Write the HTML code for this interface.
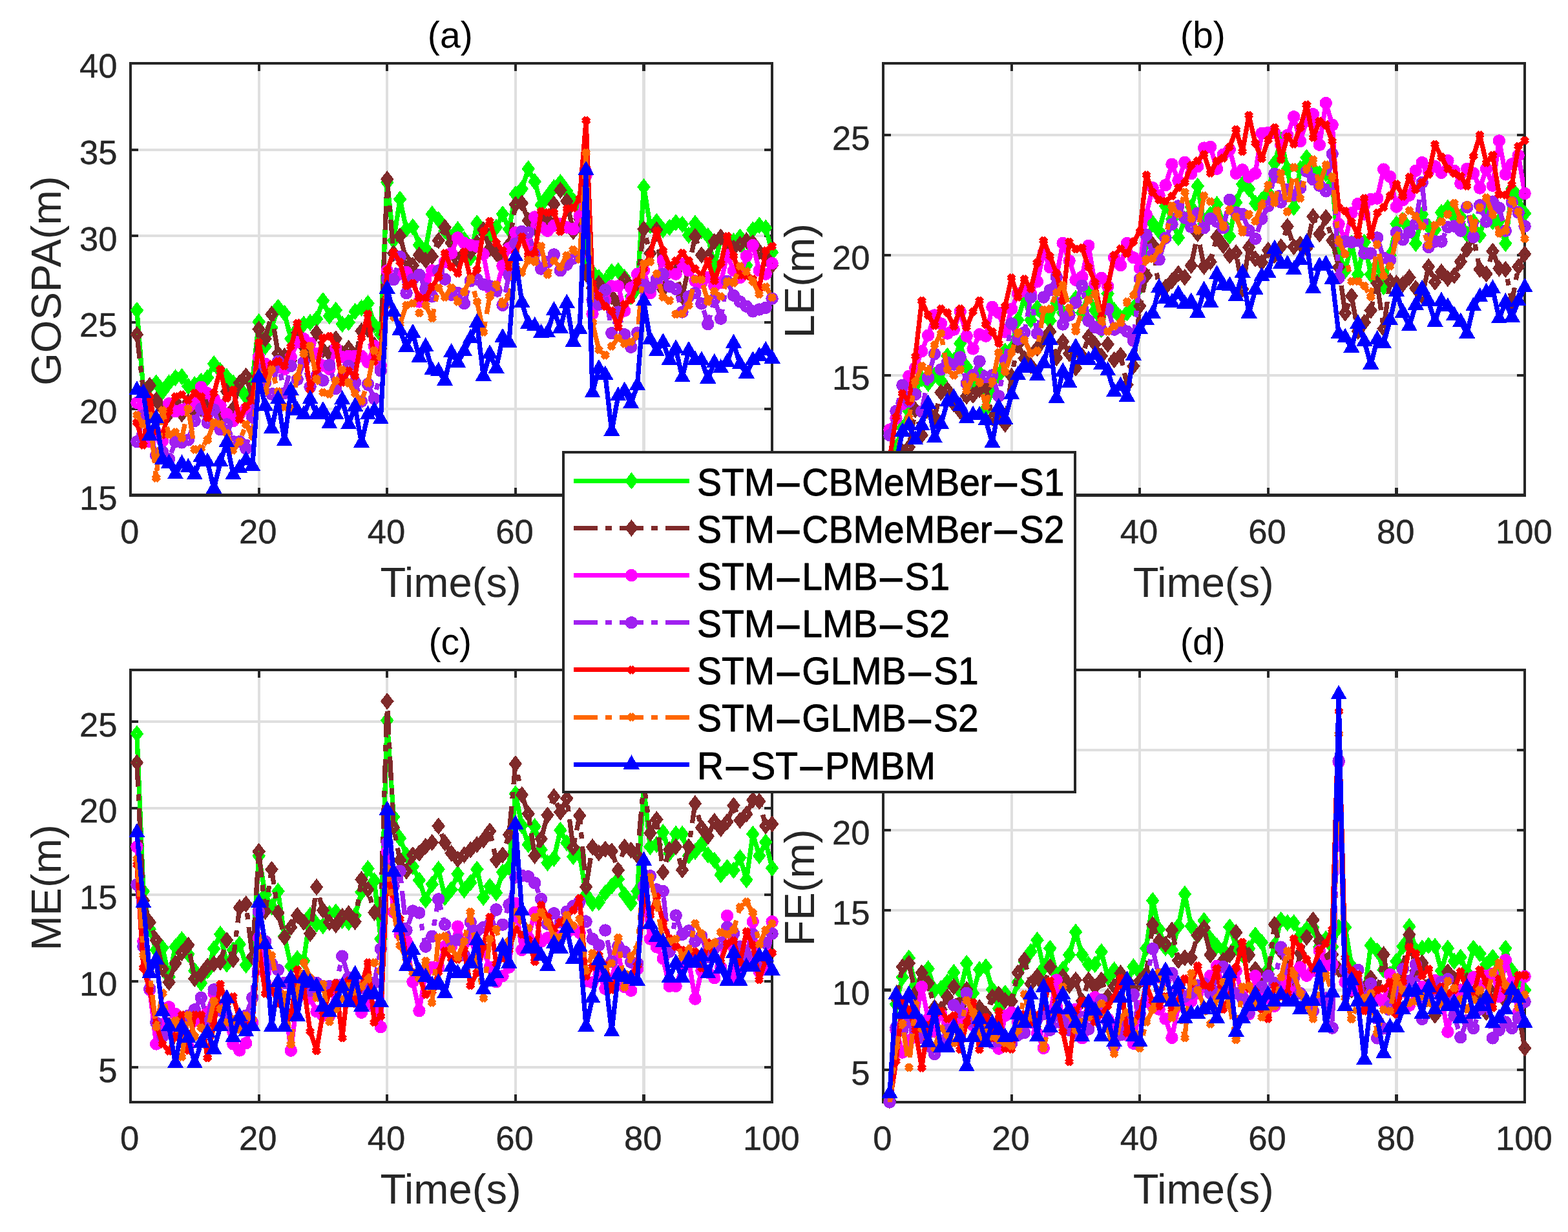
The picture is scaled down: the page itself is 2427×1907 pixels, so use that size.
<!DOCTYPE html>
<html lang="en">
<head>
<meta charset="utf-8">
<title>Tracking error comparison</title>
<style>html,body{margin:0;padding:0;background:#fff}body{width:2427px;height:1907px;overflow:hidden}svg{display:block}</style>
</head>
<body>
<svg width="2427" height="1907" viewBox="0 0 2427 1907" font-family='"Liberation Sans", sans-serif' shape-rendering="crispEdges">
<rect width="2427" height="1907" fill="#fff"/>
<defs>
<clipPath id="ca"><rect x="202" y="97.9" width="993.1" height="668.6"/></clipPath>
<clipPath id="cb"><rect x="1367.1" y="97.9" width="993" height="668.6"/></clipPath>
<clipPath id="cc"><rect x="202" y="1037.1" width="993.1" height="668.8"/></clipPath>
<clipPath id="cd"><rect x="1367.1" y="1037.1" width="993" height="668.8"/></clipPath>
</defs>
<g id="ax-a">
<path d="M400.6 97.9V766.5M599.2 97.9V766.5M797.9 97.9V766.5M996.5 97.9V766.5M202 632.8H1195.1M202 499.1H1195.1M202 365.3H1195.1M202 231.6H1195.1" stroke="#dfdfdf" stroke-width="4.1" fill="none"/>
<path d="M400.6 766.5v-12M400.6 97.9v12M599.2 766.5v-12M599.2 97.9v12M797.9 766.5v-12M797.9 97.9v12M996.5 766.5v-12M996.5 97.9v12M202 632.8h12M1195.1 632.8h-12M202 499.1h12M1195.1 499.1h-12M202 365.3h12M1195.1 365.3h-12M202 231.6h12M1195.1 231.6h-12" stroke="#262626" stroke-width="4.1" fill="none"/>
<rect x="202" y="97.9" width="993.1" height="668.6" fill="none" stroke="#262626" stroke-width="4.1"/>
<g fill="#262626" font-size="52.6" stroke="#262626" stroke-width="0.4">
<g text-anchor="middle">
<text x="200.7" y="841">0</text>
<text x="399.3" y="841">20</text>
<text x="597.9" y="841">40</text>
<text x="796.6" y="841">60</text>
<text x="995.2" y="841">80</text>
<text x="1193.8" y="841">100</text>
</g><g text-anchor="end">
<text x="181.5" y="788.8">15</text>
<text x="181.5" y="655.1">20</text>
<text x="181.5" y="521.4">25</text>
<text x="181.5" y="387.6">30</text>
<text x="181.5" y="253.9">35</text>
<text x="181.5" y="120.2">40</text>
</g></g>
<text x="697.6" y="923.8" font-size="65.1" fill="#262626" text-anchor="middle">Time(s)</text>
<text transform="translate(94.4 434.7) rotate(-90)" font-size="65.1" fill="#262626" text-anchor="middle">GOSPA(m)</text>
<text x="696.8" y="73.6" font-size="57.2" fill="#000" text-anchor="middle">(a)</text>
<path clip-path="url(#ca)" d="M211.9 480.3L221.9 603.4L231.8 598L241.7 592.7L251.7 606L261.6 592.7L271.5 584.6L281.4 583L291.4 598L301.3 595.3L311.2 590L321.2 584.6L331.1 563.2L341 573.9L351 583L360.9 592.7L370.8 600.7L380.8 614.1L390.7 590L400.6 498.3L410.6 536.5L420.5 507.1L430.4 475.8L440.3 484.9L450.3 524.5L460.2 509.8L470.1 501.7L480.1 499.1L490 493.7L499.9 465.4L509.9 489.2L519.8 480.1L529.7 501.7L539.7 499.1L549.6 482.2L559.5 476.6L569.4 469.6L579.4 503.3L589.3 517.8L599.2 282.4L609.2 372.3L619.1 308.4L629 354.6L639 351.2L648.9 379.2L658.8 384.9L668.8 331.4L678.7 339.9L688.6 357.3L698.5 368L708.5 355.4L718.4 370.7L728.3 399L738.3 345.5L748.2 360L758.1 365.3L768.1 352L778 331.4L787.9 354.6L797.9 300.6L807.8 292.3L817.7 261.3L827.7 281.1L837.6 317.2L847.5 303.8L857.4 290.5L867.4 282.4L877.3 295.8L887.2 310.5L897.2 322.5L907.1 400.1L917 421.5L927 429.5L936.9 434.9L946.8 420.7L956.8 419.4L966.7 429.5L976.6 458.9L986.5 445.6L996.5 289.4L1006.4 349.3L1016.3 343.1L1026.3 355.7L1036.2 352L1046.1 344.5L1056.1 347.2L1066 364L1075.9 345.8L1085.9 357.3L1095.8 365.3L1105.7 413.5L1115.7 368L1125.6 376L1135.5 373.4L1145.4 366.9L1155.4 410.8L1165.3 355.7L1175.2 348.8L1185.2 352.8L1195.1 390.7" fill="none" stroke="#00ff00" stroke-width="7.3" stroke-linejoin="round"/>
<path d="M211.93 467.04l10.3 13.3l-10.3 13.3l-10.3 -13.3zM211.93 479.29l-0.8 1.05l0.8 1.05l0.8 -1.05zM221.86 590.06l10.3 13.3l-10.3 13.3l-10.3 -13.3zM221.86 602.31l-0.8 1.05l0.8 1.05l0.8 -1.05zM231.79 584.71l10.3 13.3l-10.3 13.3l-10.3 -13.3zM231.79 596.96l-0.8 1.05l0.8 1.05l0.8 -1.05zM241.72 579.36l10.3 13.3l-10.3 13.3l-10.3 -13.3zM241.72 591.61l-0.8 1.05l0.8 1.05l0.8 -1.05zM251.66 592.74l10.3 13.3l-10.3 13.3l-10.3 -13.3zM251.66 604.99l-0.8 1.05l0.8 1.05l0.8 -1.05zM261.59 579.36l10.3 13.3l-10.3 13.3l-10.3 -13.3zM261.59 591.61l-0.8 1.05l0.8 1.05l0.8 -1.05zM271.52 571.34l10.3 13.3l-10.3 13.3l-10.3 -13.3zM271.52 583.59l-0.8 1.05l0.8 1.05l0.8 -1.05zM281.45 569.74l10.3 13.3l-10.3 13.3l-10.3 -13.3zM281.45 581.99l-0.8 1.05l0.8 1.05l0.8 -1.05zM291.38 584.71l10.3 13.3l-10.3 13.3l-10.3 -13.3zM291.38 596.96l-0.8 1.05l0.8 1.05l0.8 -1.05zM301.31 582.04l10.3 13.3l-10.3 13.3l-10.3 -13.3zM301.31 594.29l-0.8 1.05l0.8 1.05l0.8 -1.05zM311.24 576.69l10.3 13.3l-10.3 13.3l-10.3 -13.3zM311.24 588.94l-0.8 1.05l0.8 1.05l0.8 -1.05zM321.17 571.34l10.3 13.3l-10.3 13.3l-10.3 -13.3zM321.17 583.59l-0.8 1.05l0.8 1.05l0.8 -1.05zM331.1 549.95l10.3 13.3l-10.3 13.3l-10.3 -13.3zM331.1 562.2l-0.8 1.05l0.8 1.05l0.8 -1.05zM341.03 560.64l10.3 13.3l-10.3 13.3l-10.3 -13.3zM341.03 572.89l-0.8 1.05l0.8 1.05l0.8 -1.05zM350.96 569.74l10.3 13.3l-10.3 13.3l-10.3 -13.3zM350.96 581.99l-0.8 1.05l0.8 1.05l0.8 -1.05zM360.9 579.36l10.3 13.3l-10.3 13.3l-10.3 -13.3zM360.9 591.61l-0.8 1.05l0.8 1.05l0.8 -1.05zM370.83 587.39l10.3 13.3l-10.3 13.3l-10.3 -13.3zM370.83 599.64l-0.8 1.05l0.8 1.05l0.8 -1.05zM380.76 600.76l10.3 13.3l-10.3 13.3l-10.3 -13.3zM380.76 613.01l-0.8 1.05l0.8 1.05l0.8 -1.05zM390.69 576.69l10.3 13.3l-10.3 13.3l-10.3 -13.3zM390.69 588.94l-0.8 1.05l0.8 1.05l0.8 -1.05zM400.62 484.96l10.3 13.3l-10.3 13.3l-10.3 -13.3zM400.62 497.21l-0.8 1.05l0.8 1.05l0.8 -1.05zM410.55 523.2l10.3 13.3l-10.3 13.3l-10.3 -13.3zM410.55 535.45l-0.8 1.05l0.8 1.05l0.8 -1.05zM420.48 493.78l10.3 13.3l-10.3 13.3l-10.3 -13.3zM420.48 506.03l-0.8 1.05l0.8 1.05l0.8 -1.05zM430.41 462.49l10.3 13.3l-10.3 13.3l-10.3 -13.3zM430.41 474.74l-0.8 1.05l0.8 1.05l0.8 -1.05zM440.34 471.59l10.3 13.3l-10.3 13.3l-10.3 -13.3zM440.34 483.84l-0.8 1.05l0.8 1.05l0.8 -1.05zM450.27 511.17l10.3 13.3l-10.3 13.3l-10.3 -13.3zM450.27 523.42l-0.8 1.05l0.8 1.05l0.8 -1.05zM460.21 496.46l10.3 13.3l-10.3 13.3l-10.3 -13.3zM460.21 508.71l-0.8 1.05l0.8 1.05l0.8 -1.05zM470.14 488.43l10.3 13.3l-10.3 13.3l-10.3 -13.3zM470.14 500.68l-0.8 1.05l0.8 1.05l0.8 -1.05zM480.07 485.76l10.3 13.3l-10.3 13.3l-10.3 -13.3zM480.07 498.01l-0.8 1.05l0.8 1.05l0.8 -1.05zM490 480.41l10.3 13.3l-10.3 13.3l-10.3 -13.3zM490 492.66l-0.8 1.05l0.8 1.05l0.8 -1.05zM499.93 452.06l10.3 13.3l-10.3 13.3l-10.3 -13.3zM499.93 464.31l-0.8 1.05l0.8 1.05l0.8 -1.05zM509.86 475.86l10.3 13.3l-10.3 13.3l-10.3 -13.3zM509.86 488.11l-0.8 1.05l0.8 1.05l0.8 -1.05zM519.79 466.77l10.3 13.3l-10.3 13.3l-10.3 -13.3zM519.79 479.02l-0.8 1.05l0.8 1.05l0.8 -1.05zM529.72 488.43l10.3 13.3l-10.3 13.3l-10.3 -13.3zM529.72 500.68l-0.8 1.05l0.8 1.05l0.8 -1.05zM539.65 485.76l10.3 13.3l-10.3 13.3l-10.3 -13.3zM539.65 498.01l-0.8 1.05l0.8 1.05l0.8 -1.05zM549.59 468.91l10.3 13.3l-10.3 13.3l-10.3 -13.3zM549.59 481.16l-0.8 1.05l0.8 1.05l0.8 -1.05zM559.52 463.3l10.3 13.3l-10.3 13.3l-10.3 -13.3zM559.52 475.55l-0.8 1.05l0.8 1.05l0.8 -1.05zM569.45 456.34l10.3 13.3l-10.3 13.3l-10.3 -13.3zM569.45 468.59l-0.8 1.05l0.8 1.05l0.8 -1.05zM579.38 490.04l10.3 13.3l-10.3 13.3l-10.3 -13.3zM579.38 502.29l-0.8 1.05l0.8 1.05l0.8 -1.05zM589.31 504.48l10.3 13.3l-10.3 13.3l-10.3 -13.3zM589.31 516.73l-0.8 1.05l0.8 1.05l0.8 -1.05zM599.24 269.13l10.3 13.3l-10.3 13.3l-10.3 -13.3zM599.24 281.38l-0.8 1.05l0.8 1.05l0.8 -1.05zM609.17 358.99l10.3 13.3l-10.3 13.3l-10.3 -13.3zM609.17 371.24l-0.8 1.05l0.8 1.05l0.8 -1.05zM619.1 295.08l10.3 13.3l-10.3 13.3l-10.3 -13.3zM619.1 307.33l-0.8 1.05l0.8 1.05l0.8 -1.05zM629.03 341.34l10.3 13.3l-10.3 13.3l-10.3 -13.3zM629.03 353.59l-0.8 1.05l0.8 1.05l0.8 -1.05zM638.96 337.87l10.3 13.3l-10.3 13.3l-10.3 -13.3zM638.96 350.12l-0.8 1.05l0.8 1.05l0.8 -1.05zM648.89 365.95l10.3 13.3l-10.3 13.3l-10.3 -13.3zM648.89 378.2l-0.8 1.05l0.8 1.05l0.8 -1.05zM658.83 371.56l10.3 13.3l-10.3 13.3l-10.3 -13.3zM658.83 383.81l-0.8 1.05l0.8 1.05l0.8 -1.05zM668.76 318.08l10.3 13.3l-10.3 13.3l-10.3 -13.3zM668.76 330.33l-0.8 1.05l0.8 1.05l0.8 -1.05zM678.69 326.63l10.3 13.3l-10.3 13.3l-10.3 -13.3zM678.69 338.88l-0.8 1.05l0.8 1.05l0.8 -1.05zM688.62 344.02l10.3 13.3l-10.3 13.3l-10.3 -13.3zM688.62 356.27l-0.8 1.05l0.8 1.05l0.8 -1.05zM698.55 354.71l10.3 13.3l-10.3 13.3l-10.3 -13.3zM698.55 366.96l-0.8 1.05l0.8 1.05l0.8 -1.05zM708.48 342.14l10.3 13.3l-10.3 13.3l-10.3 -13.3zM708.48 354.39l-0.8 1.05l0.8 1.05l0.8 -1.05zM718.41 357.39l10.3 13.3l-10.3 13.3l-10.3 -13.3zM718.41 369.64l-0.8 1.05l0.8 1.05l0.8 -1.05zM728.34 385.74l10.3 13.3l-10.3 13.3l-10.3 -13.3zM728.34 397.99l-0.8 1.05l0.8 1.05l0.8 -1.05zM738.27 332.25l10.3 13.3l-10.3 13.3l-10.3 -13.3zM738.27 344.5l-0.8 1.05l0.8 1.05l0.8 -1.05zM748.2 346.69l10.3 13.3l-10.3 13.3l-10.3 -13.3zM748.2 358.94l-0.8 1.05l0.8 1.05l0.8 -1.05zM758.14 352.04l10.3 13.3l-10.3 13.3l-10.3 -13.3zM758.14 364.29l-0.8 1.05l0.8 1.05l0.8 -1.05zM768.07 338.67l10.3 13.3l-10.3 13.3l-10.3 -13.3zM768.07 350.92l-0.8 1.05l0.8 1.05l0.8 -1.05zM778 318.08l10.3 13.3l-10.3 13.3l-10.3 -13.3zM778 330.33l-0.8 1.05l0.8 1.05l0.8 -1.05zM787.93 341.34l10.3 13.3l-10.3 13.3l-10.3 -13.3zM787.93 353.59l-0.8 1.05l0.8 1.05l0.8 -1.05zM797.86 287.32l10.3 13.3l-10.3 13.3l-10.3 -13.3zM797.86 299.57l-0.8 1.05l0.8 1.05l0.8 -1.05zM807.79 279.03l10.3 13.3l-10.3 13.3l-10.3 -13.3zM807.79 291.28l-0.8 1.05l0.8 1.05l0.8 -1.05zM817.72 248.01l10.3 13.3l-10.3 13.3l-10.3 -13.3zM817.72 260.26l-0.8 1.05l0.8 1.05l0.8 -1.05zM827.65 267.8l10.3 13.3l-10.3 13.3l-10.3 -13.3zM827.65 280.05l-0.8 1.05l0.8 1.05l0.8 -1.05zM837.58 303.9l10.3 13.3l-10.3 13.3l-10.3 -13.3zM837.58 316.15l-0.8 1.05l0.8 1.05l0.8 -1.05zM847.51 290.53l10.3 13.3l-10.3 13.3l-10.3 -13.3zM847.51 302.78l-0.8 1.05l0.8 1.05l0.8 -1.05zM857.45 277.16l10.3 13.3l-10.3 13.3l-10.3 -13.3zM857.45 289.41l-0.8 1.05l0.8 1.05l0.8 -1.05zM867.38 269.13l10.3 13.3l-10.3 13.3l-10.3 -13.3zM867.38 281.38l-0.8 1.05l0.8 1.05l0.8 -1.05zM877.31 282.51l10.3 13.3l-10.3 13.3l-10.3 -13.3zM877.31 294.76l-0.8 1.05l0.8 1.05l0.8 -1.05zM887.24 297.21l10.3 13.3l-10.3 13.3l-10.3 -13.3zM887.24 309.46l-0.8 1.05l0.8 1.05l0.8 -1.05zM897.17 309.25l10.3 13.3l-10.3 13.3l-10.3 -13.3zM897.17 321.5l-0.8 1.05l0.8 1.05l0.8 -1.05zM907.1 386.81l10.3 13.3l-10.3 13.3l-10.3 -13.3zM907.1 399.06l-0.8 1.05l0.8 1.05l0.8 -1.05zM917.03 408.2l10.3 13.3l-10.3 13.3l-10.3 -13.3zM917.03 420.45l-0.8 1.05l0.8 1.05l0.8 -1.05zM926.96 416.23l10.3 13.3l-10.3 13.3l-10.3 -13.3zM926.96 428.48l-0.8 1.05l0.8 1.05l0.8 -1.05zM936.89 421.57l10.3 13.3l-10.3 13.3l-10.3 -13.3zM936.89 433.82l-0.8 1.05l0.8 1.05l0.8 -1.05zM946.83 407.4l10.3 13.3l-10.3 13.3l-10.3 -13.3zM946.83 419.65l-0.8 1.05l0.8 1.05l0.8 -1.05zM956.76 406.06l10.3 13.3l-10.3 13.3l-10.3 -13.3zM956.76 418.31l-0.8 1.05l0.8 1.05l0.8 -1.05zM966.69 416.23l10.3 13.3l-10.3 13.3l-10.3 -13.3zM966.69 428.48l-0.8 1.05l0.8 1.05l0.8 -1.05zM976.62 445.64l10.3 13.3l-10.3 13.3l-10.3 -13.3zM976.62 457.89l-0.8 1.05l0.8 1.05l0.8 -1.05zM986.55 432.27l10.3 13.3l-10.3 13.3l-10.3 -13.3zM986.55 444.52l-0.8 1.05l0.8 1.05l0.8 -1.05zM996.48 276.09l10.3 13.3l-10.3 13.3l-10.3 -13.3zM996.48 288.34l-0.8 1.05l0.8 1.05l0.8 -1.05zM1006.41 335.99l10.3 13.3l-10.3 13.3l-10.3 -13.3zM1006.41 348.24l-0.8 1.05l0.8 1.05l0.8 -1.05zM1016.34 329.84l10.3 13.3l-10.3 13.3l-10.3 -13.3zM1016.34 342.09l-0.8 1.05l0.8 1.05l0.8 -1.05zM1026.27 342.41l10.3 13.3l-10.3 13.3l-10.3 -13.3zM1026.27 354.66l-0.8 1.05l0.8 1.05l0.8 -1.05zM1036.2 338.67l10.3 13.3l-10.3 13.3l-10.3 -13.3zM1036.2 350.92l-0.8 1.05l0.8 1.05l0.8 -1.05zM1046.13 331.18l10.3 13.3l-10.3 13.3l-10.3 -13.3zM1046.13 343.43l-0.8 1.05l0.8 1.05l0.8 -1.05zM1056.07 333.85l10.3 13.3l-10.3 13.3l-10.3 -13.3zM1056.07 346.1l-0.8 1.05l0.8 1.05l0.8 -1.05zM1066 350.7l10.3 13.3l-10.3 13.3l-10.3 -13.3zM1066 362.95l-0.8 1.05l0.8 1.05l0.8 -1.05zM1075.93 332.52l10.3 13.3l-10.3 13.3l-10.3 -13.3zM1075.93 344.77l-0.8 1.05l0.8 1.05l0.8 -1.05zM1085.86 344.02l10.3 13.3l-10.3 13.3l-10.3 -13.3zM1085.86 356.27l-0.8 1.05l0.8 1.05l0.8 -1.05zM1095.79 352.04l10.3 13.3l-10.3 13.3l-10.3 -13.3zM1095.79 364.29l-0.8 1.05l0.8 1.05l0.8 -1.05zM1105.72 400.18l10.3 13.3l-10.3 13.3l-10.3 -13.3zM1105.72 412.43l-0.8 1.05l0.8 1.05l0.8 -1.05zM1115.65 354.71l10.3 13.3l-10.3 13.3l-10.3 -13.3zM1115.65 366.96l-0.8 1.05l0.8 1.05l0.8 -1.05zM1125.58 362.74l10.3 13.3l-10.3 13.3l-10.3 -13.3zM1125.58 374.99l-0.8 1.05l0.8 1.05l0.8 -1.05zM1135.51 360.06l10.3 13.3l-10.3 13.3l-10.3 -13.3zM1135.51 372.31l-0.8 1.05l0.8 1.05l0.8 -1.05zM1145.44 353.64l10.3 13.3l-10.3 13.3l-10.3 -13.3zM1145.44 365.89l-0.8 1.05l0.8 1.05l0.8 -1.05zM1155.38 397.5l10.3 13.3l-10.3 13.3l-10.3 -13.3zM1155.38 409.75l-0.8 1.05l0.8 1.05l0.8 -1.05zM1165.31 342.41l10.3 13.3l-10.3 13.3l-10.3 -13.3zM1165.31 354.66l-0.8 1.05l0.8 1.05l0.8 -1.05zM1175.24 335.46l10.3 13.3l-10.3 13.3l-10.3 -13.3zM1175.24 347.71l-0.8 1.05l0.8 1.05l0.8 -1.05zM1185.17 339.47l10.3 13.3l-10.3 13.3l-10.3 -13.3zM1185.17 351.72l-0.8 1.05l0.8 1.05l0.8 -1.05zM1195.1 377.45l10.3 13.3l-10.3 13.3l-10.3 -13.3zM1195.1 389.7l-0.8 1.05l0.8 1.05l0.8 -1.05z" fill="#00ff00" fill-rule="nonzero"/>
<path clip-path="url(#ca)" d="M211.9 517.8L221.9 606L231.8 596.7L241.7 619.4L251.7 632.8L261.6 640.8L271.5 622.1L281.4 640.8L291.4 622.1L301.3 638.1L311.2 632.8L321.2 624.8L331.1 627.4L341 643.5L351 606L360.9 632.8L370.8 592.7L380.8 582L390.7 616.7L400.6 509.5L410.6 524.5L420.5 486.5L430.4 547.2L440.3 551.2L450.3 557.9L460.2 515.1L470.1 536.5L480.1 547.2L490 515.1L499.9 541.9L509.9 547.2L519.8 524.5L529.7 547.2L539.7 539.2L549.6 552.5L559.5 512.4L569.4 509.8L579.4 533.8L589.3 539.2L599.2 277.4L609.2 392.1L619.1 365.3L629 402.8L639 410.8L648.9 394.8L658.8 402.8L668.8 396.9L678.7 372.3L688.6 352L698.5 376L708.5 402.8L718.4 392.1L728.3 390.5L738.3 376L748.2 355.4L758.1 384.9L768.1 392.1L778 402.8L787.9 378.7L797.9 316.7L807.8 314.5L817.7 341.3L827.7 352L837.6 338.6L847.5 339.9L857.4 316.1L867.4 294.5L877.3 311.3L887.2 358.4L897.2 338.6L907.1 424.2L917 445.6L927 438.9L936.9 456.3L946.8 458.9L956.8 469.6L966.7 432.2L976.6 445.6L986.5 437.5L996.5 354.6L1006.4 392.1L1016.3 355.7L1026.3 448.2L1036.2 418.8L1046.1 420.4L1056.1 458.9L1066 413.5L1075.9 366.1L1085.9 394.8L1095.8 397.4L1105.7 373.9L1115.7 366.9L1125.6 376L1135.5 384.1L1145.4 378.2L1155.4 372.6L1165.3 376L1175.2 389.4L1185.2 397.4L1195.1 410.8" fill="none" stroke="#7f2a2a" stroke-width="7.3" stroke-linejoin="round" stroke-dasharray="37 12 10 12"/>
<path d="M211.93 504.48l10.3 13.3l-10.3 13.3l-10.3 -13.3zM211.93 516.73l-0.8 1.05l0.8 1.05l0.8 -1.05zM221.86 592.74l10.3 13.3l-10.3 13.3l-10.3 -13.3zM221.86 604.99l-0.8 1.05l0.8 1.05l0.8 -1.05zM231.79 583.38l10.3 13.3l-10.3 13.3l-10.3 -13.3zM231.79 595.63l-0.8 1.05l0.8 1.05l0.8 -1.05zM241.72 606.11l10.3 13.3l-10.3 13.3l-10.3 -13.3zM241.72 618.36l-0.8 1.05l0.8 1.05l0.8 -1.05zM251.66 619.48l10.3 13.3l-10.3 13.3l-10.3 -13.3zM251.66 631.73l-0.8 1.05l0.8 1.05l0.8 -1.05zM261.59 627.5l10.3 13.3l-10.3 13.3l-10.3 -13.3zM261.59 639.75l-0.8 1.05l0.8 1.05l0.8 -1.05zM271.52 608.78l10.3 13.3l-10.3 13.3l-10.3 -13.3zM271.52 621.03l-0.8 1.05l0.8 1.05l0.8 -1.05zM281.45 627.5l10.3 13.3l-10.3 13.3l-10.3 -13.3zM281.45 639.75l-0.8 1.05l0.8 1.05l0.8 -1.05zM291.38 608.78l10.3 13.3l-10.3 13.3l-10.3 -13.3zM291.38 621.03l-0.8 1.05l0.8 1.05l0.8 -1.05zM301.31 624.83l10.3 13.3l-10.3 13.3l-10.3 -13.3zM301.31 637.08l-0.8 1.05l0.8 1.05l0.8 -1.05zM311.24 619.48l10.3 13.3l-10.3 13.3l-10.3 -13.3zM311.24 631.73l-0.8 1.05l0.8 1.05l0.8 -1.05zM321.17 611.46l10.3 13.3l-10.3 13.3l-10.3 -13.3zM321.17 623.71l-0.8 1.05l0.8 1.05l0.8 -1.05zM331.1 614.13l10.3 13.3l-10.3 13.3l-10.3 -13.3zM331.1 626.38l-0.8 1.05l0.8 1.05l0.8 -1.05zM341.03 630.18l10.3 13.3l-10.3 13.3l-10.3 -13.3zM341.03 642.43l-0.8 1.05l0.8 1.05l0.8 -1.05zM350.96 592.74l10.3 13.3l-10.3 13.3l-10.3 -13.3zM350.96 604.99l-0.8 1.05l0.8 1.05l0.8 -1.05zM360.9 619.48l10.3 13.3l-10.3 13.3l-10.3 -13.3zM360.9 631.73l-0.8 1.05l0.8 1.05l0.8 -1.05zM370.83 579.36l10.3 13.3l-10.3 13.3l-10.3 -13.3zM370.83 591.61l-0.8 1.05l0.8 1.05l0.8 -1.05zM380.76 568.67l10.3 13.3l-10.3 13.3l-10.3 -13.3zM380.76 580.92l-0.8 1.05l0.8 1.05l0.8 -1.05zM390.69 603.43l10.3 13.3l-10.3 13.3l-10.3 -13.3zM390.69 615.68l-0.8 1.05l0.8 1.05l0.8 -1.05zM400.62 496.19l10.3 13.3l-10.3 13.3l-10.3 -13.3zM400.62 508.44l-0.8 1.05l0.8 1.05l0.8 -1.05zM410.55 511.17l10.3 13.3l-10.3 13.3l-10.3 -13.3zM410.55 523.42l-0.8 1.05l0.8 1.05l0.8 -1.05zM420.48 473.19l10.3 13.3l-10.3 13.3l-10.3 -13.3zM420.48 485.44l-0.8 1.05l0.8 1.05l0.8 -1.05zM430.41 533.9l10.3 13.3l-10.3 13.3l-10.3 -13.3zM430.41 546.15l-0.8 1.05l0.8 1.05l0.8 -1.05zM440.34 537.91l10.3 13.3l-10.3 13.3l-10.3 -13.3zM440.34 550.16l-0.8 1.05l0.8 1.05l0.8 -1.05zM450.27 544.6l10.3 13.3l-10.3 13.3l-10.3 -13.3zM450.27 556.85l-0.8 1.05l0.8 1.05l0.8 -1.05zM460.21 501.81l10.3 13.3l-10.3 13.3l-10.3 -13.3zM460.21 514.06l-0.8 1.05l0.8 1.05l0.8 -1.05zM470.14 523.2l10.3 13.3l-10.3 13.3l-10.3 -13.3zM470.14 535.45l-0.8 1.05l0.8 1.05l0.8 -1.05zM480.07 533.9l10.3 13.3l-10.3 13.3l-10.3 -13.3zM480.07 546.15l-0.8 1.05l0.8 1.05l0.8 -1.05zM490 501.81l10.3 13.3l-10.3 13.3l-10.3 -13.3zM490 514.06l-0.8 1.05l0.8 1.05l0.8 -1.05zM499.93 528.55l10.3 13.3l-10.3 13.3l-10.3 -13.3zM499.93 540.8l-0.8 1.05l0.8 1.05l0.8 -1.05zM509.86 533.9l10.3 13.3l-10.3 13.3l-10.3 -13.3zM509.86 546.15l-0.8 1.05l0.8 1.05l0.8 -1.05zM519.79 511.17l10.3 13.3l-10.3 13.3l-10.3 -13.3zM519.79 523.42l-0.8 1.05l0.8 1.05l0.8 -1.05zM529.72 533.9l10.3 13.3l-10.3 13.3l-10.3 -13.3zM529.72 546.15l-0.8 1.05l0.8 1.05l0.8 -1.05zM539.65 525.88l10.3 13.3l-10.3 13.3l-10.3 -13.3zM539.65 538.13l-0.8 1.05l0.8 1.05l0.8 -1.05zM549.59 539.25l10.3 13.3l-10.3 13.3l-10.3 -13.3zM549.59 551.5l-0.8 1.05l0.8 1.05l0.8 -1.05zM559.52 499.13l10.3 13.3l-10.3 13.3l-10.3 -13.3zM559.52 511.38l-0.8 1.05l0.8 1.05l0.8 -1.05zM569.45 496.46l10.3 13.3l-10.3 13.3l-10.3 -13.3zM569.45 508.71l-0.8 1.05l0.8 1.05l0.8 -1.05zM579.38 520.53l10.3 13.3l-10.3 13.3l-10.3 -13.3zM579.38 532.78l-0.8 1.05l0.8 1.05l0.8 -1.05zM589.31 525.88l10.3 13.3l-10.3 13.3l-10.3 -13.3zM589.31 538.13l-0.8 1.05l0.8 1.05l0.8 -1.05zM599.24 264.05l10.3 13.3l-10.3 13.3l-10.3 -13.3zM599.24 276.3l-0.8 1.05l0.8 1.05l0.8 -1.05zM609.17 378.78l10.3 13.3l-10.3 13.3l-10.3 -13.3zM609.17 391.03l-0.8 1.05l0.8 1.05l0.8 -1.05zM619.1 352.04l10.3 13.3l-10.3 13.3l-10.3 -13.3zM619.1 364.29l-0.8 1.05l0.8 1.05l0.8 -1.05zM629.03 389.48l10.3 13.3l-10.3 13.3l-10.3 -13.3zM629.03 401.73l-0.8 1.05l0.8 1.05l0.8 -1.05zM638.96 397.5l10.3 13.3l-10.3 13.3l-10.3 -13.3zM638.96 409.75l-0.8 1.05l0.8 1.05l0.8 -1.05zM648.89 381.46l10.3 13.3l-10.3 13.3l-10.3 -13.3zM648.89 393.71l-0.8 1.05l0.8 1.05l0.8 -1.05zM658.83 389.48l10.3 13.3l-10.3 13.3l-10.3 -13.3zM658.83 401.73l-0.8 1.05l0.8 1.05l0.8 -1.05zM668.76 383.6l10.3 13.3l-10.3 13.3l-10.3 -13.3zM668.76 395.85l-0.8 1.05l0.8 1.05l0.8 -1.05zM678.69 358.99l10.3 13.3l-10.3 13.3l-10.3 -13.3zM678.69 371.24l-0.8 1.05l0.8 1.05l0.8 -1.05zM688.62 338.67l10.3 13.3l-10.3 13.3l-10.3 -13.3zM688.62 350.92l-0.8 1.05l0.8 1.05l0.8 -1.05zM698.55 362.74l10.3 13.3l-10.3 13.3l-10.3 -13.3zM698.55 374.99l-0.8 1.05l0.8 1.05l0.8 -1.05zM708.48 389.48l10.3 13.3l-10.3 13.3l-10.3 -13.3zM708.48 401.73l-0.8 1.05l0.8 1.05l0.8 -1.05zM718.41 378.78l10.3 13.3l-10.3 13.3l-10.3 -13.3zM718.41 391.03l-0.8 1.05l0.8 1.05l0.8 -1.05zM728.34 377.18l10.3 13.3l-10.3 13.3l-10.3 -13.3zM728.34 389.43l-0.8 1.05l0.8 1.05l0.8 -1.05zM738.27 362.74l10.3 13.3l-10.3 13.3l-10.3 -13.3zM738.27 374.99l-0.8 1.05l0.8 1.05l0.8 -1.05zM748.2 342.14l10.3 13.3l-10.3 13.3l-10.3 -13.3zM748.2 354.39l-0.8 1.05l0.8 1.05l0.8 -1.05zM758.14 371.56l10.3 13.3l-10.3 13.3l-10.3 -13.3zM758.14 383.81l-0.8 1.05l0.8 1.05l0.8 -1.05zM768.07 378.78l10.3 13.3l-10.3 13.3l-10.3 -13.3zM768.07 391.03l-0.8 1.05l0.8 1.05l0.8 -1.05zM778 389.48l10.3 13.3l-10.3 13.3l-10.3 -13.3zM778 401.73l-0.8 1.05l0.8 1.05l0.8 -1.05zM787.93 365.41l10.3 13.3l-10.3 13.3l-10.3 -13.3zM787.93 377.66l-0.8 1.05l0.8 1.05l0.8 -1.05zM797.86 303.37l10.3 13.3l-10.3 13.3l-10.3 -13.3zM797.86 315.62l-0.8 1.05l0.8 1.05l0.8 -1.05zM807.79 301.23l10.3 13.3l-10.3 13.3l-10.3 -13.3zM807.79 313.48l-0.8 1.05l0.8 1.05l0.8 -1.05zM817.72 327.97l10.3 13.3l-10.3 13.3l-10.3 -13.3zM817.72 340.22l-0.8 1.05l0.8 1.05l0.8 -1.05zM827.65 338.67l10.3 13.3l-10.3 13.3l-10.3 -13.3zM827.65 350.92l-0.8 1.05l0.8 1.05l0.8 -1.05zM837.58 325.3l10.3 13.3l-10.3 13.3l-10.3 -13.3zM837.58 337.55l-0.8 1.05l0.8 1.05l0.8 -1.05zM847.51 326.63l10.3 13.3l-10.3 13.3l-10.3 -13.3zM847.51 338.88l-0.8 1.05l0.8 1.05l0.8 -1.05zM857.45 302.83l10.3 13.3l-10.3 13.3l-10.3 -13.3zM857.45 315.08l-0.8 1.05l0.8 1.05l0.8 -1.05zM867.38 281.17l10.3 13.3l-10.3 13.3l-10.3 -13.3zM867.38 293.42l-0.8 1.05l0.8 1.05l0.8 -1.05zM877.31 298.02l10.3 13.3l-10.3 13.3l-10.3 -13.3zM877.31 310.27l-0.8 1.05l0.8 1.05l0.8 -1.05zM887.24 345.09l10.3 13.3l-10.3 13.3l-10.3 -13.3zM887.24 357.34l-0.8 1.05l0.8 1.05l0.8 -1.05zM897.17 325.3l10.3 13.3l-10.3 13.3l-10.3 -13.3zM897.17 337.55l-0.8 1.05l0.8 1.05l0.8 -1.05zM907.1 410.88l10.3 13.3l-10.3 13.3l-10.3 -13.3zM907.1 423.13l-0.8 1.05l0.8 1.05l0.8 -1.05zM917.03 432.27l10.3 13.3l-10.3 13.3l-10.3 -13.3zM917.03 444.52l-0.8 1.05l0.8 1.05l0.8 -1.05zM926.96 425.59l10.3 13.3l-10.3 13.3l-10.3 -13.3zM926.96 437.84l-0.8 1.05l0.8 1.05l0.8 -1.05zM936.89 442.97l10.3 13.3l-10.3 13.3l-10.3 -13.3zM936.89 455.22l-0.8 1.05l0.8 1.05l0.8 -1.05zM946.83 445.64l10.3 13.3l-10.3 13.3l-10.3 -13.3zM946.83 457.89l-0.8 1.05l0.8 1.05l0.8 -1.05zM956.76 456.34l10.3 13.3l-10.3 13.3l-10.3 -13.3zM956.76 468.59l-0.8 1.05l0.8 1.05l0.8 -1.05zM966.69 418.9l10.3 13.3l-10.3 13.3l-10.3 -13.3zM966.69 431.15l-0.8 1.05l0.8 1.05l0.8 -1.05zM976.62 432.27l10.3 13.3l-10.3 13.3l-10.3 -13.3zM976.62 444.52l-0.8 1.05l0.8 1.05l0.8 -1.05zM986.55 424.25l10.3 13.3l-10.3 13.3l-10.3 -13.3zM986.55 436.5l-0.8 1.05l0.8 1.05l0.8 -1.05zM996.48 341.34l10.3 13.3l-10.3 13.3l-10.3 -13.3zM996.48 353.59l-0.8 1.05l0.8 1.05l0.8 -1.05zM1006.41 378.78l10.3 13.3l-10.3 13.3l-10.3 -13.3zM1006.41 391.03l-0.8 1.05l0.8 1.05l0.8 -1.05zM1016.34 342.41l10.3 13.3l-10.3 13.3l-10.3 -13.3zM1016.34 354.66l-0.8 1.05l0.8 1.05l0.8 -1.05zM1026.27 434.95l10.3 13.3l-10.3 13.3l-10.3 -13.3zM1026.27 447.2l-0.8 1.05l0.8 1.05l0.8 -1.05zM1036.2 405.53l10.3 13.3l-10.3 13.3l-10.3 -13.3zM1036.2 417.78l-0.8 1.05l0.8 1.05l0.8 -1.05zM1046.13 407.13l10.3 13.3l-10.3 13.3l-10.3 -13.3zM1046.13 419.38l-0.8 1.05l0.8 1.05l0.8 -1.05zM1056.07 445.64l10.3 13.3l-10.3 13.3l-10.3 -13.3zM1056.07 457.89l-0.8 1.05l0.8 1.05l0.8 -1.05zM1066 400.18l10.3 13.3l-10.3 13.3l-10.3 -13.3zM1066 412.43l-0.8 1.05l0.8 1.05l0.8 -1.05zM1075.93 352.84l10.3 13.3l-10.3 13.3l-10.3 -13.3zM1075.93 365.09l-0.8 1.05l0.8 1.05l0.8 -1.05zM1085.86 381.46l10.3 13.3l-10.3 13.3l-10.3 -13.3zM1085.86 393.71l-0.8 1.05l0.8 1.05l0.8 -1.05zM1095.79 384.13l10.3 13.3l-10.3 13.3l-10.3 -13.3zM1095.79 396.38l-0.8 1.05l0.8 1.05l0.8 -1.05zM1105.72 360.6l10.3 13.3l-10.3 13.3l-10.3 -13.3zM1105.72 372.85l-0.8 1.05l0.8 1.05l0.8 -1.05zM1115.65 353.64l10.3 13.3l-10.3 13.3l-10.3 -13.3zM1115.65 365.89l-0.8 1.05l0.8 1.05l0.8 -1.05zM1125.58 362.74l10.3 13.3l-10.3 13.3l-10.3 -13.3zM1125.58 374.99l-0.8 1.05l0.8 1.05l0.8 -1.05zM1135.51 370.76l10.3 13.3l-10.3 13.3l-10.3 -13.3zM1135.51 383.01l-0.8 1.05l0.8 1.05l0.8 -1.05zM1145.44 364.88l10.3 13.3l-10.3 13.3l-10.3 -13.3zM1145.44 377.13l-0.8 1.05l0.8 1.05l0.8 -1.05zM1155.38 359.26l10.3 13.3l-10.3 13.3l-10.3 -13.3zM1155.38 371.51l-0.8 1.05l0.8 1.05l0.8 -1.05zM1165.31 362.74l10.3 13.3l-10.3 13.3l-10.3 -13.3zM1165.31 374.99l-0.8 1.05l0.8 1.05l0.8 -1.05zM1175.24 376.11l10.3 13.3l-10.3 13.3l-10.3 -13.3zM1175.24 388.36l-0.8 1.05l0.8 1.05l0.8 -1.05zM1185.17 384.13l10.3 13.3l-10.3 13.3l-10.3 -13.3zM1185.17 396.38l-0.8 1.05l0.8 1.05l0.8 -1.05zM1195.1 397.5l10.3 13.3l-10.3 13.3l-10.3 -13.3zM1195.1 409.75l-0.8 1.05l0.8 1.05l0.8 -1.05z" fill="#7f2a2a" fill-rule="nonzero"/>
<path clip-path="url(#ca)" d="M211.9 623.4L221.9 638.1L231.8 683.6L241.7 670.2L251.7 682.3L261.6 624.8L271.5 636.8L281.4 634.1L291.4 630.1L301.3 624.8L311.2 599.4L321.2 608.7L331.1 616.7L341 627.4L351 640.8L360.9 651.5L370.8 640.8L380.8 632.8L390.7 640.8L400.6 552.5L410.6 563.2L420.5 571.3L430.4 568.6L440.3 571.3L450.3 552.5L460.2 529.8L470.1 524.5L480.1 531.2L490 547.2L499.9 565.9L509.9 571.3L519.8 539.2L529.7 552.5L539.7 551.2L549.6 551.2L559.5 551.2L569.4 560.6L579.4 535.7L589.3 565.9L599.2 418.8L609.2 432.2L619.1 424.2L629 421.5L639 432.2L648.9 467L658.8 432.2L668.8 418.8L678.7 418.8L688.6 405.5L698.5 392.1L708.5 368L718.4 376L728.3 379.2L738.3 381.4L748.2 393.4L758.1 445.6L768.1 448.2L778 411.6L787.9 384.1L797.9 360L807.8 365.3L817.7 378.7L827.7 335.9L837.6 352L847.5 357.3L857.4 349.3L867.4 346.6L877.3 352L887.2 354.6L897.2 334.6L907.1 271.7L917 485.7L927 458.9L936.9 464.3L946.8 442.9L956.8 442.9L966.7 481.1L976.6 445.6L986.5 424.2L996.5 418.8L1006.4 453.6L1016.3 437.5L1026.3 402.8L1036.2 421.5L1046.1 424.2L1056.1 408.1L1066 418.8L1075.9 434.9L1085.9 437.5L1095.8 429.5L1105.7 442.9L1115.7 437.5L1125.6 394.8L1135.5 418.8L1145.4 429.5L1155.4 396.4L1165.3 379.5L1175.2 418.8L1185.2 424.2L1195.1 407.6" fill="none" stroke="#ff00ff" stroke-width="7.3" stroke-linejoin="round"/>
<path d="M202.23 623.42a9.7 9.7 0 1 1 19.4 0a9.7 9.7 0 1 1 -19.4 0zM211.23 623.42a0.7 0.7 0 1 0 1.4 0a0.7 0.7 0 1 0 -1.4 0zM212.16 638.13a9.7 9.7 0 1 1 19.4 0a9.7 9.7 0 1 1 -19.4 0zM221.16 638.13a0.7 0.7 0 1 0 1.4 0a0.7 0.7 0 1 0 -1.4 0zM222.09 683.59a9.7 9.7 0 1 1 19.4 0a9.7 9.7 0 1 1 -19.4 0zM231.09 683.59a0.7 0.7 0 1 0 1.4 0a0.7 0.7 0 1 0 -1.4 0zM232.02 670.22a9.7 9.7 0 1 1 19.4 0a9.7 9.7 0 1 1 -19.4 0zM241.02 670.22a0.7 0.7 0 1 0 1.4 0a0.7 0.7 0 1 0 -1.4 0zM241.96 682.26a9.7 9.7 0 1 1 19.4 0a9.7 9.7 0 1 1 -19.4 0zM250.96 682.26a0.7 0.7 0 1 0 1.4 0a0.7 0.7 0 1 0 -1.4 0zM251.89 624.76a9.7 9.7 0 1 1 19.4 0a9.7 9.7 0 1 1 -19.4 0zM260.89 624.76a0.7 0.7 0 1 0 1.4 0a0.7 0.7 0 1 0 -1.4 0zM261.82 636.79a9.7 9.7 0 1 1 19.4 0a9.7 9.7 0 1 1 -19.4 0zM270.82 636.79a0.7 0.7 0 1 0 1.4 0a0.7 0.7 0 1 0 -1.4 0zM271.75 634.12a9.7 9.7 0 1 1 19.4 0a9.7 9.7 0 1 1 -19.4 0zM280.75 634.12a0.7 0.7 0 1 0 1.4 0a0.7 0.7 0 1 0 -1.4 0zM281.68 630.11a9.7 9.7 0 1 1 19.4 0a9.7 9.7 0 1 1 -19.4 0zM290.68 630.11a0.7 0.7 0 1 0 1.4 0a0.7 0.7 0 1 0 -1.4 0zM291.61 624.76a9.7 9.7 0 1 1 19.4 0a9.7 9.7 0 1 1 -19.4 0zM300.61 624.76a0.7 0.7 0 1 0 1.4 0a0.7 0.7 0 1 0 -1.4 0zM301.54 599.35a9.7 9.7 0 1 1 19.4 0a9.7 9.7 0 1 1 -19.4 0zM310.54 599.35a0.7 0.7 0 1 0 1.4 0a0.7 0.7 0 1 0 -1.4 0zM311.47 608.71a9.7 9.7 0 1 1 19.4 0a9.7 9.7 0 1 1 -19.4 0zM320.47 608.71a0.7 0.7 0 1 0 1.4 0a0.7 0.7 0 1 0 -1.4 0zM321.4 616.73a9.7 9.7 0 1 1 19.4 0a9.7 9.7 0 1 1 -19.4 0zM330.4 616.73a0.7 0.7 0 1 0 1.4 0a0.7 0.7 0 1 0 -1.4 0zM331.33 627.43a9.7 9.7 0 1 1 19.4 0a9.7 9.7 0 1 1 -19.4 0zM340.33 627.43a0.7 0.7 0 1 0 1.4 0a0.7 0.7 0 1 0 -1.4 0zM341.26 640.8a9.7 9.7 0 1 1 19.4 0a9.7 9.7 0 1 1 -19.4 0zM350.26 640.8a0.7 0.7 0 1 0 1.4 0a0.7 0.7 0 1 0 -1.4 0zM351.2 651.5a9.7 9.7 0 1 1 19.4 0a9.7 9.7 0 1 1 -19.4 0zM360.2 651.5a0.7 0.7 0 1 0 1.4 0a0.7 0.7 0 1 0 -1.4 0zM361.13 640.8a9.7 9.7 0 1 1 19.4 0a9.7 9.7 0 1 1 -19.4 0zM370.13 640.8a0.7 0.7 0 1 0 1.4 0a0.7 0.7 0 1 0 -1.4 0zM371.06 632.78a9.7 9.7 0 1 1 19.4 0a9.7 9.7 0 1 1 -19.4 0zM380.06 632.78a0.7 0.7 0 1 0 1.4 0a0.7 0.7 0 1 0 -1.4 0zM380.99 640.8a9.7 9.7 0 1 1 19.4 0a9.7 9.7 0 1 1 -19.4 0zM389.99 640.8a0.7 0.7 0 1 0 1.4 0a0.7 0.7 0 1 0 -1.4 0zM390.92 552.55a9.7 9.7 0 1 1 19.4 0a9.7 9.7 0 1 1 -19.4 0zM399.92 552.55a0.7 0.7 0 1 0 1.4 0a0.7 0.7 0 1 0 -1.4 0zM400.85 563.25a9.7 9.7 0 1 1 19.4 0a9.7 9.7 0 1 1 -19.4 0zM409.85 563.25a0.7 0.7 0 1 0 1.4 0a0.7 0.7 0 1 0 -1.4 0zM410.78 571.27a9.7 9.7 0 1 1 19.4 0a9.7 9.7 0 1 1 -19.4 0zM419.78 571.27a0.7 0.7 0 1 0 1.4 0a0.7 0.7 0 1 0 -1.4 0zM420.71 568.59a9.7 9.7 0 1 1 19.4 0a9.7 9.7 0 1 1 -19.4 0zM429.71 568.59a0.7 0.7 0 1 0 1.4 0a0.7 0.7 0 1 0 -1.4 0zM430.64 571.27a9.7 9.7 0 1 1 19.4 0a9.7 9.7 0 1 1 -19.4 0zM439.64 571.27a0.7 0.7 0 1 0 1.4 0a0.7 0.7 0 1 0 -1.4 0zM440.57 552.55a9.7 9.7 0 1 1 19.4 0a9.7 9.7 0 1 1 -19.4 0zM449.57 552.55a0.7 0.7 0 1 0 1.4 0a0.7 0.7 0 1 0 -1.4 0zM450.51 529.82a9.7 9.7 0 1 1 19.4 0a9.7 9.7 0 1 1 -19.4 0zM459.51 529.82a0.7 0.7 0 1 0 1.4 0a0.7 0.7 0 1 0 -1.4 0zM460.44 524.47a9.7 9.7 0 1 1 19.4 0a9.7 9.7 0 1 1 -19.4 0zM469.44 524.47a0.7 0.7 0 1 0 1.4 0a0.7 0.7 0 1 0 -1.4 0zM470.37 531.15a9.7 9.7 0 1 1 19.4 0a9.7 9.7 0 1 1 -19.4 0zM479.37 531.15a0.7 0.7 0 1 0 1.4 0a0.7 0.7 0 1 0 -1.4 0zM480.3 547.2a9.7 9.7 0 1 1 19.4 0a9.7 9.7 0 1 1 -19.4 0zM489.3 547.2a0.7 0.7 0 1 0 1.4 0a0.7 0.7 0 1 0 -1.4 0zM490.23 565.92a9.7 9.7 0 1 1 19.4 0a9.7 9.7 0 1 1 -19.4 0zM499.23 565.92a0.7 0.7 0 1 0 1.4 0a0.7 0.7 0 1 0 -1.4 0zM500.16 571.27a9.7 9.7 0 1 1 19.4 0a9.7 9.7 0 1 1 -19.4 0zM509.16 571.27a0.7 0.7 0 1 0 1.4 0a0.7 0.7 0 1 0 -1.4 0zM510.09 539.18a9.7 9.7 0 1 1 19.4 0a9.7 9.7 0 1 1 -19.4 0zM519.09 539.18a0.7 0.7 0 1 0 1.4 0a0.7 0.7 0 1 0 -1.4 0zM520.02 552.55a9.7 9.7 0 1 1 19.4 0a9.7 9.7 0 1 1 -19.4 0zM529.02 552.55a0.7 0.7 0 1 0 1.4 0a0.7 0.7 0 1 0 -1.4 0zM529.95 551.21a9.7 9.7 0 1 1 19.4 0a9.7 9.7 0 1 1 -19.4 0zM538.95 551.21a0.7 0.7 0 1 0 1.4 0a0.7 0.7 0 1 0 -1.4 0zM539.88 551.21a9.7 9.7 0 1 1 19.4 0a9.7 9.7 0 1 1 -19.4 0zM548.88 551.21a0.7 0.7 0 1 0 1.4 0a0.7 0.7 0 1 0 -1.4 0zM549.82 551.21a9.7 9.7 0 1 1 19.4 0a9.7 9.7 0 1 1 -19.4 0zM558.82 551.21a0.7 0.7 0 1 0 1.4 0a0.7 0.7 0 1 0 -1.4 0zM559.75 560.57a9.7 9.7 0 1 1 19.4 0a9.7 9.7 0 1 1 -19.4 0zM568.75 560.57a0.7 0.7 0 1 0 1.4 0a0.7 0.7 0 1 0 -1.4 0zM569.68 535.7a9.7 9.7 0 1 1 19.4 0a9.7 9.7 0 1 1 -19.4 0zM578.68 535.7a0.7 0.7 0 1 0 1.4 0a0.7 0.7 0 1 0 -1.4 0zM579.61 565.92a9.7 9.7 0 1 1 19.4 0a9.7 9.7 0 1 1 -19.4 0zM588.61 565.92a0.7 0.7 0 1 0 1.4 0a0.7 0.7 0 1 0 -1.4 0zM589.54 418.83a9.7 9.7 0 1 1 19.4 0a9.7 9.7 0 1 1 -19.4 0zM598.54 418.83a0.7 0.7 0 1 0 1.4 0a0.7 0.7 0 1 0 -1.4 0zM599.47 432.2a9.7 9.7 0 1 1 19.4 0a9.7 9.7 0 1 1 -19.4 0zM608.47 432.2a0.7 0.7 0 1 0 1.4 0a0.7 0.7 0 1 0 -1.4 0zM609.4 424.18a9.7 9.7 0 1 1 19.4 0a9.7 9.7 0 1 1 -19.4 0zM618.4 424.18a0.7 0.7 0 1 0 1.4 0a0.7 0.7 0 1 0 -1.4 0zM619.33 421.5a9.7 9.7 0 1 1 19.4 0a9.7 9.7 0 1 1 -19.4 0zM628.33 421.5a0.7 0.7 0 1 0 1.4 0a0.7 0.7 0 1 0 -1.4 0zM629.26 432.2a9.7 9.7 0 1 1 19.4 0a9.7 9.7 0 1 1 -19.4 0zM638.26 432.2a0.7 0.7 0 1 0 1.4 0a0.7 0.7 0 1 0 -1.4 0zM639.19 466.97a9.7 9.7 0 1 1 19.4 0a9.7 9.7 0 1 1 -19.4 0zM648.19 466.97a0.7 0.7 0 1 0 1.4 0a0.7 0.7 0 1 0 -1.4 0zM649.13 432.2a9.7 9.7 0 1 1 19.4 0a9.7 9.7 0 1 1 -19.4 0zM658.13 432.2a0.7 0.7 0 1 0 1.4 0a0.7 0.7 0 1 0 -1.4 0zM659.06 418.83a9.7 9.7 0 1 1 19.4 0a9.7 9.7 0 1 1 -19.4 0zM668.06 418.83a0.7 0.7 0 1 0 1.4 0a0.7 0.7 0 1 0 -1.4 0zM668.99 418.83a9.7 9.7 0 1 1 19.4 0a9.7 9.7 0 1 1 -19.4 0zM677.99 418.83a0.7 0.7 0 1 0 1.4 0a0.7 0.7 0 1 0 -1.4 0zM678.92 405.46a9.7 9.7 0 1 1 19.4 0a9.7 9.7 0 1 1 -19.4 0zM687.92 405.46a0.7 0.7 0 1 0 1.4 0a0.7 0.7 0 1 0 -1.4 0zM688.85 392.08a9.7 9.7 0 1 1 19.4 0a9.7 9.7 0 1 1 -19.4 0zM697.85 392.08a0.7 0.7 0 1 0 1.4 0a0.7 0.7 0 1 0 -1.4 0zM698.78 368.01a9.7 9.7 0 1 1 19.4 0a9.7 9.7 0 1 1 -19.4 0zM707.78 368.01a0.7 0.7 0 1 0 1.4 0a0.7 0.7 0 1 0 -1.4 0zM708.71 376.04a9.7 9.7 0 1 1 19.4 0a9.7 9.7 0 1 1 -19.4 0zM717.71 376.04a0.7 0.7 0 1 0 1.4 0a0.7 0.7 0 1 0 -1.4 0zM718.64 379.25a9.7 9.7 0 1 1 19.4 0a9.7 9.7 0 1 1 -19.4 0zM727.64 379.25a0.7 0.7 0 1 0 1.4 0a0.7 0.7 0 1 0 -1.4 0zM728.57 381.39a9.7 9.7 0 1 1 19.4 0a9.7 9.7 0 1 1 -19.4 0zM737.57 381.39a0.7 0.7 0 1 0 1.4 0a0.7 0.7 0 1 0 -1.4 0zM738.5 393.42a9.7 9.7 0 1 1 19.4 0a9.7 9.7 0 1 1 -19.4 0zM747.5 393.42a0.7 0.7 0 1 0 1.4 0a0.7 0.7 0 1 0 -1.4 0zM748.44 445.57a9.7 9.7 0 1 1 19.4 0a9.7 9.7 0 1 1 -19.4 0zM757.44 445.57a0.7 0.7 0 1 0 1.4 0a0.7 0.7 0 1 0 -1.4 0zM758.37 448.25a9.7 9.7 0 1 1 19.4 0a9.7 9.7 0 1 1 -19.4 0zM767.37 448.25a0.7 0.7 0 1 0 1.4 0a0.7 0.7 0 1 0 -1.4 0zM768.3 411.61a9.7 9.7 0 1 1 19.4 0a9.7 9.7 0 1 1 -19.4 0zM777.3 411.61a0.7 0.7 0 1 0 1.4 0a0.7 0.7 0 1 0 -1.4 0zM778.23 384.06a9.7 9.7 0 1 1 19.4 0a9.7 9.7 0 1 1 -19.4 0zM787.23 384.06a0.7 0.7 0 1 0 1.4 0a0.7 0.7 0 1 0 -1.4 0zM788.16 359.99a9.7 9.7 0 1 1 19.4 0a9.7 9.7 0 1 1 -19.4 0zM797.16 359.99a0.7 0.7 0 1 0 1.4 0a0.7 0.7 0 1 0 -1.4 0zM798.09 365.34a9.7 9.7 0 1 1 19.4 0a9.7 9.7 0 1 1 -19.4 0zM807.09 365.34a0.7 0.7 0 1 0 1.4 0a0.7 0.7 0 1 0 -1.4 0zM808.02 378.71a9.7 9.7 0 1 1 19.4 0a9.7 9.7 0 1 1 -19.4 0zM817.02 378.71a0.7 0.7 0 1 0 1.4 0a0.7 0.7 0 1 0 -1.4 0zM817.95 335.92a9.7 9.7 0 1 1 19.4 0a9.7 9.7 0 1 1 -19.4 0zM826.95 335.92a0.7 0.7 0 1 0 1.4 0a0.7 0.7 0 1 0 -1.4 0zM827.88 351.97a9.7 9.7 0 1 1 19.4 0a9.7 9.7 0 1 1 -19.4 0zM836.88 351.97a0.7 0.7 0 1 0 1.4 0a0.7 0.7 0 1 0 -1.4 0zM837.81 357.32a9.7 9.7 0 1 1 19.4 0a9.7 9.7 0 1 1 -19.4 0zM846.81 357.32a0.7 0.7 0 1 0 1.4 0a0.7 0.7 0 1 0 -1.4 0zM847.75 349.29a9.7 9.7 0 1 1 19.4 0a9.7 9.7 0 1 1 -19.4 0zM856.75 349.29a0.7 0.7 0 1 0 1.4 0a0.7 0.7 0 1 0 -1.4 0zM857.68 346.62a9.7 9.7 0 1 1 19.4 0a9.7 9.7 0 1 1 -19.4 0zM866.68 346.62a0.7 0.7 0 1 0 1.4 0a0.7 0.7 0 1 0 -1.4 0zM867.61 351.97a9.7 9.7 0 1 1 19.4 0a9.7 9.7 0 1 1 -19.4 0zM876.61 351.97a0.7 0.7 0 1 0 1.4 0a0.7 0.7 0 1 0 -1.4 0zM877.54 354.64a9.7 9.7 0 1 1 19.4 0a9.7 9.7 0 1 1 -19.4 0zM886.54 354.64a0.7 0.7 0 1 0 1.4 0a0.7 0.7 0 1 0 -1.4 0zM887.47 334.58a9.7 9.7 0 1 1 19.4 0a9.7 9.7 0 1 1 -19.4 0zM896.47 334.58a0.7 0.7 0 1 0 1.4 0a0.7 0.7 0 1 0 -1.4 0zM897.4 271.74a9.7 9.7 0 1 1 19.4 0a9.7 9.7 0 1 1 -19.4 0zM906.4 271.74a0.7 0.7 0 1 0 1.4 0a0.7 0.7 0 1 0 -1.4 0zM907.33 485.69a9.7 9.7 0 1 1 19.4 0a9.7 9.7 0 1 1 -19.4 0zM916.33 485.69a0.7 0.7 0 1 0 1.4 0a0.7 0.7 0 1 0 -1.4 0zM917.26 458.94a9.7 9.7 0 1 1 19.4 0a9.7 9.7 0 1 1 -19.4 0zM926.26 458.94a0.7 0.7 0 1 0 1.4 0a0.7 0.7 0 1 0 -1.4 0zM927.19 464.29a9.7 9.7 0 1 1 19.4 0a9.7 9.7 0 1 1 -19.4 0zM936.19 464.29a0.7 0.7 0 1 0 1.4 0a0.7 0.7 0 1 0 -1.4 0zM937.12 442.9a9.7 9.7 0 1 1 19.4 0a9.7 9.7 0 1 1 -19.4 0zM946.12 442.9a0.7 0.7 0 1 0 1.4 0a0.7 0.7 0 1 0 -1.4 0zM947.06 442.9a9.7 9.7 0 1 1 19.4 0a9.7 9.7 0 1 1 -19.4 0zM956.06 442.9a0.7 0.7 0 1 0 1.4 0a0.7 0.7 0 1 0 -1.4 0zM956.99 481.14a9.7 9.7 0 1 1 19.4 0a9.7 9.7 0 1 1 -19.4 0zM965.99 481.14a0.7 0.7 0 1 0 1.4 0a0.7 0.7 0 1 0 -1.4 0zM966.92 445.57a9.7 9.7 0 1 1 19.4 0a9.7 9.7 0 1 1 -19.4 0zM975.92 445.57a0.7 0.7 0 1 0 1.4 0a0.7 0.7 0 1 0 -1.4 0zM976.85 424.18a9.7 9.7 0 1 1 19.4 0a9.7 9.7 0 1 1 -19.4 0zM985.85 424.18a0.7 0.7 0 1 0 1.4 0a0.7 0.7 0 1 0 -1.4 0zM986.78 418.83a9.7 9.7 0 1 1 19.4 0a9.7 9.7 0 1 1 -19.4 0zM995.78 418.83a0.7 0.7 0 1 0 1.4 0a0.7 0.7 0 1 0 -1.4 0zM996.71 453.6a9.7 9.7 0 1 1 19.4 0a9.7 9.7 0 1 1 -19.4 0zM1005.71 453.6a0.7 0.7 0 1 0 1.4 0a0.7 0.7 0 1 0 -1.4 0zM1006.64 437.55a9.7 9.7 0 1 1 19.4 0a9.7 9.7 0 1 1 -19.4 0zM1015.64 437.55a0.7 0.7 0 1 0 1.4 0a0.7 0.7 0 1 0 -1.4 0zM1016.57 402.78a9.7 9.7 0 1 1 19.4 0a9.7 9.7 0 1 1 -19.4 0zM1025.57 402.78a0.7 0.7 0 1 0 1.4 0a0.7 0.7 0 1 0 -1.4 0zM1026.5 421.5a9.7 9.7 0 1 1 19.4 0a9.7 9.7 0 1 1 -19.4 0zM1035.5 421.5a0.7 0.7 0 1 0 1.4 0a0.7 0.7 0 1 0 -1.4 0zM1036.43 424.18a9.7 9.7 0 1 1 19.4 0a9.7 9.7 0 1 1 -19.4 0zM1045.43 424.18a0.7 0.7 0 1 0 1.4 0a0.7 0.7 0 1 0 -1.4 0zM1046.37 408.13a9.7 9.7 0 1 1 19.4 0a9.7 9.7 0 1 1 -19.4 0zM1055.37 408.13a0.7 0.7 0 1 0 1.4 0a0.7 0.7 0 1 0 -1.4 0zM1056.3 418.83a9.7 9.7 0 1 1 19.4 0a9.7 9.7 0 1 1 -19.4 0zM1065.3 418.83a0.7 0.7 0 1 0 1.4 0a0.7 0.7 0 1 0 -1.4 0zM1066.23 434.87a9.7 9.7 0 1 1 19.4 0a9.7 9.7 0 1 1 -19.4 0zM1075.23 434.87a0.7 0.7 0 1 0 1.4 0a0.7 0.7 0 1 0 -1.4 0zM1076.16 437.55a9.7 9.7 0 1 1 19.4 0a9.7 9.7 0 1 1 -19.4 0zM1085.16 437.55a0.7 0.7 0 1 0 1.4 0a0.7 0.7 0 1 0 -1.4 0zM1086.09 429.53a9.7 9.7 0 1 1 19.4 0a9.7 9.7 0 1 1 -19.4 0zM1095.09 429.53a0.7 0.7 0 1 0 1.4 0a0.7 0.7 0 1 0 -1.4 0zM1096.02 442.9a9.7 9.7 0 1 1 19.4 0a9.7 9.7 0 1 1 -19.4 0zM1105.02 442.9a0.7 0.7 0 1 0 1.4 0a0.7 0.7 0 1 0 -1.4 0zM1105.95 437.55a9.7 9.7 0 1 1 19.4 0a9.7 9.7 0 1 1 -19.4 0zM1114.95 437.55a0.7 0.7 0 1 0 1.4 0a0.7 0.7 0 1 0 -1.4 0zM1115.88 394.76a9.7 9.7 0 1 1 19.4 0a9.7 9.7 0 1 1 -19.4 0zM1124.88 394.76a0.7 0.7 0 1 0 1.4 0a0.7 0.7 0 1 0 -1.4 0zM1125.81 418.83a9.7 9.7 0 1 1 19.4 0a9.7 9.7 0 1 1 -19.4 0zM1134.81 418.83a0.7 0.7 0 1 0 1.4 0a0.7 0.7 0 1 0 -1.4 0zM1135.74 429.53a9.7 9.7 0 1 1 19.4 0a9.7 9.7 0 1 1 -19.4 0zM1144.74 429.53a0.7 0.7 0 1 0 1.4 0a0.7 0.7 0 1 0 -1.4 0zM1145.68 396.36a9.7 9.7 0 1 1 19.4 0a9.7 9.7 0 1 1 -19.4 0zM1154.68 396.36a0.7 0.7 0 1 0 1.4 0a0.7 0.7 0 1 0 -1.4 0zM1155.61 379.51a9.7 9.7 0 1 1 19.4 0a9.7 9.7 0 1 1 -19.4 0zM1164.61 379.51a0.7 0.7 0 1 0 1.4 0a0.7 0.7 0 1 0 -1.4 0zM1165.54 418.83a9.7 9.7 0 1 1 19.4 0a9.7 9.7 0 1 1 -19.4 0zM1174.54 418.83a0.7 0.7 0 1 0 1.4 0a0.7 0.7 0 1 0 -1.4 0zM1175.47 424.18a9.7 9.7 0 1 1 19.4 0a9.7 9.7 0 1 1 -19.4 0zM1184.47 424.18a0.7 0.7 0 1 0 1.4 0a0.7 0.7 0 1 0 -1.4 0zM1185.4 407.6a9.7 9.7 0 1 1 19.4 0a9.7 9.7 0 1 1 -19.4 0zM1194.4 407.6a0.7 0.7 0 1 0 1.4 0a0.7 0.7 0 1 0 -1.4 0z" fill="#ff00ff" fill-rule="nonzero"/>
<path clip-path="url(#ca)" d="M211.9 683.6L221.9 643.5L231.8 670.2L241.7 705L251.7 699.6L261.6 710.3L271.5 683.6L281.4 684.9L291.4 680.9L301.3 651.5L311.2 632.8L321.2 654.2L331.1 634.1L341 664.9L351 656.8L360.9 683.6L370.8 683.6L380.8 694.3L390.7 646.2L400.6 571.3L410.6 592.7L420.5 610L430.4 559.5L440.3 608.7L450.3 566.5L460.2 587.3L470.1 560.6L480.1 598.8L490 582L499.9 588.9L509.9 565.1L519.8 601.5L529.7 584.6L539.7 566.5L549.6 591.9L559.5 621.3L569.4 594.5L579.4 617L589.3 573.9L599.2 432.2L609.2 432.7L619.1 397.4L629 453.6L639 432.2L648.9 425.5L658.8 446.6L668.8 458.9L678.7 418.8L688.6 432.2L698.5 456.3L708.5 453.6L718.4 469.6L728.3 434.9L738.3 432.2L748.2 440.2L758.1 442.9L768.1 449.6L778 472.3L787.9 425.5L797.9 377.1L807.8 358.4L817.7 360L827.7 392.1L837.6 416.2L847.5 405.5L857.4 394L867.4 418.8L877.3 409.5L887.2 400.1L897.2 397.4L907.1 266.4L917 464.3L927 471.2L936.9 448.8L946.8 515.6L956.8 483L966.7 517.8L976.6 537.3L986.5 515.1L996.5 440.2L1006.4 445.6L1016.3 432.2L1026.3 424.2L1036.2 443.2L1046.1 447.4L1056.1 483L1066 458.9L1075.9 453.6L1085.9 469.9L1095.8 501.7L1105.7 463.5L1115.7 493.2L1125.6 435.4L1135.5 457.3L1145.4 467L1155.4 474.2L1165.3 481.9L1175.2 479L1185.2 476.3L1195.1 462.2" fill="none" stroke="#a020f0" stroke-width="7.3" stroke-linejoin="round" stroke-dasharray="37 12 10 12"/>
<path d="M202.23 683.59a9.7 9.7 0 1 1 19.4 0a9.7 9.7 0 1 1 -19.4 0zM211.23 683.59a0.7 0.7 0 1 0 1.4 0a0.7 0.7 0 1 0 -1.4 0zM212.16 643.48a9.7 9.7 0 1 1 19.4 0a9.7 9.7 0 1 1 -19.4 0zM221.16 643.48a0.7 0.7 0 1 0 1.4 0a0.7 0.7 0 1 0 -1.4 0zM222.09 670.22a9.7 9.7 0 1 1 19.4 0a9.7 9.7 0 1 1 -19.4 0zM231.09 670.22a0.7 0.7 0 1 0 1.4 0a0.7 0.7 0 1 0 -1.4 0zM232.02 704.99a9.7 9.7 0 1 1 19.4 0a9.7 9.7 0 1 1 -19.4 0zM241.02 704.99a0.7 0.7 0 1 0 1.4 0a0.7 0.7 0 1 0 -1.4 0zM241.96 699.64a9.7 9.7 0 1 1 19.4 0a9.7 9.7 0 1 1 -19.4 0zM250.96 699.64a0.7 0.7 0 1 0 1.4 0a0.7 0.7 0 1 0 -1.4 0zM251.89 710.34a9.7 9.7 0 1 1 19.4 0a9.7 9.7 0 1 1 -19.4 0zM260.89 710.34a0.7 0.7 0 1 0 1.4 0a0.7 0.7 0 1 0 -1.4 0zM261.82 683.59a9.7 9.7 0 1 1 19.4 0a9.7 9.7 0 1 1 -19.4 0zM270.82 683.59a0.7 0.7 0 1 0 1.4 0a0.7 0.7 0 1 0 -1.4 0zM271.75 684.93a9.7 9.7 0 1 1 19.4 0a9.7 9.7 0 1 1 -19.4 0zM280.75 684.93a0.7 0.7 0 1 0 1.4 0a0.7 0.7 0 1 0 -1.4 0zM281.68 680.92a9.7 9.7 0 1 1 19.4 0a9.7 9.7 0 1 1 -19.4 0zM290.68 680.92a0.7 0.7 0 1 0 1.4 0a0.7 0.7 0 1 0 -1.4 0zM291.61 651.5a9.7 9.7 0 1 1 19.4 0a9.7 9.7 0 1 1 -19.4 0zM300.61 651.5a0.7 0.7 0 1 0 1.4 0a0.7 0.7 0 1 0 -1.4 0zM301.54 632.78a9.7 9.7 0 1 1 19.4 0a9.7 9.7 0 1 1 -19.4 0zM310.54 632.78a0.7 0.7 0 1 0 1.4 0a0.7 0.7 0 1 0 -1.4 0zM311.47 654.18a9.7 9.7 0 1 1 19.4 0a9.7 9.7 0 1 1 -19.4 0zM320.47 654.18a0.7 0.7 0 1 0 1.4 0a0.7 0.7 0 1 0 -1.4 0zM321.4 634.12a9.7 9.7 0 1 1 19.4 0a9.7 9.7 0 1 1 -19.4 0zM330.4 634.12a0.7 0.7 0 1 0 1.4 0a0.7 0.7 0 1 0 -1.4 0zM331.33 664.87a9.7 9.7 0 1 1 19.4 0a9.7 9.7 0 1 1 -19.4 0zM340.33 664.87a0.7 0.7 0 1 0 1.4 0a0.7 0.7 0 1 0 -1.4 0zM341.26 656.85a9.7 9.7 0 1 1 19.4 0a9.7 9.7 0 1 1 -19.4 0zM350.26 656.85a0.7 0.7 0 1 0 1.4 0a0.7 0.7 0 1 0 -1.4 0zM351.2 683.59a9.7 9.7 0 1 1 19.4 0a9.7 9.7 0 1 1 -19.4 0zM360.2 683.59a0.7 0.7 0 1 0 1.4 0a0.7 0.7 0 1 0 -1.4 0zM361.13 683.59a9.7 9.7 0 1 1 19.4 0a9.7 9.7 0 1 1 -19.4 0zM370.13 683.59a0.7 0.7 0 1 0 1.4 0a0.7 0.7 0 1 0 -1.4 0zM371.06 694.29a9.7 9.7 0 1 1 19.4 0a9.7 9.7 0 1 1 -19.4 0zM380.06 694.29a0.7 0.7 0 1 0 1.4 0a0.7 0.7 0 1 0 -1.4 0zM380.99 646.15a9.7 9.7 0 1 1 19.4 0a9.7 9.7 0 1 1 -19.4 0zM389.99 646.15a0.7 0.7 0 1 0 1.4 0a0.7 0.7 0 1 0 -1.4 0zM390.92 571.27a9.7 9.7 0 1 1 19.4 0a9.7 9.7 0 1 1 -19.4 0zM399.92 571.27a0.7 0.7 0 1 0 1.4 0a0.7 0.7 0 1 0 -1.4 0zM400.85 592.66a9.7 9.7 0 1 1 19.4 0a9.7 9.7 0 1 1 -19.4 0zM409.85 592.66a0.7 0.7 0 1 0 1.4 0a0.7 0.7 0 1 0 -1.4 0zM410.78 610.05a9.7 9.7 0 1 1 19.4 0a9.7 9.7 0 1 1 -19.4 0zM419.78 610.05a0.7 0.7 0 1 0 1.4 0a0.7 0.7 0 1 0 -1.4 0zM420.71 559.5a9.7 9.7 0 1 1 19.4 0a9.7 9.7 0 1 1 -19.4 0zM429.71 559.5a0.7 0.7 0 1 0 1.4 0a0.7 0.7 0 1 0 -1.4 0zM430.64 608.71a9.7 9.7 0 1 1 19.4 0a9.7 9.7 0 1 1 -19.4 0zM439.64 608.71a0.7 0.7 0 1 0 1.4 0a0.7 0.7 0 1 0 -1.4 0zM440.57 566.45a9.7 9.7 0 1 1 19.4 0a9.7 9.7 0 1 1 -19.4 0zM449.57 566.45a0.7 0.7 0 1 0 1.4 0a0.7 0.7 0 1 0 -1.4 0zM450.51 587.32a9.7 9.7 0 1 1 19.4 0a9.7 9.7 0 1 1 -19.4 0zM459.51 587.32a0.7 0.7 0 1 0 1.4 0a0.7 0.7 0 1 0 -1.4 0zM460.44 560.57a9.7 9.7 0 1 1 19.4 0a9.7 9.7 0 1 1 -19.4 0zM469.44 560.57a0.7 0.7 0 1 0 1.4 0a0.7 0.7 0 1 0 -1.4 0zM470.37 598.82a9.7 9.7 0 1 1 19.4 0a9.7 9.7 0 1 1 -19.4 0zM479.37 598.82a0.7 0.7 0 1 0 1.4 0a0.7 0.7 0 1 0 -1.4 0zM480.3 581.97a9.7 9.7 0 1 1 19.4 0a9.7 9.7 0 1 1 -19.4 0zM489.3 581.97a0.7 0.7 0 1 0 1.4 0a0.7 0.7 0 1 0 -1.4 0zM490.23 588.92a9.7 9.7 0 1 1 19.4 0a9.7 9.7 0 1 1 -19.4 0zM499.23 588.92a0.7 0.7 0 1 0 1.4 0a0.7 0.7 0 1 0 -1.4 0zM500.16 565.12a9.7 9.7 0 1 1 19.4 0a9.7 9.7 0 1 1 -19.4 0zM509.16 565.12a0.7 0.7 0 1 0 1.4 0a0.7 0.7 0 1 0 -1.4 0zM510.09 601.49a9.7 9.7 0 1 1 19.4 0a9.7 9.7 0 1 1 -19.4 0zM519.09 601.49a0.7 0.7 0 1 0 1.4 0a0.7 0.7 0 1 0 -1.4 0zM520.02 584.64a9.7 9.7 0 1 1 19.4 0a9.7 9.7 0 1 1 -19.4 0zM529.02 584.64a0.7 0.7 0 1 0 1.4 0a0.7 0.7 0 1 0 -1.4 0zM529.95 566.45a9.7 9.7 0 1 1 19.4 0a9.7 9.7 0 1 1 -19.4 0zM538.95 566.45a0.7 0.7 0 1 0 1.4 0a0.7 0.7 0 1 0 -1.4 0zM539.88 591.86a9.7 9.7 0 1 1 19.4 0a9.7 9.7 0 1 1 -19.4 0zM548.88 591.86a0.7 0.7 0 1 0 1.4 0a0.7 0.7 0 1 0 -1.4 0zM549.82 621.28a9.7 9.7 0 1 1 19.4 0a9.7 9.7 0 1 1 -19.4 0zM558.82 621.28a0.7 0.7 0 1 0 1.4 0a0.7 0.7 0 1 0 -1.4 0zM559.75 594.54a9.7 9.7 0 1 1 19.4 0a9.7 9.7 0 1 1 -19.4 0zM568.75 594.54a0.7 0.7 0 1 0 1.4 0a0.7 0.7 0 1 0 -1.4 0zM569.68 617a9.7 9.7 0 1 1 19.4 0a9.7 9.7 0 1 1 -19.4 0zM578.68 617a0.7 0.7 0 1 0 1.4 0a0.7 0.7 0 1 0 -1.4 0zM579.61 573.94a9.7 9.7 0 1 1 19.4 0a9.7 9.7 0 1 1 -19.4 0zM588.61 573.94a0.7 0.7 0 1 0 1.4 0a0.7 0.7 0 1 0 -1.4 0zM589.54 432.2a9.7 9.7 0 1 1 19.4 0a9.7 9.7 0 1 1 -19.4 0zM598.54 432.2a0.7 0.7 0 1 0 1.4 0a0.7 0.7 0 1 0 -1.4 0zM599.47 432.73a9.7 9.7 0 1 1 19.4 0a9.7 9.7 0 1 1 -19.4 0zM608.47 432.73a0.7 0.7 0 1 0 1.4 0a0.7 0.7 0 1 0 -1.4 0zM609.4 397.43a9.7 9.7 0 1 1 19.4 0a9.7 9.7 0 1 1 -19.4 0zM618.4 397.43a0.7 0.7 0 1 0 1.4 0a0.7 0.7 0 1 0 -1.4 0zM619.33 453.6a9.7 9.7 0 1 1 19.4 0a9.7 9.7 0 1 1 -19.4 0zM628.33 453.6a0.7 0.7 0 1 0 1.4 0a0.7 0.7 0 1 0 -1.4 0zM629.26 432.2a9.7 9.7 0 1 1 19.4 0a9.7 9.7 0 1 1 -19.4 0zM638.26 432.2a0.7 0.7 0 1 0 1.4 0a0.7 0.7 0 1 0 -1.4 0zM639.19 425.51a9.7 9.7 0 1 1 19.4 0a9.7 9.7 0 1 1 -19.4 0zM648.19 425.51a0.7 0.7 0 1 0 1.4 0a0.7 0.7 0 1 0 -1.4 0zM649.13 446.64a9.7 9.7 0 1 1 19.4 0a9.7 9.7 0 1 1 -19.4 0zM658.13 446.64a0.7 0.7 0 1 0 1.4 0a0.7 0.7 0 1 0 -1.4 0zM659.06 458.94a9.7 9.7 0 1 1 19.4 0a9.7 9.7 0 1 1 -19.4 0zM668.06 458.94a0.7 0.7 0 1 0 1.4 0a0.7 0.7 0 1 0 -1.4 0zM668.99 418.83a9.7 9.7 0 1 1 19.4 0a9.7 9.7 0 1 1 -19.4 0zM677.99 418.83a0.7 0.7 0 1 0 1.4 0a0.7 0.7 0 1 0 -1.4 0zM678.92 432.2a9.7 9.7 0 1 1 19.4 0a9.7 9.7 0 1 1 -19.4 0zM687.92 432.2a0.7 0.7 0 1 0 1.4 0a0.7 0.7 0 1 0 -1.4 0zM688.85 456.27a9.7 9.7 0 1 1 19.4 0a9.7 9.7 0 1 1 -19.4 0zM697.85 456.27a0.7 0.7 0 1 0 1.4 0a0.7 0.7 0 1 0 -1.4 0zM698.78 453.6a9.7 9.7 0 1 1 19.4 0a9.7 9.7 0 1 1 -19.4 0zM707.78 453.6a0.7 0.7 0 1 0 1.4 0a0.7 0.7 0 1 0 -1.4 0zM708.71 469.64a9.7 9.7 0 1 1 19.4 0a9.7 9.7 0 1 1 -19.4 0zM717.71 469.64a0.7 0.7 0 1 0 1.4 0a0.7 0.7 0 1 0 -1.4 0zM718.64 434.87a9.7 9.7 0 1 1 19.4 0a9.7 9.7 0 1 1 -19.4 0zM727.64 434.87a0.7 0.7 0 1 0 1.4 0a0.7 0.7 0 1 0 -1.4 0zM728.57 432.2a9.7 9.7 0 1 1 19.4 0a9.7 9.7 0 1 1 -19.4 0zM737.57 432.2a0.7 0.7 0 1 0 1.4 0a0.7 0.7 0 1 0 -1.4 0zM738.5 440.22a9.7 9.7 0 1 1 19.4 0a9.7 9.7 0 1 1 -19.4 0zM747.5 440.22a0.7 0.7 0 1 0 1.4 0a0.7 0.7 0 1 0 -1.4 0zM748.44 442.9a9.7 9.7 0 1 1 19.4 0a9.7 9.7 0 1 1 -19.4 0zM757.44 442.9a0.7 0.7 0 1 0 1.4 0a0.7 0.7 0 1 0 -1.4 0zM758.37 449.58a9.7 9.7 0 1 1 19.4 0a9.7 9.7 0 1 1 -19.4 0zM767.37 449.58a0.7 0.7 0 1 0 1.4 0a0.7 0.7 0 1 0 -1.4 0zM768.3 472.32a9.7 9.7 0 1 1 19.4 0a9.7 9.7 0 1 1 -19.4 0zM777.3 472.32a0.7 0.7 0 1 0 1.4 0a0.7 0.7 0 1 0 -1.4 0zM778.23 425.51a9.7 9.7 0 1 1 19.4 0a9.7 9.7 0 1 1 -19.4 0zM787.23 425.51a0.7 0.7 0 1 0 1.4 0a0.7 0.7 0 1 0 -1.4 0zM788.16 377.11a9.7 9.7 0 1 1 19.4 0a9.7 9.7 0 1 1 -19.4 0zM797.16 377.11a0.7 0.7 0 1 0 1.4 0a0.7 0.7 0 1 0 -1.4 0zM798.09 358.39a9.7 9.7 0 1 1 19.4 0a9.7 9.7 0 1 1 -19.4 0zM807.09 358.39a0.7 0.7 0 1 0 1.4 0a0.7 0.7 0 1 0 -1.4 0zM808.02 359.99a9.7 9.7 0 1 1 19.4 0a9.7 9.7 0 1 1 -19.4 0zM817.02 359.99a0.7 0.7 0 1 0 1.4 0a0.7 0.7 0 1 0 -1.4 0zM817.95 392.08a9.7 9.7 0 1 1 19.4 0a9.7 9.7 0 1 1 -19.4 0zM826.95 392.08a0.7 0.7 0 1 0 1.4 0a0.7 0.7 0 1 0 -1.4 0zM827.88 416.15a9.7 9.7 0 1 1 19.4 0a9.7 9.7 0 1 1 -19.4 0zM836.88 416.15a0.7 0.7 0 1 0 1.4 0a0.7 0.7 0 1 0 -1.4 0zM837.81 405.46a9.7 9.7 0 1 1 19.4 0a9.7 9.7 0 1 1 -19.4 0zM846.81 405.46a0.7 0.7 0 1 0 1.4 0a0.7 0.7 0 1 0 -1.4 0zM847.75 393.96a9.7 9.7 0 1 1 19.4 0a9.7 9.7 0 1 1 -19.4 0zM856.75 393.96a0.7 0.7 0 1 0 1.4 0a0.7 0.7 0 1 0 -1.4 0zM857.68 418.83a9.7 9.7 0 1 1 19.4 0a9.7 9.7 0 1 1 -19.4 0zM866.68 418.83a0.7 0.7 0 1 0 1.4 0a0.7 0.7 0 1 0 -1.4 0zM867.61 409.47a9.7 9.7 0 1 1 19.4 0a9.7 9.7 0 1 1 -19.4 0zM876.61 409.47a0.7 0.7 0 1 0 1.4 0a0.7 0.7 0 1 0 -1.4 0zM877.54 400.11a9.7 9.7 0 1 1 19.4 0a9.7 9.7 0 1 1 -19.4 0zM886.54 400.11a0.7 0.7 0 1 0 1.4 0a0.7 0.7 0 1 0 -1.4 0zM887.47 397.43a9.7 9.7 0 1 1 19.4 0a9.7 9.7 0 1 1 -19.4 0zM896.47 397.43a0.7 0.7 0 1 0 1.4 0a0.7 0.7 0 1 0 -1.4 0zM897.4 266.39a9.7 9.7 0 1 1 19.4 0a9.7 9.7 0 1 1 -19.4 0zM906.4 266.39a0.7 0.7 0 1 0 1.4 0a0.7 0.7 0 1 0 -1.4 0zM907.33 464.29a9.7 9.7 0 1 1 19.4 0a9.7 9.7 0 1 1 -19.4 0zM916.33 464.29a0.7 0.7 0 1 0 1.4 0a0.7 0.7 0 1 0 -1.4 0zM917.26 471.25a9.7 9.7 0 1 1 19.4 0a9.7 9.7 0 1 1 -19.4 0zM926.26 471.25a0.7 0.7 0 1 0 1.4 0a0.7 0.7 0 1 0 -1.4 0zM927.19 448.78a9.7 9.7 0 1 1 19.4 0a9.7 9.7 0 1 1 -19.4 0zM936.19 448.78a0.7 0.7 0 1 0 1.4 0a0.7 0.7 0 1 0 -1.4 0zM937.12 515.64a9.7 9.7 0 1 1 19.4 0a9.7 9.7 0 1 1 -19.4 0zM946.12 515.64a0.7 0.7 0 1 0 1.4 0a0.7 0.7 0 1 0 -1.4 0zM947.06 483.01a9.7 9.7 0 1 1 19.4 0a9.7 9.7 0 1 1 -19.4 0zM956.06 483.01a0.7 0.7 0 1 0 1.4 0a0.7 0.7 0 1 0 -1.4 0zM956.99 517.78a9.7 9.7 0 1 1 19.4 0a9.7 9.7 0 1 1 -19.4 0zM965.99 517.78a0.7 0.7 0 1 0 1.4 0a0.7 0.7 0 1 0 -1.4 0zM966.92 537.3a9.7 9.7 0 1 1 19.4 0a9.7 9.7 0 1 1 -19.4 0zM975.92 537.3a0.7 0.7 0 1 0 1.4 0a0.7 0.7 0 1 0 -1.4 0zM976.85 515.11a9.7 9.7 0 1 1 19.4 0a9.7 9.7 0 1 1 -19.4 0zM985.85 515.11a0.7 0.7 0 1 0 1.4 0a0.7 0.7 0 1 0 -1.4 0zM986.78 440.22a9.7 9.7 0 1 1 19.4 0a9.7 9.7 0 1 1 -19.4 0zM995.78 440.22a0.7 0.7 0 1 0 1.4 0a0.7 0.7 0 1 0 -1.4 0zM996.71 445.57a9.7 9.7 0 1 1 19.4 0a9.7 9.7 0 1 1 -19.4 0zM1005.71 445.57a0.7 0.7 0 1 0 1.4 0a0.7 0.7 0 1 0 -1.4 0zM1006.64 432.2a9.7 9.7 0 1 1 19.4 0a9.7 9.7 0 1 1 -19.4 0zM1015.64 432.2a0.7 0.7 0 1 0 1.4 0a0.7 0.7 0 1 0 -1.4 0zM1016.57 424.18a9.7 9.7 0 1 1 19.4 0a9.7 9.7 0 1 1 -19.4 0zM1025.57 424.18a0.7 0.7 0 1 0 1.4 0a0.7 0.7 0 1 0 -1.4 0zM1026.5 443.17a9.7 9.7 0 1 1 19.4 0a9.7 9.7 0 1 1 -19.4 0zM1035.5 443.17a0.7 0.7 0 1 0 1.4 0a0.7 0.7 0 1 0 -1.4 0zM1036.43 447.44a9.7 9.7 0 1 1 19.4 0a9.7 9.7 0 1 1 -19.4 0zM1045.43 447.44a0.7 0.7 0 1 0 1.4 0a0.7 0.7 0 1 0 -1.4 0zM1046.37 483.01a9.7 9.7 0 1 1 19.4 0a9.7 9.7 0 1 1 -19.4 0zM1055.37 483.01a0.7 0.7 0 1 0 1.4 0a0.7 0.7 0 1 0 -1.4 0zM1056.3 458.94a9.7 9.7 0 1 1 19.4 0a9.7 9.7 0 1 1 -19.4 0zM1065.3 458.94a0.7 0.7 0 1 0 1.4 0a0.7 0.7 0 1 0 -1.4 0zM1066.23 453.6a9.7 9.7 0 1 1 19.4 0a9.7 9.7 0 1 1 -19.4 0zM1075.23 453.6a0.7 0.7 0 1 0 1.4 0a0.7 0.7 0 1 0 -1.4 0zM1076.16 469.91a9.7 9.7 0 1 1 19.4 0a9.7 9.7 0 1 1 -19.4 0zM1085.16 469.91a0.7 0.7 0 1 0 1.4 0a0.7 0.7 0 1 0 -1.4 0zM1086.09 501.73a9.7 9.7 0 1 1 19.4 0a9.7 9.7 0 1 1 -19.4 0zM1095.09 501.73a0.7 0.7 0 1 0 1.4 0a0.7 0.7 0 1 0 -1.4 0zM1096.02 463.49a9.7 9.7 0 1 1 19.4 0a9.7 9.7 0 1 1 -19.4 0zM1105.02 463.49a0.7 0.7 0 1 0 1.4 0a0.7 0.7 0 1 0 -1.4 0zM1105.95 493.18a9.7 9.7 0 1 1 19.4 0a9.7 9.7 0 1 1 -19.4 0zM1114.95 493.18a0.7 0.7 0 1 0 1.4 0a0.7 0.7 0 1 0 -1.4 0zM1115.88 435.41a9.7 9.7 0 1 1 19.4 0a9.7 9.7 0 1 1 -19.4 0zM1124.88 435.41a0.7 0.7 0 1 0 1.4 0a0.7 0.7 0 1 0 -1.4 0zM1125.81 457.34a9.7 9.7 0 1 1 19.4 0a9.7 9.7 0 1 1 -19.4 0zM1134.81 457.34a0.7 0.7 0 1 0 1.4 0a0.7 0.7 0 1 0 -1.4 0zM1135.74 466.97a9.7 9.7 0 1 1 19.4 0a9.7 9.7 0 1 1 -19.4 0zM1144.74 466.97a0.7 0.7 0 1 0 1.4 0a0.7 0.7 0 1 0 -1.4 0zM1145.68 474.19a9.7 9.7 0 1 1 19.4 0a9.7 9.7 0 1 1 -19.4 0zM1154.68 474.19a0.7 0.7 0 1 0 1.4 0a0.7 0.7 0 1 0 -1.4 0zM1155.61 481.94a9.7 9.7 0 1 1 19.4 0a9.7 9.7 0 1 1 -19.4 0zM1164.61 481.94a0.7 0.7 0 1 0 1.4 0a0.7 0.7 0 1 0 -1.4 0zM1165.54 479a9.7 9.7 0 1 1 19.4 0a9.7 9.7 0 1 1 -19.4 0zM1174.54 479a0.7 0.7 0 1 0 1.4 0a0.7 0.7 0 1 0 -1.4 0zM1175.47 476.33a9.7 9.7 0 1 1 19.4 0a9.7 9.7 0 1 1 -19.4 0zM1184.47 476.33a0.7 0.7 0 1 0 1.4 0a0.7 0.7 0 1 0 -1.4 0zM1185.4 462.15a9.7 9.7 0 1 1 19.4 0a9.7 9.7 0 1 1 -19.4 0zM1194.4 462.15a0.7 0.7 0 1 0 1.4 0a0.7 0.7 0 1 0 -1.4 0z" fill="#a020f0" fill-rule="nonzero"/>
<path clip-path="url(#ca)" d="M211.9 654.2L221.9 688.9L231.8 614.1L241.7 667.5L251.7 672.9L261.6 636.8L271.5 614.1L281.4 611.4L291.4 619.4L301.3 608.7L311.2 614.1L321.2 646.2L331.1 608.7L341 572.1L351 616.7L360.9 603.4L370.8 648.8L380.8 628.8L390.7 619.4L400.6 529.8L410.6 582L420.5 563.8L430.4 559.5L440.3 566.5L450.3 536.5L460.2 500.4L470.1 534.1L480.1 603.4L490 572.1L499.9 523.1L509.9 520.5L519.8 535.7L529.7 591.9L539.7 573.9L549.6 582L559.5 523.1L569.4 486.5L579.4 559.5L589.3 547.2L599.2 418.8L609.2 390.5L619.1 405.5L629 442.9L639 438.4L648.9 460.8L658.8 461.6L668.8 444L678.7 428.5L688.6 392.1L698.5 413.5L708.5 422.8L718.4 390.5L728.3 432.2L738.3 417.2L748.2 358.1L758.1 342.6L768.1 376L778 387.8L787.9 413.5L797.9 392.1L807.8 366.7L817.7 394.8L827.7 392.1L837.6 327.4L847.5 328.7L857.4 328.7L867.4 358.4L877.3 323.1L887.2 321.7L897.2 307.8L907.1 187L917 438.9L927 458.9L936.9 474.2L946.8 481.1L956.8 506.5L966.7 471.2L976.6 464.3L986.5 436.2L996.5 416.2L1006.4 393.7L1016.3 357L1026.3 388.1L1036.2 411.9L1046.1 403.6L1056.1 392.1L1066 403.6L1075.9 416.2L1085.9 426L1095.8 403.6L1105.7 434.3L1115.7 407.6L1125.6 365.6L1135.5 396.4L1145.4 426L1155.4 426.9L1165.3 432.2L1175.2 446.9L1185.2 388.1L1195.1 381.1" fill="none" stroke="#ff0000" stroke-width="7.3" stroke-linejoin="round"/>
<path d="M207.4 649.6l9.1 9.1M207.4 658.7l9.1 -9.1M217.3 684.4l9.1 9.1M217.3 693.5l9.1 -9.1M227.2 609.5l9.1 9.1M227.2 618.6l9.1 -9.1M237.2 663l9.1 9.1M237.2 672.1l9.1 -9.1M247.1 668.3l9.1 9.1M247.1 677.4l9.1 -9.1M257 632.2l9.1 9.1M257 641.3l9.1 -9.1M267 609.5l9.1 9.1M267 618.6l9.1 -9.1M276.9 606.8l9.1 9.1M276.9 615.9l9.1 -9.1M286.8 614.9l9.1 9.1M286.8 624l9.1 -9.1M296.8 604.2l9.1 9.1M296.8 613.3l9.1 -9.1M306.7 609.5l9.1 9.1M306.7 618.6l9.1 -9.1M316.6 641.6l9.1 9.1M316.6 650.7l9.1 -9.1M326.6 604.2l9.1 9.1M326.6 613.3l9.1 -9.1M336.5 567.5l9.1 9.1M336.5 576.6l9.1 -9.1M346.4 612.2l9.1 9.1M346.4 621.3l9.1 -9.1M356.3 598.8l9.1 9.1M356.3 607.9l9.1 -9.1M366.3 644.3l9.1 9.1M366.3 653.4l9.1 -9.1M376.2 624.2l9.1 9.1M376.2 633.3l9.1 -9.1M386.1 614.9l9.1 9.1M386.1 624l9.1 -9.1M396.1 525.3l9.1 9.1M396.1 534.4l9.1 -9.1M406 577.4l9.1 9.1M406 586.5l9.1 -9.1M415.9 559.2l9.1 9.1M415.9 568.3l9.1 -9.1M425.9 555l9.1 9.1M425.9 564.1l9.1 -9.1M435.8 561.9l9.1 9.1M435.8 571l9.1 -9.1M445.7 532l9.1 9.1M445.7 541.1l9.1 -9.1M455.7 495.8l9.1 9.1M455.7 504.9l9.1 -9.1M465.6 529.5l9.1 9.1M465.6 538.6l9.1 -9.1M475.5 598.8l9.1 9.1M475.5 607.9l9.1 -9.1M485.4 567.5l9.1 9.1M485.4 576.6l9.1 -9.1M495.4 518.6l9.1 9.1M495.4 527.7l9.1 -9.1M505.3 515.9l9.1 9.1M505.3 525l9.1 -9.1M515.2 531.1l9.1 9.1M515.2 540.2l9.1 -9.1M525.2 587.3l9.1 9.1M525.2 596.4l9.1 -9.1M535.1 569.4l9.1 9.1M535.1 578.5l9.1 -9.1M545 577.4l9.1 9.1M545 586.5l9.1 -9.1M555 518.6l9.1 9.1M555 527.7l9.1 -9.1M564.9 481.9l9.1 9.1M564.9 491l9.1 -9.1M574.8 555l9.1 9.1M574.8 564.1l9.1 -9.1M584.8 542.6l9.1 9.1M584.8 551.7l9.1 -9.1M594.7 414.3l9.1 9.1M594.7 423.4l9.1 -9.1M604.6 385.9l9.1 9.1M604.6 395l9.1 -9.1M614.6 400.9l9.1 9.1M614.6 410l9.1 -9.1M624.5 438.3l9.1 9.1M624.5 447.4l9.1 -9.1M634.4 433.8l9.1 9.1M634.4 442.9l9.1 -9.1M644.3 456.3l9.1 9.1M644.3 465.4l9.1 -9.1M654.3 457.1l9.1 9.1M654.3 466.2l9.1 -9.1M664.2 439.4l9.1 9.1M664.2 448.5l9.1 -9.1M674.1 423.9l9.1 9.1M674.1 433l9.1 -9.1M684.1 387.5l9.1 9.1M684.1 396.6l9.1 -9.1M694 408.9l9.1 9.1M694 418l9.1 -9.1M703.9 418.3l9.1 9.1M703.9 427.4l9.1 -9.1M713.9 385.9l9.1 9.1M713.9 395l9.1 -9.1M723.8 427.6l9.1 9.1M723.8 436.8l9.1 -9.1M733.7 412.7l9.1 9.1M733.7 421.8l9.1 -9.1M743.7 353.6l9.1 9.1M743.7 362.7l9.1 -9.1M753.6 338.1l9.1 9.1M753.6 347.2l9.1 -9.1M763.5 371.5l9.1 9.1M763.5 380.6l9.1 -9.1M773.4 383.3l9.1 9.1M773.4 392.4l9.1 -9.1M783.4 408.9l9.1 9.1M783.4 418l9.1 -9.1M793.3 387.5l9.1 9.1M793.3 396.6l9.1 -9.1M803.2 362.1l9.1 9.1M803.2 371.2l9.1 -9.1M813.2 390.2l9.1 9.1M813.2 399.3l9.1 -9.1M823.1 387.5l9.1 9.1M823.1 396.6l9.1 -9.1M833 322.8l9.1 9.1M833 331.9l9.1 -9.1M843 324.2l9.1 9.1M843 333.3l9.1 -9.1M852.9 324.2l9.1 9.1M852.9 333.3l9.1 -9.1M862.8 353.8l9.1 9.1M862.8 362.9l9.1 -9.1M872.8 318.5l9.1 9.1M872.8 327.6l9.1 -9.1M882.7 317.2l9.1 9.1M882.7 326.3l9.1 -9.1M892.6 303.3l9.1 9.1M892.6 312.4l9.1 -9.1M902.6 182.4l9.1 9.1M902.6 191.5l9.1 -9.1M912.5 434.3l9.1 9.1M912.5 443.4l9.1 -9.1M922.4 454.4l9.1 9.1M922.4 463.5l9.1 -9.1M932.3 469.6l9.1 9.1M932.3 478.7l9.1 -9.1M942.3 476.6l9.1 9.1M942.3 485.7l9.1 -9.1M952.2 502l9.1 9.1M952.2 511.1l9.1 -9.1M962.1 466.7l9.1 9.1M962.1 475.8l9.1 -9.1M972.1 459.7l9.1 9.1M972.1 468.8l9.1 -9.1M982 431.7l9.1 9.1M982 440.8l9.1 -9.1M991.9 411.6l9.1 9.1M991.9 420.7l9.1 -9.1M1001.9 389.1l9.1 9.1M1001.9 398.2l9.1 -9.1M1011.8 352.5l9.1 9.1M1011.8 361.6l9.1 -9.1M1021.7 383.5l9.1 9.1M1021.7 392.6l9.1 -9.1M1031.7 407.3l9.1 9.1M1031.7 416.4l9.1 -9.1M1041.6 399l9.1 9.1M1041.6 408.1l9.1 -9.1M1051.5 387.5l9.1 9.1M1051.5 396.6l9.1 -9.1M1061.4 399l9.1 9.1M1061.4 408.1l9.1 -9.1M1071.4 411.6l9.1 9.1M1071.4 420.7l9.1 -9.1M1081.3 421.5l9.1 9.1M1081.3 430.6l9.1 -9.1M1091.2 399l9.1 9.1M1091.2 408.1l9.1 -9.1M1101.2 429.8l9.1 9.1M1101.2 438.9l9.1 -9.1M1111.1 403l9.1 9.1M1111.1 412.1l9.1 -9.1M1121 361.1l9.1 9.1M1121 370.2l9.1 -9.1M1131 391.8l9.1 9.1M1131 400.9l9.1 -9.1M1140.9 421.5l9.1 9.1M1140.9 430.6l9.1 -9.1M1150.8 422.3l9.1 9.1M1150.8 431.4l9.1 -9.1M1160.8 427.6l9.1 9.1M1160.8 436.8l9.1 -9.1M1170.7 442.4l9.1 9.1M1170.7 451.5l9.1 -9.1M1180.6 383.5l9.1 9.1M1180.6 392.6l9.1 -9.1M1190.5 376.6l9.1 9.1M1190.5 385.7l9.1 -9.1" stroke="#ff0000" stroke-width="7.2" stroke-linecap="butt" fill="none"/>
<path clip-path="url(#ca)" d="M211.9 642.4L221.9 656.8L231.8 643.5L241.7 739.8L251.7 635.5L261.6 672.9L271.5 668.9L281.4 678.2L291.4 632.8L301.3 695.6L311.2 694.3L321.2 680.9L331.1 654.2L341 656.8L351 670.2L360.9 697L370.8 683.6L380.8 656.8L390.7 675.6L400.6 579.3L410.6 606L420.5 572.1L430.4 606L440.3 630.1L450.3 632.8L460.2 583.3L470.1 547.2L480.1 535.7L490 586.2L499.9 607.4L509.9 610L519.8 588.9L529.7 572.1L539.7 592.7L549.6 608.7L559.5 621.3L569.4 592.7L579.4 542.7L589.3 552.5L599.2 458.9L609.2 491L619.1 501.7L629 472.3L639 469.6L648.9 484.4L658.8 472.3L668.8 492.6L678.7 445.6L688.6 460.3L698.5 445.6L708.5 467L718.4 452L728.3 430.9L738.3 467L748.2 513.8L758.1 458.9L768.1 440.2L778 470.2L787.9 458.9L797.9 410.8L807.8 422L817.7 402.8L827.7 405.5L837.6 381.4L847.5 425L857.4 403.9L867.4 413.5L877.3 395.6L887.2 386.7L897.2 401.2L907.1 236.7L917 499.1L927 541.9L936.9 549.9L946.8 536L956.8 523.1L966.7 531.7L976.6 529L986.5 520.5L996.5 408.1L1006.4 405.5L1016.3 424.2L1026.3 459.7L1036.2 465.4L1046.1 486.5L1056.1 485.7L1066 472.3L1075.9 432.2L1085.9 433L1095.8 467L1105.7 451.2L1115.7 458.9L1125.6 435.7L1135.5 437.5L1145.4 411.9L1155.4 420.4L1165.3 435.7L1175.2 455.5L1185.2 444.2L1195.1 460.3" fill="none" stroke="#ff6600" stroke-width="7.3" stroke-linejoin="round" stroke-dasharray="37 12 10 12"/>
<path d="M207.4 637.9l9.1 9.1M207.4 647l9.1 -9.1M217.3 652.3l9.1 9.1M217.3 661.4l9.1 -9.1M227.2 638.9l9.1 9.1M227.2 648l9.1 -9.1M237.2 735.2l9.1 9.1M237.2 744.3l9.1 -9.1M247.1 630.9l9.1 9.1M247.1 640l9.1 -9.1M257 668.3l9.1 9.1M257 677.4l9.1 -9.1M267 664.3l9.1 9.1M267 673.4l9.1 -9.1M276.9 673.7l9.1 9.1M276.9 682.8l9.1 -9.1M286.8 628.2l9.1 9.1M286.8 637.3l9.1 -9.1M296.8 691.1l9.1 9.1M296.8 700.2l9.1 -9.1M306.7 689.7l9.1 9.1M306.7 698.8l9.1 -9.1M316.6 676.4l9.1 9.1M316.6 685.5l9.1 -9.1M326.6 649.6l9.1 9.1M326.6 658.7l9.1 -9.1M336.5 652.3l9.1 9.1M336.5 661.4l9.1 -9.1M346.4 665.7l9.1 9.1M346.4 674.8l9.1 -9.1M356.3 692.4l9.1 9.1M356.3 701.5l9.1 -9.1M366.3 679l9.1 9.1M366.3 688.1l9.1 -9.1M376.2 652.3l9.1 9.1M376.2 661.4l9.1 -9.1M386.1 671l9.1 9.1M386.1 680.1l9.1 -9.1M396.1 574.7l9.1 9.1M396.1 583.8l9.1 -9.1M406 601.5l9.1 9.1M406 610.6l9.1 -9.1M415.9 567.5l9.1 9.1M415.9 576.6l9.1 -9.1M425.9 601.5l9.1 9.1M425.9 610.6l9.1 -9.1M435.8 625.6l9.1 9.1M435.8 634.7l9.1 -9.1M445.7 628.2l9.1 9.1M445.7 637.3l9.1 -9.1M455.7 578.8l9.1 9.1M455.7 587.9l9.1 -9.1M465.6 542.6l9.1 9.1M465.6 551.7l9.1 -9.1M475.5 531.1l9.1 9.1M475.5 540.2l9.1 -9.1M485.4 581.7l9.1 9.1M485.4 590.8l9.1 -9.1M495.4 602.8l9.1 9.1M495.4 611.9l9.1 -9.1M505.3 605.5l9.1 9.1M505.3 614.6l9.1 -9.1M515.2 584.4l9.1 9.1M515.2 593.5l9.1 -9.1M525.2 567.5l9.1 9.1M525.2 576.6l9.1 -9.1M535.1 588.1l9.1 9.1M535.1 597.2l9.1 -9.1M545 604.2l9.1 9.1M545 613.3l9.1 -9.1M555 616.7l9.1 9.1M555 625.8l9.1 -9.1M564.9 588.1l9.1 9.1M564.9 597.2l9.1 -9.1M574.8 538.1l9.1 9.1M574.8 547.2l9.1 -9.1M584.8 548l9.1 9.1M584.8 557.1l9.1 -9.1M594.7 454.4l9.1 9.1M594.7 463.5l9.1 -9.1M604.6 486.5l9.1 9.1M604.6 495.6l9.1 -9.1M614.6 497.2l9.1 9.1M614.6 506.3l9.1 -9.1M624.5 467.8l9.1 9.1M624.5 476.9l9.1 -9.1M634.4 465.1l9.1 9.1M634.4 474.2l9.1 -9.1M644.3 479.8l9.1 9.1M644.3 488.9l9.1 -9.1M654.3 467.8l9.1 9.1M654.3 476.9l9.1 -9.1M664.2 488.1l9.1 9.1M664.2 497.2l9.1 -9.1M674.1 441l9.1 9.1M674.1 450.1l9.1 -9.1M684.1 455.7l9.1 9.1M684.1 464.8l9.1 -9.1M694 441l9.1 9.1M694 450.1l9.1 -9.1M703.9 462.4l9.1 9.1M703.9 471.5l9.1 -9.1M713.9 447.4l9.1 9.1M713.9 456.5l9.1 -9.1M723.8 426.3l9.1 9.1M723.8 435.4l9.1 -9.1M733.7 462.4l9.1 9.1M733.7 471.5l9.1 -9.1M743.7 509.2l9.1 9.1M743.7 518.3l9.1 -9.1M753.6 454.4l9.1 9.1M753.6 463.5l9.1 -9.1M763.5 435.7l9.1 9.1M763.5 444.8l9.1 -9.1M773.4 465.6l9.1 9.1M773.4 474.7l9.1 -9.1M783.4 454.4l9.1 9.1M783.4 463.5l9.1 -9.1M793.3 406.3l9.1 9.1M793.3 415.4l9.1 -9.1M803.2 417.5l9.1 9.1M803.2 426.6l9.1 -9.1M813.2 398.2l9.1 9.1M813.2 407.3l9.1 -9.1M823.1 400.9l9.1 9.1M823.1 410l9.1 -9.1M833 376.8l9.1 9.1M833 385.9l9.1 -9.1M843 420.4l9.1 9.1M843 429.5l9.1 -9.1M852.9 399.3l9.1 9.1M852.9 408.4l9.1 -9.1M862.8 408.9l9.1 9.1M862.8 418l9.1 -9.1M872.8 391l9.1 9.1M872.8 400.1l9.1 -9.1M882.7 382.2l9.1 9.1M882.7 391.3l9.1 -9.1M892.6 396.6l9.1 9.1M892.6 405.7l9.1 -9.1M902.6 232.2l9.1 9.1M902.6 241.3l9.1 -9.1M912.5 494.5l9.1 9.1M912.5 503.6l9.1 -9.1M922.4 537.3l9.1 9.1M922.4 546.4l9.1 -9.1M932.3 545.3l9.1 9.1M932.3 554.4l9.1 -9.1M942.3 531.4l9.1 9.1M942.3 540.5l9.1 -9.1M952.2 518.6l9.1 9.1M952.2 527.7l9.1 -9.1M962.1 527.1l9.1 9.1M962.1 536.2l9.1 -9.1M972.1 524.5l9.1 9.1M972.1 533.6l9.1 -9.1M982 515.9l9.1 9.1M982 525l9.1 -9.1M991.9 403.6l9.1 9.1M991.9 412.7l9.1 -9.1M1001.9 400.9l9.1 9.1M1001.9 410l9.1 -9.1M1011.8 419.6l9.1 9.1M1011.8 428.7l9.1 -9.1M1021.7 455.2l9.1 9.1M1021.7 464.3l9.1 -9.1M1031.7 460.8l9.1 9.1M1031.7 469.9l9.1 -9.1M1041.6 481.9l9.1 9.1M1041.6 491l9.1 -9.1M1051.5 481.1l9.1 9.1M1051.5 490.2l9.1 -9.1M1061.4 467.8l9.1 9.1M1061.4 476.9l9.1 -9.1M1071.4 427.6l9.1 9.1M1071.4 436.8l9.1 -9.1M1081.3 428.5l9.1 9.1M1081.3 437.6l9.1 -9.1M1091.2 462.4l9.1 9.1M1091.2 471.5l9.1 -9.1M1101.2 446.6l9.1 9.1M1101.2 455.7l9.1 -9.1M1111.1 454.4l9.1 9.1M1111.1 463.5l9.1 -9.1M1121 431.1l9.1 9.1M1121 440.2l9.1 -9.1M1131 433l9.1 9.1M1131 442.1l9.1 -9.1M1140.9 407.3l9.1 9.1M1140.9 416.4l9.1 -9.1M1150.8 415.9l9.1 9.1M1150.8 425l9.1 -9.1M1160.8 431.1l9.1 9.1M1160.8 440.2l9.1 -9.1M1170.7 450.9l9.1 9.1M1170.7 460l9.1 -9.1M1180.6 439.7l9.1 9.1M1180.6 448.8l9.1 -9.1M1190.5 455.7l9.1 9.1M1190.5 464.8l9.1 -9.1" stroke="#ff6600" stroke-width="7.2" stroke-linecap="butt" fill="none"/>
<path clip-path="url(#ca)" d="M211.9 604.2L221.9 608.4L231.8 674.5L241.7 647.8L251.7 711.7L261.6 717.3L271.5 734.1L281.4 718.1L291.4 723.7L301.3 734.9L311.2 707.4L321.2 715.2L331.1 756.6L341 715.2L351 684.9L360.9 734.9L370.8 725L380.8 712.5L390.7 721.6L400.6 584.6L410.6 628.8L420.5 663.8L430.4 618.1L440.3 683.1L450.3 604.7L460.2 635.5L470.1 642.1L480.1 618.1L490 641.3L499.9 635.7L509.9 656L519.8 641.3L529.7 618.9L539.7 656.8L549.6 629.3L559.5 685.7L569.4 642.1L579.4 635.7L589.3 649.1L599.2 447.4L609.2 483L619.1 511.4L629 537.3L639 515.6L648.9 553.6L658.8 536.8L668.8 573.1L678.7 574.7L688.6 589.5L698.5 545.9L708.5 561.4L718.4 543.7L728.3 523.9L738.3 499.6L748.2 582.5L758.1 548L768.1 570.5L778 522.6L787.9 530.4L797.9 397.2L807.8 468.3L817.7 501.2L827.7 504.7L837.6 515.9L847.5 515.1L857.4 480.9L867.4 508.4L877.3 469.6L887.2 529.3L897.2 509.8L907.1 263.7L917 608.2L927 570.7L936.9 580.6L946.8 667.5L956.8 613L966.7 605.2L976.6 624.8L986.5 596.7L996.5 466.2L1006.4 525.8L1016.3 544L1026.3 530.1L1036.2 557.4L1046.1 540L1056.1 584.1L1066 542.7L1075.9 557.4L1085.9 558.2L1095.8 586.2L1105.7 561.6L1115.7 569.9L1125.6 560.8L1135.5 531.4L1145.4 563.8L1155.4 578.5L1165.3 558.2L1175.2 551.2L1185.2 542.7L1195.1 555.2" fill="none" stroke="#0000ff" stroke-width="7.3" stroke-linejoin="round"/>
<path d="M211.93 589.26l12.6 22.2l-25.2 0zM221.86 593.54l12.6 22.2l-25.2 0zM231.79 659.6l12.6 22.2l-25.2 0zM241.72 632.86l12.6 22.2l-25.2 0zM251.66 696.77l12.6 22.2l-25.2 0zM261.59 702.39l12.6 22.2l-25.2 0zM271.52 719.24l12.6 22.2l-25.2 0zM281.45 703.19l12.6 22.2l-25.2 0zM291.38 708.81l12.6 22.2l-25.2 0zM301.31 720.04l12.6 22.2l-25.2 0zM311.24 692.5l12.6 22.2l-25.2 0zM321.17 700.25l12.6 22.2l-25.2 0zM331.1 741.7l12.6 22.2l-25.2 0zM341.03 700.25l12.6 22.2l-25.2 0zM350.96 670.03l12.6 22.2l-25.2 0zM360.9 720.04l12.6 22.2l-25.2 0zM370.83 710.15l12.6 22.2l-25.2 0zM380.76 697.58l12.6 22.2l-25.2 0zM390.69 706.67l12.6 22.2l-25.2 0zM400.62 569.74l12.6 22.2l-25.2 0zM410.55 613.87l12.6 22.2l-25.2 0zM420.48 648.9l12.6 22.2l-25.2 0zM430.41 603.17l12.6 22.2l-25.2 0zM440.34 668.16l12.6 22.2l-25.2 0zM450.27 589.8l12.6 22.2l-25.2 0zM460.21 620.55l12.6 22.2l-25.2 0zM470.14 627.24l12.6 22.2l-25.2 0zM480.07 603.17l12.6 22.2l-25.2 0zM490 626.44l12.6 22.2l-25.2 0zM499.93 620.82l12.6 22.2l-25.2 0zM509.86 641.15l12.6 22.2l-25.2 0zM519.79 626.44l12.6 22.2l-25.2 0zM529.72 603.97l12.6 22.2l-25.2 0zM539.65 641.95l12.6 22.2l-25.2 0zM549.59 614.4l12.6 22.2l-25.2 0zM559.52 670.83l12.6 22.2l-25.2 0zM569.45 627.24l12.6 22.2l-25.2 0zM579.38 620.82l12.6 22.2l-25.2 0zM589.31 634.19l12.6 22.2l-25.2 0zM599.24 432.54l12.6 22.2l-25.2 0zM609.17 468.11l12.6 22.2l-25.2 0zM619.1 496.46l12.6 22.2l-25.2 0zM629.03 522.4l12.6 22.2l-25.2 0zM638.96 500.74l12.6 22.2l-25.2 0zM648.89 538.72l12.6 22.2l-25.2 0zM658.83 521.87l12.6 22.2l-25.2 0zM668.76 558.24l12.6 22.2l-25.2 0zM678.69 559.85l12.6 22.2l-25.2 0zM688.62 574.55l12.6 22.2l-25.2 0zM698.55 530.96l12.6 22.2l-25.2 0zM708.48 546.47l12.6 22.2l-25.2 0zM718.41 528.82l12.6 22.2l-25.2 0zM728.34 509.03l12.6 22.2l-25.2 0zM738.27 484.69l12.6 22.2l-25.2 0zM748.2 567.6l12.6 22.2l-25.2 0zM758.14 533.1l12.6 22.2l-25.2 0zM768.07 555.57l12.6 22.2l-25.2 0zM778 507.69l12.6 22.2l-25.2 0zM787.93 515.45l12.6 22.2l-25.2 0zM797.86 382.27l12.6 22.2l-25.2 0zM807.79 453.4l12.6 22.2l-25.2 0zM817.72 486.3l12.6 22.2l-25.2 0zM827.65 489.78l12.6 22.2l-25.2 0zM837.58 501.01l12.6 22.2l-25.2 0zM847.51 500.21l12.6 22.2l-25.2 0zM857.45 465.97l12.6 22.2l-25.2 0zM867.38 493.52l12.6 22.2l-25.2 0zM877.31 454.74l12.6 22.2l-25.2 0zM887.24 514.38l12.6 22.2l-25.2 0zM897.17 494.86l12.6 22.2l-25.2 0zM907.1 248.81l12.6 22.2l-25.2 0zM917.03 593.28l12.6 22.2l-25.2 0zM926.96 555.83l12.6 22.2l-25.2 0zM936.89 565.73l12.6 22.2l-25.2 0zM946.83 652.65l12.6 22.2l-25.2 0zM956.76 598.09l12.6 22.2l-25.2 0zM966.69 590.33l12.6 22.2l-25.2 0zM976.62 609.86l12.6 22.2l-25.2 0zM986.55 581.78l12.6 22.2l-25.2 0zM996.48 451.26l12.6 22.2l-25.2 0zM1006.41 510.9l12.6 22.2l-25.2 0zM1016.34 529.09l12.6 22.2l-25.2 0zM1026.27 515.18l12.6 22.2l-25.2 0zM1036.2 542.46l12.6 22.2l-25.2 0zM1046.13 525.08l12.6 22.2l-25.2 0zM1056.07 569.21l12.6 22.2l-25.2 0zM1066 527.75l12.6 22.2l-25.2 0zM1075.93 542.46l12.6 22.2l-25.2 0zM1085.86 543.26l12.6 22.2l-25.2 0zM1095.79 571.35l12.6 22.2l-25.2 0zM1105.72 546.74l12.6 22.2l-25.2 0zM1115.65 555.03l12.6 22.2l-25.2 0zM1125.58 545.94l12.6 22.2l-25.2 0zM1135.51 516.52l12.6 22.2l-25.2 0zM1145.44 548.88l12.6 22.2l-25.2 0zM1155.38 563.59l12.6 22.2l-25.2 0zM1165.31 543.26l12.6 22.2l-25.2 0zM1175.24 536.31l12.6 22.2l-25.2 0zM1185.17 527.75l12.6 22.2l-25.2 0zM1195.1 540.32l12.6 22.2l-25.2 0z" fill="#0000ff" fill-rule="nonzero"/>
</g>
<g id="ax-b">
<path d="M1565.7 97.9V766.5M1764.3 97.9V766.5M1962.9 97.9V766.5M2161.5 97.9V766.5M1367.1 580.8H2360.1M1367.1 395.1H2360.1M1367.1 209.3H2360.1" stroke="#dfdfdf" stroke-width="4.1" fill="none"/>
<path d="M1565.7 766.5v-12M1565.7 97.9v12M1764.3 766.5v-12M1764.3 97.9v12M1962.9 766.5v-12M1962.9 97.9v12M2161.5 766.5v-12M2161.5 97.9v12M1367.1 580.8h12M2360.1 580.8h-12M1367.1 395.1h12M2360.1 395.1h-12M1367.1 209.3h12M2360.1 209.3h-12" stroke="#262626" stroke-width="4.1" fill="none"/>
<rect x="1367.1" y="97.9" width="993" height="668.6" fill="none" stroke="#262626" stroke-width="4.1"/>
<g fill="#262626" font-size="52.6" stroke="#262626" stroke-width="0.4">
<g text-anchor="middle">
<text x="1365.8" y="841">0</text>
<text x="1564.4" y="841">20</text>
<text x="1763" y="841">40</text>
<text x="1961.6" y="841">60</text>
<text x="2160.2" y="841">80</text>
<text x="2358.8" y="841">100</text>
</g><g text-anchor="end">
<text x="1346.6" y="603.1">15</text>
<text x="1346.6" y="417.4">20</text>
<text x="1346.6" y="231.6">25</text>
</g></g>
<text x="1862.7" y="923.8" font-size="65.1" fill="#262626" text-anchor="middle">Time(s)</text>
<text transform="translate(1259.5 434.7) rotate(-90)" font-size="65.1" fill="#262626" text-anchor="middle">LE(m)</text>
<text x="1861.8" y="73.6" font-size="57.2" fill="#000" text-anchor="middle">(b)</text>
<path clip-path="url(#cb)" d="M1377 729.4L1387 692.2L1396.9 662.5L1406.8 636.5L1416.8 606.8L1426.7 586.3L1436.6 593.4L1446.5 580.8L1456.5 589.3L1466.4 551.1L1476.3 558.5L1486.3 531.7L1496.2 568.1L1506.1 595.6L1516 577.1L1526 632.8L1535.9 603.1L1545.8 580.8L1555.8 543.6L1565.7 539.9L1575.6 495.3L1585.6 460.1L1595.5 495.3L1605.4 476.8L1615.3 487.9L1625.3 496.5L1635.2 469.3L1645.1 484.2L1655.1 484.2L1665 461.9L1674.9 484.2L1684.9 454.5L1694.8 480.5L1704.7 510.2L1714.6 454.5L1724.6 480.5L1734.5 491.6L1744.4 484.2L1754.4 476.8L1764.3 444.5L1774.2 376.5L1784.2 345.7L1794.1 357.9L1804 318.9L1813.9 339.3L1823.9 367.9L1833.8 339.3L1843.7 320.8L1853.7 288.1L1863.6 346.8L1873.5 331.9L1883.5 316.3L1893.4 346.8L1903.3 365.3L1913.2 313.3L1923.2 285.1L1933.1 292.2L1943 314.8L1953 309.6L1962.9 298.5L1972.8 252.4L1982.8 216.8L1992.7 261.3L2002.6 321.1L2012.5 261.3L2022.5 243.9L2032.4 261.3L2042.3 268.8L2052.3 268.8L2062.2 283.6L2072.1 391.3L2082.1 418.8L2092 376.5L2101.9 424.8L2111.8 375L2121.8 424.8L2131.7 409.9L2141.6 444.1L2151.6 395.1L2161.5 346.8L2171.4 341.6L2181.4 354.2L2191.3 376.9L2201.2 331.9L2211.1 350.5L2221.1 355.7L2231 328.9L2240.9 321.9L2250.9 335.6L2260.8 335.6L2270.7 362.7L2280.7 343.1L2290.6 364.2L2300.5 328.2L2310.4 343.1L2320.4 341.6L2330.3 376.9L2340.2 292.5L2350.2 305.9L2360.1 330.4" fill="none" stroke="#00ff00" stroke-width="7.3" stroke-linejoin="round"/>
<path d="M1377.03 716.06l10.3 13.3l-10.3 13.3l-10.3 -13.3zM1377.03 728.31l-0.8 1.05l0.8 1.05l0.8 -1.05zM1386.96 678.91l10.3 13.3l-10.3 13.3l-10.3 -13.3zM1386.96 691.16l-0.8 1.05l0.8 1.05l0.8 -1.05zM1396.89 649.2l10.3 13.3l-10.3 13.3l-10.3 -13.3zM1396.89 661.45l-0.8 1.05l0.8 1.05l0.8 -1.05zM1406.82 623.19l10.3 13.3l-10.3 13.3l-10.3 -13.3zM1406.82 635.44l-0.8 1.05l0.8 1.05l0.8 -1.05zM1416.75 593.48l10.3 13.3l-10.3 13.3l-10.3 -13.3zM1416.75 605.73l-0.8 1.05l0.8 1.05l0.8 -1.05zM1426.68 573.05l10.3 13.3l-10.3 13.3l-10.3 -13.3zM1426.68 585.3l-0.8 1.05l0.8 1.05l0.8 -1.05zM1436.61 580.11l10.3 13.3l-10.3 13.3l-10.3 -13.3zM1436.61 592.36l-0.8 1.05l0.8 1.05l0.8 -1.05zM1446.54 567.48l10.3 13.3l-10.3 13.3l-10.3 -13.3zM1446.54 579.73l-0.8 1.05l0.8 1.05l0.8 -1.05zM1456.47 576.02l10.3 13.3l-10.3 13.3l-10.3 -13.3zM1456.47 588.27l-0.8 1.05l0.8 1.05l0.8 -1.05zM1466.4 537.76l10.3 13.3l-10.3 13.3l-10.3 -13.3zM1466.4 550.01l-0.8 1.05l0.8 1.05l0.8 -1.05zM1476.33 545.19l10.3 13.3l-10.3 13.3l-10.3 -13.3zM1476.33 557.44l-0.8 1.05l0.8 1.05l0.8 -1.05zM1486.26 518.45l10.3 13.3l-10.3 13.3l-10.3 -13.3zM1486.26 530.7l-0.8 1.05l0.8 1.05l0.8 -1.05zM1496.19 554.85l10.3 13.3l-10.3 13.3l-10.3 -13.3zM1496.19 567.1l-0.8 1.05l0.8 1.05l0.8 -1.05zM1506.12 582.34l10.3 13.3l-10.3 13.3l-10.3 -13.3zM1506.12 594.59l-0.8 1.05l0.8 1.05l0.8 -1.05zM1516.05 563.76l10.3 13.3l-10.3 13.3l-10.3 -13.3zM1516.05 576.01l-0.8 1.05l0.8 1.05l0.8 -1.05zM1525.98 619.48l10.3 13.3l-10.3 13.3l-10.3 -13.3zM1525.98 631.73l-0.8 1.05l0.8 1.05l0.8 -1.05zM1535.91 589.76l10.3 13.3l-10.3 13.3l-10.3 -13.3zM1535.91 602.01l-0.8 1.05l0.8 1.05l0.8 -1.05zM1545.84 567.48l10.3 13.3l-10.3 13.3l-10.3 -13.3zM1545.84 579.73l-0.8 1.05l0.8 1.05l0.8 -1.05zM1555.77 530.33l10.3 13.3l-10.3 13.3l-10.3 -13.3zM1555.77 542.58l-0.8 1.05l0.8 1.05l0.8 -1.05zM1565.7 526.62l10.3 13.3l-10.3 13.3l-10.3 -13.3zM1565.7 538.87l-0.8 1.05l0.8 1.05l0.8 -1.05zM1575.63 482.05l10.3 13.3l-10.3 13.3l-10.3 -13.3zM1575.63 494.3l-0.8 1.05l0.8 1.05l0.8 -1.05zM1585.56 446.76l10.3 13.3l-10.3 13.3l-10.3 -13.3zM1585.56 459.01l-0.8 1.05l0.8 1.05l0.8 -1.05zM1595.49 482.05l10.3 13.3l-10.3 13.3l-10.3 -13.3zM1595.49 494.3l-0.8 1.05l0.8 1.05l0.8 -1.05zM1605.42 463.47l10.3 13.3l-10.3 13.3l-10.3 -13.3zM1605.42 475.72l-0.8 1.05l0.8 1.05l0.8 -1.05zM1615.35 474.62l10.3 13.3l-10.3 13.3l-10.3 -13.3zM1615.35 486.87l-0.8 1.05l0.8 1.05l0.8 -1.05zM1625.28 483.16l10.3 13.3l-10.3 13.3l-10.3 -13.3zM1625.28 495.41l-0.8 1.05l0.8 1.05l0.8 -1.05zM1635.21 456.04l10.3 13.3l-10.3 13.3l-10.3 -13.3zM1635.21 468.29l-0.8 1.05l0.8 1.05l0.8 -1.05zM1645.14 470.9l10.3 13.3l-10.3 13.3l-10.3 -13.3zM1645.14 483.15l-0.8 1.05l0.8 1.05l0.8 -1.05zM1655.07 470.9l10.3 13.3l-10.3 13.3l-10.3 -13.3zM1655.07 483.15l-0.8 1.05l0.8 1.05l0.8 -1.05zM1665 448.62l10.3 13.3l-10.3 13.3l-10.3 -13.3zM1665 460.87l-0.8 1.05l0.8 1.05l0.8 -1.05zM1674.93 470.9l10.3 13.3l-10.3 13.3l-10.3 -13.3zM1674.93 483.15l-0.8 1.05l0.8 1.05l0.8 -1.05zM1684.86 441.19l10.3 13.3l-10.3 13.3l-10.3 -13.3zM1684.86 453.44l-0.8 1.05l0.8 1.05l0.8 -1.05zM1694.79 467.19l10.3 13.3l-10.3 13.3l-10.3 -13.3zM1694.79 479.44l-0.8 1.05l0.8 1.05l0.8 -1.05zM1704.72 496.9l10.3 13.3l-10.3 13.3l-10.3 -13.3zM1704.72 509.15l-0.8 1.05l0.8 1.05l0.8 -1.05zM1714.65 441.19l10.3 13.3l-10.3 13.3l-10.3 -13.3zM1714.65 453.44l-0.8 1.05l0.8 1.05l0.8 -1.05zM1724.58 467.19l10.3 13.3l-10.3 13.3l-10.3 -13.3zM1724.58 479.44l-0.8 1.05l0.8 1.05l0.8 -1.05zM1734.51 478.33l10.3 13.3l-10.3 13.3l-10.3 -13.3zM1734.51 490.58l-0.8 1.05l0.8 1.05l0.8 -1.05zM1744.44 470.9l10.3 13.3l-10.3 13.3l-10.3 -13.3zM1744.44 483.15l-0.8 1.05l0.8 1.05l0.8 -1.05zM1754.37 463.47l10.3 13.3l-10.3 13.3l-10.3 -13.3zM1754.37 475.72l-0.8 1.05l0.8 1.05l0.8 -1.05zM1764.3 431.16l10.3 13.3l-10.3 13.3l-10.3 -13.3zM1764.3 443.41l-0.8 1.05l0.8 1.05l0.8 -1.05zM1774.23 363.18l10.3 13.3l-10.3 13.3l-10.3 -13.3zM1774.23 375.43l-0.8 1.05l0.8 1.05l0.8 -1.05zM1784.16 332.35l10.3 13.3l-10.3 13.3l-10.3 -13.3zM1784.16 344.6l-0.8 1.05l0.8 1.05l0.8 -1.05zM1794.09 344.61l10.3 13.3l-10.3 13.3l-10.3 -13.3zM1794.09 356.86l-0.8 1.05l0.8 1.05l0.8 -1.05zM1804.02 305.61l10.3 13.3l-10.3 13.3l-10.3 -13.3zM1804.02 317.86l-0.8 1.05l0.8 1.05l0.8 -1.05zM1813.95 326.04l10.3 13.3l-10.3 13.3l-10.3 -13.3zM1813.95 338.29l-0.8 1.05l0.8 1.05l0.8 -1.05zM1823.88 354.64l10.3 13.3l-10.3 13.3l-10.3 -13.3zM1823.88 366.89l-0.8 1.05l0.8 1.05l0.8 -1.05zM1833.81 326.04l10.3 13.3l-10.3 13.3l-10.3 -13.3zM1833.81 338.29l-0.8 1.05l0.8 1.05l0.8 -1.05zM1843.74 307.47l10.3 13.3l-10.3 13.3l-10.3 -13.3zM1843.74 319.72l-0.8 1.05l0.8 1.05l0.8 -1.05zM1853.67 274.78l10.3 13.3l-10.3 13.3l-10.3 -13.3zM1853.67 287.03l-0.8 1.05l0.8 1.05l0.8 -1.05zM1863.6 333.47l10.3 13.3l-10.3 13.3l-10.3 -13.3zM1863.6 345.72l-0.8 1.05l0.8 1.05l0.8 -1.05zM1873.53 318.61l10.3 13.3l-10.3 13.3l-10.3 -13.3zM1873.53 330.86l-0.8 1.05l0.8 1.05l0.8 -1.05zM1883.46 303.01l10.3 13.3l-10.3 13.3l-10.3 -13.3zM1883.46 315.26l-0.8 1.05l0.8 1.05l0.8 -1.05zM1893.39 333.47l10.3 13.3l-10.3 13.3l-10.3 -13.3zM1893.39 345.72l-0.8 1.05l0.8 1.05l0.8 -1.05zM1903.32 352.04l10.3 13.3l-10.3 13.3l-10.3 -13.3zM1903.32 364.29l-0.8 1.05l0.8 1.05l0.8 -1.05zM1913.25 300.04l10.3 13.3l-10.3 13.3l-10.3 -13.3zM1913.25 312.29l-0.8 1.05l0.8 1.05l0.8 -1.05zM1923.18 271.81l10.3 13.3l-10.3 13.3l-10.3 -13.3zM1923.18 284.06l-0.8 1.05l0.8 1.05l0.8 -1.05zM1933.11 278.87l10.3 13.3l-10.3 13.3l-10.3 -13.3zM1933.11 291.12l-0.8 1.05l0.8 1.05l0.8 -1.05zM1943.04 301.52l10.3 13.3l-10.3 13.3l-10.3 -13.3zM1943.04 313.77l-0.8 1.05l0.8 1.05l0.8 -1.05zM1952.97 296.32l10.3 13.3l-10.3 13.3l-10.3 -13.3zM1952.97 308.57l-0.8 1.05l0.8 1.05l0.8 -1.05zM1962.9 285.18l10.3 13.3l-10.3 13.3l-10.3 -13.3zM1962.9 297.43l-0.8 1.05l0.8 1.05l0.8 -1.05zM1972.83 239.12l10.3 13.3l-10.3 13.3l-10.3 -13.3zM1972.83 251.37l-0.8 1.05l0.8 1.05l0.8 -1.05zM1982.76 203.46l10.3 13.3l-10.3 13.3l-10.3 -13.3zM1982.76 215.71l-0.8 1.05l0.8 1.05l0.8 -1.05zM1992.69 248.04l10.3 13.3l-10.3 13.3l-10.3 -13.3zM1992.69 260.29l-0.8 1.05l0.8 1.05l0.8 -1.05zM2002.62 307.84l10.3 13.3l-10.3 13.3l-10.3 -13.3zM2002.62 320.09l-0.8 1.05l0.8 1.05l0.8 -1.05zM2012.55 248.04l10.3 13.3l-10.3 13.3l-10.3 -13.3zM2012.55 260.29l-0.8 1.05l0.8 1.05l0.8 -1.05zM2022.48 230.58l10.3 13.3l-10.3 13.3l-10.3 -13.3zM2022.48 242.83l-0.8 1.05l0.8 1.05l0.8 -1.05zM2032.41 248.04l10.3 13.3l-10.3 13.3l-10.3 -13.3zM2032.41 260.29l-0.8 1.05l0.8 1.05l0.8 -1.05zM2042.34 255.46l10.3 13.3l-10.3 13.3l-10.3 -13.3zM2042.34 267.71l-0.8 1.05l0.8 1.05l0.8 -1.05zM2052.27 255.46l10.3 13.3l-10.3 13.3l-10.3 -13.3zM2052.27 267.71l-0.8 1.05l0.8 1.05l0.8 -1.05zM2062.2 270.32l10.3 13.3l-10.3 13.3l-10.3 -13.3zM2062.2 282.57l-0.8 1.05l0.8 1.05l0.8 -1.05zM2072.13 378.04l10.3 13.3l-10.3 13.3l-10.3 -13.3zM2072.13 390.29l-0.8 1.05l0.8 1.05l0.8 -1.05zM2082.06 405.53l10.3 13.3l-10.3 13.3l-10.3 -13.3zM2082.06 417.78l-0.8 1.05l0.8 1.05l0.8 -1.05zM2091.99 363.18l10.3 13.3l-10.3 13.3l-10.3 -13.3zM2091.99 375.43l-0.8 1.05l0.8 1.05l0.8 -1.05zM2101.92 411.47l10.3 13.3l-10.3 13.3l-10.3 -13.3zM2101.92 423.72l-0.8 1.05l0.8 1.05l0.8 -1.05zM2111.85 361.7l10.3 13.3l-10.3 13.3l-10.3 -13.3zM2111.85 373.95l-0.8 1.05l0.8 1.05l0.8 -1.05zM2121.78 411.47l10.3 13.3l-10.3 13.3l-10.3 -13.3zM2121.78 423.72l-0.8 1.05l0.8 1.05l0.8 -1.05zM2131.71 396.61l10.3 13.3l-10.3 13.3l-10.3 -13.3zM2131.71 408.86l-0.8 1.05l0.8 1.05l0.8 -1.05zM2141.64 430.79l10.3 13.3l-10.3 13.3l-10.3 -13.3zM2141.64 443.04l-0.8 1.05l0.8 1.05l0.8 -1.05zM2151.57 381.76l10.3 13.3l-10.3 13.3l-10.3 -13.3zM2151.57 394.01l-0.8 1.05l0.8 1.05l0.8 -1.05zM2161.5 333.47l10.3 13.3l-10.3 13.3l-10.3 -13.3zM2161.5 345.72l-0.8 1.05l0.8 1.05l0.8 -1.05zM2171.43 328.27l10.3 13.3l-10.3 13.3l-10.3 -13.3zM2171.43 340.52l-0.8 1.05l0.8 1.05l0.8 -1.05zM2181.36 340.9l10.3 13.3l-10.3 13.3l-10.3 -13.3zM2181.36 353.15l-0.8 1.05l0.8 1.05l0.8 -1.05zM2191.29 363.55l10.3 13.3l-10.3 13.3l-10.3 -13.3zM2191.29 375.8l-0.8 1.05l0.8 1.05l0.8 -1.05zM2201.22 318.61l10.3 13.3l-10.3 13.3l-10.3 -13.3zM2201.22 330.86l-0.8 1.05l0.8 1.05l0.8 -1.05zM2211.15 337.18l10.3 13.3l-10.3 13.3l-10.3 -13.3zM2211.15 349.43l-0.8 1.05l0.8 1.05l0.8 -1.05zM2221.08 342.38l10.3 13.3l-10.3 13.3l-10.3 -13.3zM2221.08 354.63l-0.8 1.05l0.8 1.05l0.8 -1.05zM2231.01 315.64l10.3 13.3l-10.3 13.3l-10.3 -13.3zM2231.01 327.89l-0.8 1.05l0.8 1.05l0.8 -1.05zM2240.94 308.58l10.3 13.3l-10.3 13.3l-10.3 -13.3zM2240.94 320.83l-0.8 1.05l0.8 1.05l0.8 -1.05zM2250.87 322.32l10.3 13.3l-10.3 13.3l-10.3 -13.3zM2250.87 334.57l-0.8 1.05l0.8 1.05l0.8 -1.05zM2260.8 322.32l10.3 13.3l-10.3 13.3l-10.3 -13.3zM2260.8 334.57l-0.8 1.05l0.8 1.05l0.8 -1.05zM2270.73 349.44l10.3 13.3l-10.3 13.3l-10.3 -13.3zM2270.73 361.69l-0.8 1.05l0.8 1.05l0.8 -1.05zM2280.66 329.75l10.3 13.3l-10.3 13.3l-10.3 -13.3zM2280.66 342l-0.8 1.05l0.8 1.05l0.8 -1.05zM2290.59 350.93l10.3 13.3l-10.3 13.3l-10.3 -13.3zM2290.59 363.18l-0.8 1.05l0.8 1.05l0.8 -1.05zM2300.52 314.9l10.3 13.3l-10.3 13.3l-10.3 -13.3zM2300.52 327.15l-0.8 1.05l0.8 1.05l0.8 -1.05zM2310.45 329.75l10.3 13.3l-10.3 13.3l-10.3 -13.3zM2310.45 342l-0.8 1.05l0.8 1.05l0.8 -1.05zM2320.38 328.27l10.3 13.3l-10.3 13.3l-10.3 -13.3zM2320.38 340.52l-0.8 1.05l0.8 1.05l0.8 -1.05zM2330.31 363.55l10.3 13.3l-10.3 13.3l-10.3 -13.3zM2330.31 375.8l-0.8 1.05l0.8 1.05l0.8 -1.05zM2340.24 279.24l10.3 13.3l-10.3 13.3l-10.3 -13.3zM2340.24 291.49l-0.8 1.05l0.8 1.05l0.8 -1.05zM2350.17 292.61l10.3 13.3l-10.3 13.3l-10.3 -13.3zM2350.17 304.86l-0.8 1.05l0.8 1.05l0.8 -1.05zM2360.1 317.12l10.3 13.3l-10.3 13.3l-10.3 -13.3zM2360.1 329.37l-0.8 1.05l0.8 1.05l0.8 -1.05z" fill="#00ff00" fill-rule="nonzero"/>
<path clip-path="url(#cb)" d="M1377 747.9L1387 721.9L1396.9 699.6L1406.8 692.2L1416.8 634.3L1426.7 673.6L1436.6 629.1L1446.5 645.4L1456.5 607.5L1466.4 603.4L1476.3 625.4L1486.3 636.5L1496.2 613.1L1506.1 611.6L1516 603.1L1526 599.4L1535.9 646.9L1545.8 640.2L1555.8 656.6L1565.7 582.3L1575.6 532.9L1585.6 554.8L1595.5 565.9L1605.4 538.8L1615.3 525.1L1625.3 513.2L1635.2 554L1645.1 528.8L1655.1 547.3L1665 569.6L1674.9 551.1L1684.9 521.3L1694.8 532.9L1704.7 551.1L1714.6 532.9L1724.6 557L1734.5 549.9L1744.4 595.6L1754.4 566.7L1764.3 473.8L1774.2 426.6L1784.2 378.7L1794.1 447.1L1804 444.8L1813.9 434.8L1823.9 423.7L1833.8 429.2L1843.7 411L1853.7 361.6L1863.6 412.5L1873.5 405.5L1883.5 366.8L1893.4 380.2L1903.3 395.4L1913.2 391.3L1923.2 447.4L1933.1 382.8L1943 400.6L1953 406.2L1962.9 387.3L1972.8 395.1L1982.8 382.1L1992.7 350.5L2002.6 382.1L2012.5 378L2022.5 383.9L2032.4 335.3L2042.3 362.4L2052.3 336.7L2062.2 372.4L2072.1 413.6L2082.1 484.6L2092 458.2L2101.9 512.8L2111.8 499.1L2121.8 480.5L2131.7 438.5L2141.6 508.7L2151.6 435.5L2161.5 438.5L2171.4 439.6L2181.4 429.6L2191.3 446.3L2201.2 458.2L2211.1 412.9L2221.1 436.7L2231 421.1L2240.9 431.1L2250.9 426.6L2260.8 405.1L2270.7 386.1L2280.7 366.5L2290.6 417L2300.5 424L2310.4 388.7L2320.4 415.5L2330.3 417L2340.2 467.5L2350.2 412.9L2360.1 393.2" fill="none" stroke="#7f2a2a" stroke-width="7.3" stroke-linejoin="round" stroke-dasharray="37 12 10 12"/>
<path d="M1377.03 734.63l10.3 13.3l-10.3 13.3l-10.3 -13.3zM1377.03 746.88l-0.8 1.05l0.8 1.05l0.8 -1.05zM1386.96 708.63l10.3 13.3l-10.3 13.3l-10.3 -13.3zM1386.96 720.88l-0.8 1.05l0.8 1.05l0.8 -1.05zM1396.89 686.34l10.3 13.3l-10.3 13.3l-10.3 -13.3zM1396.89 698.59l-0.8 1.05l0.8 1.05l0.8 -1.05zM1406.82 678.91l10.3 13.3l-10.3 13.3l-10.3 -13.3zM1406.82 691.16l-0.8 1.05l0.8 1.05l0.8 -1.05zM1416.75 620.97l10.3 13.3l-10.3 13.3l-10.3 -13.3zM1416.75 633.22l-0.8 1.05l0.8 1.05l0.8 -1.05zM1426.68 660.34l10.3 13.3l-10.3 13.3l-10.3 -13.3zM1426.68 672.59l-0.8 1.05l0.8 1.05l0.8 -1.05zM1436.61 615.77l10.3 13.3l-10.3 13.3l-10.3 -13.3zM1436.61 628.02l-0.8 1.05l0.8 1.05l0.8 -1.05zM1446.54 632.11l10.3 13.3l-10.3 13.3l-10.3 -13.3zM1446.54 644.36l-0.8 1.05l0.8 1.05l0.8 -1.05zM1456.47 594.22l10.3 13.3l-10.3 13.3l-10.3 -13.3zM1456.47 606.47l-0.8 1.05l0.8 1.05l0.8 -1.05zM1466.4 590.14l10.3 13.3l-10.3 13.3l-10.3 -13.3zM1466.4 602.39l-0.8 1.05l0.8 1.05l0.8 -1.05zM1476.33 612.05l10.3 13.3l-10.3 13.3l-10.3 -13.3zM1476.33 624.3l-0.8 1.05l0.8 1.05l0.8 -1.05zM1486.26 623.19l10.3 13.3l-10.3 13.3l-10.3 -13.3zM1486.26 635.44l-0.8 1.05l0.8 1.05l0.8 -1.05zM1496.19 599.79l10.3 13.3l-10.3 13.3l-10.3 -13.3zM1496.19 612.04l-0.8 1.05l0.8 1.05l0.8 -1.05zM1506.12 598.31l10.3 13.3l-10.3 13.3l-10.3 -13.3zM1506.12 610.56l-0.8 1.05l0.8 1.05l0.8 -1.05zM1516.05 589.76l10.3 13.3l-10.3 13.3l-10.3 -13.3zM1516.05 602.01l-0.8 1.05l0.8 1.05l0.8 -1.05zM1525.98 586.05l10.3 13.3l-10.3 13.3l-10.3 -13.3zM1525.98 598.3l-0.8 1.05l0.8 1.05l0.8 -1.05zM1535.91 633.59l10.3 13.3l-10.3 13.3l-10.3 -13.3zM1535.91 645.84l-0.8 1.05l0.8 1.05l0.8 -1.05zM1545.84 626.91l10.3 13.3l-10.3 13.3l-10.3 -13.3zM1545.84 639.16l-0.8 1.05l0.8 1.05l0.8 -1.05zM1555.77 643.25l10.3 13.3l-10.3 13.3l-10.3 -13.3zM1555.77 655.5l-0.8 1.05l0.8 1.05l0.8 -1.05zM1565.7 568.96l10.3 13.3l-10.3 13.3l-10.3 -13.3zM1565.7 581.21l-0.8 1.05l0.8 1.05l0.8 -1.05zM1575.63 519.56l10.3 13.3l-10.3 13.3l-10.3 -13.3zM1575.63 531.81l-0.8 1.05l0.8 1.05l0.8 -1.05zM1585.56 541.48l10.3 13.3l-10.3 13.3l-10.3 -13.3zM1585.56 553.73l-0.8 1.05l0.8 1.05l0.8 -1.05zM1595.49 552.62l10.3 13.3l-10.3 13.3l-10.3 -13.3zM1595.49 564.87l-0.8 1.05l0.8 1.05l0.8 -1.05zM1605.42 525.5l10.3 13.3l-10.3 13.3l-10.3 -13.3zM1605.42 537.75l-0.8 1.05l0.8 1.05l0.8 -1.05zM1615.35 511.76l10.3 13.3l-10.3 13.3l-10.3 -13.3zM1615.35 524.01l-0.8 1.05l0.8 1.05l0.8 -1.05zM1625.28 499.87l10.3 13.3l-10.3 13.3l-10.3 -13.3zM1625.28 512.12l-0.8 1.05l0.8 1.05l0.8 -1.05zM1635.21 540.73l10.3 13.3l-10.3 13.3l-10.3 -13.3zM1635.21 552.98l-0.8 1.05l0.8 1.05l0.8 -1.05zM1645.14 515.48l10.3 13.3l-10.3 13.3l-10.3 -13.3zM1645.14 527.73l-0.8 1.05l0.8 1.05l0.8 -1.05zM1655.07 534.05l10.3 13.3l-10.3 13.3l-10.3 -13.3zM1655.07 546.3l-0.8 1.05l0.8 1.05l0.8 -1.05zM1665 556.33l10.3 13.3l-10.3 13.3l-10.3 -13.3zM1665 568.58l-0.8 1.05l0.8 1.05l0.8 -1.05zM1674.93 537.76l10.3 13.3l-10.3 13.3l-10.3 -13.3zM1674.93 550.01l-0.8 1.05l0.8 1.05l0.8 -1.05zM1684.86 508.05l10.3 13.3l-10.3 13.3l-10.3 -13.3zM1684.86 520.3l-0.8 1.05l0.8 1.05l0.8 -1.05zM1694.79 519.56l10.3 13.3l-10.3 13.3l-10.3 -13.3zM1694.79 531.81l-0.8 1.05l0.8 1.05l0.8 -1.05zM1704.72 537.76l10.3 13.3l-10.3 13.3l-10.3 -13.3zM1704.72 550.01l-0.8 1.05l0.8 1.05l0.8 -1.05zM1714.65 519.56l10.3 13.3l-10.3 13.3l-10.3 -13.3zM1714.65 531.81l-0.8 1.05l0.8 1.05l0.8 -1.05zM1724.58 543.71l10.3 13.3l-10.3 13.3l-10.3 -13.3zM1724.58 555.96l-0.8 1.05l0.8 1.05l0.8 -1.05zM1734.51 536.65l10.3 13.3l-10.3 13.3l-10.3 -13.3zM1734.51 548.9l-0.8 1.05l0.8 1.05l0.8 -1.05zM1744.44 582.34l10.3 13.3l-10.3 13.3l-10.3 -13.3zM1744.44 594.59l-0.8 1.05l0.8 1.05l0.8 -1.05zM1754.37 553.36l10.3 13.3l-10.3 13.3l-10.3 -13.3zM1754.37 565.61l-0.8 1.05l0.8 1.05l0.8 -1.05zM1764.3 460.5l10.3 13.3l-10.3 13.3l-10.3 -13.3zM1764.3 472.75l-0.8 1.05l0.8 1.05l0.8 -1.05zM1774.23 413.33l10.3 13.3l-10.3 13.3l-10.3 -13.3zM1774.23 425.58l-0.8 1.05l0.8 1.05l0.8 -1.05zM1784.16 365.41l10.3 13.3l-10.3 13.3l-10.3 -13.3zM1784.16 377.66l-0.8 1.05l0.8 1.05l0.8 -1.05zM1794.09 433.76l10.3 13.3l-10.3 13.3l-10.3 -13.3zM1794.09 446.01l-0.8 1.05l0.8 1.05l0.8 -1.05zM1804.02 431.53l10.3 13.3l-10.3 13.3l-10.3 -13.3zM1804.02 443.78l-0.8 1.05l0.8 1.05l0.8 -1.05zM1813.95 421.5l10.3 13.3l-10.3 13.3l-10.3 -13.3zM1813.95 433.75l-0.8 1.05l0.8 1.05l0.8 -1.05zM1823.88 410.36l10.3 13.3l-10.3 13.3l-10.3 -13.3zM1823.88 422.61l-0.8 1.05l0.8 1.05l0.8 -1.05zM1833.81 415.93l10.3 13.3l-10.3 13.3l-10.3 -13.3zM1833.81 428.18l-0.8 1.05l0.8 1.05l0.8 -1.05zM1843.74 397.73l10.3 13.3l-10.3 13.3l-10.3 -13.3zM1843.74 409.98l-0.8 1.05l0.8 1.05l0.8 -1.05zM1853.67 348.33l10.3 13.3l-10.3 13.3l-10.3 -13.3zM1853.67 360.58l-0.8 1.05l0.8 1.05l0.8 -1.05zM1863.6 399.21l10.3 13.3l-10.3 13.3l-10.3 -13.3zM1863.6 411.46l-0.8 1.05l0.8 1.05l0.8 -1.05zM1873.53 392.16l10.3 13.3l-10.3 13.3l-10.3 -13.3zM1873.53 404.41l-0.8 1.05l0.8 1.05l0.8 -1.05zM1883.46 353.53l10.3 13.3l-10.3 13.3l-10.3 -13.3zM1883.46 365.78l-0.8 1.05l0.8 1.05l0.8 -1.05zM1893.39 366.9l10.3 13.3l-10.3 13.3l-10.3 -13.3zM1893.39 379.15l-0.8 1.05l0.8 1.05l0.8 -1.05zM1903.32 382.13l10.3 13.3l-10.3 13.3l-10.3 -13.3zM1903.32 394.38l-0.8 1.05l0.8 1.05l0.8 -1.05zM1913.25 378.04l10.3 13.3l-10.3 13.3l-10.3 -13.3zM1913.25 390.29l-0.8 1.05l0.8 1.05l0.8 -1.05zM1923.18 434.13l10.3 13.3l-10.3 13.3l-10.3 -13.3zM1923.18 446.38l-0.8 1.05l0.8 1.05l0.8 -1.05zM1933.11 369.5l10.3 13.3l-10.3 13.3l-10.3 -13.3zM1933.11 381.75l-0.8 1.05l0.8 1.05l0.8 -1.05zM1943.04 387.33l10.3 13.3l-10.3 13.3l-10.3 -13.3zM1943.04 399.58l-0.8 1.05l0.8 1.05l0.8 -1.05zM1952.97 392.9l10.3 13.3l-10.3 13.3l-10.3 -13.3zM1952.97 405.15l-0.8 1.05l0.8 1.05l0.8 -1.05zM1962.9 373.96l10.3 13.3l-10.3 13.3l-10.3 -13.3zM1962.9 386.21l-0.8 1.05l0.8 1.05l0.8 -1.05zM1972.83 381.76l10.3 13.3l-10.3 13.3l-10.3 -13.3zM1972.83 394.01l-0.8 1.05l0.8 1.05l0.8 -1.05zM1982.76 368.75l10.3 13.3l-10.3 13.3l-10.3 -13.3zM1982.76 381l-0.8 1.05l0.8 1.05l0.8 -1.05zM1992.69 337.18l10.3 13.3l-10.3 13.3l-10.3 -13.3zM1992.69 349.43l-0.8 1.05l0.8 1.05l0.8 -1.05zM2002.62 368.75l10.3 13.3l-10.3 13.3l-10.3 -13.3zM2002.62 381l-0.8 1.05l0.8 1.05l0.8 -1.05zM2012.55 364.67l10.3 13.3l-10.3 13.3l-10.3 -13.3zM2012.55 376.92l-0.8 1.05l0.8 1.05l0.8 -1.05zM2022.48 370.61l10.3 13.3l-10.3 13.3l-10.3 -13.3zM2022.48 382.86l-0.8 1.05l0.8 1.05l0.8 -1.05zM2032.41 321.95l10.3 13.3l-10.3 13.3l-10.3 -13.3zM2032.41 334.2l-0.8 1.05l0.8 1.05l0.8 -1.05zM2042.34 349.07l10.3 13.3l-10.3 13.3l-10.3 -13.3zM2042.34 361.32l-0.8 1.05l0.8 1.05l0.8 -1.05zM2052.27 323.44l10.3 13.3l-10.3 13.3l-10.3 -13.3zM2052.27 335.69l-0.8 1.05l0.8 1.05l0.8 -1.05zM2062.2 359.1l10.3 13.3l-10.3 13.3l-10.3 -13.3zM2062.2 371.35l-0.8 1.05l0.8 1.05l0.8 -1.05zM2072.13 400.33l10.3 13.3l-10.3 13.3l-10.3 -13.3zM2072.13 412.58l-0.8 1.05l0.8 1.05l0.8 -1.05zM2082.06 471.27l10.3 13.3l-10.3 13.3l-10.3 -13.3zM2082.06 483.52l-0.8 1.05l0.8 1.05l0.8 -1.05zM2091.99 444.9l10.3 13.3l-10.3 13.3l-10.3 -13.3zM2091.99 457.15l-0.8 1.05l0.8 1.05l0.8 -1.05zM2101.92 499.5l10.3 13.3l-10.3 13.3l-10.3 -13.3zM2101.92 511.75l-0.8 1.05l0.8 1.05l0.8 -1.05zM2111.85 485.76l10.3 13.3l-10.3 13.3l-10.3 -13.3zM2111.85 498.01l-0.8 1.05l0.8 1.05l0.8 -1.05zM2121.78 467.19l10.3 13.3l-10.3 13.3l-10.3 -13.3zM2121.78 479.44l-0.8 1.05l0.8 1.05l0.8 -1.05zM2131.71 425.21l10.3 13.3l-10.3 13.3l-10.3 -13.3zM2131.71 437.46l-0.8 1.05l0.8 1.05l0.8 -1.05zM2141.64 495.42l10.3 13.3l-10.3 13.3l-10.3 -13.3zM2141.64 507.67l-0.8 1.05l0.8 1.05l0.8 -1.05zM2151.57 422.24l10.3 13.3l-10.3 13.3l-10.3 -13.3zM2151.57 434.49l-0.8 1.05l0.8 1.05l0.8 -1.05zM2161.5 425.21l10.3 13.3l-10.3 13.3l-10.3 -13.3zM2161.5 437.46l-0.8 1.05l0.8 1.05l0.8 -1.05zM2171.43 426.33l10.3 13.3l-10.3 13.3l-10.3 -13.3zM2171.43 438.58l-0.8 1.05l0.8 1.05l0.8 -1.05zM2181.36 416.3l10.3 13.3l-10.3 13.3l-10.3 -13.3zM2181.36 428.55l-0.8 1.05l0.8 1.05l0.8 -1.05zM2191.29 433.01l10.3 13.3l-10.3 13.3l-10.3 -13.3zM2191.29 445.26l-0.8 1.05l0.8 1.05l0.8 -1.05zM2201.22 444.9l10.3 13.3l-10.3 13.3l-10.3 -13.3zM2201.22 457.15l-0.8 1.05l0.8 1.05l0.8 -1.05zM2211.15 399.58l10.3 13.3l-10.3 13.3l-10.3 -13.3zM2211.15 411.83l-0.8 1.05l0.8 1.05l0.8 -1.05zM2221.08 423.36l10.3 13.3l-10.3 13.3l-10.3 -13.3zM2221.08 435.61l-0.8 1.05l0.8 1.05l0.8 -1.05zM2231.01 407.76l10.3 13.3l-10.3 13.3l-10.3 -13.3zM2231.01 420.01l-0.8 1.05l0.8 1.05l0.8 -1.05zM2240.94 417.79l10.3 13.3l-10.3 13.3l-10.3 -13.3zM2240.94 430.04l-0.8 1.05l0.8 1.05l0.8 -1.05zM2250.87 413.33l10.3 13.3l-10.3 13.3l-10.3 -13.3zM2250.87 425.58l-0.8 1.05l0.8 1.05l0.8 -1.05zM2260.8 391.78l10.3 13.3l-10.3 13.3l-10.3 -13.3zM2260.8 404.03l-0.8 1.05l0.8 1.05l0.8 -1.05zM2270.73 372.84l10.3 13.3l-10.3 13.3l-10.3 -13.3zM2270.73 385.09l-0.8 1.05l0.8 1.05l0.8 -1.05zM2280.66 353.15l10.3 13.3l-10.3 13.3l-10.3 -13.3zM2280.66 365.4l-0.8 1.05l0.8 1.05l0.8 -1.05zM2290.59 403.67l10.3 13.3l-10.3 13.3l-10.3 -13.3zM2290.59 415.92l-0.8 1.05l0.8 1.05l0.8 -1.05zM2300.52 410.73l10.3 13.3l-10.3 13.3l-10.3 -13.3zM2300.52 422.98l-0.8 1.05l0.8 1.05l0.8 -1.05zM2310.45 375.44l10.3 13.3l-10.3 13.3l-10.3 -13.3zM2310.45 387.69l-0.8 1.05l0.8 1.05l0.8 -1.05zM2320.38 402.19l10.3 13.3l-10.3 13.3l-10.3 -13.3zM2320.38 414.44l-0.8 1.05l0.8 1.05l0.8 -1.05zM2330.31 403.67l10.3 13.3l-10.3 13.3l-10.3 -13.3zM2330.31 415.92l-0.8 1.05l0.8 1.05l0.8 -1.05zM2340.24 454.19l10.3 13.3l-10.3 13.3l-10.3 -13.3zM2340.24 466.44l-0.8 1.05l0.8 1.05l0.8 -1.05zM2350.17 399.58l10.3 13.3l-10.3 13.3l-10.3 -13.3zM2350.17 411.83l-0.8 1.05l0.8 1.05l0.8 -1.05zM2360.1 379.9l10.3 13.3l-10.3 13.3l-10.3 -13.3zM2360.1 392.15l-0.8 1.05l0.8 1.05l0.8 -1.05z" fill="#7f2a2a" fill-rule="nonzero"/>
<path clip-path="url(#cb)" d="M1377 665.1L1387 647.6L1396.9 625.4L1406.8 582.3L1416.8 569.6L1426.7 543.6L1436.6 519.1L1446.5 487.9L1456.5 500.9L1466.4 516.1L1476.3 510.2L1486.3 482.3L1496.2 520.2L1506.1 539.9L1516 517.6L1526 520.2L1535.9 475.3L1545.8 484.2L1555.8 513.9L1565.7 478.3L1575.6 454.5L1585.6 450.8L1595.5 454.5L1605.4 435.9L1615.3 391.3L1625.3 413.6L1635.2 428.5L1645.1 376.5L1655.1 403.6L1665 433.3L1674.9 428.5L1684.9 380.2L1694.8 439.6L1704.7 430.3L1714.6 443.3L1724.6 398.8L1734.5 410.7L1744.4 376.5L1754.4 398.8L1764.3 415.1L1774.2 331.9L1784.2 290.7L1794.1 302.2L1804 286.6L1813.9 254.3L1823.9 279.5L1833.8 251.3L1843.7 268.8L1853.7 257.6L1863.6 229L1873.5 227.5L1883.5 261.3L1893.4 239L1903.3 231.6L1913.2 268.4L1923.2 262.8L1933.1 274L1943 268.4L1953 206.4L1962.9 205.2L1972.8 205.6L1982.8 224.2L1992.7 209.3L2002.6 180.7L2012.5 218.6L2022.5 187L2032.4 176.6L2042.3 224.2L2052.3 159.6L2062.2 193.4L2072.1 346.8L2082.1 372.8L2092 329.7L2101.9 315.6L2111.8 331.9L2121.8 308.5L2131.7 307L2141.6 262.1L2151.6 273.6L2161.5 320L2171.4 309.6L2181.4 302.2L2191.3 264.3L2201.2 251.7L2211.1 265L2221.1 257.6L2231 267.3L2240.9 248.7L2250.9 264.3L2260.8 284L2270.7 261.3L2280.7 268.4L2290.6 291.1L2300.5 261.3L2310.4 287.3L2320.4 217.9L2330.3 269.9L2340.2 253.9L2350.2 240.5L2360.1 299.6" fill="none" stroke="#ff00ff" stroke-width="7.3" stroke-linejoin="round"/>
<path d="M1367.33 665.1a9.7 9.7 0 1 1 19.4 0a9.7 9.7 0 1 1 -19.4 0zM1376.33 665.1a0.7 0.7 0 1 0 1.4 0a0.7 0.7 0 1 0 -1.4 0zM1377.26 647.64a9.7 9.7 0 1 1 19.4 0a9.7 9.7 0 1 1 -19.4 0zM1386.26 647.64a0.7 0.7 0 1 0 1.4 0a0.7 0.7 0 1 0 -1.4 0zM1387.19 625.35a9.7 9.7 0 1 1 19.4 0a9.7 9.7 0 1 1 -19.4 0zM1396.19 625.35a0.7 0.7 0 1 0 1.4 0a0.7 0.7 0 1 0 -1.4 0zM1397.12 582.26a9.7 9.7 0 1 1 19.4 0a9.7 9.7 0 1 1 -19.4 0zM1406.12 582.26a0.7 0.7 0 1 0 1.4 0a0.7 0.7 0 1 0 -1.4 0zM1407.05 569.63a9.7 9.7 0 1 1 19.4 0a9.7 9.7 0 1 1 -19.4 0zM1416.05 569.63a0.7 0.7 0 1 0 1.4 0a0.7 0.7 0 1 0 -1.4 0zM1416.98 543.63a9.7 9.7 0 1 1 19.4 0a9.7 9.7 0 1 1 -19.4 0zM1425.98 543.63a0.7 0.7 0 1 0 1.4 0a0.7 0.7 0 1 0 -1.4 0zM1426.91 519.12a9.7 9.7 0 1 1 19.4 0a9.7 9.7 0 1 1 -19.4 0zM1435.91 519.12a0.7 0.7 0 1 0 1.4 0a0.7 0.7 0 1 0 -1.4 0zM1436.84 487.92a9.7 9.7 0 1 1 19.4 0a9.7 9.7 0 1 1 -19.4 0zM1445.84 487.92a0.7 0.7 0 1 0 1.4 0a0.7 0.7 0 1 0 -1.4 0zM1446.77 500.92a9.7 9.7 0 1 1 19.4 0a9.7 9.7 0 1 1 -19.4 0zM1455.77 500.92a0.7 0.7 0 1 0 1.4 0a0.7 0.7 0 1 0 -1.4 0zM1456.7 516.15a9.7 9.7 0 1 1 19.4 0a9.7 9.7 0 1 1 -19.4 0zM1465.7 516.15a0.7 0.7 0 1 0 1.4 0a0.7 0.7 0 1 0 -1.4 0zM1466.63 510.2a9.7 9.7 0 1 1 19.4 0a9.7 9.7 0 1 1 -19.4 0zM1475.63 510.2a0.7 0.7 0 1 0 1.4 0a0.7 0.7 0 1 0 -1.4 0zM1476.56 482.35a9.7 9.7 0 1 1 19.4 0a9.7 9.7 0 1 1 -19.4 0zM1485.56 482.35a0.7 0.7 0 1 0 1.4 0a0.7 0.7 0 1 0 -1.4 0zM1486.49 520.23a9.7 9.7 0 1 1 19.4 0a9.7 9.7 0 1 1 -19.4 0zM1495.49 520.23a0.7 0.7 0 1 0 1.4 0a0.7 0.7 0 1 0 -1.4 0zM1496.42 539.92a9.7 9.7 0 1 1 19.4 0a9.7 9.7 0 1 1 -19.4 0zM1505.42 539.92a0.7 0.7 0 1 0 1.4 0a0.7 0.7 0 1 0 -1.4 0zM1506.35 517.63a9.7 9.7 0 1 1 19.4 0a9.7 9.7 0 1 1 -19.4 0zM1515.35 517.63a0.7 0.7 0 1 0 1.4 0a0.7 0.7 0 1 0 -1.4 0zM1516.28 520.23a9.7 9.7 0 1 1 19.4 0a9.7 9.7 0 1 1 -19.4 0zM1525.28 520.23a0.7 0.7 0 1 0 1.4 0a0.7 0.7 0 1 0 -1.4 0zM1526.21 475.29a9.7 9.7 0 1 1 19.4 0a9.7 9.7 0 1 1 -19.4 0zM1535.21 475.29a0.7 0.7 0 1 0 1.4 0a0.7 0.7 0 1 0 -1.4 0zM1536.14 484.2a9.7 9.7 0 1 1 19.4 0a9.7 9.7 0 1 1 -19.4 0zM1545.14 484.2a0.7 0.7 0 1 0 1.4 0a0.7 0.7 0 1 0 -1.4 0zM1546.07 513.92a9.7 9.7 0 1 1 19.4 0a9.7 9.7 0 1 1 -19.4 0zM1555.07 513.92a0.7 0.7 0 1 0 1.4 0a0.7 0.7 0 1 0 -1.4 0zM1556 478.26a9.7 9.7 0 1 1 19.4 0a9.7 9.7 0 1 1 -19.4 0zM1565 478.26a0.7 0.7 0 1 0 1.4 0a0.7 0.7 0 1 0 -1.4 0zM1565.93 454.49a9.7 9.7 0 1 1 19.4 0a9.7 9.7 0 1 1 -19.4 0zM1574.93 454.49a0.7 0.7 0 1 0 1.4 0a0.7 0.7 0 1 0 -1.4 0zM1575.86 450.77a9.7 9.7 0 1 1 19.4 0a9.7 9.7 0 1 1 -19.4 0zM1584.86 450.77a0.7 0.7 0 1 0 1.4 0a0.7 0.7 0 1 0 -1.4 0zM1585.79 454.49a9.7 9.7 0 1 1 19.4 0a9.7 9.7 0 1 1 -19.4 0zM1594.79 454.49a0.7 0.7 0 1 0 1.4 0a0.7 0.7 0 1 0 -1.4 0zM1595.72 435.91a9.7 9.7 0 1 1 19.4 0a9.7 9.7 0 1 1 -19.4 0zM1604.72 435.91a0.7 0.7 0 1 0 1.4 0a0.7 0.7 0 1 0 -1.4 0zM1605.65 391.34a9.7 9.7 0 1 1 19.4 0a9.7 9.7 0 1 1 -19.4 0zM1614.65 391.34a0.7 0.7 0 1 0 1.4 0a0.7 0.7 0 1 0 -1.4 0zM1615.58 413.63a9.7 9.7 0 1 1 19.4 0a9.7 9.7 0 1 1 -19.4 0zM1624.58 413.63a0.7 0.7 0 1 0 1.4 0a0.7 0.7 0 1 0 -1.4 0zM1625.51 428.49a9.7 9.7 0 1 1 19.4 0a9.7 9.7 0 1 1 -19.4 0zM1634.51 428.49a0.7 0.7 0 1 0 1.4 0a0.7 0.7 0 1 0 -1.4 0zM1635.44 376.48a9.7 9.7 0 1 1 19.4 0a9.7 9.7 0 1 1 -19.4 0zM1644.44 376.48a0.7 0.7 0 1 0 1.4 0a0.7 0.7 0 1 0 -1.4 0zM1645.37 403.6a9.7 9.7 0 1 1 19.4 0a9.7 9.7 0 1 1 -19.4 0zM1654.37 403.6a0.7 0.7 0 1 0 1.4 0a0.7 0.7 0 1 0 -1.4 0zM1655.3 433.31a9.7 9.7 0 1 1 19.4 0a9.7 9.7 0 1 1 -19.4 0zM1664.3 433.31a0.7 0.7 0 1 0 1.4 0a0.7 0.7 0 1 0 -1.4 0zM1665.23 428.49a9.7 9.7 0 1 1 19.4 0a9.7 9.7 0 1 1 -19.4 0zM1674.23 428.49a0.7 0.7 0 1 0 1.4 0a0.7 0.7 0 1 0 -1.4 0zM1675.16 380.2a9.7 9.7 0 1 1 19.4 0a9.7 9.7 0 1 1 -19.4 0zM1684.16 380.2a0.7 0.7 0 1 0 1.4 0a0.7 0.7 0 1 0 -1.4 0zM1685.09 439.63a9.7 9.7 0 1 1 19.4 0a9.7 9.7 0 1 1 -19.4 0zM1694.09 439.63a0.7 0.7 0 1 0 1.4 0a0.7 0.7 0 1 0 -1.4 0zM1695.02 430.34a9.7 9.7 0 1 1 19.4 0a9.7 9.7 0 1 1 -19.4 0zM1704.02 430.34a0.7 0.7 0 1 0 1.4 0a0.7 0.7 0 1 0 -1.4 0zM1704.95 443.34a9.7 9.7 0 1 1 19.4 0a9.7 9.7 0 1 1 -19.4 0zM1713.95 443.34a0.7 0.7 0 1 0 1.4 0a0.7 0.7 0 1 0 -1.4 0zM1714.88 398.77a9.7 9.7 0 1 1 19.4 0a9.7 9.7 0 1 1 -19.4 0zM1723.88 398.77a0.7 0.7 0 1 0 1.4 0a0.7 0.7 0 1 0 -1.4 0zM1724.81 410.66a9.7 9.7 0 1 1 19.4 0a9.7 9.7 0 1 1 -19.4 0zM1733.81 410.66a0.7 0.7 0 1 0 1.4 0a0.7 0.7 0 1 0 -1.4 0zM1734.74 376.48a9.7 9.7 0 1 1 19.4 0a9.7 9.7 0 1 1 -19.4 0zM1743.74 376.48a0.7 0.7 0 1 0 1.4 0a0.7 0.7 0 1 0 -1.4 0zM1744.67 398.77a9.7 9.7 0 1 1 19.4 0a9.7 9.7 0 1 1 -19.4 0zM1753.67 398.77a0.7 0.7 0 1 0 1.4 0a0.7 0.7 0 1 0 -1.4 0zM1754.6 415.11a9.7 9.7 0 1 1 19.4 0a9.7 9.7 0 1 1 -19.4 0zM1763.6 415.11a0.7 0.7 0 1 0 1.4 0a0.7 0.7 0 1 0 -1.4 0zM1764.53 331.91a9.7 9.7 0 1 1 19.4 0a9.7 9.7 0 1 1 -19.4 0zM1773.53 331.91a0.7 0.7 0 1 0 1.4 0a0.7 0.7 0 1 0 -1.4 0zM1774.46 290.68a9.7 9.7 0 1 1 19.4 0a9.7 9.7 0 1 1 -19.4 0zM1783.46 290.68a0.7 0.7 0 1 0 1.4 0a0.7 0.7 0 1 0 -1.4 0zM1784.39 302.19a9.7 9.7 0 1 1 19.4 0a9.7 9.7 0 1 1 -19.4 0zM1793.39 302.19a0.7 0.7 0 1 0 1.4 0a0.7 0.7 0 1 0 -1.4 0zM1794.32 286.59a9.7 9.7 0 1 1 19.4 0a9.7 9.7 0 1 1 -19.4 0zM1803.32 286.59a0.7 0.7 0 1 0 1.4 0a0.7 0.7 0 1 0 -1.4 0zM1804.25 254.28a9.7 9.7 0 1 1 19.4 0a9.7 9.7 0 1 1 -19.4 0zM1813.25 254.28a0.7 0.7 0 1 0 1.4 0a0.7 0.7 0 1 0 -1.4 0zM1814.18 279.54a9.7 9.7 0 1 1 19.4 0a9.7 9.7 0 1 1 -19.4 0zM1823.18 279.54a0.7 0.7 0 1 0 1.4 0a0.7 0.7 0 1 0 -1.4 0zM1824.11 251.31a9.7 9.7 0 1 1 19.4 0a9.7 9.7 0 1 1 -19.4 0zM1833.11 251.31a0.7 0.7 0 1 0 1.4 0a0.7 0.7 0 1 0 -1.4 0zM1834.04 268.76a9.7 9.7 0 1 1 19.4 0a9.7 9.7 0 1 1 -19.4 0zM1843.04 268.76a0.7 0.7 0 1 0 1.4 0a0.7 0.7 0 1 0 -1.4 0zM1843.97 257.62a9.7 9.7 0 1 1 19.4 0a9.7 9.7 0 1 1 -19.4 0zM1852.97 257.62a0.7 0.7 0 1 0 1.4 0a0.7 0.7 0 1 0 -1.4 0zM1853.9 229.02a9.7 9.7 0 1 1 19.4 0a9.7 9.7 0 1 1 -19.4 0zM1862.9 229.02a0.7 0.7 0 1 0 1.4 0a0.7 0.7 0 1 0 -1.4 0zM1863.83 227.53a9.7 9.7 0 1 1 19.4 0a9.7 9.7 0 1 1 -19.4 0zM1872.83 227.53a0.7 0.7 0 1 0 1.4 0a0.7 0.7 0 1 0 -1.4 0zM1873.76 261.34a9.7 9.7 0 1 1 19.4 0a9.7 9.7 0 1 1 -19.4 0zM1882.76 261.34a0.7 0.7 0 1 0 1.4 0a0.7 0.7 0 1 0 -1.4 0zM1883.69 239.05a9.7 9.7 0 1 1 19.4 0a9.7 9.7 0 1 1 -19.4 0zM1892.69 239.05a0.7 0.7 0 1 0 1.4 0a0.7 0.7 0 1 0 -1.4 0zM1893.62 231.62a9.7 9.7 0 1 1 19.4 0a9.7 9.7 0 1 1 -19.4 0zM1902.62 231.62a0.7 0.7 0 1 0 1.4 0a0.7 0.7 0 1 0 -1.4 0zM1903.55 268.39a9.7 9.7 0 1 1 19.4 0a9.7 9.7 0 1 1 -19.4 0zM1912.55 268.39a0.7 0.7 0 1 0 1.4 0a0.7 0.7 0 1 0 -1.4 0zM1913.48 262.82a9.7 9.7 0 1 1 19.4 0a9.7 9.7 0 1 1 -19.4 0zM1922.48 262.82a0.7 0.7 0 1 0 1.4 0a0.7 0.7 0 1 0 -1.4 0zM1923.41 273.96a9.7 9.7 0 1 1 19.4 0a9.7 9.7 0 1 1 -19.4 0zM1932.41 273.96a0.7 0.7 0 1 0 1.4 0a0.7 0.7 0 1 0 -1.4 0zM1933.34 268.39a9.7 9.7 0 1 1 19.4 0a9.7 9.7 0 1 1 -19.4 0zM1942.34 268.39a0.7 0.7 0 1 0 1.4 0a0.7 0.7 0 1 0 -1.4 0zM1943.27 206.36a9.7 9.7 0 1 1 19.4 0a9.7 9.7 0 1 1 -19.4 0zM1952.27 206.36a0.7 0.7 0 1 0 1.4 0a0.7 0.7 0 1 0 -1.4 0zM1953.2 205.25a9.7 9.7 0 1 1 19.4 0a9.7 9.7 0 1 1 -19.4 0zM1962.2 205.25a0.7 0.7 0 1 0 1.4 0a0.7 0.7 0 1 0 -1.4 0zM1963.13 205.62a9.7 9.7 0 1 1 19.4 0a9.7 9.7 0 1 1 -19.4 0zM1972.13 205.62a0.7 0.7 0 1 0 1.4 0a0.7 0.7 0 1 0 -1.4 0zM1973.06 224.19a9.7 9.7 0 1 1 19.4 0a9.7 9.7 0 1 1 -19.4 0zM1982.06 224.19a0.7 0.7 0 1 0 1.4 0a0.7 0.7 0 1 0 -1.4 0zM1982.99 209.33a9.7 9.7 0 1 1 19.4 0a9.7 9.7 0 1 1 -19.4 0zM1991.99 209.33a0.7 0.7 0 1 0 1.4 0a0.7 0.7 0 1 0 -1.4 0zM1992.92 180.73a9.7 9.7 0 1 1 19.4 0a9.7 9.7 0 1 1 -19.4 0zM2001.92 180.73a0.7 0.7 0 1 0 1.4 0a0.7 0.7 0 1 0 -1.4 0zM2002.85 218.62a9.7 9.7 0 1 1 19.4 0a9.7 9.7 0 1 1 -19.4 0zM2011.85 218.62a0.7 0.7 0 1 0 1.4 0a0.7 0.7 0 1 0 -1.4 0zM2012.78 187.05a9.7 9.7 0 1 1 19.4 0a9.7 9.7 0 1 1 -19.4 0zM2021.78 187.05a0.7 0.7 0 1 0 1.4 0a0.7 0.7 0 1 0 -1.4 0zM2022.71 176.65a9.7 9.7 0 1 1 19.4 0a9.7 9.7 0 1 1 -19.4 0zM2031.71 176.65a0.7 0.7 0 1 0 1.4 0a0.7 0.7 0 1 0 -1.4 0zM2032.64 224.19a9.7 9.7 0 1 1 19.4 0a9.7 9.7 0 1 1 -19.4 0zM2041.64 224.19a0.7 0.7 0 1 0 1.4 0a0.7 0.7 0 1 0 -1.4 0zM2042.57 159.56a9.7 9.7 0 1 1 19.4 0a9.7 9.7 0 1 1 -19.4 0zM2051.57 159.56a0.7 0.7 0 1 0 1.4 0a0.7 0.7 0 1 0 -1.4 0zM2052.5 193.36a9.7 9.7 0 1 1 19.4 0a9.7 9.7 0 1 1 -19.4 0zM2061.5 193.36a0.7 0.7 0 1 0 1.4 0a0.7 0.7 0 1 0 -1.4 0zM2062.43 346.77a9.7 9.7 0 1 1 19.4 0a9.7 9.7 0 1 1 -19.4 0zM2071.43 346.77a0.7 0.7 0 1 0 1.4 0a0.7 0.7 0 1 0 -1.4 0zM2072.36 372.77a9.7 9.7 0 1 1 19.4 0a9.7 9.7 0 1 1 -19.4 0zM2081.36 372.77a0.7 0.7 0 1 0 1.4 0a0.7 0.7 0 1 0 -1.4 0zM2082.29 329.68a9.7 9.7 0 1 1 19.4 0a9.7 9.7 0 1 1 -19.4 0zM2091.29 329.68a0.7 0.7 0 1 0 1.4 0a0.7 0.7 0 1 0 -1.4 0zM2092.22 315.57a9.7 9.7 0 1 1 19.4 0a9.7 9.7 0 1 1 -19.4 0zM2101.22 315.57a0.7 0.7 0 1 0 1.4 0a0.7 0.7 0 1 0 -1.4 0zM2102.15 331.91a9.7 9.7 0 1 1 19.4 0a9.7 9.7 0 1 1 -19.4 0zM2111.15 331.91a0.7 0.7 0 1 0 1.4 0a0.7 0.7 0 1 0 -1.4 0zM2112.08 308.51a9.7 9.7 0 1 1 19.4 0a9.7 9.7 0 1 1 -19.4 0zM2121.08 308.51a0.7 0.7 0 1 0 1.4 0a0.7 0.7 0 1 0 -1.4 0zM2122.01 307.02a9.7 9.7 0 1 1 19.4 0a9.7 9.7 0 1 1 -19.4 0zM2131.01 307.02a0.7 0.7 0 1 0 1.4 0a0.7 0.7 0 1 0 -1.4 0zM2131.94 262.08a9.7 9.7 0 1 1 19.4 0a9.7 9.7 0 1 1 -19.4 0zM2140.94 262.08a0.7 0.7 0 1 0 1.4 0a0.7 0.7 0 1 0 -1.4 0zM2141.87 273.59a9.7 9.7 0 1 1 19.4 0a9.7 9.7 0 1 1 -19.4 0zM2150.87 273.59a0.7 0.7 0 1 0 1.4 0a0.7 0.7 0 1 0 -1.4 0zM2151.8 320.02a9.7 9.7 0 1 1 19.4 0a9.7 9.7 0 1 1 -19.4 0zM2160.8 320.02a0.7 0.7 0 1 0 1.4 0a0.7 0.7 0 1 0 -1.4 0zM2161.73 309.62a9.7 9.7 0 1 1 19.4 0a9.7 9.7 0 1 1 -19.4 0zM2170.73 309.62a0.7 0.7 0 1 0 1.4 0a0.7 0.7 0 1 0 -1.4 0zM2171.66 302.19a9.7 9.7 0 1 1 19.4 0a9.7 9.7 0 1 1 -19.4 0zM2180.66 302.19a0.7 0.7 0 1 0 1.4 0a0.7 0.7 0 1 0 -1.4 0zM2181.59 264.31a9.7 9.7 0 1 1 19.4 0a9.7 9.7 0 1 1 -19.4 0zM2190.59 264.31a0.7 0.7 0 1 0 1.4 0a0.7 0.7 0 1 0 -1.4 0zM2191.52 251.68a9.7 9.7 0 1 1 19.4 0a9.7 9.7 0 1 1 -19.4 0zM2200.52 251.68a0.7 0.7 0 1 0 1.4 0a0.7 0.7 0 1 0 -1.4 0zM2201.45 265.05a9.7 9.7 0 1 1 19.4 0a9.7 9.7 0 1 1 -19.4 0zM2210.45 265.05a0.7 0.7 0 1 0 1.4 0a0.7 0.7 0 1 0 -1.4 0zM2211.38 257.62a9.7 9.7 0 1 1 19.4 0a9.7 9.7 0 1 1 -19.4 0zM2220.38 257.62a0.7 0.7 0 1 0 1.4 0a0.7 0.7 0 1 0 -1.4 0zM2221.31 267.28a9.7 9.7 0 1 1 19.4 0a9.7 9.7 0 1 1 -19.4 0zM2230.31 267.28a0.7 0.7 0 1 0 1.4 0a0.7 0.7 0 1 0 -1.4 0zM2231.24 248.71a9.7 9.7 0 1 1 19.4 0a9.7 9.7 0 1 1 -19.4 0zM2240.24 248.71a0.7 0.7 0 1 0 1.4 0a0.7 0.7 0 1 0 -1.4 0zM2241.17 264.31a9.7 9.7 0 1 1 19.4 0a9.7 9.7 0 1 1 -19.4 0zM2250.17 264.31a0.7 0.7 0 1 0 1.4 0a0.7 0.7 0 1 0 -1.4 0zM2251.1 283.99a9.7 9.7 0 1 1 19.4 0a9.7 9.7 0 1 1 -19.4 0zM2260.1 283.99a0.7 0.7 0 1 0 1.4 0a0.7 0.7 0 1 0 -1.4 0zM2261.03 261.34a9.7 9.7 0 1 1 19.4 0a9.7 9.7 0 1 1 -19.4 0zM2270.03 261.34a0.7 0.7 0 1 0 1.4 0a0.7 0.7 0 1 0 -1.4 0zM2270.96 268.39a9.7 9.7 0 1 1 19.4 0a9.7 9.7 0 1 1 -19.4 0zM2279.96 268.39a0.7 0.7 0 1 0 1.4 0a0.7 0.7 0 1 0 -1.4 0zM2280.89 291.05a9.7 9.7 0 1 1 19.4 0a9.7 9.7 0 1 1 -19.4 0zM2289.89 291.05a0.7 0.7 0 1 0 1.4 0a0.7 0.7 0 1 0 -1.4 0zM2290.82 261.34a9.7 9.7 0 1 1 19.4 0a9.7 9.7 0 1 1 -19.4 0zM2299.82 261.34a0.7 0.7 0 1 0 1.4 0a0.7 0.7 0 1 0 -1.4 0zM2300.75 287.34a9.7 9.7 0 1 1 19.4 0a9.7 9.7 0 1 1 -19.4 0zM2309.75 287.34a0.7 0.7 0 1 0 1.4 0a0.7 0.7 0 1 0 -1.4 0zM2310.68 217.88a9.7 9.7 0 1 1 19.4 0a9.7 9.7 0 1 1 -19.4 0zM2319.68 217.88a0.7 0.7 0 1 0 1.4 0a0.7 0.7 0 1 0 -1.4 0zM2320.61 269.88a9.7 9.7 0 1 1 19.4 0a9.7 9.7 0 1 1 -19.4 0zM2329.61 269.88a0.7 0.7 0 1 0 1.4 0a0.7 0.7 0 1 0 -1.4 0zM2330.54 253.91a9.7 9.7 0 1 1 19.4 0a9.7 9.7 0 1 1 -19.4 0zM2339.54 253.91a0.7 0.7 0 1 0 1.4 0a0.7 0.7 0 1 0 -1.4 0zM2340.47 240.53a9.7 9.7 0 1 1 19.4 0a9.7 9.7 0 1 1 -19.4 0zM2349.47 240.53a0.7 0.7 0 1 0 1.4 0a0.7 0.7 0 1 0 -1.4 0zM2350.4 299.59a9.7 9.7 0 1 1 19.4 0a9.7 9.7 0 1 1 -19.4 0zM2359.4 299.59a0.7 0.7 0 1 0 1.4 0a0.7 0.7 0 1 0 -1.4 0z" fill="#ff00ff" fill-rule="nonzero"/>
<path clip-path="url(#cb)" d="M1377 673.6L1387 636.5L1396.9 596.4L1406.8 621.6L1416.8 610.5L1426.7 636.9L1436.6 584.5L1446.5 547.7L1456.5 571.9L1466.4 561.1L1476.3 564.1L1486.3 552.9L1496.2 593.4L1506.1 580.8L1516 559.2L1526 583.7L1535.9 580.8L1545.8 613.1L1555.8 557L1565.7 500.9L1575.6 525.1L1585.6 514.7L1595.5 460.1L1605.4 516.1L1615.3 460.1L1625.3 448.9L1635.2 428.9L1645.1 502L1655.1 487.9L1665 468.2L1674.9 442.2L1684.9 496.5L1694.8 506.5L1704.7 510.2L1714.6 478.3L1724.6 510.2L1734.5 506.5L1744.4 513.2L1754.4 527.3L1764.3 431.8L1774.2 363.9L1784.2 393.6L1794.1 401.7L1804 368.3L1813.9 347.1L1823.9 318.9L1833.8 337.1L1843.7 351.2L1853.7 330.1L1863.6 352.7L1873.5 338.6L1883.5 343.1L1893.4 352.7L1903.3 309.3L1913.2 328.9L1923.2 331.5L1933.1 356.8L1943 369.4L1953 338.6L1962.9 318.9L1972.8 269.1L1982.8 313L1992.7 293.3L2002.6 302.2L2012.5 291.1L2022.5 265L2032.4 277.7L2042.3 287.3L2052.3 295.9L2062.2 238.3L2072.1 430L2082.1 373.9L2092 375L2101.9 372.4L2111.8 392.1L2121.8 392.1L2131.7 367.9L2141.6 399.1L2151.6 402.5L2161.5 359.8L2171.4 370.9L2181.4 359.8L2191.3 346.8L2201.2 282.5L2211.1 382.4L2221.1 373.9L2231 373.9L2240.9 351.6L2250.9 350.1L2260.8 357.2L2270.7 320.8L2280.7 366.8L2290.6 317.8L2300.5 343.1L2310.4 312.2L2320.4 321.9L2330.3 357.2L2340.2 313.3L2350.2 328.9L2360.1 350.1" fill="none" stroke="#a020f0" stroke-width="7.3" stroke-linejoin="round" stroke-dasharray="37 12 10 12"/>
<path d="M1367.33 673.64a9.7 9.7 0 1 1 19.4 0a9.7 9.7 0 1 1 -19.4 0zM1376.33 673.64a0.7 0.7 0 1 0 1.4 0a0.7 0.7 0 1 0 -1.4 0zM1377.26 636.49a9.7 9.7 0 1 1 19.4 0a9.7 9.7 0 1 1 -19.4 0zM1386.26 636.49a0.7 0.7 0 1 0 1.4 0a0.7 0.7 0 1 0 -1.4 0zM1387.19 596.38a9.7 9.7 0 1 1 19.4 0a9.7 9.7 0 1 1 -19.4 0zM1396.19 596.38a0.7 0.7 0 1 0 1.4 0a0.7 0.7 0 1 0 -1.4 0zM1397.12 621.64a9.7 9.7 0 1 1 19.4 0a9.7 9.7 0 1 1 -19.4 0zM1406.12 621.64a0.7 0.7 0 1 0 1.4 0a0.7 0.7 0 1 0 -1.4 0zM1407.05 610.49a9.7 9.7 0 1 1 19.4 0a9.7 9.7 0 1 1 -19.4 0zM1416.05 610.49a0.7 0.7 0 1 0 1.4 0a0.7 0.7 0 1 0 -1.4 0zM1416.98 636.87a9.7 9.7 0 1 1 19.4 0a9.7 9.7 0 1 1 -19.4 0zM1425.98 636.87a0.7 0.7 0 1 0 1.4 0a0.7 0.7 0 1 0 -1.4 0zM1426.91 584.49a9.7 9.7 0 1 1 19.4 0a9.7 9.7 0 1 1 -19.4 0zM1435.91 584.49a0.7 0.7 0 1 0 1.4 0a0.7 0.7 0 1 0 -1.4 0zM1436.84 547.72a9.7 9.7 0 1 1 19.4 0a9.7 9.7 0 1 1 -19.4 0zM1445.84 547.72a0.7 0.7 0 1 0 1.4 0a0.7 0.7 0 1 0 -1.4 0zM1446.77 571.86a9.7 9.7 0 1 1 19.4 0a9.7 9.7 0 1 1 -19.4 0zM1455.77 571.86a0.7 0.7 0 1 0 1.4 0a0.7 0.7 0 1 0 -1.4 0zM1456.7 561.09a9.7 9.7 0 1 1 19.4 0a9.7 9.7 0 1 1 -19.4 0zM1465.7 561.09a0.7 0.7 0 1 0 1.4 0a0.7 0.7 0 1 0 -1.4 0zM1466.63 564.06a9.7 9.7 0 1 1 19.4 0a9.7 9.7 0 1 1 -19.4 0zM1475.63 564.06a0.7 0.7 0 1 0 1.4 0a0.7 0.7 0 1 0 -1.4 0zM1476.56 552.92a9.7 9.7 0 1 1 19.4 0a9.7 9.7 0 1 1 -19.4 0zM1485.56 552.92a0.7 0.7 0 1 0 1.4 0a0.7 0.7 0 1 0 -1.4 0zM1486.49 593.41a9.7 9.7 0 1 1 19.4 0a9.7 9.7 0 1 1 -19.4 0zM1495.49 593.41a0.7 0.7 0 1 0 1.4 0a0.7 0.7 0 1 0 -1.4 0zM1496.42 580.78a9.7 9.7 0 1 1 19.4 0a9.7 9.7 0 1 1 -19.4 0zM1505.42 580.78a0.7 0.7 0 1 0 1.4 0a0.7 0.7 0 1 0 -1.4 0zM1506.35 559.23a9.7 9.7 0 1 1 19.4 0a9.7 9.7 0 1 1 -19.4 0zM1515.35 559.23a0.7 0.7 0 1 0 1.4 0a0.7 0.7 0 1 0 -1.4 0zM1516.28 583.75a9.7 9.7 0 1 1 19.4 0a9.7 9.7 0 1 1 -19.4 0zM1525.28 583.75a0.7 0.7 0 1 0 1.4 0a0.7 0.7 0 1 0 -1.4 0zM1526.21 580.78a9.7 9.7 0 1 1 19.4 0a9.7 9.7 0 1 1 -19.4 0zM1535.21 580.78a0.7 0.7 0 1 0 1.4 0a0.7 0.7 0 1 0 -1.4 0zM1536.14 613.09a9.7 9.7 0 1 1 19.4 0a9.7 9.7 0 1 1 -19.4 0zM1545.14 613.09a0.7 0.7 0 1 0 1.4 0a0.7 0.7 0 1 0 -1.4 0zM1546.07 557.01a9.7 9.7 0 1 1 19.4 0a9.7 9.7 0 1 1 -19.4 0zM1555.07 557.01a0.7 0.7 0 1 0 1.4 0a0.7 0.7 0 1 0 -1.4 0zM1556 500.92a9.7 9.7 0 1 1 19.4 0a9.7 9.7 0 1 1 -19.4 0zM1565 500.92a0.7 0.7 0 1 0 1.4 0a0.7 0.7 0 1 0 -1.4 0zM1565.93 525.06a9.7 9.7 0 1 1 19.4 0a9.7 9.7 0 1 1 -19.4 0zM1574.93 525.06a0.7 0.7 0 1 0 1.4 0a0.7 0.7 0 1 0 -1.4 0zM1575.86 514.66a9.7 9.7 0 1 1 19.4 0a9.7 9.7 0 1 1 -19.4 0zM1584.86 514.66a0.7 0.7 0 1 0 1.4 0a0.7 0.7 0 1 0 -1.4 0zM1585.79 460.06a9.7 9.7 0 1 1 19.4 0a9.7 9.7 0 1 1 -19.4 0zM1594.79 460.06a0.7 0.7 0 1 0 1.4 0a0.7 0.7 0 1 0 -1.4 0zM1595.72 516.15a9.7 9.7 0 1 1 19.4 0a9.7 9.7 0 1 1 -19.4 0zM1604.72 516.15a0.7 0.7 0 1 0 1.4 0a0.7 0.7 0 1 0 -1.4 0zM1605.65 460.06a9.7 9.7 0 1 1 19.4 0a9.7 9.7 0 1 1 -19.4 0zM1614.65 460.06a0.7 0.7 0 1 0 1.4 0a0.7 0.7 0 1 0 -1.4 0zM1615.58 448.91a9.7 9.7 0 1 1 19.4 0a9.7 9.7 0 1 1 -19.4 0zM1624.58 448.91a0.7 0.7 0 1 0 1.4 0a0.7 0.7 0 1 0 -1.4 0zM1625.51 428.86a9.7 9.7 0 1 1 19.4 0a9.7 9.7 0 1 1 -19.4 0zM1634.51 428.86a0.7 0.7 0 1 0 1.4 0a0.7 0.7 0 1 0 -1.4 0zM1635.44 502.03a9.7 9.7 0 1 1 19.4 0a9.7 9.7 0 1 1 -19.4 0zM1644.44 502.03a0.7 0.7 0 1 0 1.4 0a0.7 0.7 0 1 0 -1.4 0zM1645.37 487.92a9.7 9.7 0 1 1 19.4 0a9.7 9.7 0 1 1 -19.4 0zM1654.37 487.92a0.7 0.7 0 1 0 1.4 0a0.7 0.7 0 1 0 -1.4 0zM1655.3 468.23a9.7 9.7 0 1 1 19.4 0a9.7 9.7 0 1 1 -19.4 0zM1664.3 468.23a0.7 0.7 0 1 0 1.4 0a0.7 0.7 0 1 0 -1.4 0zM1665.23 442.23a9.7 9.7 0 1 1 19.4 0a9.7 9.7 0 1 1 -19.4 0zM1674.23 442.23a0.7 0.7 0 1 0 1.4 0a0.7 0.7 0 1 0 -1.4 0zM1675.16 496.46a9.7 9.7 0 1 1 19.4 0a9.7 9.7 0 1 1 -19.4 0zM1684.16 496.46a0.7 0.7 0 1 0 1.4 0a0.7 0.7 0 1 0 -1.4 0zM1685.09 506.49a9.7 9.7 0 1 1 19.4 0a9.7 9.7 0 1 1 -19.4 0zM1694.09 506.49a0.7 0.7 0 1 0 1.4 0a0.7 0.7 0 1 0 -1.4 0zM1695.02 510.2a9.7 9.7 0 1 1 19.4 0a9.7 9.7 0 1 1 -19.4 0zM1704.02 510.2a0.7 0.7 0 1 0 1.4 0a0.7 0.7 0 1 0 -1.4 0zM1704.95 478.26a9.7 9.7 0 1 1 19.4 0a9.7 9.7 0 1 1 -19.4 0zM1713.95 478.26a0.7 0.7 0 1 0 1.4 0a0.7 0.7 0 1 0 -1.4 0zM1714.88 510.2a9.7 9.7 0 1 1 19.4 0a9.7 9.7 0 1 1 -19.4 0zM1723.88 510.2a0.7 0.7 0 1 0 1.4 0a0.7 0.7 0 1 0 -1.4 0zM1724.81 506.49a9.7 9.7 0 1 1 19.4 0a9.7 9.7 0 1 1 -19.4 0zM1733.81 506.49a0.7 0.7 0 1 0 1.4 0a0.7 0.7 0 1 0 -1.4 0zM1734.74 513.17a9.7 9.7 0 1 1 19.4 0a9.7 9.7 0 1 1 -19.4 0zM1743.74 513.17a0.7 0.7 0 1 0 1.4 0a0.7 0.7 0 1 0 -1.4 0zM1744.67 527.29a9.7 9.7 0 1 1 19.4 0a9.7 9.7 0 1 1 -19.4 0zM1753.67 527.29a0.7 0.7 0 1 0 1.4 0a0.7 0.7 0 1 0 -1.4 0zM1754.6 431.83a9.7 9.7 0 1 1 19.4 0a9.7 9.7 0 1 1 -19.4 0zM1763.6 431.83a0.7 0.7 0 1 0 1.4 0a0.7 0.7 0 1 0 -1.4 0zM1764.53 363.85a9.7 9.7 0 1 1 19.4 0a9.7 9.7 0 1 1 -19.4 0zM1773.53 363.85a0.7 0.7 0 1 0 1.4 0a0.7 0.7 0 1 0 -1.4 0zM1774.46 393.57a9.7 9.7 0 1 1 19.4 0a9.7 9.7 0 1 1 -19.4 0zM1783.46 393.57a0.7 0.7 0 1 0 1.4 0a0.7 0.7 0 1 0 -1.4 0zM1784.39 401.74a9.7 9.7 0 1 1 19.4 0a9.7 9.7 0 1 1 -19.4 0zM1793.39 401.74a0.7 0.7 0 1 0 1.4 0a0.7 0.7 0 1 0 -1.4 0zM1794.32 368.31a9.7 9.7 0 1 1 19.4 0a9.7 9.7 0 1 1 -19.4 0zM1803.32 368.31a0.7 0.7 0 1 0 1.4 0a0.7 0.7 0 1 0 -1.4 0zM1804.25 347.14a9.7 9.7 0 1 1 19.4 0a9.7 9.7 0 1 1 -19.4 0zM1813.25 347.14a0.7 0.7 0 1 0 1.4 0a0.7 0.7 0 1 0 -1.4 0zM1814.18 318.91a9.7 9.7 0 1 1 19.4 0a9.7 9.7 0 1 1 -19.4 0zM1823.18 318.91a0.7 0.7 0 1 0 1.4 0a0.7 0.7 0 1 0 -1.4 0zM1824.11 337.11a9.7 9.7 0 1 1 19.4 0a9.7 9.7 0 1 1 -19.4 0zM1833.11 337.11a0.7 0.7 0 1 0 1.4 0a0.7 0.7 0 1 0 -1.4 0zM1834.04 351.23a9.7 9.7 0 1 1 19.4 0a9.7 9.7 0 1 1 -19.4 0zM1843.04 351.23a0.7 0.7 0 1 0 1.4 0a0.7 0.7 0 1 0 -1.4 0zM1843.97 330.05a9.7 9.7 0 1 1 19.4 0a9.7 9.7 0 1 1 -19.4 0zM1852.97 330.05a0.7 0.7 0 1 0 1.4 0a0.7 0.7 0 1 0 -1.4 0zM1853.9 352.71a9.7 9.7 0 1 1 19.4 0a9.7 9.7 0 1 1 -19.4 0zM1862.9 352.71a0.7 0.7 0 1 0 1.4 0a0.7 0.7 0 1 0 -1.4 0zM1863.83 338.6a9.7 9.7 0 1 1 19.4 0a9.7 9.7 0 1 1 -19.4 0zM1872.83 338.6a0.7 0.7 0 1 0 1.4 0a0.7 0.7 0 1 0 -1.4 0zM1873.76 343.05a9.7 9.7 0 1 1 19.4 0a9.7 9.7 0 1 1 -19.4 0zM1882.76 343.05a0.7 0.7 0 1 0 1.4 0a0.7 0.7 0 1 0 -1.4 0zM1883.69 352.71a9.7 9.7 0 1 1 19.4 0a9.7 9.7 0 1 1 -19.4 0zM1892.69 352.71a0.7 0.7 0 1 0 1.4 0a0.7 0.7 0 1 0 -1.4 0zM1893.62 309.25a9.7 9.7 0 1 1 19.4 0a9.7 9.7 0 1 1 -19.4 0zM1902.62 309.25a0.7 0.7 0 1 0 1.4 0a0.7 0.7 0 1 0 -1.4 0zM1903.55 328.94a9.7 9.7 0 1 1 19.4 0a9.7 9.7 0 1 1 -19.4 0zM1912.55 328.94a0.7 0.7 0 1 0 1.4 0a0.7 0.7 0 1 0 -1.4 0zM1913.48 331.54a9.7 9.7 0 1 1 19.4 0a9.7 9.7 0 1 1 -19.4 0zM1922.48 331.54a0.7 0.7 0 1 0 1.4 0a0.7 0.7 0 1 0 -1.4 0zM1923.41 356.8a9.7 9.7 0 1 1 19.4 0a9.7 9.7 0 1 1 -19.4 0zM1932.41 356.8a0.7 0.7 0 1 0 1.4 0a0.7 0.7 0 1 0 -1.4 0zM1933.34 369.43a9.7 9.7 0 1 1 19.4 0a9.7 9.7 0 1 1 -19.4 0zM1942.34 369.43a0.7 0.7 0 1 0 1.4 0a0.7 0.7 0 1 0 -1.4 0zM1943.27 338.6a9.7 9.7 0 1 1 19.4 0a9.7 9.7 0 1 1 -19.4 0zM1952.27 338.6a0.7 0.7 0 1 0 1.4 0a0.7 0.7 0 1 0 -1.4 0zM1953.2 318.91a9.7 9.7 0 1 1 19.4 0a9.7 9.7 0 1 1 -19.4 0zM1962.2 318.91a0.7 0.7 0 1 0 1.4 0a0.7 0.7 0 1 0 -1.4 0zM1963.13 269.14a9.7 9.7 0 1 1 19.4 0a9.7 9.7 0 1 1 -19.4 0zM1972.13 269.14a0.7 0.7 0 1 0 1.4 0a0.7 0.7 0 1 0 -1.4 0zM1973.06 312.97a9.7 9.7 0 1 1 19.4 0a9.7 9.7 0 1 1 -19.4 0zM1982.06 312.97a0.7 0.7 0 1 0 1.4 0a0.7 0.7 0 1 0 -1.4 0zM1982.99 293.28a9.7 9.7 0 1 1 19.4 0a9.7 9.7 0 1 1 -19.4 0zM1991.99 293.28a0.7 0.7 0 1 0 1.4 0a0.7 0.7 0 1 0 -1.4 0zM1992.92 302.19a9.7 9.7 0 1 1 19.4 0a9.7 9.7 0 1 1 -19.4 0zM2001.92 302.19a0.7 0.7 0 1 0 1.4 0a0.7 0.7 0 1 0 -1.4 0zM2002.85 291.05a9.7 9.7 0 1 1 19.4 0a9.7 9.7 0 1 1 -19.4 0zM2011.85 291.05a0.7 0.7 0 1 0 1.4 0a0.7 0.7 0 1 0 -1.4 0zM2012.78 265.05a9.7 9.7 0 1 1 19.4 0a9.7 9.7 0 1 1 -19.4 0zM2021.78 265.05a0.7 0.7 0 1 0 1.4 0a0.7 0.7 0 1 0 -1.4 0zM2022.71 277.68a9.7 9.7 0 1 1 19.4 0a9.7 9.7 0 1 1 -19.4 0zM2031.71 277.68a0.7 0.7 0 1 0 1.4 0a0.7 0.7 0 1 0 -1.4 0zM2032.64 287.34a9.7 9.7 0 1 1 19.4 0a9.7 9.7 0 1 1 -19.4 0zM2041.64 287.34a0.7 0.7 0 1 0 1.4 0a0.7 0.7 0 1 0 -1.4 0zM2042.57 295.88a9.7 9.7 0 1 1 19.4 0a9.7 9.7 0 1 1 -19.4 0zM2051.57 295.88a0.7 0.7 0 1 0 1.4 0a0.7 0.7 0 1 0 -1.4 0zM2052.5 238.31a9.7 9.7 0 1 1 19.4 0a9.7 9.7 0 1 1 -19.4 0zM2061.5 238.31a0.7 0.7 0 1 0 1.4 0a0.7 0.7 0 1 0 -1.4 0zM2062.43 429.97a9.7 9.7 0 1 1 19.4 0a9.7 9.7 0 1 1 -19.4 0zM2071.43 429.97a0.7 0.7 0 1 0 1.4 0a0.7 0.7 0 1 0 -1.4 0zM2072.36 373.88a9.7 9.7 0 1 1 19.4 0a9.7 9.7 0 1 1 -19.4 0zM2081.36 373.88a0.7 0.7 0 1 0 1.4 0a0.7 0.7 0 1 0 -1.4 0zM2082.29 375a9.7 9.7 0 1 1 19.4 0a9.7 9.7 0 1 1 -19.4 0zM2091.29 375a0.7 0.7 0 1 0 1.4 0a0.7 0.7 0 1 0 -1.4 0zM2092.22 372.4a9.7 9.7 0 1 1 19.4 0a9.7 9.7 0 1 1 -19.4 0zM2101.22 372.4a0.7 0.7 0 1 0 1.4 0a0.7 0.7 0 1 0 -1.4 0zM2102.15 392.08a9.7 9.7 0 1 1 19.4 0a9.7 9.7 0 1 1 -19.4 0zM2111.15 392.08a0.7 0.7 0 1 0 1.4 0a0.7 0.7 0 1 0 -1.4 0zM2112.08 392.08a9.7 9.7 0 1 1 19.4 0a9.7 9.7 0 1 1 -19.4 0zM2121.08 392.08a0.7 0.7 0 1 0 1.4 0a0.7 0.7 0 1 0 -1.4 0zM2122.01 367.94a9.7 9.7 0 1 1 19.4 0a9.7 9.7 0 1 1 -19.4 0zM2131.01 367.94a0.7 0.7 0 1 0 1.4 0a0.7 0.7 0 1 0 -1.4 0zM2131.94 399.14a9.7 9.7 0 1 1 19.4 0a9.7 9.7 0 1 1 -19.4 0zM2140.94 399.14a0.7 0.7 0 1 0 1.4 0a0.7 0.7 0 1 0 -1.4 0zM2141.87 402.48a9.7 9.7 0 1 1 19.4 0a9.7 9.7 0 1 1 -19.4 0zM2150.87 402.48a0.7 0.7 0 1 0 1.4 0a0.7 0.7 0 1 0 -1.4 0zM2151.8 359.77a9.7 9.7 0 1 1 19.4 0a9.7 9.7 0 1 1 -19.4 0zM2160.8 359.77a0.7 0.7 0 1 0 1.4 0a0.7 0.7 0 1 0 -1.4 0zM2161.73 370.91a9.7 9.7 0 1 1 19.4 0a9.7 9.7 0 1 1 -19.4 0zM2170.73 370.91a0.7 0.7 0 1 0 1.4 0a0.7 0.7 0 1 0 -1.4 0zM2171.66 359.77a9.7 9.7 0 1 1 19.4 0a9.7 9.7 0 1 1 -19.4 0zM2180.66 359.77a0.7 0.7 0 1 0 1.4 0a0.7 0.7 0 1 0 -1.4 0zM2181.59 346.77a9.7 9.7 0 1 1 19.4 0a9.7 9.7 0 1 1 -19.4 0zM2190.59 346.77a0.7 0.7 0 1 0 1.4 0a0.7 0.7 0 1 0 -1.4 0zM2191.52 282.51a9.7 9.7 0 1 1 19.4 0a9.7 9.7 0 1 1 -19.4 0zM2200.52 282.51a0.7 0.7 0 1 0 1.4 0a0.7 0.7 0 1 0 -1.4 0zM2201.45 382.43a9.7 9.7 0 1 1 19.4 0a9.7 9.7 0 1 1 -19.4 0zM2210.45 382.43a0.7 0.7 0 1 0 1.4 0a0.7 0.7 0 1 0 -1.4 0zM2211.38 373.88a9.7 9.7 0 1 1 19.4 0a9.7 9.7 0 1 1 -19.4 0zM2220.38 373.88a0.7 0.7 0 1 0 1.4 0a0.7 0.7 0 1 0 -1.4 0zM2221.31 373.88a9.7 9.7 0 1 1 19.4 0a9.7 9.7 0 1 1 -19.4 0zM2230.31 373.88a0.7 0.7 0 1 0 1.4 0a0.7 0.7 0 1 0 -1.4 0zM2231.24 351.6a9.7 9.7 0 1 1 19.4 0a9.7 9.7 0 1 1 -19.4 0zM2240.24 351.6a0.7 0.7 0 1 0 1.4 0a0.7 0.7 0 1 0 -1.4 0zM2241.17 350.11a9.7 9.7 0 1 1 19.4 0a9.7 9.7 0 1 1 -19.4 0zM2250.17 350.11a0.7 0.7 0 1 0 1.4 0a0.7 0.7 0 1 0 -1.4 0zM2251.1 357.17a9.7 9.7 0 1 1 19.4 0a9.7 9.7 0 1 1 -19.4 0zM2260.1 357.17a0.7 0.7 0 1 0 1.4 0a0.7 0.7 0 1 0 -1.4 0zM2261.03 320.77a9.7 9.7 0 1 1 19.4 0a9.7 9.7 0 1 1 -19.4 0zM2270.03 320.77a0.7 0.7 0 1 0 1.4 0a0.7 0.7 0 1 0 -1.4 0zM2270.96 366.83a9.7 9.7 0 1 1 19.4 0a9.7 9.7 0 1 1 -19.4 0zM2279.96 366.83a0.7 0.7 0 1 0 1.4 0a0.7 0.7 0 1 0 -1.4 0zM2280.89 317.8a9.7 9.7 0 1 1 19.4 0a9.7 9.7 0 1 1 -19.4 0zM2289.89 317.8a0.7 0.7 0 1 0 1.4 0a0.7 0.7 0 1 0 -1.4 0zM2290.82 343.05a9.7 9.7 0 1 1 19.4 0a9.7 9.7 0 1 1 -19.4 0zM2299.82 343.05a0.7 0.7 0 1 0 1.4 0a0.7 0.7 0 1 0 -1.4 0zM2300.75 312.22a9.7 9.7 0 1 1 19.4 0a9.7 9.7 0 1 1 -19.4 0zM2309.75 312.22a0.7 0.7 0 1 0 1.4 0a0.7 0.7 0 1 0 -1.4 0zM2310.68 321.88a9.7 9.7 0 1 1 19.4 0a9.7 9.7 0 1 1 -19.4 0zM2319.68 321.88a0.7 0.7 0 1 0 1.4 0a0.7 0.7 0 1 0 -1.4 0zM2320.61 357.17a9.7 9.7 0 1 1 19.4 0a9.7 9.7 0 1 1 -19.4 0zM2329.61 357.17a0.7 0.7 0 1 0 1.4 0a0.7 0.7 0 1 0 -1.4 0zM2330.54 313.34a9.7 9.7 0 1 1 19.4 0a9.7 9.7 0 1 1 -19.4 0zM2339.54 313.34a0.7 0.7 0 1 0 1.4 0a0.7 0.7 0 1 0 -1.4 0zM2340.47 328.94a9.7 9.7 0 1 1 19.4 0a9.7 9.7 0 1 1 -19.4 0zM2349.47 328.94a0.7 0.7 0 1 0 1.4 0a0.7 0.7 0 1 0 -1.4 0zM2350.4 350.11a9.7 9.7 0 1 1 19.4 0a9.7 9.7 0 1 1 -19.4 0zM2359.4 350.11a0.7 0.7 0 1 0 1.4 0a0.7 0.7 0 1 0 -1.4 0z" fill="#a020f0" fill-rule="nonzero"/>
<path clip-path="url(#cb)" d="M1377 710.8L1387 645.4L1396.9 609L1406.8 621.6L1416.8 551.4L1426.7 465.6L1436.6 487.9L1446.5 503.5L1456.5 478.3L1466.4 484.2L1476.3 505L1486.3 478.3L1496.2 506.5L1506.1 482.3L1516 465.6L1526 502L1535.9 513.5L1545.8 531.7L1555.8 474.2L1565.7 430L1575.6 460.1L1585.6 432.2L1595.5 447.1L1605.4 406.6L1615.3 372.8L1625.3 396.5L1635.2 423.3L1645.1 465.6L1655.1 374.3L1665 385.4L1674.9 383.9L1684.9 413.6L1694.8 437.4L1704.7 492.4L1714.6 443.3L1724.6 395.1L1734.5 385.4L1744.4 392.5L1754.4 374.3L1764.3 358.3L1774.2 271L1784.2 297.7L1794.1 309.3L1804 311.9L1813.9 303.3L1823.9 290.7L1833.8 282.5L1843.7 255.8L1853.7 248.7L1863.6 239L1873.5 268.4L1883.5 248.7L1893.4 244.6L1903.3 227.5L1913.2 200.8L1923.2 234.6L1933.1 178.5L1943 222L1953 245.7L1962.9 216.4L1972.8 197.4L1982.8 246.8L1992.7 211.6L2002.6 223.1L2012.5 197.4L2022.5 162.5L2032.4 213L2042.3 187.8L2052.3 193.4L2062.2 218.6L2072.1 321.1L2082.1 326.7L2092 343.8L2101.9 363.5L2111.8 307L2121.8 365L2131.7 329.7L2141.6 321.1L2151.6 302.9L2161.5 284.7L2171.4 303.7L2181.4 274L2191.3 293.7L2201.2 282.5L2211.1 269.9L2221.1 223.4L2231 243.1L2240.9 261.3L2250.9 268.4L2260.8 272.9L2270.7 288.1L2280.7 241.6L2290.6 209.3L2300.5 251.7L2310.4 240.5L2320.4 300.7L2330.3 302.2L2340.2 285.5L2350.2 226.4L2360.1 217.9" fill="none" stroke="#ff0000" stroke-width="7.3" stroke-linejoin="round"/>
<path d="M1372.5 706.2l9.1 9.1M1372.5 715.3l9.1 -9.1M1382.4 640.9l9.1 9.1M1382.4 650l9.1 -9.1M1392.3 604.5l9.1 9.1M1392.3 613.6l9.1 -9.1M1402.3 617.1l9.1 9.1M1402.3 626.2l9.1 -9.1M1412.2 546.9l9.1 9.1M1412.2 556l9.1 -9.1M1422.1 461.1l9.1 9.1M1422.1 470.2l9.1 -9.1M1432.1 483.4l9.1 9.1M1432.1 492.5l9.1 -9.1M1442 499l9.1 9.1M1442 508.1l9.1 -9.1M1451.9 473.7l9.1 9.1M1451.9 482.8l9.1 -9.1M1461.8 479.7l9.1 9.1M1461.8 488.8l9.1 -9.1M1471.8 500.5l9.1 9.1M1471.8 509.6l9.1 -9.1M1481.7 473.7l9.1 9.1M1481.7 482.8l9.1 -9.1M1491.6 501.9l9.1 9.1M1491.6 511l9.1 -9.1M1501.6 477.8l9.1 9.1M1501.6 486.9l9.1 -9.1M1511.5 461.1l9.1 9.1M1511.5 470.2l9.1 -9.1M1521.4 497.5l9.1 9.1M1521.4 506.6l9.1 -9.1M1531.4 509l9.1 9.1M1531.4 518.1l9.1 -9.1M1541.3 527.2l9.1 9.1M1541.3 536.3l9.1 -9.1M1551.2 469.6l9.1 9.1M1551.2 478.7l9.1 -9.1M1561.1 425.4l9.1 9.1M1561.1 434.5l9.1 -9.1M1571.1 455.5l9.1 9.1M1571.1 464.6l9.1 -9.1M1581 427.6l9.1 9.1M1581 436.8l9.1 -9.1M1590.9 442.5l9.1 9.1M1590.9 451.6l9.1 -9.1M1600.9 402l9.1 9.1M1600.9 411.1l9.1 -9.1M1610.8 368.2l9.1 9.1M1610.8 377.3l9.1 -9.1M1620.7 392l9.1 9.1M1620.7 401.1l9.1 -9.1M1630.7 418.7l9.1 9.1M1630.7 427.8l9.1 -9.1M1640.6 461.1l9.1 9.1M1640.6 470.2l9.1 -9.1M1650.5 369.7l9.1 9.1M1650.5 378.8l9.1 -9.1M1660.5 380.8l9.1 9.1M1660.5 389.9l9.1 -9.1M1670.4 379.4l9.1 9.1M1670.4 388.5l9.1 -9.1M1680.3 409.1l9.1 9.1M1680.3 418.2l9.1 -9.1M1690.2 432.9l9.1 9.1M1690.2 442l9.1 -9.1M1700.2 487.8l9.1 9.1M1700.2 496.9l9.1 -9.1M1710.1 438.8l9.1 9.1M1710.1 447.9l9.1 -9.1M1720 390.5l9.1 9.1M1720 399.6l9.1 -9.1M1730 380.8l9.1 9.1M1730 389.9l9.1 -9.1M1739.9 387.9l9.1 9.1M1739.9 397l9.1 -9.1M1749.8 369.7l9.1 9.1M1749.8 378.8l9.1 -9.1M1759.8 353.7l9.1 9.1M1759.8 362.8l9.1 -9.1M1769.7 266.4l9.1 9.1M1769.7 275.5l9.1 -9.1M1779.6 293.2l9.1 9.1M1779.6 302.3l9.1 -9.1M1789.5 304.7l9.1 9.1M1789.5 313.8l9.1 -9.1M1799.5 307.3l9.1 9.1M1799.5 316.4l9.1 -9.1M1809.4 298.8l9.1 9.1M1809.4 307.9l9.1 -9.1M1819.3 286.1l9.1 9.1M1819.3 295.2l9.1 -9.1M1829.3 278l9.1 9.1M1829.3 287.1l9.1 -9.1M1839.2 251.2l9.1 9.1M1839.2 260.3l9.1 -9.1M1849.1 244.2l9.1 9.1M1849.1 253.3l9.1 -9.1M1859 234.5l9.1 9.1M1859 243.6l9.1 -9.1M1869 263.8l9.1 9.1M1869 272.9l9.1 -9.1M1878.9 244.2l9.1 9.1M1878.9 253.3l9.1 -9.1M1888.8 240.1l9.1 9.1M1888.8 249.2l9.1 -9.1M1898.8 223l9.1 9.1M1898.8 232.1l9.1 -9.1M1908.7 196.2l9.1 9.1M1908.7 205.3l9.1 -9.1M1918.6 230l9.1 9.1M1918.6 239.1l9.1 -9.1M1928.6 174l9.1 9.1M1928.6 183.1l9.1 -9.1M1938.5 217.4l9.1 9.1M1938.5 226.5l9.1 -9.1M1948.4 241.2l9.1 9.1M1948.4 250.3l9.1 -9.1M1958.3 211.8l9.1 9.1M1958.3 220.9l9.1 -9.1M1968.3 192.9l9.1 9.1M1968.3 202l9.1 -9.1M1978.2 242.3l9.1 9.1M1978.2 251.4l9.1 -9.1M1988.1 207l9.1 9.1M1988.1 216.1l9.1 -9.1M1998.1 218.5l9.1 9.1M1998.1 227.6l9.1 -9.1M2008 192.9l9.1 9.1M2008 202l9.1 -9.1M2017.9 158l9.1 9.1M2017.9 167.1l9.1 -9.1M2027.9 208.5l9.1 9.1M2027.9 217.6l9.1 -9.1M2037.8 183.2l9.1 9.1M2037.8 192.3l9.1 -9.1M2047.7 188.8l9.1 9.1M2047.7 197.9l9.1 -9.1M2057.6 214.1l9.1 9.1M2057.6 223.2l9.1 -9.1M2067.6 316.6l9.1 9.1M2067.6 325.7l9.1 -9.1M2077.5 322.2l9.1 9.1M2077.5 331.3l9.1 -9.1M2087.4 339.2l9.1 9.1M2087.4 348.3l9.1 -9.1M2097.4 358.9l9.1 9.1M2097.4 368l9.1 -9.1M2107.3 302.5l9.1 9.1M2107.3 311.6l9.1 -9.1M2117.2 360.4l9.1 9.1M2117.2 369.5l9.1 -9.1M2127.2 325.1l9.1 9.1M2127.2 334.2l9.1 -9.1M2137.1 316.6l9.1 9.1M2137.1 325.7l9.1 -9.1M2147 298.4l9.1 9.1M2147 307.5l9.1 -9.1M2156.9 280.2l9.1 9.1M2156.9 289.3l9.1 -9.1M2166.9 299.1l9.1 9.1M2166.9 308.2l9.1 -9.1M2176.8 269.4l9.1 9.1M2176.8 278.5l9.1 -9.1M2186.7 289.1l9.1 9.1M2186.7 298.2l9.1 -9.1M2196.7 278l9.1 9.1M2196.7 287.1l9.1 -9.1M2206.6 265.3l9.1 9.1M2206.6 274.4l9.1 -9.1M2216.5 218.9l9.1 9.1M2216.5 228l9.1 -9.1M2226.5 238.6l9.1 9.1M2226.5 247.7l9.1 -9.1M2236.4 256.8l9.1 9.1M2236.4 265.9l9.1 -9.1M2246.3 263.8l9.1 9.1M2246.3 272.9l9.1 -9.1M2256.2 268.3l9.1 9.1M2256.2 277.4l9.1 -9.1M2266.2 283.5l9.1 9.1M2266.2 292.6l9.1 -9.1M2276.1 237.1l9.1 9.1M2276.1 246.2l9.1 -9.1M2286 204.8l9.1 9.1M2286 213.9l9.1 -9.1M2296 247.1l9.1 9.1M2296 256.2l9.1 -9.1M2305.9 236l9.1 9.1M2305.9 245.1l9.1 -9.1M2315.8 296.2l9.1 9.1M2315.8 305.3l9.1 -9.1M2325.8 297.6l9.1 9.1M2325.8 306.7l9.1 -9.1M2335.7 280.9l9.1 9.1M2335.7 290l9.1 -9.1M2345.6 221.9l9.1 9.1M2345.6 231l9.1 -9.1M2355.5 213.3l9.1 9.1M2355.5 222.4l9.1 -9.1" stroke="#ff0000" stroke-width="7.2" stroke-linecap="butt" fill="none"/>
<path clip-path="url(#cb)" d="M1377 736.8L1387 703.4L1396.9 669.9L1406.8 646.9L1416.8 590.8L1426.7 566.7L1436.6 575.2L1446.5 534.3L1456.5 516.1L1466.4 572.2L1476.3 580.8L1486.3 572.2L1496.2 604.6L1506.1 583.7L1516 591.9L1526 628.7L1535.9 590.8L1545.8 545.9L1555.8 575.2L1565.7 545.9L1575.6 514.7L1585.6 525.8L1595.5 547.3L1605.4 542.9L1615.3 479.7L1625.3 478.3L1635.2 453L1645.1 441.5L1655.1 476.8L1665 512.1L1674.9 480.9L1684.9 464.1L1694.8 454.5L1704.7 496.5L1714.6 513.2L1724.6 505L1734.5 499.4L1744.4 467.1L1754.4 457.1L1764.3 428.9L1774.2 401.7L1784.2 400.6L1794.1 386.5L1804 369.4L1813.9 318.9L1823.9 331.5L1833.8 297.7L1843.7 338.6L1853.7 356.8L1863.6 303.3L1873.5 311.9L1883.5 326L1893.4 351.2L1903.3 324.5L1913.2 335.6L1923.2 359.8L1933.1 331.5L1943 342.7L1953 317.4L1962.9 286.6L1972.8 314.1L1982.8 268L1992.7 328.2L2002.6 259.5L2012.5 307L2022.5 261L2032.4 246.8L2042.3 287.3L2052.3 255L2062.2 273.6L2072.1 373.9L2082.1 393.6L2092 435.5L2101.9 435.5L2111.8 442.6L2121.8 459.3L2131.7 378L2141.6 427L2151.6 411.8L2161.5 367.9L2171.4 336L2181.4 326L2191.3 334.5L2201.2 350.1L2211.1 379.5L2221.1 348.6L2231 343.1L2240.9 331.9L2250.9 314.8L2260.8 340.1L2270.7 317.8L2280.7 354.2L2290.6 320.8L2300.5 306.3L2310.4 331.9L2320.4 361.3L2330.3 357.2L2340.2 310.7L2350.2 327.5L2360.1 369.8" fill="none" stroke="#ff6600" stroke-width="7.3" stroke-linejoin="round" stroke-dasharray="37 12 10 12"/>
<path d="M1372.5 732.2l9.1 9.1M1372.5 741.3l9.1 -9.1M1382.4 698.8l9.1 9.1M1382.4 707.9l9.1 -9.1M1392.3 665.4l9.1 9.1M1392.3 674.5l9.1 -9.1M1402.3 642.3l9.1 9.1M1402.3 651.4l9.1 -9.1M1412.2 586.3l9.1 9.1M1412.2 595.4l9.1 -9.1M1422.1 562.1l9.1 9.1M1422.1 571.2l9.1 -9.1M1432.1 570.7l9.1 9.1M1432.1 579.8l9.1 -9.1M1442 529.8l9.1 9.1M1442 538.9l9.1 -9.1M1451.9 511.6l9.1 9.1M1451.9 520.7l9.1 -9.1M1461.8 567.7l9.1 9.1M1461.8 576.8l9.1 -9.1M1471.8 576.2l9.1 9.1M1471.8 585.3l9.1 -9.1M1481.7 567.7l9.1 9.1M1481.7 576.8l9.1 -9.1M1491.6 600l9.1 9.1M1491.6 609.1l9.1 -9.1M1501.6 579.2l9.1 9.1M1501.6 588.3l9.1 -9.1M1511.5 587.4l9.1 9.1M1511.5 596.5l9.1 -9.1M1521.4 624.1l9.1 9.1M1521.4 633.2l9.1 -9.1M1531.4 586.3l9.1 9.1M1531.4 595.4l9.1 -9.1M1541.3 541.3l9.1 9.1M1541.3 550.4l9.1 -9.1M1551.2 570.7l9.1 9.1M1551.2 579.8l9.1 -9.1M1561.1 541.3l9.1 9.1M1561.1 550.4l9.1 -9.1M1571.1 510.1l9.1 9.1M1571.1 519.2l9.1 -9.1M1581 521.3l9.1 9.1M1581 530.4l9.1 -9.1M1590.9 542.8l9.1 9.1M1590.9 551.9l9.1 -9.1M1600.9 538.3l9.1 9.1M1600.9 547.4l9.1 -9.1M1610.8 475.2l9.1 9.1M1610.8 484.3l9.1 -9.1M1620.7 473.7l9.1 9.1M1620.7 482.8l9.1 -9.1M1630.7 448.5l9.1 9.1M1630.7 457.6l9.1 -9.1M1640.6 436.9l9.1 9.1M1640.6 446l9.1 -9.1M1650.5 472.2l9.1 9.1M1650.5 481.3l9.1 -9.1M1660.5 507.5l9.1 9.1M1660.5 516.6l9.1 -9.1M1670.4 476.3l9.1 9.1M1670.4 485.4l9.1 -9.1M1680.3 459.6l9.1 9.1M1680.3 468.7l9.1 -9.1M1690.2 449.9l9.1 9.1M1690.2 459l9.1 -9.1M1700.2 491.9l9.1 9.1M1700.2 501l9.1 -9.1M1710.1 508.6l9.1 9.1M1710.1 517.7l9.1 -9.1M1720 500.5l9.1 9.1M1720 509.6l9.1 -9.1M1730 494.9l9.1 9.1M1730 504l9.1 -9.1M1739.9 462.6l9.1 9.1M1739.9 471.7l9.1 -9.1M1749.8 452.5l9.1 9.1M1749.8 461.6l9.1 -9.1M1759.8 424.3l9.1 9.1M1759.8 433.4l9.1 -9.1M1769.7 397.2l9.1 9.1M1769.7 406.3l9.1 -9.1M1779.6 396.1l9.1 9.1M1779.6 405.2l9.1 -9.1M1789.5 382l9.1 9.1M1789.5 391.1l9.1 -9.1M1799.5 364.9l9.1 9.1M1799.5 374l9.1 -9.1M1809.4 314.4l9.1 9.1M1809.4 323.5l9.1 -9.1M1819.3 327l9.1 9.1M1819.3 336.1l9.1 -9.1M1829.3 293.2l9.1 9.1M1829.3 302.3l9.1 -9.1M1839.2 334l9.1 9.1M1839.2 343.1l9.1 -9.1M1849.1 352.2l9.1 9.1M1849.1 361.3l9.1 -9.1M1859 298.8l9.1 9.1M1859 307.9l9.1 -9.1M1869 307.3l9.1 9.1M1869 316.4l9.1 -9.1M1878.9 321.4l9.1 9.1M1878.9 330.5l9.1 -9.1M1888.8 346.7l9.1 9.1M1888.8 355.8l9.1 -9.1M1898.8 319.9l9.1 9.1M1898.8 329l9.1 -9.1M1908.7 331.1l9.1 9.1M1908.7 340.2l9.1 -9.1M1918.6 355.2l9.1 9.1M1918.6 364.3l9.1 -9.1M1928.6 327l9.1 9.1M1928.6 336.1l9.1 -9.1M1938.5 338.1l9.1 9.1M1938.5 347.2l9.1 -9.1M1948.4 312.9l9.1 9.1M1948.4 322l9.1 -9.1M1958.3 282l9.1 9.1M1958.3 291.1l9.1 -9.1M1968.3 309.5l9.1 9.1M1968.3 318.6l9.1 -9.1M1978.2 263.5l9.1 9.1M1978.2 272.6l9.1 -9.1M1988.1 323.6l9.1 9.1M1988.1 332.7l9.1 -9.1M1998.1 254.9l9.1 9.1M1998.1 264l9.1 -9.1M2008 302.5l9.1 9.1M2008 311.6l9.1 -9.1M2017.9 256.4l9.1 9.1M2017.9 265.5l9.1 -9.1M2027.9 242.3l9.1 9.1M2027.9 251.4l9.1 -9.1M2037.8 282.8l9.1 9.1M2037.8 291.9l9.1 -9.1M2047.7 250.5l9.1 9.1M2047.7 259.6l9.1 -9.1M2057.6 269l9.1 9.1M2057.6 278.1l9.1 -9.1M2067.6 369.3l9.1 9.1M2067.6 378.4l9.1 -9.1M2077.5 389l9.1 9.1M2077.5 398.1l9.1 -9.1M2087.4 431l9.1 9.1M2087.4 440.1l9.1 -9.1M2097.4 431l9.1 9.1M2097.4 440.1l9.1 -9.1M2107.3 438.1l9.1 9.1M2107.3 447.2l9.1 -9.1M2117.2 454.8l9.1 9.1M2117.2 463.9l9.1 -9.1M2127.2 373.4l9.1 9.1M2127.2 382.5l9.1 -9.1M2137.1 422.4l9.1 9.1M2137.1 431.5l9.1 -9.1M2147 407.2l9.1 9.1M2147 416.3l9.1 -9.1M2156.9 363.4l9.1 9.1M2156.9 372.5l9.1 -9.1M2166.9 331.4l9.1 9.1M2166.9 340.5l9.1 -9.1M2176.8 321.4l9.1 9.1M2176.8 330.5l9.1 -9.1M2186.7 330l9.1 9.1M2186.7 339.1l9.1 -9.1M2196.7 345.6l9.1 9.1M2196.7 354.7l9.1 -9.1M2206.6 374.9l9.1 9.1M2206.6 384l9.1 -9.1M2216.5 344.1l9.1 9.1M2216.5 353.2l9.1 -9.1M2226.5 338.5l9.1 9.1M2226.5 347.6l9.1 -9.1M2236.4 327.4l9.1 9.1M2236.4 336.5l9.1 -9.1M2246.3 310.3l9.1 9.1M2246.3 319.4l9.1 -9.1M2256.2 335.5l9.1 9.1M2256.2 344.6l9.1 -9.1M2266.2 313.2l9.1 9.1M2266.2 322.3l9.1 -9.1M2276.1 349.6l9.1 9.1M2276.1 358.7l9.1 -9.1M2286 316.2l9.1 9.1M2286 325.3l9.1 -9.1M2296 301.7l9.1 9.1M2296 310.8l9.1 -9.1M2305.9 327.4l9.1 9.1M2305.9 336.5l9.1 -9.1M2315.8 356.7l9.1 9.1M2315.8 365.8l9.1 -9.1M2325.8 352.6l9.1 9.1M2325.8 361.7l9.1 -9.1M2335.7 306.2l9.1 9.1M2335.7 315.3l9.1 -9.1M2345.6 322.9l9.1 9.1M2345.6 332l9.1 -9.1M2355.5 365.2l9.1 9.1M2355.5 374.3l9.1 -9.1" stroke="#ff6600" stroke-width="7.2" stroke-linecap="butt" fill="none"/>
<path clip-path="url(#cb)" d="M1377 747.9L1387 714.5L1396.9 668.4L1406.8 658.8L1416.8 681.1L1426.7 658.4L1436.6 625.4L1446.5 678.1L1456.5 656.6L1466.4 622L1476.3 615.7L1486.3 629.1L1496.2 648L1506.1 642.4L1516 643.2L1526 651L1535.9 685.9L1545.8 630.6L1555.8 649.5L1565.7 610.9L1575.6 580.8L1585.6 565.9L1595.5 569.6L1605.4 581.9L1615.3 562.2L1625.3 526.5L1635.2 616.4L1645.1 575.6L1655.1 593L1665 537.7L1674.9 556.6L1684.9 557.4L1694.8 549.6L1704.7 564.4L1714.6 574.1L1724.6 606.8L1734.5 597.5L1744.4 614.2L1754.4 550.3L1764.3 509.5L1774.2 495.3L1784.2 485.3L1794.1 445.2L1804 462.7L1813.9 468.2L1823.9 455.6L1833.8 470.5L1843.7 467.5L1853.7 484.6L1863.6 449.3L1873.5 468.2L1883.5 424.8L1893.4 441.5L1903.3 442.2L1913.2 458.6L1923.2 422.5L1933.1 485.3L1943 448.5L1953 427.7L1962.9 422.5L1972.8 385.4L1982.8 408.4L1992.7 409.2L2002.6 417.7L2012.5 402.5L2022.5 375.7L2032.4 446.7L2042.3 412.1L2052.3 409.2L2062.2 432.6L2072.1 516.9L2082.1 522.5L2092 538.4L2101.9 501.3L2111.8 528.8L2121.8 564.4L2131.7 525.8L2141.6 532.1L2151.6 495.7L2161.5 451.5L2171.4 484.2L2181.4 505L2191.3 472.3L2201.2 447.4L2211.1 466.4L2221.1 498.3L2231 466.4L2240.9 474.9L2250.9 488.3L2260.8 498.3L2270.7 516.5L2280.7 474.2L2290.6 459.7L2300.5 452.6L2310.4 447.1L2320.4 493.1L2330.3 467.9L2340.2 491.3L2350.2 466L2360.1 444.8" fill="none" stroke="#0000ff" stroke-width="7.3" stroke-linejoin="round"/>
<path d="M1377.03 733.03l12.6 22.2l-25.2 0zM1386.96 699.6l12.6 22.2l-25.2 0zM1396.89 653.54l12.6 22.2l-25.2 0zM1406.82 643.88l12.6 22.2l-25.2 0zM1416.75 666.17l12.6 22.2l-25.2 0zM1426.68 643.51l12.6 22.2l-25.2 0zM1436.61 610.45l12.6 22.2l-25.2 0zM1446.54 663.2l12.6 22.2l-25.2 0zM1456.47 641.65l12.6 22.2l-25.2 0zM1466.4 607.11l12.6 22.2l-25.2 0zM1476.33 600.79l12.6 22.2l-25.2 0zM1486.26 614.17l12.6 22.2l-25.2 0zM1496.19 633.11l12.6 22.2l-25.2 0zM1506.12 627.54l12.6 22.2l-25.2 0zM1516.05 628.28l12.6 22.2l-25.2 0zM1525.98 636.08l12.6 22.2l-25.2 0zM1535.91 671l12.6 22.2l-25.2 0zM1545.84 615.65l12.6 22.2l-25.2 0zM1555.77 634.6l12.6 22.2l-25.2 0zM1565.7 595.96l12.6 22.2l-25.2 0zM1575.63 565.88l12.6 22.2l-25.2 0zM1585.56 551.02l12.6 22.2l-25.2 0zM1595.49 554.73l12.6 22.2l-25.2 0zM1605.42 566.99l12.6 22.2l-25.2 0zM1615.35 547.31l12.6 22.2l-25.2 0zM1625.28 511.65l12.6 22.2l-25.2 0zM1635.21 601.54l12.6 22.2l-25.2 0zM1645.14 560.68l12.6 22.2l-25.2 0zM1655.07 578.14l12.6 22.2l-25.2 0zM1665 522.79l12.6 22.2l-25.2 0zM1674.93 541.73l12.6 22.2l-25.2 0zM1684.86 542.48l12.6 22.2l-25.2 0zM1694.79 534.68l12.6 22.2l-25.2 0zM1704.72 549.53l12.6 22.2l-25.2 0zM1714.65 559.19l12.6 22.2l-25.2 0zM1724.58 591.88l12.6 22.2l-25.2 0zM1734.51 582.59l12.6 22.2l-25.2 0zM1744.44 599.31l12.6 22.2l-25.2 0zM1754.37 535.42l12.6 22.2l-25.2 0zM1764.3 494.56l12.6 22.2l-25.2 0zM1774.23 480.45l12.6 22.2l-25.2 0zM1784.16 470.42l12.6 22.2l-25.2 0zM1794.09 430.3l12.6 22.2l-25.2 0zM1804.02 447.76l12.6 22.2l-25.2 0zM1813.95 453.33l12.6 22.2l-25.2 0zM1823.88 440.7l12.6 22.2l-25.2 0zM1833.81 455.56l12.6 22.2l-25.2 0zM1843.74 452.59l12.6 22.2l-25.2 0zM1853.67 469.67l12.6 22.2l-25.2 0zM1863.6 434.39l12.6 22.2l-25.2 0zM1873.53 453.33l12.6 22.2l-25.2 0zM1883.46 409.87l12.6 22.2l-25.2 0zM1893.39 426.59l12.6 22.2l-25.2 0zM1903.32 427.33l12.6 22.2l-25.2 0zM1913.25 443.67l12.6 22.2l-25.2 0zM1923.18 407.64l12.6 22.2l-25.2 0zM1933.11 470.42l12.6 22.2l-25.2 0zM1943.04 433.64l12.6 22.2l-25.2 0zM1952.97 412.84l12.6 22.2l-25.2 0zM1962.9 407.64l12.6 22.2l-25.2 0zM1972.83 370.5l12.6 22.2l-25.2 0zM1982.76 393.53l12.6 22.2l-25.2 0zM1992.69 394.27l12.6 22.2l-25.2 0zM2002.62 402.81l12.6 22.2l-25.2 0zM2012.55 387.58l12.6 22.2l-25.2 0zM2022.48 360.84l12.6 22.2l-25.2 0zM2032.41 431.79l12.6 22.2l-25.2 0zM2042.34 397.24l12.6 22.2l-25.2 0zM2052.27 394.27l12.6 22.2l-25.2 0zM2062.2 417.67l12.6 22.2l-25.2 0zM2072.13 501.99l12.6 22.2l-25.2 0zM2082.06 507.56l12.6 22.2l-25.2 0zM2091.99 523.53l12.6 22.2l-25.2 0zM2101.92 486.39l12.6 22.2l-25.2 0zM2111.85 513.88l12.6 22.2l-25.2 0zM2121.78 549.53l12.6 22.2l-25.2 0zM2131.71 510.9l12.6 22.2l-25.2 0zM2141.64 517.22l12.6 22.2l-25.2 0zM2151.57 480.82l12.6 22.2l-25.2 0zM2161.5 436.62l12.6 22.2l-25.2 0zM2171.43 469.3l12.6 22.2l-25.2 0zM2181.36 490.1l12.6 22.2l-25.2 0zM2191.29 457.42l12.6 22.2l-25.2 0zM2201.22 432.53l12.6 22.2l-25.2 0zM2211.15 451.47l12.6 22.2l-25.2 0zM2221.08 483.42l12.6 22.2l-25.2 0zM2231.01 451.47l12.6 22.2l-25.2 0zM2240.94 460.02l12.6 22.2l-25.2 0zM2250.87 473.39l12.6 22.2l-25.2 0zM2260.8 483.42l12.6 22.2l-25.2 0zM2270.73 501.62l12.6 22.2l-25.2 0zM2280.66 459.27l12.6 22.2l-25.2 0zM2290.59 444.79l12.6 22.2l-25.2 0zM2300.52 437.73l12.6 22.2l-25.2 0zM2310.45 432.16l12.6 22.2l-25.2 0zM2320.38 478.22l12.6 22.2l-25.2 0zM2330.31 452.96l12.6 22.2l-25.2 0zM2340.24 476.36l12.6 22.2l-25.2 0zM2350.17 451.1l12.6 22.2l-25.2 0zM2360.1 429.93l12.6 22.2l-25.2 0z" fill="#0000ff" fill-rule="nonzero"/>
</g>
<g id="ax-c">
<path d="M400.6 1037.1V1705.9M599.2 1037.1V1705.9M797.9 1037.1V1705.9M996.5 1037.1V1705.9M202 1652.4H1195.1M202 1518.6H1195.1M202 1384.9H1195.1M202 1251.1H1195.1M202 1117.4H1195.1" stroke="#dfdfdf" stroke-width="4.1" fill="none"/>
<path d="M400.6 1705.9v-12M400.6 1037.1v12M599.2 1705.9v-12M599.2 1037.1v12M797.9 1705.9v-12M797.9 1037.1v12M996.5 1705.9v-12M996.5 1037.1v12M202 1652.4h12M1195.1 1652.4h-12M202 1518.6h12M1195.1 1518.6h-12M202 1384.9h12M1195.1 1384.9h-12M202 1251.1h12M1195.1 1251.1h-12M202 1117.4h12M1195.1 1117.4h-12" stroke="#262626" stroke-width="4.1" fill="none"/>
<rect x="202" y="1037.1" width="993.1" height="668.8" fill="none" stroke="#262626" stroke-width="4.1"/>
<g fill="#262626" font-size="52.6" stroke="#262626" stroke-width="0.4">
<g text-anchor="middle">
<text x="200.7" y="1780.4">0</text>
<text x="399.3" y="1780.4">20</text>
<text x="597.9" y="1780.4">40</text>
<text x="796.6" y="1780.4">60</text>
<text x="995.2" y="1780.4">80</text>
<text x="1193.8" y="1780.4">100</text>
</g><g text-anchor="end">
<text x="181.5" y="1674.7">5</text>
<text x="181.5" y="1540.9">10</text>
<text x="181.5" y="1407.2">15</text>
<text x="181.5" y="1273.4">20</text>
<text x="181.5" y="1139.7">25</text>
</g></g>
<text x="697.6" y="1863.2" font-size="65.1" fill="#262626" text-anchor="middle">Time(s)</text>
<text transform="translate(94.4 1374) rotate(-90)" font-size="65.1" fill="#262626" text-anchor="middle">ME(m)</text>
<text x="696.8" y="1012.8" font-size="57.2" fill="#000" text-anchor="middle">(c)</text>
<path clip-path="url(#cc)" d="M211.9 1135.8L221.9 1379.5L231.8 1438.4L241.7 1470.5L251.7 1467.3L261.6 1512.2L271.5 1465.7L281.4 1454.4L291.4 1476.9L301.3 1502.6L311.2 1521.8L321.2 1502.6L331.1 1468.6L341 1446.1L351 1492.4L360.9 1470.5L370.8 1461.7L380.8 1493.8L390.7 1481.2L400.6 1325L410.6 1384.9L420.5 1403.6L430.4 1379.5L440.3 1449.1L450.3 1495.6L460.2 1483.9L470.1 1487.1L480.1 1417L490 1430.4L499.9 1433L509.9 1414.3L519.8 1411.6L529.7 1425L539.7 1427.7L549.6 1417L559.5 1380.9L569.4 1344.5L579.4 1363.5L589.3 1453.4L599.2 1114.9L609.2 1264.5L619.1 1297.7L629 1323.3L639 1341.3L648.9 1362.4L658.8 1393.2L668.8 1368.8L678.7 1345.6L688.6 1389.2L698.5 1376.9L708.5 1352.8L718.4 1377.7L728.3 1366.1L738.3 1345.6L748.2 1389.2L758.1 1372L768.1 1381.9L778 1350.1L787.9 1342.1L797.9 1228.9L807.8 1277.9L817.7 1307.3L827.7 1279.5L837.6 1315.3L847.5 1335.7L857.4 1328.7L867.4 1285.1L877.3 1304.6L887.2 1326L897.2 1323.3L907.1 1384.9L917 1398.3L927 1396.9L936.9 1382.2L946.8 1371.5L956.8 1360.8L966.7 1384.9L976.6 1398.3L986.5 1379.5L996.5 1219L1006.4 1310.8L1016.3 1307.3L1026.3 1288.3L1036.2 1320.7L1046.1 1291L1056.1 1291L1066 1324.7L1075.9 1318L1085.9 1306.5L1095.8 1323.3L1105.7 1331.6L1115.7 1354.1L1125.6 1342.9L1135.5 1347.2L1145.4 1327.6L1155.4 1361.9L1165.3 1291L1175.2 1324.7L1185.2 1303.5L1195.1 1343.7" fill="none" stroke="#00ff00" stroke-width="7.3" stroke-linejoin="round"/>
<path d="M211.93 1122.51l10.3 13.3l-10.3 13.3l-10.3 -13.3zM211.93 1134.76l-0.8 1.05l0.8 1.05l0.8 -1.05zM221.86 1366.23l10.3 13.3l-10.3 13.3l-10.3 -13.3zM221.86 1378.48l-0.8 1.05l0.8 1.05l0.8 -1.05zM231.79 1425.08l10.3 13.3l-10.3 13.3l-10.3 -13.3zM231.79 1437.33l-0.8 1.05l0.8 1.05l0.8 -1.05zM241.72 1457.18l10.3 13.3l-10.3 13.3l-10.3 -13.3zM241.72 1469.43l-0.8 1.05l0.8 1.05l0.8 -1.05zM251.66 1453.97l10.3 13.3l-10.3 13.3l-10.3 -13.3zM251.66 1466.22l-0.8 1.05l0.8 1.05l0.8 -1.05zM261.59 1498.92l10.3 13.3l-10.3 13.3l-10.3 -13.3zM261.59 1511.17l-0.8 1.05l0.8 1.05l0.8 -1.05zM271.52 1452.37l10.3 13.3l-10.3 13.3l-10.3 -13.3zM271.52 1464.62l-0.8 1.05l0.8 1.05l0.8 -1.05zM281.45 1441.13l10.3 13.3l-10.3 13.3l-10.3 -13.3zM281.45 1453.38l-0.8 1.05l0.8 1.05l0.8 -1.05zM291.38 1463.6l10.3 13.3l-10.3 13.3l-10.3 -13.3zM291.38 1475.85l-0.8 1.05l0.8 1.05l0.8 -1.05zM301.31 1489.28l10.3 13.3l-10.3 13.3l-10.3 -13.3zM301.31 1501.53l-0.8 1.05l0.8 1.05l0.8 -1.05zM311.24 1508.55l10.3 13.3l-10.3 13.3l-10.3 -13.3zM311.24 1520.8l-0.8 1.05l0.8 1.05l0.8 -1.05zM321.17 1489.28l10.3 13.3l-10.3 13.3l-10.3 -13.3zM321.17 1501.53l-0.8 1.05l0.8 1.05l0.8 -1.05zM331.1 1455.31l10.3 13.3l-10.3 13.3l-10.3 -13.3zM331.1 1467.56l-0.8 1.05l0.8 1.05l0.8 -1.05zM341.03 1432.84l10.3 13.3l-10.3 13.3l-10.3 -13.3zM341.03 1445.09l-0.8 1.05l0.8 1.05l0.8 -1.05zM350.96 1479.12l10.3 13.3l-10.3 13.3l-10.3 -13.3zM350.96 1491.37l-0.8 1.05l0.8 1.05l0.8 -1.05zM360.9 1457.18l10.3 13.3l-10.3 13.3l-10.3 -13.3zM360.9 1469.43l-0.8 1.05l0.8 1.05l0.8 -1.05zM370.83 1448.35l10.3 13.3l-10.3 13.3l-10.3 -13.3zM370.83 1460.6l-0.8 1.05l0.8 1.05l0.8 -1.05zM380.76 1480.46l10.3 13.3l-10.3 13.3l-10.3 -13.3zM380.76 1492.71l-0.8 1.05l0.8 1.05l0.8 -1.05zM390.69 1467.88l10.3 13.3l-10.3 13.3l-10.3 -13.3zM390.69 1480.13l-0.8 1.05l0.8 1.05l0.8 -1.05zM400.62 1311.65l10.3 13.3l-10.3 13.3l-10.3 -13.3zM400.62 1323.9l-0.8 1.05l0.8 1.05l0.8 -1.05zM410.55 1371.58l10.3 13.3l-10.3 13.3l-10.3 -13.3zM410.55 1383.83l-0.8 1.05l0.8 1.05l0.8 -1.05zM420.48 1390.3l10.3 13.3l-10.3 13.3l-10.3 -13.3zM420.48 1402.55l-0.8 1.05l0.8 1.05l0.8 -1.05zM430.41 1366.23l10.3 13.3l-10.3 13.3l-10.3 -13.3zM430.41 1378.48l-0.8 1.05l0.8 1.05l0.8 -1.05zM440.34 1435.78l10.3 13.3l-10.3 13.3l-10.3 -13.3zM440.34 1448.03l-0.8 1.05l0.8 1.05l0.8 -1.05zM450.27 1482.33l10.3 13.3l-10.3 13.3l-10.3 -13.3zM450.27 1494.58l-0.8 1.05l0.8 1.05l0.8 -1.05zM460.21 1470.56l10.3 13.3l-10.3 13.3l-10.3 -13.3zM460.21 1482.81l-0.8 1.05l0.8 1.05l0.8 -1.05zM470.14 1473.77l10.3 13.3l-10.3 13.3l-10.3 -13.3zM470.14 1486.02l-0.8 1.05l0.8 1.05l0.8 -1.05zM480.07 1403.68l10.3 13.3l-10.3 13.3l-10.3 -13.3zM480.07 1415.93l-0.8 1.05l0.8 1.05l0.8 -1.05zM490 1417.05l10.3 13.3l-10.3 13.3l-10.3 -13.3zM490 1429.3l-0.8 1.05l0.8 1.05l0.8 -1.05zM499.93 1419.73l10.3 13.3l-10.3 13.3l-10.3 -13.3zM499.93 1431.98l-0.8 1.05l0.8 1.05l0.8 -1.05zM509.86 1401l10.3 13.3l-10.3 13.3l-10.3 -13.3zM509.86 1413.25l-0.8 1.05l0.8 1.05l0.8 -1.05zM519.79 1398.33l10.3 13.3l-10.3 13.3l-10.3 -13.3zM519.79 1410.58l-0.8 1.05l0.8 1.05l0.8 -1.05zM529.72 1411.7l10.3 13.3l-10.3 13.3l-10.3 -13.3zM529.72 1423.95l-0.8 1.05l0.8 1.05l0.8 -1.05zM539.65 1414.38l10.3 13.3l-10.3 13.3l-10.3 -13.3zM539.65 1426.63l-0.8 1.05l0.8 1.05l0.8 -1.05zM549.59 1403.68l10.3 13.3l-10.3 13.3l-10.3 -13.3zM549.59 1415.93l-0.8 1.05l0.8 1.05l0.8 -1.05zM559.52 1367.56l10.3 13.3l-10.3 13.3l-10.3 -13.3zM559.52 1379.81l-0.8 1.05l0.8 1.05l0.8 -1.05zM569.45 1331.18l10.3 13.3l-10.3 13.3l-10.3 -13.3zM569.45 1343.43l-0.8 1.05l0.8 1.05l0.8 -1.05zM579.38 1350.17l10.3 13.3l-10.3 13.3l-10.3 -13.3zM579.38 1362.42l-0.8 1.05l0.8 1.05l0.8 -1.05zM589.31 1440.06l10.3 13.3l-10.3 13.3l-10.3 -13.3zM589.31 1452.31l-0.8 1.05l0.8 1.05l0.8 -1.05zM599.24 1101.65l10.3 13.3l-10.3 13.3l-10.3 -13.3zM599.24 1113.9l-0.8 1.05l0.8 1.05l0.8 -1.05zM609.17 1251.19l10.3 13.3l-10.3 13.3l-10.3 -13.3zM609.17 1263.44l-0.8 1.05l0.8 1.05l0.8 -1.05zM619.1 1284.36l10.3 13.3l-10.3 13.3l-10.3 -13.3zM619.1 1296.61l-0.8 1.05l0.8 1.05l0.8 -1.05zM629.03 1310.05l10.3 13.3l-10.3 13.3l-10.3 -13.3zM629.03 1322.3l-0.8 1.05l0.8 1.05l0.8 -1.05zM638.96 1327.97l10.3 13.3l-10.3 13.3l-10.3 -13.3zM638.96 1340.22l-0.8 1.05l0.8 1.05l0.8 -1.05zM648.89 1349.1l10.3 13.3l-10.3 13.3l-10.3 -13.3zM648.89 1361.35l-0.8 1.05l0.8 1.05l0.8 -1.05zM658.83 1379.87l10.3 13.3l-10.3 13.3l-10.3 -13.3zM658.83 1392.12l-0.8 1.05l0.8 1.05l0.8 -1.05zM668.76 1355.52l10.3 13.3l-10.3 13.3l-10.3 -13.3zM668.76 1367.77l-0.8 1.05l0.8 1.05l0.8 -1.05zM678.69 1332.25l10.3 13.3l-10.3 13.3l-10.3 -13.3zM678.69 1344.5l-0.8 1.05l0.8 1.05l0.8 -1.05zM688.62 1375.86l10.3 13.3l-10.3 13.3l-10.3 -13.3zM688.62 1388.11l-0.8 1.05l0.8 1.05l0.8 -1.05zM698.55 1363.55l10.3 13.3l-10.3 13.3l-10.3 -13.3zM698.55 1375.8l-0.8 1.05l0.8 1.05l0.8 -1.05zM708.48 1339.47l10.3 13.3l-10.3 13.3l-10.3 -13.3zM708.48 1351.72l-0.8 1.05l0.8 1.05l0.8 -1.05zM718.41 1364.35l10.3 13.3l-10.3 13.3l-10.3 -13.3zM718.41 1376.6l-0.8 1.05l0.8 1.05l0.8 -1.05zM728.34 1352.85l10.3 13.3l-10.3 13.3l-10.3 -13.3zM728.34 1365.1l-0.8 1.05l0.8 1.05l0.8 -1.05zM738.27 1332.25l10.3 13.3l-10.3 13.3l-10.3 -13.3zM738.27 1344.5l-0.8 1.05l0.8 1.05l0.8 -1.05zM748.2 1375.86l10.3 13.3l-10.3 13.3l-10.3 -13.3zM748.2 1388.11l-0.8 1.05l0.8 1.05l0.8 -1.05zM758.14 1358.74l10.3 13.3l-10.3 13.3l-10.3 -13.3zM758.14 1370.99l-0.8 1.05l0.8 1.05l0.8 -1.05zM768.07 1368.63l10.3 13.3l-10.3 13.3l-10.3 -13.3zM768.07 1380.88l-0.8 1.05l0.8 1.05l0.8 -1.05zM778 1336.8l10.3 13.3l-10.3 13.3l-10.3 -13.3zM778 1349.05l-0.8 1.05l0.8 1.05l0.8 -1.05zM787.93 1328.77l10.3 13.3l-10.3 13.3l-10.3 -13.3zM787.93 1341.02l-0.8 1.05l0.8 1.05l0.8 -1.05zM797.86 1215.61l10.3 13.3l-10.3 13.3l-10.3 -13.3zM797.86 1227.86l-0.8 1.05l0.8 1.05l0.8 -1.05zM807.79 1264.57l10.3 13.3l-10.3 13.3l-10.3 -13.3zM807.79 1276.82l-0.8 1.05l0.8 1.05l0.8 -1.05zM817.72 1294l10.3 13.3l-10.3 13.3l-10.3 -13.3zM817.72 1306.25l-0.8 1.05l0.8 1.05l0.8 -1.05zM827.65 1266.17l10.3 13.3l-10.3 13.3l-10.3 -13.3zM827.65 1278.42l-0.8 1.05l0.8 1.05l0.8 -1.05zM837.58 1302.02l10.3 13.3l-10.3 13.3l-10.3 -13.3zM837.58 1314.27l-0.8 1.05l0.8 1.05l0.8 -1.05zM847.51 1322.35l10.3 13.3l-10.3 13.3l-10.3 -13.3zM847.51 1334.6l-0.8 1.05l0.8 1.05l0.8 -1.05zM857.45 1315.4l10.3 13.3l-10.3 13.3l-10.3 -13.3zM857.45 1327.65l-0.8 1.05l0.8 1.05l0.8 -1.05zM867.38 1271.79l10.3 13.3l-10.3 13.3l-10.3 -13.3zM867.38 1284.04l-0.8 1.05l0.8 1.05l0.8 -1.05zM877.31 1291.32l10.3 13.3l-10.3 13.3l-10.3 -13.3zM877.31 1303.57l-0.8 1.05l0.8 1.05l0.8 -1.05zM887.24 1312.72l10.3 13.3l-10.3 13.3l-10.3 -13.3zM887.24 1324.97l-0.8 1.05l0.8 1.05l0.8 -1.05zM897.17 1310.05l10.3 13.3l-10.3 13.3l-10.3 -13.3zM897.17 1322.3l-0.8 1.05l0.8 1.05l0.8 -1.05zM907.1 1371.58l10.3 13.3l-10.3 13.3l-10.3 -13.3zM907.1 1383.83l-0.8 1.05l0.8 1.05l0.8 -1.05zM917.03 1384.95l10.3 13.3l-10.3 13.3l-10.3 -13.3zM917.03 1397.2l-0.8 1.05l0.8 1.05l0.8 -1.05zM926.96 1383.61l10.3 13.3l-10.3 13.3l-10.3 -13.3zM926.96 1395.86l-0.8 1.05l0.8 1.05l0.8 -1.05zM936.89 1368.9l10.3 13.3l-10.3 13.3l-10.3 -13.3zM936.89 1381.15l-0.8 1.05l0.8 1.05l0.8 -1.05zM946.83 1358.2l10.3 13.3l-10.3 13.3l-10.3 -13.3zM946.83 1370.45l-0.8 1.05l0.8 1.05l0.8 -1.05zM956.76 1347.5l10.3 13.3l-10.3 13.3l-10.3 -13.3zM956.76 1359.75l-0.8 1.05l0.8 1.05l0.8 -1.05zM966.69 1371.58l10.3 13.3l-10.3 13.3l-10.3 -13.3zM966.69 1383.83l-0.8 1.05l0.8 1.05l0.8 -1.05zM976.62 1384.95l10.3 13.3l-10.3 13.3l-10.3 -13.3zM976.62 1397.2l-0.8 1.05l0.8 1.05l0.8 -1.05zM986.55 1366.23l10.3 13.3l-10.3 13.3l-10.3 -13.3zM986.55 1378.48l-0.8 1.05l0.8 1.05l0.8 -1.05zM996.48 1205.71l10.3 13.3l-10.3 13.3l-10.3 -13.3zM996.48 1217.96l-0.8 1.05l0.8 1.05l0.8 -1.05zM1006.41 1297.47l10.3 13.3l-10.3 13.3l-10.3 -13.3zM1006.41 1309.72l-0.8 1.05l0.8 1.05l0.8 -1.05zM1016.34 1294l10.3 13.3l-10.3 13.3l-10.3 -13.3zM1016.34 1306.25l-0.8 1.05l0.8 1.05l0.8 -1.05zM1026.27 1275l10.3 13.3l-10.3 13.3l-10.3 -13.3zM1026.27 1287.25l-0.8 1.05l0.8 1.05l0.8 -1.05zM1036.2 1307.37l10.3 13.3l-10.3 13.3l-10.3 -13.3zM1036.2 1319.62l-0.8 1.05l0.8 1.05l0.8 -1.05zM1046.13 1277.68l10.3 13.3l-10.3 13.3l-10.3 -13.3zM1046.13 1289.93l-0.8 1.05l0.8 1.05l0.8 -1.05zM1056.07 1277.68l10.3 13.3l-10.3 13.3l-10.3 -13.3zM1056.07 1289.93l-0.8 1.05l0.8 1.05l0.8 -1.05zM1066 1311.38l10.3 13.3l-10.3 13.3l-10.3 -13.3zM1066 1323.63l-0.8 1.05l0.8 1.05l0.8 -1.05zM1075.93 1304.7l10.3 13.3l-10.3 13.3l-10.3 -13.3zM1075.93 1316.95l-0.8 1.05l0.8 1.05l0.8 -1.05zM1085.86 1293.19l10.3 13.3l-10.3 13.3l-10.3 -13.3zM1085.86 1305.44l-0.8 1.05l0.8 1.05l0.8 -1.05zM1095.79 1310.05l10.3 13.3l-10.3 13.3l-10.3 -13.3zM1095.79 1322.3l-0.8 1.05l0.8 1.05l0.8 -1.05zM1105.72 1318.34l10.3 13.3l-10.3 13.3l-10.3 -13.3zM1105.72 1330.59l-0.8 1.05l0.8 1.05l0.8 -1.05zM1115.65 1340.81l10.3 13.3l-10.3 13.3l-10.3 -13.3zM1115.65 1353.06l-0.8 1.05l0.8 1.05l0.8 -1.05zM1125.58 1329.58l10.3 13.3l-10.3 13.3l-10.3 -13.3zM1125.58 1341.83l-0.8 1.05l0.8 1.05l0.8 -1.05zM1135.51 1333.86l10.3 13.3l-10.3 13.3l-10.3 -13.3zM1135.51 1346.11l-0.8 1.05l0.8 1.05l0.8 -1.05zM1145.44 1314.33l10.3 13.3l-10.3 13.3l-10.3 -13.3zM1145.44 1326.58l-0.8 1.05l0.8 1.05l0.8 -1.05zM1155.38 1348.57l10.3 13.3l-10.3 13.3l-10.3 -13.3zM1155.38 1360.82l-0.8 1.05l0.8 1.05l0.8 -1.05zM1165.31 1277.68l10.3 13.3l-10.3 13.3l-10.3 -13.3zM1165.31 1289.93l-0.8 1.05l0.8 1.05l0.8 -1.05zM1175.24 1311.38l10.3 13.3l-10.3 13.3l-10.3 -13.3zM1175.24 1323.63l-0.8 1.05l0.8 1.05l0.8 -1.05zM1185.17 1290.25l10.3 13.3l-10.3 13.3l-10.3 -13.3zM1185.17 1302.5l-0.8 1.05l0.8 1.05l0.8 -1.05zM1195.1 1330.38l10.3 13.3l-10.3 13.3l-10.3 -13.3zM1195.1 1342.63l-0.8 1.05l0.8 1.05l0.8 -1.05z" fill="#00ff00" fill-rule="nonzero"/>
<path clip-path="url(#cc)" d="M211.9 1180.5L221.9 1393.7L231.8 1427.7L241.7 1455.2L251.7 1499.9L261.6 1520.5L271.5 1491.1L281.4 1474.8L291.4 1463L301.3 1514.9L311.2 1508.7L321.2 1495.9L331.1 1491.9L341 1489.2L351 1455.2L360.9 1485.5L370.8 1404.9L380.8 1399.3L390.7 1481.2L400.6 1318L410.6 1410.6L420.5 1345.8L430.4 1413L440.3 1450.7L450.3 1435.2L460.2 1417L470.1 1427.7L480.1 1445.1L490 1373.1L499.9 1409L509.9 1427.7L519.8 1431.7L529.7 1418.3L539.7 1414.3L549.6 1426.6L559.5 1361.3L569.4 1376.9L579.4 1412.4L589.3 1411.6L599.2 1085.5L609.2 1280.8L619.1 1331.4L629 1348.2L639 1323.3L648.9 1320.7L658.8 1310L668.8 1304.1L678.7 1278.7L688.6 1304.6L698.5 1320.7L708.5 1330L718.4 1323.3L728.3 1315.3L738.3 1307.3L748.2 1300.3L758.1 1286.4L768.1 1331.4L778 1323.3L787.9 1292L797.9 1182.4L807.8 1230.2L817.7 1259.7L827.7 1324.4L837.6 1298.5L847.5 1261.8L857.4 1233.2L867.4 1257L877.3 1235.9L887.2 1311.8L897.2 1262.6L907.1 1372.8L917 1311L927 1320.1L936.9 1314.5L946.8 1317.5L956.8 1346.9L966.7 1311L976.6 1315.9L986.5 1324.4L996.5 1211L1006.4 1289.6L1016.3 1268.5L1026.3 1350.1L1036.2 1315.3L1046.1 1310.8L1056.1 1346.6L1066 1310.8L1075.9 1243.9L1085.9 1281.1L1095.8 1294.5L1105.7 1271.4L1115.7 1282.7L1125.6 1272L1135.5 1246.8L1145.4 1269.8L1155.4 1260.2L1165.3 1238.3L1175.2 1240.4L1185.2 1278.4L1195.1 1275.5" fill="none" stroke="#7f2a2a" stroke-width="7.3" stroke-linejoin="round" stroke-dasharray="37 12 10 12"/>
<path d="M211.93 1167.19l10.3 13.3l-10.3 13.3l-10.3 -13.3zM211.93 1179.44l-0.8 1.05l0.8 1.05l0.8 -1.05zM221.86 1380.4l10.3 13.3l-10.3 13.3l-10.3 -13.3zM221.86 1392.65l-0.8 1.05l0.8 1.05l0.8 -1.05zM231.79 1414.38l10.3 13.3l-10.3 13.3l-10.3 -13.3zM231.79 1426.63l-0.8 1.05l0.8 1.05l0.8 -1.05zM241.72 1441.93l10.3 13.3l-10.3 13.3l-10.3 -13.3zM241.72 1454.18l-0.8 1.05l0.8 1.05l0.8 -1.05zM251.66 1486.61l10.3 13.3l-10.3 13.3l-10.3 -13.3zM251.66 1498.86l-0.8 1.05l0.8 1.05l0.8 -1.05zM261.59 1507.21l10.3 13.3l-10.3 13.3l-10.3 -13.3zM261.59 1519.46l-0.8 1.05l0.8 1.05l0.8 -1.05zM271.52 1477.78l10.3 13.3l-10.3 13.3l-10.3 -13.3zM271.52 1490.03l-0.8 1.05l0.8 1.05l0.8 -1.05zM281.45 1461.46l10.3 13.3l-10.3 13.3l-10.3 -13.3zM281.45 1473.71l-0.8 1.05l0.8 1.05l0.8 -1.05zM291.38 1449.69l10.3 13.3l-10.3 13.3l-10.3 -13.3zM291.38 1461.94l-0.8 1.05l0.8 1.05l0.8 -1.05zM301.31 1501.59l10.3 13.3l-10.3 13.3l-10.3 -13.3zM301.31 1513.84l-0.8 1.05l0.8 1.05l0.8 -1.05zM311.24 1495.44l10.3 13.3l-10.3 13.3l-10.3 -13.3zM311.24 1507.69l-0.8 1.05l0.8 1.05l0.8 -1.05zM321.17 1482.6l10.3 13.3l-10.3 13.3l-10.3 -13.3zM321.17 1494.85l-0.8 1.05l0.8 1.05l0.8 -1.05zM331.1 1478.58l10.3 13.3l-10.3 13.3l-10.3 -13.3zM331.1 1490.83l-0.8 1.05l0.8 1.05l0.8 -1.05zM341.03 1475.91l10.3 13.3l-10.3 13.3l-10.3 -13.3zM341.03 1488.16l-0.8 1.05l0.8 1.05l0.8 -1.05zM350.96 1441.93l10.3 13.3l-10.3 13.3l-10.3 -13.3zM350.96 1454.18l-0.8 1.05l0.8 1.05l0.8 -1.05zM360.9 1472.16l10.3 13.3l-10.3 13.3l-10.3 -13.3zM360.9 1484.41l-0.8 1.05l0.8 1.05l0.8 -1.05zM370.83 1391.64l10.3 13.3l-10.3 13.3l-10.3 -13.3zM370.83 1403.89l-0.8 1.05l0.8 1.05l0.8 -1.05zM380.76 1386.02l10.3 13.3l-10.3 13.3l-10.3 -13.3zM380.76 1398.27l-0.8 1.05l0.8 1.05l0.8 -1.05zM390.69 1467.88l10.3 13.3l-10.3 13.3l-10.3 -13.3zM390.69 1480.13l-0.8 1.05l0.8 1.05l0.8 -1.05zM400.62 1304.7l10.3 13.3l-10.3 13.3l-10.3 -13.3zM400.62 1316.95l-0.8 1.05l0.8 1.05l0.8 -1.05zM410.55 1397.26l10.3 13.3l-10.3 13.3l-10.3 -13.3zM410.55 1409.51l-0.8 1.05l0.8 1.05l0.8 -1.05zM420.48 1332.52l10.3 13.3l-10.3 13.3l-10.3 -13.3zM420.48 1344.77l-0.8 1.05l0.8 1.05l0.8 -1.05zM430.41 1399.67l10.3 13.3l-10.3 13.3l-10.3 -13.3zM430.41 1411.92l-0.8 1.05l0.8 1.05l0.8 -1.05zM440.34 1437.39l10.3 13.3l-10.3 13.3l-10.3 -13.3zM440.34 1449.64l-0.8 1.05l0.8 1.05l0.8 -1.05zM450.27 1421.87l10.3 13.3l-10.3 13.3l-10.3 -13.3zM450.27 1434.12l-0.8 1.05l0.8 1.05l0.8 -1.05zM460.21 1403.68l10.3 13.3l-10.3 13.3l-10.3 -13.3zM460.21 1415.93l-0.8 1.05l0.8 1.05l0.8 -1.05zM470.14 1414.38l10.3 13.3l-10.3 13.3l-10.3 -13.3zM470.14 1426.63l-0.8 1.05l0.8 1.05l0.8 -1.05zM480.07 1431.77l10.3 13.3l-10.3 13.3l-10.3 -13.3zM480.07 1444.02l-0.8 1.05l0.8 1.05l0.8 -1.05zM490 1359.81l10.3 13.3l-10.3 13.3l-10.3 -13.3zM490 1372.06l-0.8 1.05l0.8 1.05l0.8 -1.05zM499.93 1395.65l10.3 13.3l-10.3 13.3l-10.3 -13.3zM499.93 1407.9l-0.8 1.05l0.8 1.05l0.8 -1.05zM509.86 1414.38l10.3 13.3l-10.3 13.3l-10.3 -13.3zM509.86 1426.63l-0.8 1.05l0.8 1.05l0.8 -1.05zM519.79 1418.39l10.3 13.3l-10.3 13.3l-10.3 -13.3zM519.79 1430.64l-0.8 1.05l0.8 1.05l0.8 -1.05zM529.72 1405.02l10.3 13.3l-10.3 13.3l-10.3 -13.3zM529.72 1417.27l-0.8 1.05l0.8 1.05l0.8 -1.05zM539.65 1401l10.3 13.3l-10.3 13.3l-10.3 -13.3zM539.65 1413.25l-0.8 1.05l0.8 1.05l0.8 -1.05zM549.59 1413.31l10.3 13.3l-10.3 13.3l-10.3 -13.3zM549.59 1425.56l-0.8 1.05l0.8 1.05l0.8 -1.05zM559.52 1348.03l10.3 13.3l-10.3 13.3l-10.3 -13.3zM559.52 1360.28l-0.8 1.05l0.8 1.05l0.8 -1.05zM569.45 1363.55l10.3 13.3l-10.3 13.3l-10.3 -13.3zM569.45 1375.8l-0.8 1.05l0.8 1.05l0.8 -1.05zM579.38 1399.13l10.3 13.3l-10.3 13.3l-10.3 -13.3zM579.38 1411.38l-0.8 1.05l0.8 1.05l0.8 -1.05zM589.31 1398.33l10.3 13.3l-10.3 13.3l-10.3 -13.3zM589.31 1410.58l-0.8 1.05l0.8 1.05l0.8 -1.05zM599.24 1072.22l10.3 13.3l-10.3 13.3l-10.3 -13.3zM599.24 1084.47l-0.8 1.05l0.8 1.05l0.8 -1.05zM609.17 1267.51l10.3 13.3l-10.3 13.3l-10.3 -13.3zM609.17 1279.76l-0.8 1.05l0.8 1.05l0.8 -1.05zM619.1 1318.07l10.3 13.3l-10.3 13.3l-10.3 -13.3zM619.1 1330.32l-0.8 1.05l0.8 1.05l0.8 -1.05zM629.03 1334.93l10.3 13.3l-10.3 13.3l-10.3 -13.3zM629.03 1347.18l-0.8 1.05l0.8 1.05l0.8 -1.05zM638.96 1310.05l10.3 13.3l-10.3 13.3l-10.3 -13.3zM638.96 1322.3l-0.8 1.05l0.8 1.05l0.8 -1.05zM648.89 1307.37l10.3 13.3l-10.3 13.3l-10.3 -13.3zM648.89 1319.62l-0.8 1.05l0.8 1.05l0.8 -1.05zM658.83 1296.67l10.3 13.3l-10.3 13.3l-10.3 -13.3zM658.83 1308.92l-0.8 1.05l0.8 1.05l0.8 -1.05zM668.76 1290.78l10.3 13.3l-10.3 13.3l-10.3 -13.3zM668.76 1303.03l-0.8 1.05l0.8 1.05l0.8 -1.05zM678.69 1265.37l10.3 13.3l-10.3 13.3l-10.3 -13.3zM678.69 1277.62l-0.8 1.05l0.8 1.05l0.8 -1.05zM688.62 1291.32l10.3 13.3l-10.3 13.3l-10.3 -13.3zM688.62 1303.57l-0.8 1.05l0.8 1.05l0.8 -1.05zM698.55 1307.37l10.3 13.3l-10.3 13.3l-10.3 -13.3zM698.55 1319.62l-0.8 1.05l0.8 1.05l0.8 -1.05zM708.48 1316.73l10.3 13.3l-10.3 13.3l-10.3 -13.3zM708.48 1328.98l-0.8 1.05l0.8 1.05l0.8 -1.05zM718.41 1310.05l10.3 13.3l-10.3 13.3l-10.3 -13.3zM718.41 1322.3l-0.8 1.05l0.8 1.05l0.8 -1.05zM728.34 1302.02l10.3 13.3l-10.3 13.3l-10.3 -13.3zM728.34 1314.27l-0.8 1.05l0.8 1.05l0.8 -1.05zM738.27 1294l10.3 13.3l-10.3 13.3l-10.3 -13.3zM738.27 1306.25l-0.8 1.05l0.8 1.05l0.8 -1.05zM748.2 1287.04l10.3 13.3l-10.3 13.3l-10.3 -13.3zM748.2 1299.29l-0.8 1.05l0.8 1.05l0.8 -1.05zM758.14 1273.13l10.3 13.3l-10.3 13.3l-10.3 -13.3zM758.14 1285.38l-0.8 1.05l0.8 1.05l0.8 -1.05zM768.07 1318.07l10.3 13.3l-10.3 13.3l-10.3 -13.3zM768.07 1330.32l-0.8 1.05l0.8 1.05l0.8 -1.05zM778 1310.05l10.3 13.3l-10.3 13.3l-10.3 -13.3zM778 1322.3l-0.8 1.05l0.8 1.05l0.8 -1.05zM787.93 1278.75l10.3 13.3l-10.3 13.3l-10.3 -13.3zM787.93 1291l-0.8 1.05l0.8 1.05l0.8 -1.05zM797.86 1169.06l10.3 13.3l-10.3 13.3l-10.3 -13.3zM797.86 1181.31l-0.8 1.05l0.8 1.05l0.8 -1.05zM807.79 1216.95l10.3 13.3l-10.3 13.3l-10.3 -13.3zM807.79 1229.2l-0.8 1.05l0.8 1.05l0.8 -1.05zM817.72 1246.38l10.3 13.3l-10.3 13.3l-10.3 -13.3zM817.72 1258.63l-0.8 1.05l0.8 1.05l0.8 -1.05zM827.65 1311.12l10.3 13.3l-10.3 13.3l-10.3 -13.3zM827.65 1323.37l-0.8 1.05l0.8 1.05l0.8 -1.05zM837.58 1285.17l10.3 13.3l-10.3 13.3l-10.3 -13.3zM837.58 1297.42l-0.8 1.05l0.8 1.05l0.8 -1.05zM847.51 1248.52l10.3 13.3l-10.3 13.3l-10.3 -13.3zM847.51 1260.77l-0.8 1.05l0.8 1.05l0.8 -1.05zM857.45 1219.89l10.3 13.3l-10.3 13.3l-10.3 -13.3zM857.45 1232.14l-0.8 1.05l0.8 1.05l0.8 -1.05zM867.38 1243.7l10.3 13.3l-10.3 13.3l-10.3 -13.3zM867.38 1255.95l-0.8 1.05l0.8 1.05l0.8 -1.05zM877.31 1222.57l10.3 13.3l-10.3 13.3l-10.3 -13.3zM877.31 1234.82l-0.8 1.05l0.8 1.05l0.8 -1.05zM887.24 1298.54l10.3 13.3l-10.3 13.3l-10.3 -13.3zM887.24 1310.79l-0.8 1.05l0.8 1.05l0.8 -1.05zM897.17 1249.32l10.3 13.3l-10.3 13.3l-10.3 -13.3zM897.17 1261.57l-0.8 1.05l0.8 1.05l0.8 -1.05zM907.1 1359.54l10.3 13.3l-10.3 13.3l-10.3 -13.3zM907.1 1371.79l-0.8 1.05l0.8 1.05l0.8 -1.05zM917.03 1297.74l10.3 13.3l-10.3 13.3l-10.3 -13.3zM917.03 1309.99l-0.8 1.05l0.8 1.05l0.8 -1.05zM926.96 1306.84l10.3 13.3l-10.3 13.3l-10.3 -13.3zM926.96 1319.09l-0.8 1.05l0.8 1.05l0.8 -1.05zM936.89 1301.22l10.3 13.3l-10.3 13.3l-10.3 -13.3zM936.89 1313.47l-0.8 1.05l0.8 1.05l0.8 -1.05zM946.83 1304.16l10.3 13.3l-10.3 13.3l-10.3 -13.3zM946.83 1316.41l-0.8 1.05l0.8 1.05l0.8 -1.05zM956.76 1333.59l10.3 13.3l-10.3 13.3l-10.3 -13.3zM956.76 1345.84l-0.8 1.05l0.8 1.05l0.8 -1.05zM966.69 1297.74l10.3 13.3l-10.3 13.3l-10.3 -13.3zM966.69 1309.99l-0.8 1.05l0.8 1.05l0.8 -1.05zM976.62 1302.56l10.3 13.3l-10.3 13.3l-10.3 -13.3zM976.62 1314.81l-0.8 1.05l0.8 1.05l0.8 -1.05zM986.55 1311.12l10.3 13.3l-10.3 13.3l-10.3 -13.3zM986.55 1323.37l-0.8 1.05l0.8 1.05l0.8 -1.05zM996.48 1197.69l10.3 13.3l-10.3 13.3l-10.3 -13.3zM996.48 1209.94l-0.8 1.05l0.8 1.05l0.8 -1.05zM1006.41 1276.34l10.3 13.3l-10.3 13.3l-10.3 -13.3zM1006.41 1288.59l-0.8 1.05l0.8 1.05l0.8 -1.05zM1016.34 1255.2l10.3 13.3l-10.3 13.3l-10.3 -13.3zM1016.34 1267.45l-0.8 1.05l0.8 1.05l0.8 -1.05zM1026.27 1336.8l10.3 13.3l-10.3 13.3l-10.3 -13.3zM1026.27 1349.05l-0.8 1.05l0.8 1.05l0.8 -1.05zM1036.2 1302.02l10.3 13.3l-10.3 13.3l-10.3 -13.3zM1036.2 1314.27l-0.8 1.05l0.8 1.05l0.8 -1.05zM1046.13 1297.47l10.3 13.3l-10.3 13.3l-10.3 -13.3zM1046.13 1309.72l-0.8 1.05l0.8 1.05l0.8 -1.05zM1056.07 1333.32l10.3 13.3l-10.3 13.3l-10.3 -13.3zM1056.07 1345.57l-0.8 1.05l0.8 1.05l0.8 -1.05zM1066 1297.47l10.3 13.3l-10.3 13.3l-10.3 -13.3zM1066 1309.72l-0.8 1.05l0.8 1.05l0.8 -1.05zM1075.93 1230.59l10.3 13.3l-10.3 13.3l-10.3 -13.3zM1075.93 1242.84l-0.8 1.05l0.8 1.05l0.8 -1.05zM1085.86 1267.78l10.3 13.3l-10.3 13.3l-10.3 -13.3zM1085.86 1280.03l-0.8 1.05l0.8 1.05l0.8 -1.05zM1095.79 1281.15l10.3 13.3l-10.3 13.3l-10.3 -13.3zM1095.79 1293.4l-0.8 1.05l0.8 1.05l0.8 -1.05zM1105.72 1258.15l10.3 13.3l-10.3 13.3l-10.3 -13.3zM1105.72 1270.4l-0.8 1.05l0.8 1.05l0.8 -1.05zM1115.65 1269.38l10.3 13.3l-10.3 13.3l-10.3 -13.3zM1115.65 1281.63l-0.8 1.05l0.8 1.05l0.8 -1.05zM1125.58 1258.68l10.3 13.3l-10.3 13.3l-10.3 -13.3zM1125.58 1270.93l-0.8 1.05l0.8 1.05l0.8 -1.05zM1135.51 1233.54l10.3 13.3l-10.3 13.3l-10.3 -13.3zM1135.51 1245.79l-0.8 1.05l0.8 1.05l0.8 -1.05zM1145.44 1256.54l10.3 13.3l-10.3 13.3l-10.3 -13.3zM1145.44 1268.79l-0.8 1.05l0.8 1.05l0.8 -1.05zM1155.38 1246.91l10.3 13.3l-10.3 13.3l-10.3 -13.3zM1155.38 1259.16l-0.8 1.05l0.8 1.05l0.8 -1.05zM1165.31 1224.98l10.3 13.3l-10.3 13.3l-10.3 -13.3zM1165.31 1237.23l-0.8 1.05l0.8 1.05l0.8 -1.05zM1175.24 1227.12l10.3 13.3l-10.3 13.3l-10.3 -13.3zM1175.24 1239.37l-0.8 1.05l0.8 1.05l0.8 -1.05zM1185.17 1265.1l10.3 13.3l-10.3 13.3l-10.3 -13.3zM1185.17 1277.35l-0.8 1.05l0.8 1.05l0.8 -1.05zM1195.1 1262.16l10.3 13.3l-10.3 13.3l-10.3 -13.3zM1195.1 1274.41l-0.8 1.05l0.8 1.05l0.8 -1.05z" fill="#7f2a2a" fill-rule="nonzero"/>
<path clip-path="url(#cc)" d="M211.9 1310.8L221.9 1457.1L231.8 1532L241.7 1616L251.7 1585.5L261.6 1558.8L271.5 1569.5L281.4 1582.8L291.4 1620.3L301.3 1580.2L311.2 1574.8L321.2 1566.8L331.1 1537.4L341 1558.8L351 1585.5L360.9 1616L370.8 1625.9L380.8 1614.7L390.7 1582.8L400.6 1451.8L410.6 1505.3L420.5 1532L430.4 1524L440.3 1545.4L450.3 1626.2L460.2 1545.4L470.1 1529.3L480.1 1545.4L490 1565.7L499.9 1572.1L509.9 1572.1L519.8 1532L529.7 1524L539.7 1532L549.6 1537.4L559.5 1567.3L569.4 1550.7L579.4 1558.8L589.3 1589.8L599.2 1318L609.2 1411.6L619.1 1446.4L629 1456.6L639 1519.7L648.9 1564.6L658.8 1505.3L668.8 1497.2L678.7 1497.2L688.6 1465.1L698.5 1465.1L708.5 1434.1L718.4 1459.8L728.3 1451.8L738.3 1483.9L748.2 1470.5L758.1 1497.2L768.1 1519.7L778 1510.6L787.9 1497.2L797.9 1398.3L807.8 1470.5L817.7 1451.8L827.7 1412.4L837.6 1457.4L847.5 1451.8L857.4 1457.1L867.4 1449.1L877.3 1443.7L887.2 1438.4L897.2 1443.7L907.1 1518.6L917 1520.8L927 1507.9L936.9 1530.4L946.8 1516L956.8 1473.2L966.7 1527.7L976.6 1533.3L986.5 1499.9L996.5 1390.2L1006.4 1453.4L1016.3 1465.9L1026.3 1483.9L1036.2 1526.4L1046.1 1526.4L1056.1 1497.2L1066 1486.5L1075.9 1546.2L1085.9 1502.6L1095.8 1505.3L1105.7 1513.8L1115.7 1497.2L1125.6 1417.5L1135.5 1513.3L1145.4 1497.2L1155.4 1483.9L1165.3 1426.6L1175.2 1503.9L1185.2 1498.3L1195.1 1426.6" fill="none" stroke="#ff00ff" stroke-width="7.3" stroke-linejoin="round"/>
<path d="M202.23 1310.77a9.7 9.7 0 1 1 19.4 0a9.7 9.7 0 1 1 -19.4 0zM211.23 1310.77a0.7 0.7 0 1 0 1.4 0a0.7 0.7 0 1 0 -1.4 0zM212.16 1457.11a9.7 9.7 0 1 1 19.4 0a9.7 9.7 0 1 1 -19.4 0zM221.16 1457.11a0.7 0.7 0 1 0 1.4 0a0.7 0.7 0 1 0 -1.4 0zM222.09 1532.01a9.7 9.7 0 1 1 19.4 0a9.7 9.7 0 1 1 -19.4 0zM231.09 1532.01a0.7 0.7 0 1 0 1.4 0a0.7 0.7 0 1 0 -1.4 0zM232.02 1616.01a9.7 9.7 0 1 1 19.4 0a9.7 9.7 0 1 1 -19.4 0zM241.02 1616.01a0.7 0.7 0 1 0 1.4 0a0.7 0.7 0 1 0 -1.4 0zM241.96 1585.52a9.7 9.7 0 1 1 19.4 0a9.7 9.7 0 1 1 -19.4 0zM250.96 1585.52a0.7 0.7 0 1 0 1.4 0a0.7 0.7 0 1 0 -1.4 0zM251.89 1558.76a9.7 9.7 0 1 1 19.4 0a9.7 9.7 0 1 1 -19.4 0zM260.89 1558.76a0.7 0.7 0 1 0 1.4 0a0.7 0.7 0 1 0 -1.4 0zM261.82 1569.46a9.7 9.7 0 1 1 19.4 0a9.7 9.7 0 1 1 -19.4 0zM270.82 1569.46a0.7 0.7 0 1 0 1.4 0a0.7 0.7 0 1 0 -1.4 0zM271.75 1582.84a9.7 9.7 0 1 1 19.4 0a9.7 9.7 0 1 1 -19.4 0zM280.75 1582.84a0.7 0.7 0 1 0 1.4 0a0.7 0.7 0 1 0 -1.4 0zM281.68 1620.29a9.7 9.7 0 1 1 19.4 0a9.7 9.7 0 1 1 -19.4 0zM290.68 1620.29a0.7 0.7 0 1 0 1.4 0a0.7 0.7 0 1 0 -1.4 0zM291.61 1580.17a9.7 9.7 0 1 1 19.4 0a9.7 9.7 0 1 1 -19.4 0zM300.61 1580.17a0.7 0.7 0 1 0 1.4 0a0.7 0.7 0 1 0 -1.4 0zM301.54 1574.82a9.7 9.7 0 1 1 19.4 0a9.7 9.7 0 1 1 -19.4 0zM310.54 1574.82a0.7 0.7 0 1 0 1.4 0a0.7 0.7 0 1 0 -1.4 0zM311.47 1566.79a9.7 9.7 0 1 1 19.4 0a9.7 9.7 0 1 1 -19.4 0zM320.47 1566.79a0.7 0.7 0 1 0 1.4 0a0.7 0.7 0 1 0 -1.4 0zM321.4 1537.36a9.7 9.7 0 1 1 19.4 0a9.7 9.7 0 1 1 -19.4 0zM330.4 1537.36a0.7 0.7 0 1 0 1.4 0a0.7 0.7 0 1 0 -1.4 0zM331.33 1558.76a9.7 9.7 0 1 1 19.4 0a9.7 9.7 0 1 1 -19.4 0zM340.33 1558.76a0.7 0.7 0 1 0 1.4 0a0.7 0.7 0 1 0 -1.4 0zM341.26 1585.52a9.7 9.7 0 1 1 19.4 0a9.7 9.7 0 1 1 -19.4 0zM350.26 1585.52a0.7 0.7 0 1 0 1.4 0a0.7 0.7 0 1 0 -1.4 0zM351.2 1616.01a9.7 9.7 0 1 1 19.4 0a9.7 9.7 0 1 1 -19.4 0zM360.2 1616.01a0.7 0.7 0 1 0 1.4 0a0.7 0.7 0 1 0 -1.4 0zM361.13 1625.91a9.7 9.7 0 1 1 19.4 0a9.7 9.7 0 1 1 -19.4 0zM370.13 1625.91a0.7 0.7 0 1 0 1.4 0a0.7 0.7 0 1 0 -1.4 0zM371.06 1614.68a9.7 9.7 0 1 1 19.4 0a9.7 9.7 0 1 1 -19.4 0zM380.06 1614.68a0.7 0.7 0 1 0 1.4 0a0.7 0.7 0 1 0 -1.4 0zM380.99 1582.84a9.7 9.7 0 1 1 19.4 0a9.7 9.7 0 1 1 -19.4 0zM389.99 1582.84a0.7 0.7 0 1 0 1.4 0a0.7 0.7 0 1 0 -1.4 0zM390.92 1451.76a9.7 9.7 0 1 1 19.4 0a9.7 9.7 0 1 1 -19.4 0zM399.92 1451.76a0.7 0.7 0 1 0 1.4 0a0.7 0.7 0 1 0 -1.4 0zM400.85 1505.26a9.7 9.7 0 1 1 19.4 0a9.7 9.7 0 1 1 -19.4 0zM409.85 1505.26a0.7 0.7 0 1 0 1.4 0a0.7 0.7 0 1 0 -1.4 0zM410.78 1532.01a9.7 9.7 0 1 1 19.4 0a9.7 9.7 0 1 1 -19.4 0zM419.78 1532.01a0.7 0.7 0 1 0 1.4 0a0.7 0.7 0 1 0 -1.4 0zM420.71 1523.99a9.7 9.7 0 1 1 19.4 0a9.7 9.7 0 1 1 -19.4 0zM429.71 1523.99a0.7 0.7 0 1 0 1.4 0a0.7 0.7 0 1 0 -1.4 0zM430.64 1545.39a9.7 9.7 0 1 1 19.4 0a9.7 9.7 0 1 1 -19.4 0zM439.64 1545.39a0.7 0.7 0 1 0 1.4 0a0.7 0.7 0 1 0 -1.4 0zM440.57 1626.18a9.7 9.7 0 1 1 19.4 0a9.7 9.7 0 1 1 -19.4 0zM449.57 1626.18a0.7 0.7 0 1 0 1.4 0a0.7 0.7 0 1 0 -1.4 0zM450.51 1545.39a9.7 9.7 0 1 1 19.4 0a9.7 9.7 0 1 1 -19.4 0zM459.51 1545.39a0.7 0.7 0 1 0 1.4 0a0.7 0.7 0 1 0 -1.4 0zM460.44 1529.34a9.7 9.7 0 1 1 19.4 0a9.7 9.7 0 1 1 -19.4 0zM469.44 1529.34a0.7 0.7 0 1 0 1.4 0a0.7 0.7 0 1 0 -1.4 0zM470.37 1545.39a9.7 9.7 0 1 1 19.4 0a9.7 9.7 0 1 1 -19.4 0zM479.37 1545.39a0.7 0.7 0 1 0 1.4 0a0.7 0.7 0 1 0 -1.4 0zM480.3 1565.72a9.7 9.7 0 1 1 19.4 0a9.7 9.7 0 1 1 -19.4 0zM489.3 1565.72a0.7 0.7 0 1 0 1.4 0a0.7 0.7 0 1 0 -1.4 0zM490.23 1572.14a9.7 9.7 0 1 1 19.4 0a9.7 9.7 0 1 1 -19.4 0zM499.23 1572.14a0.7 0.7 0 1 0 1.4 0a0.7 0.7 0 1 0 -1.4 0zM500.16 1572.14a9.7 9.7 0 1 1 19.4 0a9.7 9.7 0 1 1 -19.4 0zM509.16 1572.14a0.7 0.7 0 1 0 1.4 0a0.7 0.7 0 1 0 -1.4 0zM510.09 1532.01a9.7 9.7 0 1 1 19.4 0a9.7 9.7 0 1 1 -19.4 0zM519.09 1532.01a0.7 0.7 0 1 0 1.4 0a0.7 0.7 0 1 0 -1.4 0zM520.02 1523.99a9.7 9.7 0 1 1 19.4 0a9.7 9.7 0 1 1 -19.4 0zM529.02 1523.99a0.7 0.7 0 1 0 1.4 0a0.7 0.7 0 1 0 -1.4 0zM529.95 1532.01a9.7 9.7 0 1 1 19.4 0a9.7 9.7 0 1 1 -19.4 0zM538.95 1532.01a0.7 0.7 0 1 0 1.4 0a0.7 0.7 0 1 0 -1.4 0zM539.88 1537.36a9.7 9.7 0 1 1 19.4 0a9.7 9.7 0 1 1 -19.4 0zM548.88 1537.36a0.7 0.7 0 1 0 1.4 0a0.7 0.7 0 1 0 -1.4 0zM549.82 1567.32a9.7 9.7 0 1 1 19.4 0a9.7 9.7 0 1 1 -19.4 0zM558.82 1567.32a0.7 0.7 0 1 0 1.4 0a0.7 0.7 0 1 0 -1.4 0zM559.75 1550.74a9.7 9.7 0 1 1 19.4 0a9.7 9.7 0 1 1 -19.4 0zM568.75 1550.74a0.7 0.7 0 1 0 1.4 0a0.7 0.7 0 1 0 -1.4 0zM569.68 1558.76a9.7 9.7 0 1 1 19.4 0a9.7 9.7 0 1 1 -19.4 0zM578.68 1558.76a0.7 0.7 0 1 0 1.4 0a0.7 0.7 0 1 0 -1.4 0zM579.61 1589.8a9.7 9.7 0 1 1 19.4 0a9.7 9.7 0 1 1 -19.4 0zM588.61 1589.8a0.7 0.7 0 1 0 1.4 0a0.7 0.7 0 1 0 -1.4 0zM589.54 1318a9.7 9.7 0 1 1 19.4 0a9.7 9.7 0 1 1 -19.4 0zM598.54 1318a0.7 0.7 0 1 0 1.4 0a0.7 0.7 0 1 0 -1.4 0zM599.47 1411.63a9.7 9.7 0 1 1 19.4 0a9.7 9.7 0 1 1 -19.4 0zM608.47 1411.63a0.7 0.7 0 1 0 1.4 0a0.7 0.7 0 1 0 -1.4 0zM609.4 1446.41a9.7 9.7 0 1 1 19.4 0a9.7 9.7 0 1 1 -19.4 0zM618.4 1446.41a0.7 0.7 0 1 0 1.4 0a0.7 0.7 0 1 0 -1.4 0zM619.33 1456.57a9.7 9.7 0 1 1 19.4 0a9.7 9.7 0 1 1 -19.4 0zM628.33 1456.57a0.7 0.7 0 1 0 1.4 0a0.7 0.7 0 1 0 -1.4 0zM629.26 1519.71a9.7 9.7 0 1 1 19.4 0a9.7 9.7 0 1 1 -19.4 0zM638.26 1519.71a0.7 0.7 0 1 0 1.4 0a0.7 0.7 0 1 0 -1.4 0zM639.19 1564.65a9.7 9.7 0 1 1 19.4 0a9.7 9.7 0 1 1 -19.4 0zM648.19 1564.65a0.7 0.7 0 1 0 1.4 0a0.7 0.7 0 1 0 -1.4 0zM649.13 1505.26a9.7 9.7 0 1 1 19.4 0a9.7 9.7 0 1 1 -19.4 0zM658.13 1505.26a0.7 0.7 0 1 0 1.4 0a0.7 0.7 0 1 0 -1.4 0zM659.06 1497.23a9.7 9.7 0 1 1 19.4 0a9.7 9.7 0 1 1 -19.4 0zM668.06 1497.23a0.7 0.7 0 1 0 1.4 0a0.7 0.7 0 1 0 -1.4 0zM668.99 1497.23a9.7 9.7 0 1 1 19.4 0a9.7 9.7 0 1 1 -19.4 0zM677.99 1497.23a0.7 0.7 0 1 0 1.4 0a0.7 0.7 0 1 0 -1.4 0zM678.92 1465.13a9.7 9.7 0 1 1 19.4 0a9.7 9.7 0 1 1 -19.4 0zM687.92 1465.13a0.7 0.7 0 1 0 1.4 0a0.7 0.7 0 1 0 -1.4 0zM688.85 1465.13a9.7 9.7 0 1 1 19.4 0a9.7 9.7 0 1 1 -19.4 0zM697.85 1465.13a0.7 0.7 0 1 0 1.4 0a0.7 0.7 0 1 0 -1.4 0zM698.78 1434.1a9.7 9.7 0 1 1 19.4 0a9.7 9.7 0 1 1 -19.4 0zM707.78 1434.1a0.7 0.7 0 1 0 1.4 0a0.7 0.7 0 1 0 -1.4 0zM708.71 1459.78a9.7 9.7 0 1 1 19.4 0a9.7 9.7 0 1 1 -19.4 0zM717.71 1459.78a0.7 0.7 0 1 0 1.4 0a0.7 0.7 0 1 0 -1.4 0zM718.64 1451.76a9.7 9.7 0 1 1 19.4 0a9.7 9.7 0 1 1 -19.4 0zM727.64 1451.76a0.7 0.7 0 1 0 1.4 0a0.7 0.7 0 1 0 -1.4 0zM728.57 1483.86a9.7 9.7 0 1 1 19.4 0a9.7 9.7 0 1 1 -19.4 0zM737.57 1483.86a0.7 0.7 0 1 0 1.4 0a0.7 0.7 0 1 0 -1.4 0zM738.5 1470.48a9.7 9.7 0 1 1 19.4 0a9.7 9.7 0 1 1 -19.4 0zM747.5 1470.48a0.7 0.7 0 1 0 1.4 0a0.7 0.7 0 1 0 -1.4 0zM748.44 1497.23a9.7 9.7 0 1 1 19.4 0a9.7 9.7 0 1 1 -19.4 0zM757.44 1497.23a0.7 0.7 0 1 0 1.4 0a0.7 0.7 0 1 0 -1.4 0zM758.37 1519.71a9.7 9.7 0 1 1 19.4 0a9.7 9.7 0 1 1 -19.4 0zM767.37 1519.71a0.7 0.7 0 1 0 1.4 0a0.7 0.7 0 1 0 -1.4 0zM768.3 1510.61a9.7 9.7 0 1 1 19.4 0a9.7 9.7 0 1 1 -19.4 0zM777.3 1510.61a0.7 0.7 0 1 0 1.4 0a0.7 0.7 0 1 0 -1.4 0zM778.23 1497.23a9.7 9.7 0 1 1 19.4 0a9.7 9.7 0 1 1 -19.4 0zM787.23 1497.23a0.7 0.7 0 1 0 1.4 0a0.7 0.7 0 1 0 -1.4 0zM788.16 1398.25a9.7 9.7 0 1 1 19.4 0a9.7 9.7 0 1 1 -19.4 0zM797.16 1398.25a0.7 0.7 0 1 0 1.4 0a0.7 0.7 0 1 0 -1.4 0zM798.09 1470.48a9.7 9.7 0 1 1 19.4 0a9.7 9.7 0 1 1 -19.4 0zM807.09 1470.48a0.7 0.7 0 1 0 1.4 0a0.7 0.7 0 1 0 -1.4 0zM808.02 1451.76a9.7 9.7 0 1 1 19.4 0a9.7 9.7 0 1 1 -19.4 0zM817.02 1451.76a0.7 0.7 0 1 0 1.4 0a0.7 0.7 0 1 0 -1.4 0zM817.95 1412.43a9.7 9.7 0 1 1 19.4 0a9.7 9.7 0 1 1 -19.4 0zM826.95 1412.43a0.7 0.7 0 1 0 1.4 0a0.7 0.7 0 1 0 -1.4 0zM827.88 1457.37a9.7 9.7 0 1 1 19.4 0a9.7 9.7 0 1 1 -19.4 0zM836.88 1457.37a0.7 0.7 0 1 0 1.4 0a0.7 0.7 0 1 0 -1.4 0zM837.81 1451.76a9.7 9.7 0 1 1 19.4 0a9.7 9.7 0 1 1 -19.4 0zM846.81 1451.76a0.7 0.7 0 1 0 1.4 0a0.7 0.7 0 1 0 -1.4 0zM847.75 1457.11a9.7 9.7 0 1 1 19.4 0a9.7 9.7 0 1 1 -19.4 0zM856.75 1457.11a0.7 0.7 0 1 0 1.4 0a0.7 0.7 0 1 0 -1.4 0zM857.68 1449.08a9.7 9.7 0 1 1 19.4 0a9.7 9.7 0 1 1 -19.4 0zM866.68 1449.08a0.7 0.7 0 1 0 1.4 0a0.7 0.7 0 1 0 -1.4 0zM867.61 1443.73a9.7 9.7 0 1 1 19.4 0a9.7 9.7 0 1 1 -19.4 0zM876.61 1443.73a0.7 0.7 0 1 0 1.4 0a0.7 0.7 0 1 0 -1.4 0zM877.54 1438.38a9.7 9.7 0 1 1 19.4 0a9.7 9.7 0 1 1 -19.4 0zM886.54 1438.38a0.7 0.7 0 1 0 1.4 0a0.7 0.7 0 1 0 -1.4 0zM887.47 1443.73a9.7 9.7 0 1 1 19.4 0a9.7 9.7 0 1 1 -19.4 0zM896.47 1443.73a0.7 0.7 0 1 0 1.4 0a0.7 0.7 0 1 0 -1.4 0zM897.4 1518.64a9.7 9.7 0 1 1 19.4 0a9.7 9.7 0 1 1 -19.4 0zM906.4 1518.64a0.7 0.7 0 1 0 1.4 0a0.7 0.7 0 1 0 -1.4 0zM907.33 1520.78a9.7 9.7 0 1 1 19.4 0a9.7 9.7 0 1 1 -19.4 0zM916.33 1520.78a0.7 0.7 0 1 0 1.4 0a0.7 0.7 0 1 0 -1.4 0zM917.26 1507.94a9.7 9.7 0 1 1 19.4 0a9.7 9.7 0 1 1 -19.4 0zM926.26 1507.94a0.7 0.7 0 1 0 1.4 0a0.7 0.7 0 1 0 -1.4 0zM927.19 1530.41a9.7 9.7 0 1 1 19.4 0a9.7 9.7 0 1 1 -19.4 0zM936.19 1530.41a0.7 0.7 0 1 0 1.4 0a0.7 0.7 0 1 0 -1.4 0zM937.12 1515.96a9.7 9.7 0 1 1 19.4 0a9.7 9.7 0 1 1 -19.4 0zM946.12 1515.96a0.7 0.7 0 1 0 1.4 0a0.7 0.7 0 1 0 -1.4 0zM947.06 1473.16a9.7 9.7 0 1 1 19.4 0a9.7 9.7 0 1 1 -19.4 0zM956.06 1473.16a0.7 0.7 0 1 0 1.4 0a0.7 0.7 0 1 0 -1.4 0zM956.99 1527.73a9.7 9.7 0 1 1 19.4 0a9.7 9.7 0 1 1 -19.4 0zM965.99 1527.73a0.7 0.7 0 1 0 1.4 0a0.7 0.7 0 1 0 -1.4 0zM966.92 1533.35a9.7 9.7 0 1 1 19.4 0a9.7 9.7 0 1 1 -19.4 0zM975.92 1533.35a0.7 0.7 0 1 0 1.4 0a0.7 0.7 0 1 0 -1.4 0zM976.85 1499.91a9.7 9.7 0 1 1 19.4 0a9.7 9.7 0 1 1 -19.4 0zM985.85 1499.91a0.7 0.7 0 1 0 1.4 0a0.7 0.7 0 1 0 -1.4 0zM986.78 1390.23a9.7 9.7 0 1 1 19.4 0a9.7 9.7 0 1 1 -19.4 0zM995.78 1390.23a0.7 0.7 0 1 0 1.4 0a0.7 0.7 0 1 0 -1.4 0zM996.71 1453.36a9.7 9.7 0 1 1 19.4 0a9.7 9.7 0 1 1 -19.4 0zM1005.71 1453.36a0.7 0.7 0 1 0 1.4 0a0.7 0.7 0 1 0 -1.4 0zM1006.64 1465.93a9.7 9.7 0 1 1 19.4 0a9.7 9.7 0 1 1 -19.4 0zM1015.64 1465.93a0.7 0.7 0 1 0 1.4 0a0.7 0.7 0 1 0 -1.4 0zM1016.57 1483.86a9.7 9.7 0 1 1 19.4 0a9.7 9.7 0 1 1 -19.4 0zM1025.57 1483.86a0.7 0.7 0 1 0 1.4 0a0.7 0.7 0 1 0 -1.4 0zM1026.5 1526.39a9.7 9.7 0 1 1 19.4 0a9.7 9.7 0 1 1 -19.4 0zM1035.5 1526.39a0.7 0.7 0 1 0 1.4 0a0.7 0.7 0 1 0 -1.4 0zM1036.43 1526.39a9.7 9.7 0 1 1 19.4 0a9.7 9.7 0 1 1 -19.4 0zM1045.43 1526.39a0.7 0.7 0 1 0 1.4 0a0.7 0.7 0 1 0 -1.4 0zM1046.37 1497.23a9.7 9.7 0 1 1 19.4 0a9.7 9.7 0 1 1 -19.4 0zM1055.37 1497.23a0.7 0.7 0 1 0 1.4 0a0.7 0.7 0 1 0 -1.4 0zM1056.3 1486.53a9.7 9.7 0 1 1 19.4 0a9.7 9.7 0 1 1 -19.4 0zM1065.3 1486.53a0.7 0.7 0 1 0 1.4 0a0.7 0.7 0 1 0 -1.4 0zM1066.23 1546.19a9.7 9.7 0 1 1 19.4 0a9.7 9.7 0 1 1 -19.4 0zM1075.23 1546.19a0.7 0.7 0 1 0 1.4 0a0.7 0.7 0 1 0 -1.4 0zM1076.16 1502.58a9.7 9.7 0 1 1 19.4 0a9.7 9.7 0 1 1 -19.4 0zM1085.16 1502.58a0.7 0.7 0 1 0 1.4 0a0.7 0.7 0 1 0 -1.4 0zM1086.09 1505.26a9.7 9.7 0 1 1 19.4 0a9.7 9.7 0 1 1 -19.4 0zM1095.09 1505.26a0.7 0.7 0 1 0 1.4 0a0.7 0.7 0 1 0 -1.4 0zM1096.02 1513.82a9.7 9.7 0 1 1 19.4 0a9.7 9.7 0 1 1 -19.4 0zM1105.02 1513.82a0.7 0.7 0 1 0 1.4 0a0.7 0.7 0 1 0 -1.4 0zM1105.95 1497.23a9.7 9.7 0 1 1 19.4 0a9.7 9.7 0 1 1 -19.4 0zM1114.95 1497.23a0.7 0.7 0 1 0 1.4 0a0.7 0.7 0 1 0 -1.4 0zM1115.88 1417.51a9.7 9.7 0 1 1 19.4 0a9.7 9.7 0 1 1 -19.4 0zM1124.88 1417.51a0.7 0.7 0 1 0 1.4 0a0.7 0.7 0 1 0 -1.4 0zM1125.81 1513.29a9.7 9.7 0 1 1 19.4 0a9.7 9.7 0 1 1 -19.4 0zM1134.81 1513.29a0.7 0.7 0 1 0 1.4 0a0.7 0.7 0 1 0 -1.4 0zM1135.74 1497.23a9.7 9.7 0 1 1 19.4 0a9.7 9.7 0 1 1 -19.4 0zM1144.74 1497.23a0.7 0.7 0 1 0 1.4 0a0.7 0.7 0 1 0 -1.4 0zM1145.68 1483.86a9.7 9.7 0 1 1 19.4 0a9.7 9.7 0 1 1 -19.4 0zM1154.68 1483.86a0.7 0.7 0 1 0 1.4 0a0.7 0.7 0 1 0 -1.4 0zM1155.61 1426.61a9.7 9.7 0 1 1 19.4 0a9.7 9.7 0 1 1 -19.4 0zM1164.61 1426.61a0.7 0.7 0 1 0 1.4 0a0.7 0.7 0 1 0 -1.4 0zM1165.54 1503.92a9.7 9.7 0 1 1 19.4 0a9.7 9.7 0 1 1 -19.4 0zM1174.54 1503.92a0.7 0.7 0 1 0 1.4 0a0.7 0.7 0 1 0 -1.4 0zM1175.47 1498.3a9.7 9.7 0 1 1 19.4 0a9.7 9.7 0 1 1 -19.4 0zM1184.47 1498.3a0.7 0.7 0 1 0 1.4 0a0.7 0.7 0 1 0 -1.4 0zM1185.4 1426.61a9.7 9.7 0 1 1 19.4 0a9.7 9.7 0 1 1 -19.4 0zM1194.4 1426.61a0.7 0.7 0 1 0 1.4 0a0.7 0.7 0 1 0 -1.4 0z" fill="#ff00ff" fill-rule="nonzero"/>
<path clip-path="url(#cc)" d="M211.9 1369.1L221.9 1465.1L231.8 1530.4L241.7 1582.8L251.7 1604.2L261.6 1598.9L271.5 1590.9L281.4 1582.8L291.4 1572.1L301.3 1562.8L311.2 1544.3L321.2 1580.2L331.1 1531.7L341 1564.1L351 1572.1L360.9 1590.9L370.8 1582.8L380.8 1572.1L390.7 1544.3L400.6 1411.6L410.6 1457.1L420.5 1491.9L430.4 1501.2L440.3 1521.3L450.3 1524L460.2 1526.7L470.1 1529.3L480.1 1533.3L490 1521.3L499.9 1526.7L509.9 1526.7L519.8 1526.7L529.7 1480.1L539.7 1513.3L549.6 1524L559.5 1529.3L569.4 1526.7L579.4 1521.3L589.3 1468.9L599.2 1304.6L609.2 1371.5L619.1 1348.2L629 1439.7L639 1410L648.9 1413L658.8 1465.1L668.8 1449.3L678.7 1391.8L688.6 1431.2L698.5 1457.1L708.5 1454.4L718.4 1478.5L728.3 1427.7L738.3 1441.1L748.2 1435.7L758.1 1430.4L768.1 1407.9L778 1431.2L787.9 1400.4L797.9 1358.1L807.8 1355.4L817.7 1356.8L827.7 1366.7L837.6 1391.6L847.5 1430.4L857.4 1413.8L867.4 1427.7L877.3 1411.1L887.2 1402.5L897.2 1395.6L907.1 1426.6L917 1453.4L927 1463L936.9 1440L946.8 1488.4L956.8 1464.6L966.7 1473.2L976.6 1489.2L986.5 1491.1L996.5 1371.5L1006.4 1355.7L1016.3 1376.9L1026.3 1379.5L1036.2 1473.2L1046.1 1417L1056.1 1446.4L1066 1440.8L1075.9 1457.1L1085.9 1449.1L1095.8 1481.2L1105.7 1467.8L1115.7 1459.8L1125.6 1435.2L1135.5 1445.1L1145.4 1465.1L1155.4 1478.5L1165.3 1446.4L1175.2 1495.6L1185.2 1459.8L1195.1 1445.1" fill="none" stroke="#a020f0" stroke-width="7.3" stroke-linejoin="round" stroke-dasharray="37 12 10 12"/>
<path d="M202.23 1369.09a9.7 9.7 0 1 1 19.4 0a9.7 9.7 0 1 1 -19.4 0zM211.23 1369.09a0.7 0.7 0 1 0 1.4 0a0.7 0.7 0 1 0 -1.4 0zM212.16 1465.13a9.7 9.7 0 1 1 19.4 0a9.7 9.7 0 1 1 -19.4 0zM221.16 1465.13a0.7 0.7 0 1 0 1.4 0a0.7 0.7 0 1 0 -1.4 0zM222.09 1530.41a9.7 9.7 0 1 1 19.4 0a9.7 9.7 0 1 1 -19.4 0zM231.09 1530.41a0.7 0.7 0 1 0 1.4 0a0.7 0.7 0 1 0 -1.4 0zM232.02 1582.84a9.7 9.7 0 1 1 19.4 0a9.7 9.7 0 1 1 -19.4 0zM241.02 1582.84a0.7 0.7 0 1 0 1.4 0a0.7 0.7 0 1 0 -1.4 0zM241.96 1604.24a9.7 9.7 0 1 1 19.4 0a9.7 9.7 0 1 1 -19.4 0zM250.96 1604.24a0.7 0.7 0 1 0 1.4 0a0.7 0.7 0 1 0 -1.4 0zM251.89 1598.89a9.7 9.7 0 1 1 19.4 0a9.7 9.7 0 1 1 -19.4 0zM260.89 1598.89a0.7 0.7 0 1 0 1.4 0a0.7 0.7 0 1 0 -1.4 0zM261.82 1590.87a9.7 9.7 0 1 1 19.4 0a9.7 9.7 0 1 1 -19.4 0zM270.82 1590.87a0.7 0.7 0 1 0 1.4 0a0.7 0.7 0 1 0 -1.4 0zM271.75 1582.84a9.7 9.7 0 1 1 19.4 0a9.7 9.7 0 1 1 -19.4 0zM280.75 1582.84a0.7 0.7 0 1 0 1.4 0a0.7 0.7 0 1 0 -1.4 0zM281.68 1572.14a9.7 9.7 0 1 1 19.4 0a9.7 9.7 0 1 1 -19.4 0zM290.68 1572.14a0.7 0.7 0 1 0 1.4 0a0.7 0.7 0 1 0 -1.4 0zM291.61 1562.78a9.7 9.7 0 1 1 19.4 0a9.7 9.7 0 1 1 -19.4 0zM300.61 1562.78a0.7 0.7 0 1 0 1.4 0a0.7 0.7 0 1 0 -1.4 0zM301.54 1544.32a9.7 9.7 0 1 1 19.4 0a9.7 9.7 0 1 1 -19.4 0zM310.54 1544.32a0.7 0.7 0 1 0 1.4 0a0.7 0.7 0 1 0 -1.4 0zM311.47 1580.17a9.7 9.7 0 1 1 19.4 0a9.7 9.7 0 1 1 -19.4 0zM320.47 1580.17a0.7 0.7 0 1 0 1.4 0a0.7 0.7 0 1 0 -1.4 0zM321.4 1531.74a9.7 9.7 0 1 1 19.4 0a9.7 9.7 0 1 1 -19.4 0zM330.4 1531.74a0.7 0.7 0 1 0 1.4 0a0.7 0.7 0 1 0 -1.4 0zM331.33 1564.11a9.7 9.7 0 1 1 19.4 0a9.7 9.7 0 1 1 -19.4 0zM340.33 1564.11a0.7 0.7 0 1 0 1.4 0a0.7 0.7 0 1 0 -1.4 0zM341.26 1572.14a9.7 9.7 0 1 1 19.4 0a9.7 9.7 0 1 1 -19.4 0zM350.26 1572.14a0.7 0.7 0 1 0 1.4 0a0.7 0.7 0 1 0 -1.4 0zM351.2 1590.87a9.7 9.7 0 1 1 19.4 0a9.7 9.7 0 1 1 -19.4 0zM360.2 1590.87a0.7 0.7 0 1 0 1.4 0a0.7 0.7 0 1 0 -1.4 0zM361.13 1582.84a9.7 9.7 0 1 1 19.4 0a9.7 9.7 0 1 1 -19.4 0zM370.13 1582.84a0.7 0.7 0 1 0 1.4 0a0.7 0.7 0 1 0 -1.4 0zM371.06 1572.14a9.7 9.7 0 1 1 19.4 0a9.7 9.7 0 1 1 -19.4 0zM380.06 1572.14a0.7 0.7 0 1 0 1.4 0a0.7 0.7 0 1 0 -1.4 0zM380.99 1544.32a9.7 9.7 0 1 1 19.4 0a9.7 9.7 0 1 1 -19.4 0zM389.99 1544.32a0.7 0.7 0 1 0 1.4 0a0.7 0.7 0 1 0 -1.4 0zM390.92 1411.63a9.7 9.7 0 1 1 19.4 0a9.7 9.7 0 1 1 -19.4 0zM399.92 1411.63a0.7 0.7 0 1 0 1.4 0a0.7 0.7 0 1 0 -1.4 0zM400.85 1457.11a9.7 9.7 0 1 1 19.4 0a9.7 9.7 0 1 1 -19.4 0zM409.85 1457.11a0.7 0.7 0 1 0 1.4 0a0.7 0.7 0 1 0 -1.4 0zM410.78 1491.88a9.7 9.7 0 1 1 19.4 0a9.7 9.7 0 1 1 -19.4 0zM419.78 1491.88a0.7 0.7 0 1 0 1.4 0a0.7 0.7 0 1 0 -1.4 0zM420.71 1501.25a9.7 9.7 0 1 1 19.4 0a9.7 9.7 0 1 1 -19.4 0zM429.71 1501.25a0.7 0.7 0 1 0 1.4 0a0.7 0.7 0 1 0 -1.4 0zM430.64 1521.31a9.7 9.7 0 1 1 19.4 0a9.7 9.7 0 1 1 -19.4 0zM439.64 1521.31a0.7 0.7 0 1 0 1.4 0a0.7 0.7 0 1 0 -1.4 0zM440.57 1523.99a9.7 9.7 0 1 1 19.4 0a9.7 9.7 0 1 1 -19.4 0zM449.57 1523.99a0.7 0.7 0 1 0 1.4 0a0.7 0.7 0 1 0 -1.4 0zM450.51 1526.66a9.7 9.7 0 1 1 19.4 0a9.7 9.7 0 1 1 -19.4 0zM459.51 1526.66a0.7 0.7 0 1 0 1.4 0a0.7 0.7 0 1 0 -1.4 0zM460.44 1529.34a9.7 9.7 0 1 1 19.4 0a9.7 9.7 0 1 1 -19.4 0zM469.44 1529.34a0.7 0.7 0 1 0 1.4 0a0.7 0.7 0 1 0 -1.4 0zM470.37 1533.35a9.7 9.7 0 1 1 19.4 0a9.7 9.7 0 1 1 -19.4 0zM479.37 1533.35a0.7 0.7 0 1 0 1.4 0a0.7 0.7 0 1 0 -1.4 0zM480.3 1521.31a9.7 9.7 0 1 1 19.4 0a9.7 9.7 0 1 1 -19.4 0zM489.3 1521.31a0.7 0.7 0 1 0 1.4 0a0.7 0.7 0 1 0 -1.4 0zM490.23 1526.66a9.7 9.7 0 1 1 19.4 0a9.7 9.7 0 1 1 -19.4 0zM499.23 1526.66a0.7 0.7 0 1 0 1.4 0a0.7 0.7 0 1 0 -1.4 0zM500.16 1526.66a9.7 9.7 0 1 1 19.4 0a9.7 9.7 0 1 1 -19.4 0zM509.16 1526.66a0.7 0.7 0 1 0 1.4 0a0.7 0.7 0 1 0 -1.4 0zM510.09 1526.66a9.7 9.7 0 1 1 19.4 0a9.7 9.7 0 1 1 -19.4 0zM519.09 1526.66a0.7 0.7 0 1 0 1.4 0a0.7 0.7 0 1 0 -1.4 0zM520.02 1480.11a9.7 9.7 0 1 1 19.4 0a9.7 9.7 0 1 1 -19.4 0zM529.02 1480.11a0.7 0.7 0 1 0 1.4 0a0.7 0.7 0 1 0 -1.4 0zM529.95 1513.29a9.7 9.7 0 1 1 19.4 0a9.7 9.7 0 1 1 -19.4 0zM538.95 1513.29a0.7 0.7 0 1 0 1.4 0a0.7 0.7 0 1 0 -1.4 0zM539.88 1523.99a9.7 9.7 0 1 1 19.4 0a9.7 9.7 0 1 1 -19.4 0zM548.88 1523.99a0.7 0.7 0 1 0 1.4 0a0.7 0.7 0 1 0 -1.4 0zM549.82 1529.34a9.7 9.7 0 1 1 19.4 0a9.7 9.7 0 1 1 -19.4 0zM558.82 1529.34a0.7 0.7 0 1 0 1.4 0a0.7 0.7 0 1 0 -1.4 0zM559.75 1526.66a9.7 9.7 0 1 1 19.4 0a9.7 9.7 0 1 1 -19.4 0zM568.75 1526.66a0.7 0.7 0 1 0 1.4 0a0.7 0.7 0 1 0 -1.4 0zM569.68 1521.31a9.7 9.7 0 1 1 19.4 0a9.7 9.7 0 1 1 -19.4 0zM578.68 1521.31a0.7 0.7 0 1 0 1.4 0a0.7 0.7 0 1 0 -1.4 0zM579.61 1468.88a9.7 9.7 0 1 1 19.4 0a9.7 9.7 0 1 1 -19.4 0zM588.61 1468.88a0.7 0.7 0 1 0 1.4 0a0.7 0.7 0 1 0 -1.4 0zM589.54 1304.62a9.7 9.7 0 1 1 19.4 0a9.7 9.7 0 1 1 -19.4 0zM598.54 1304.62a0.7 0.7 0 1 0 1.4 0a0.7 0.7 0 1 0 -1.4 0zM599.47 1371.5a9.7 9.7 0 1 1 19.4 0a9.7 9.7 0 1 1 -19.4 0zM608.47 1371.5a0.7 0.7 0 1 0 1.4 0a0.7 0.7 0 1 0 -1.4 0zM609.4 1348.23a9.7 9.7 0 1 1 19.4 0a9.7 9.7 0 1 1 -19.4 0zM618.4 1348.23a0.7 0.7 0 1 0 1.4 0a0.7 0.7 0 1 0 -1.4 0zM619.33 1439.72a9.7 9.7 0 1 1 19.4 0a9.7 9.7 0 1 1 -19.4 0zM628.33 1439.72a0.7 0.7 0 1 0 1.4 0a0.7 0.7 0 1 0 -1.4 0zM629.26 1410.02a9.7 9.7 0 1 1 19.4 0a9.7 9.7 0 1 1 -19.4 0zM638.26 1410.02a0.7 0.7 0 1 0 1.4 0a0.7 0.7 0 1 0 -1.4 0zM639.19 1412.97a9.7 9.7 0 1 1 19.4 0a9.7 9.7 0 1 1 -19.4 0zM648.19 1412.97a0.7 0.7 0 1 0 1.4 0a0.7 0.7 0 1 0 -1.4 0zM649.13 1465.13a9.7 9.7 0 1 1 19.4 0a9.7 9.7 0 1 1 -19.4 0zM658.13 1465.13a0.7 0.7 0 1 0 1.4 0a0.7 0.7 0 1 0 -1.4 0zM659.06 1449.35a9.7 9.7 0 1 1 19.4 0a9.7 9.7 0 1 1 -19.4 0zM668.06 1449.35a0.7 0.7 0 1 0 1.4 0a0.7 0.7 0 1 0 -1.4 0zM668.99 1391.83a9.7 9.7 0 1 1 19.4 0a9.7 9.7 0 1 1 -19.4 0zM677.99 1391.83a0.7 0.7 0 1 0 1.4 0a0.7 0.7 0 1 0 -1.4 0zM678.92 1431.16a9.7 9.7 0 1 1 19.4 0a9.7 9.7 0 1 1 -19.4 0zM687.92 1431.16a0.7 0.7 0 1 0 1.4 0a0.7 0.7 0 1 0 -1.4 0zM688.85 1457.11a9.7 9.7 0 1 1 19.4 0a9.7 9.7 0 1 1 -19.4 0zM697.85 1457.11a0.7 0.7 0 1 0 1.4 0a0.7 0.7 0 1 0 -1.4 0zM698.78 1454.43a9.7 9.7 0 1 1 19.4 0a9.7 9.7 0 1 1 -19.4 0zM707.78 1454.43a0.7 0.7 0 1 0 1.4 0a0.7 0.7 0 1 0 -1.4 0zM708.71 1478.51a9.7 9.7 0 1 1 19.4 0a9.7 9.7 0 1 1 -19.4 0zM717.71 1478.51a0.7 0.7 0 1 0 1.4 0a0.7 0.7 0 1 0 -1.4 0zM718.64 1427.68a9.7 9.7 0 1 1 19.4 0a9.7 9.7 0 1 1 -19.4 0zM727.64 1427.68a0.7 0.7 0 1 0 1.4 0a0.7 0.7 0 1 0 -1.4 0zM728.57 1441.06a9.7 9.7 0 1 1 19.4 0a9.7 9.7 0 1 1 -19.4 0zM737.57 1441.06a0.7 0.7 0 1 0 1.4 0a0.7 0.7 0 1 0 -1.4 0zM738.5 1435.7a9.7 9.7 0 1 1 19.4 0a9.7 9.7 0 1 1 -19.4 0zM747.5 1435.7a0.7 0.7 0 1 0 1.4 0a0.7 0.7 0 1 0 -1.4 0zM748.44 1430.35a9.7 9.7 0 1 1 19.4 0a9.7 9.7 0 1 1 -19.4 0zM757.44 1430.35a0.7 0.7 0 1 0 1.4 0a0.7 0.7 0 1 0 -1.4 0zM758.37 1407.88a9.7 9.7 0 1 1 19.4 0a9.7 9.7 0 1 1 -19.4 0zM767.37 1407.88a0.7 0.7 0 1 0 1.4 0a0.7 0.7 0 1 0 -1.4 0zM768.3 1431.16a9.7 9.7 0 1 1 19.4 0a9.7 9.7 0 1 1 -19.4 0zM777.3 1431.16a0.7 0.7 0 1 0 1.4 0a0.7 0.7 0 1 0 -1.4 0zM778.23 1400.39a9.7 9.7 0 1 1 19.4 0a9.7 9.7 0 1 1 -19.4 0zM787.23 1400.39a0.7 0.7 0 1 0 1.4 0a0.7 0.7 0 1 0 -1.4 0zM788.16 1358.12a9.7 9.7 0 1 1 19.4 0a9.7 9.7 0 1 1 -19.4 0zM797.16 1358.12a0.7 0.7 0 1 0 1.4 0a0.7 0.7 0 1 0 -1.4 0zM798.09 1355.45a9.7 9.7 0 1 1 19.4 0a9.7 9.7 0 1 1 -19.4 0zM807.09 1355.45a0.7 0.7 0 1 0 1.4 0a0.7 0.7 0 1 0 -1.4 0zM808.02 1356.79a9.7 9.7 0 1 1 19.4 0a9.7 9.7 0 1 1 -19.4 0zM817.02 1356.79a0.7 0.7 0 1 0 1.4 0a0.7 0.7 0 1 0 -1.4 0zM817.95 1366.68a9.7 9.7 0 1 1 19.4 0a9.7 9.7 0 1 1 -19.4 0zM826.95 1366.68a0.7 0.7 0 1 0 1.4 0a0.7 0.7 0 1 0 -1.4 0zM827.88 1391.56a9.7 9.7 0 1 1 19.4 0a9.7 9.7 0 1 1 -19.4 0zM836.88 1391.56a0.7 0.7 0 1 0 1.4 0a0.7 0.7 0 1 0 -1.4 0zM837.81 1430.35a9.7 9.7 0 1 1 19.4 0a9.7 9.7 0 1 1 -19.4 0zM846.81 1430.35a0.7 0.7 0 1 0 1.4 0a0.7 0.7 0 1 0 -1.4 0zM847.75 1413.77a9.7 9.7 0 1 1 19.4 0a9.7 9.7 0 1 1 -19.4 0zM856.75 1413.77a0.7 0.7 0 1 0 1.4 0a0.7 0.7 0 1 0 -1.4 0zM857.68 1427.68a9.7 9.7 0 1 1 19.4 0a9.7 9.7 0 1 1 -19.4 0zM866.68 1427.68a0.7 0.7 0 1 0 1.4 0a0.7 0.7 0 1 0 -1.4 0zM867.61 1411.09a9.7 9.7 0 1 1 19.4 0a9.7 9.7 0 1 1 -19.4 0zM876.61 1411.09a0.7 0.7 0 1 0 1.4 0a0.7 0.7 0 1 0 -1.4 0zM877.54 1402.53a9.7 9.7 0 1 1 19.4 0a9.7 9.7 0 1 1 -19.4 0zM886.54 1402.53a0.7 0.7 0 1 0 1.4 0a0.7 0.7 0 1 0 -1.4 0zM887.47 1395.58a9.7 9.7 0 1 1 19.4 0a9.7 9.7 0 1 1 -19.4 0zM896.47 1395.58a0.7 0.7 0 1 0 1.4 0a0.7 0.7 0 1 0 -1.4 0zM897.4 1426.61a9.7 9.7 0 1 1 19.4 0a9.7 9.7 0 1 1 -19.4 0zM906.4 1426.61a0.7 0.7 0 1 0 1.4 0a0.7 0.7 0 1 0 -1.4 0zM907.33 1453.36a9.7 9.7 0 1 1 19.4 0a9.7 9.7 0 1 1 -19.4 0zM916.33 1453.36a0.7 0.7 0 1 0 1.4 0a0.7 0.7 0 1 0 -1.4 0zM917.26 1462.99a9.7 9.7 0 1 1 19.4 0a9.7 9.7 0 1 1 -19.4 0zM926.26 1462.99a0.7 0.7 0 1 0 1.4 0a0.7 0.7 0 1 0 -1.4 0zM927.19 1439.99a9.7 9.7 0 1 1 19.4 0a9.7 9.7 0 1 1 -19.4 0zM936.19 1439.99a0.7 0.7 0 1 0 1.4 0a0.7 0.7 0 1 0 -1.4 0zM937.12 1488.41a9.7 9.7 0 1 1 19.4 0a9.7 9.7 0 1 1 -19.4 0zM946.12 1488.41a0.7 0.7 0 1 0 1.4 0a0.7 0.7 0 1 0 -1.4 0zM947.06 1464.6a9.7 9.7 0 1 1 19.4 0a9.7 9.7 0 1 1 -19.4 0zM956.06 1464.6a0.7 0.7 0 1 0 1.4 0a0.7 0.7 0 1 0 -1.4 0zM956.99 1473.16a9.7 9.7 0 1 1 19.4 0a9.7 9.7 0 1 1 -19.4 0zM965.99 1473.16a0.7 0.7 0 1 0 1.4 0a0.7 0.7 0 1 0 -1.4 0zM966.92 1489.21a9.7 9.7 0 1 1 19.4 0a9.7 9.7 0 1 1 -19.4 0zM975.92 1489.21a0.7 0.7 0 1 0 1.4 0a0.7 0.7 0 1 0 -1.4 0zM976.85 1491.08a9.7 9.7 0 1 1 19.4 0a9.7 9.7 0 1 1 -19.4 0zM985.85 1491.08a0.7 0.7 0 1 0 1.4 0a0.7 0.7 0 1 0 -1.4 0zM986.78 1371.5a9.7 9.7 0 1 1 19.4 0a9.7 9.7 0 1 1 -19.4 0zM995.78 1371.5a0.7 0.7 0 1 0 1.4 0a0.7 0.7 0 1 0 -1.4 0zM996.71 1355.72a9.7 9.7 0 1 1 19.4 0a9.7 9.7 0 1 1 -19.4 0zM1005.71 1355.72a0.7 0.7 0 1 0 1.4 0a0.7 0.7 0 1 0 -1.4 0zM1006.64 1376.85a9.7 9.7 0 1 1 19.4 0a9.7 9.7 0 1 1 -19.4 0zM1015.64 1376.85a0.7 0.7 0 1 0 1.4 0a0.7 0.7 0 1 0 -1.4 0zM1016.57 1379.53a9.7 9.7 0 1 1 19.4 0a9.7 9.7 0 1 1 -19.4 0zM1025.57 1379.53a0.7 0.7 0 1 0 1.4 0a0.7 0.7 0 1 0 -1.4 0zM1026.5 1473.16a9.7 9.7 0 1 1 19.4 0a9.7 9.7 0 1 1 -19.4 0zM1035.5 1473.16a0.7 0.7 0 1 0 1.4 0a0.7 0.7 0 1 0 -1.4 0zM1036.43 1416.98a9.7 9.7 0 1 1 19.4 0a9.7 9.7 0 1 1 -19.4 0zM1045.43 1416.98a0.7 0.7 0 1 0 1.4 0a0.7 0.7 0 1 0 -1.4 0zM1046.37 1446.41a9.7 9.7 0 1 1 19.4 0a9.7 9.7 0 1 1 -19.4 0zM1055.37 1446.41a0.7 0.7 0 1 0 1.4 0a0.7 0.7 0 1 0 -1.4 0zM1056.3 1440.79a9.7 9.7 0 1 1 19.4 0a9.7 9.7 0 1 1 -19.4 0zM1065.3 1440.79a0.7 0.7 0 1 0 1.4 0a0.7 0.7 0 1 0 -1.4 0zM1066.23 1457.11a9.7 9.7 0 1 1 19.4 0a9.7 9.7 0 1 1 -19.4 0zM1075.23 1457.11a0.7 0.7 0 1 0 1.4 0a0.7 0.7 0 1 0 -1.4 0zM1076.16 1449.08a9.7 9.7 0 1 1 19.4 0a9.7 9.7 0 1 1 -19.4 0zM1085.16 1449.08a0.7 0.7 0 1 0 1.4 0a0.7 0.7 0 1 0 -1.4 0zM1086.09 1481.18a9.7 9.7 0 1 1 19.4 0a9.7 9.7 0 1 1 -19.4 0zM1095.09 1481.18a0.7 0.7 0 1 0 1.4 0a0.7 0.7 0 1 0 -1.4 0zM1096.02 1467.81a9.7 9.7 0 1 1 19.4 0a9.7 9.7 0 1 1 -19.4 0zM1105.02 1467.81a0.7 0.7 0 1 0 1.4 0a0.7 0.7 0 1 0 -1.4 0zM1105.95 1459.78a9.7 9.7 0 1 1 19.4 0a9.7 9.7 0 1 1 -19.4 0zM1114.95 1459.78a0.7 0.7 0 1 0 1.4 0a0.7 0.7 0 1 0 -1.4 0zM1115.88 1435.17a9.7 9.7 0 1 1 19.4 0a9.7 9.7 0 1 1 -19.4 0zM1124.88 1435.17a0.7 0.7 0 1 0 1.4 0a0.7 0.7 0 1 0 -1.4 0zM1125.81 1445.07a9.7 9.7 0 1 1 19.4 0a9.7 9.7 0 1 1 -19.4 0zM1134.81 1445.07a0.7 0.7 0 1 0 1.4 0a0.7 0.7 0 1 0 -1.4 0zM1135.74 1465.13a9.7 9.7 0 1 1 19.4 0a9.7 9.7 0 1 1 -19.4 0zM1144.74 1465.13a0.7 0.7 0 1 0 1.4 0a0.7 0.7 0 1 0 -1.4 0zM1145.68 1478.51a9.7 9.7 0 1 1 19.4 0a9.7 9.7 0 1 1 -19.4 0zM1154.68 1478.51a0.7 0.7 0 1 0 1.4 0a0.7 0.7 0 1 0 -1.4 0zM1155.61 1446.41a9.7 9.7 0 1 1 19.4 0a9.7 9.7 0 1 1 -19.4 0zM1164.61 1446.41a0.7 0.7 0 1 0 1.4 0a0.7 0.7 0 1 0 -1.4 0zM1165.54 1495.63a9.7 9.7 0 1 1 19.4 0a9.7 9.7 0 1 1 -19.4 0zM1174.54 1495.63a0.7 0.7 0 1 0 1.4 0a0.7 0.7 0 1 0 -1.4 0zM1175.47 1459.78a9.7 9.7 0 1 1 19.4 0a9.7 9.7 0 1 1 -19.4 0zM1184.47 1459.78a0.7 0.7 0 1 0 1.4 0a0.7 0.7 0 1 0 -1.4 0zM1185.4 1445.07a9.7 9.7 0 1 1 19.4 0a9.7 9.7 0 1 1 -19.4 0zM1194.4 1445.07a0.7 0.7 0 1 0 1.4 0a0.7 0.7 0 1 0 -1.4 0z" fill="#a020f0" fill-rule="nonzero"/>
<path clip-path="url(#cc)" d="M211.9 1338.9L221.9 1498L231.8 1532L241.7 1585.5L251.7 1616L261.6 1627.2L271.5 1604.2L281.4 1571.1L291.4 1625.6L301.3 1571.1L311.2 1571.1L321.2 1637.1L331.1 1585.5L341 1523.5L351 1556.1L360.9 1543L370.8 1577.5L380.8 1588.2L390.7 1582.8L400.6 1465.1L410.6 1537.6L420.5 1529.3L430.4 1553.4L440.3 1553.4L450.3 1575.6L460.2 1501.2L470.1 1526.7L480.1 1596.8L490 1626.2L499.9 1566.8L509.9 1537.6L519.8 1522.1L529.7 1606.7L539.7 1518.1L549.6 1553.4L559.5 1526.7L569.4 1490L579.4 1582.6L589.3 1572.9L599.2 1358.1L609.2 1384.9L619.1 1422.3L629 1483.9L639 1505.3L648.9 1511.1L658.8 1539.5L668.8 1534.7L678.7 1505.3L688.6 1471.8L698.5 1483.9L708.5 1484.7L718.4 1470.5L728.3 1525.3L738.3 1505.3L748.2 1465.1L758.1 1419.9L768.1 1491.9L778 1483.9L787.9 1470.5L797.9 1438.4L807.8 1446.4L817.7 1454.4L827.7 1488.4L837.6 1401.2L847.5 1419.7L857.4 1438.4L867.4 1427.7L877.3 1417L887.2 1409L897.2 1390.5L907.1 1510.9L917 1496.7L927 1478.5L936.9 1494.6L946.8 1532L956.8 1510.6L966.7 1516L976.6 1510.6L986.5 1494.6L996.5 1384.9L1006.4 1417L1016.3 1388.1L1026.3 1428.2L1036.2 1453.4L1046.1 1465.1L1056.1 1470.5L1066 1478.5L1075.9 1473.2L1085.9 1498.3L1095.8 1459L1105.7 1483.9L1115.7 1489.2L1125.6 1459.8L1135.5 1456.3L1145.4 1490L1155.4 1442.1L1165.3 1463.3L1175.2 1516.5L1185.2 1486.5L1195.1 1475" fill="none" stroke="#ff0000" stroke-width="7.3" stroke-linejoin="round"/>
<path d="M207.4 1334.3l9.1 9.1M207.4 1343.4l9.1 -9.1M217.3 1493.5l9.1 9.1M217.3 1502.6l9.1 -9.1M227.2 1527.5l9.1 9.1M227.2 1536.6l9.1 -9.1M237.2 1581l9.1 9.1M237.2 1590.1l9.1 -9.1M247.1 1611.5l9.1 9.1M247.1 1620.6l9.1 -9.1M257 1622.7l9.1 9.1M257 1631.8l9.1 -9.1M267 1599.7l9.1 9.1M267 1608.8l9.1 -9.1M276.9 1566.5l9.1 9.1M276.9 1575.6l9.1 -9.1M286.8 1621.1l9.1 9.1M286.8 1630.2l9.1 -9.1M296.8 1566.5l9.1 9.1M296.8 1575.6l9.1 -9.1M306.7 1566.5l9.1 9.1M306.7 1575.6l9.1 -9.1M316.6 1632.6l9.1 9.1M316.6 1641.7l9.1 -9.1M326.6 1581l9.1 9.1M326.6 1590.1l9.1 -9.1M336.5 1518.9l9.1 9.1M336.5 1528l9.1 -9.1M346.4 1551.5l9.1 9.1M346.4 1560.6l9.1 -9.1M356.3 1538.4l9.1 9.1M356.3 1547.5l9.1 -9.1M366.3 1572.9l9.1 9.1M366.3 1582l9.1 -9.1M376.2 1583.6l9.1 9.1M376.2 1592.7l9.1 -9.1M386.1 1578.3l9.1 9.1M386.1 1587.4l9.1 -9.1M396.1 1460.6l9.1 9.1M396.1 1469.7l9.1 -9.1M406 1533.1l9.1 9.1M406 1542.2l9.1 -9.1M415.9 1524.8l9.1 9.1M415.9 1533.9l9.1 -9.1M425.9 1548.9l9.1 9.1M425.9 1558l9.1 -9.1M435.8 1548.9l9.1 9.1M435.8 1558l9.1 -9.1M445.7 1571.1l9.1 9.1M445.7 1580.2l9.1 -9.1M455.7 1496.7l9.1 9.1M455.7 1505.8l9.1 -9.1M465.6 1522.1l9.1 9.1M465.6 1531.2l9.1 -9.1M475.5 1592.2l9.1 9.1M475.5 1601.3l9.1 -9.1M485.4 1621.6l9.1 9.1M485.4 1630.7l9.1 -9.1M495.4 1562.2l9.1 9.1M495.4 1571.3l9.1 -9.1M505.3 1533.1l9.1 9.1M505.3 1542.2l9.1 -9.1M515.2 1517.6l9.1 9.1M515.2 1526.7l9.1 -9.1M525.2 1602.1l9.1 9.1M525.2 1611.2l9.1 -9.1M535.1 1513.6l9.1 9.1M535.1 1522.7l9.1 -9.1M545 1548.9l9.1 9.1M545 1558l9.1 -9.1M555 1522.1l9.1 9.1M555 1531.2l9.1 -9.1M564.9 1485.5l9.1 9.1M564.9 1494.6l9.1 -9.1M574.8 1578l9.1 9.1M574.8 1587.1l9.1 -9.1M584.8 1568.4l9.1 9.1M584.8 1577.5l9.1 -9.1M594.7 1353.6l9.1 9.1M594.7 1362.7l9.1 -9.1M604.6 1380.3l9.1 9.1M604.6 1389.4l9.1 -9.1M614.6 1417.8l9.1 9.1M614.6 1426.9l9.1 -9.1M624.5 1479.3l9.1 9.1M624.5 1488.4l9.1 -9.1M634.4 1500.7l9.1 9.1M634.4 1509.8l9.1 -9.1M644.3 1506.6l9.1 9.1M644.3 1515.7l9.1 -9.1M654.3 1535l9.1 9.1M654.3 1544.1l9.1 -9.1M664.2 1530.1l9.1 9.1M664.2 1539.2l9.1 -9.1M674.1 1500.7l9.1 9.1M674.1 1509.8l9.1 -9.1M684.1 1467.3l9.1 9.1M684.1 1476.4l9.1 -9.1M694 1479.3l9.1 9.1M694 1488.4l9.1 -9.1M703.9 1480.1l9.1 9.1M703.9 1489.2l9.1 -9.1M713.9 1465.9l9.1 9.1M713.9 1475l9.1 -9.1M723.8 1520.8l9.1 9.1M723.8 1529.9l9.1 -9.1M733.7 1500.7l9.1 9.1M733.7 1509.8l9.1 -9.1M743.7 1460.6l9.1 9.1M743.7 1469.7l9.1 -9.1M753.6 1415.4l9.1 9.1M753.6 1424.5l9.1 -9.1M763.5 1487.3l9.1 9.1M763.5 1496.4l9.1 -9.1M773.4 1479.3l9.1 9.1M773.4 1488.4l9.1 -9.1M783.4 1465.9l9.1 9.1M783.4 1475l9.1 -9.1M793.3 1433.8l9.1 9.1M793.3 1442.9l9.1 -9.1M803.2 1441.9l9.1 9.1M803.2 1451l9.1 -9.1M813.2 1449.9l9.1 9.1M813.2 1459l9.1 -9.1M823.1 1483.9l9.1 9.1M823.1 1493l9.1 -9.1M833 1396.6l9.1 9.1M833 1405.7l9.1 -9.1M843 1415.1l9.1 9.1M843 1424.2l9.1 -9.1M852.9 1433.8l9.1 9.1M852.9 1442.9l9.1 -9.1M862.8 1423.1l9.1 9.1M862.8 1432.2l9.1 -9.1M872.8 1412.4l9.1 9.1M872.8 1421.5l9.1 -9.1M882.7 1404.4l9.1 9.1M882.7 1413.5l9.1 -9.1M892.6 1385.9l9.1 9.1M892.6 1395l9.1 -9.1M902.6 1506.3l9.1 9.1M902.6 1515.4l9.1 -9.1M912.5 1492.1l9.1 9.1M912.5 1501.2l9.1 -9.1M922.4 1474l9.1 9.1M922.4 1483.1l9.1 -9.1M932.3 1490l9.1 9.1M932.3 1499.1l9.1 -9.1M942.3 1527.5l9.1 9.1M942.3 1536.6l9.1 -9.1M952.2 1506.1l9.1 9.1M952.2 1515.2l9.1 -9.1M962.1 1511.4l9.1 9.1M962.1 1520.5l9.1 -9.1M972.1 1506.1l9.1 9.1M972.1 1515.2l9.1 -9.1M982 1490l9.1 9.1M982 1499.1l9.1 -9.1M991.9 1380.3l9.1 9.1M991.9 1389.4l9.1 -9.1M1001.9 1412.4l9.1 9.1M1001.9 1421.5l9.1 -9.1M1011.8 1383.5l9.1 9.1M1011.8 1392.6l9.1 -9.1M1021.7 1423.7l9.1 9.1M1021.7 1432.8l9.1 -9.1M1031.7 1448.8l9.1 9.1M1031.7 1457.9l9.1 -9.1M1041.6 1460.6l9.1 9.1M1041.6 1469.7l9.1 -9.1M1051.5 1465.9l9.1 9.1M1051.5 1475l9.1 -9.1M1061.4 1474l9.1 9.1M1061.4 1483.1l9.1 -9.1M1071.4 1468.6l9.1 9.1M1071.4 1477.7l9.1 -9.1M1081.3 1493.8l9.1 9.1M1081.3 1502.9l9.1 -9.1M1091.2 1454.4l9.1 9.1M1091.2 1463.5l9.1 -9.1M1101.2 1479.3l9.1 9.1M1101.2 1488.4l9.1 -9.1M1111.1 1484.7l9.1 9.1M1111.1 1493.8l9.1 -9.1M1121 1455.2l9.1 9.1M1121 1464.3l9.1 -9.1M1131 1451.8l9.1 9.1M1131 1460.9l9.1 -9.1M1140.9 1485.5l9.1 9.1M1140.9 1494.6l9.1 -9.1M1150.8 1437.6l9.1 9.1M1150.8 1446.7l9.1 -9.1M1160.8 1458.7l9.1 9.1M1160.8 1467.8l9.1 -9.1M1170.7 1511.9l9.1 9.1M1170.7 1521l9.1 -9.1M1180.6 1482l9.1 9.1M1180.6 1491.1l9.1 -9.1M1190.5 1470.5l9.1 9.1M1190.5 1479.6l9.1 -9.1" stroke="#ff0000" stroke-width="7.2" stroke-linecap="butt" fill="none"/>
<path clip-path="url(#cc)" d="M211.9 1329.2L221.9 1478.5L231.8 1505.3L241.7 1589.5L251.7 1537.4L261.6 1582.8L271.5 1579.6L281.4 1635.8L291.4 1571.1L301.3 1604.2L311.2 1590.9L321.2 1593.5L331.1 1549.9L341 1561.4L351 1582.8L360.9 1577.5L370.8 1593.5L380.8 1572.1L390.7 1577.5L400.6 1451.8L410.6 1465.1L420.5 1478.8L430.4 1526.7L440.3 1540L450.3 1616.3L460.2 1534.7L470.1 1490L480.1 1513.3L490 1544.6L499.9 1524L509.9 1581.2L519.8 1561.4L529.7 1546.2L539.7 1526.7L549.6 1534.7L559.5 1526.7L569.4 1516L579.4 1490L589.3 1502.6L599.2 1344.7L609.2 1411.6L619.1 1463.5L629 1483.9L639 1505.3L648.9 1514.1L658.8 1487.3L668.8 1552.1L678.7 1451L688.6 1449.3L698.5 1469.1L708.5 1481.7L718.4 1457.1L728.3 1411.6L738.3 1483.9L748.2 1545.1L758.1 1453.6L768.1 1438.4L778 1470.5L787.9 1457.1L797.9 1411.6L807.8 1425L817.7 1436.5L827.7 1419.7L837.6 1412.4L847.5 1427.9L857.4 1449.1L867.4 1451.8L877.3 1416.7L887.2 1433L897.2 1422.3L907.1 1502.6L917 1475.8L927 1489.2L936.9 1498.6L946.8 1491.1L956.8 1451.8L966.7 1527.7L976.6 1479.8L986.5 1467.8L996.5 1358.1L1006.4 1358.4L1016.3 1398.3L1026.3 1457.1L1036.2 1457.1L1046.1 1453.4L1056.1 1481.5L1066 1470.5L1075.9 1429.6L1085.9 1445.1L1095.8 1464.6L1105.7 1459.8L1115.7 1443.5L1125.6 1446.4L1135.5 1439.5L1145.4 1404.1L1155.4 1396.4L1165.3 1412.7L1175.2 1461.9L1185.2 1439.5L1195.1 1429.6" fill="none" stroke="#ff6600" stroke-width="7.3" stroke-linejoin="round" stroke-dasharray="37 12 10 12"/>
<path d="M207.4 1324.7l9.1 9.1M207.4 1333.8l9.1 -9.1M217.3 1474l9.1 9.1M217.3 1483.1l9.1 -9.1M227.2 1500.7l9.1 9.1M227.2 1509.8l9.1 -9.1M237.2 1585l9.1 9.1M237.2 1594.1l9.1 -9.1M247.1 1532.8l9.1 9.1M247.1 1541.9l9.1 -9.1M257 1578.3l9.1 9.1M257 1587.4l9.1 -9.1M267 1575.1l9.1 9.1M267 1584.2l9.1 -9.1M276.9 1631.3l9.1 9.1M276.9 1640.4l9.1 -9.1M286.8 1566.5l9.1 9.1M286.8 1575.6l9.1 -9.1M296.8 1599.7l9.1 9.1M296.8 1608.8l9.1 -9.1M306.7 1586.3l9.1 9.1M306.7 1595.4l9.1 -9.1M316.6 1589l9.1 9.1M316.6 1598.1l9.1 -9.1M326.6 1545.4l9.1 9.1M326.6 1554.5l9.1 -9.1M336.5 1556.9l9.1 9.1M336.5 1566l9.1 -9.1M346.4 1578.3l9.1 9.1M346.4 1587.4l9.1 -9.1M356.3 1572.9l9.1 9.1M356.3 1582l9.1 -9.1M366.3 1589l9.1 9.1M366.3 1598.1l9.1 -9.1M376.2 1567.6l9.1 9.1M376.2 1576.7l9.1 -9.1M386.1 1572.9l9.1 9.1M386.1 1582l9.1 -9.1M396.1 1447.2l9.1 9.1M396.1 1456.3l9.1 -9.1M406 1460.6l9.1 9.1M406 1469.7l9.1 -9.1M415.9 1474.2l9.1 9.1M415.9 1483.3l9.1 -9.1M425.9 1522.1l9.1 9.1M425.9 1531.2l9.1 -9.1M435.8 1535.5l9.1 9.1M435.8 1544.6l9.1 -9.1M445.7 1611.7l9.1 9.1M445.7 1620.8l9.1 -9.1M455.7 1530.1l9.1 9.1M455.7 1539.2l9.1 -9.1M465.6 1485.5l9.1 9.1M465.6 1494.6l9.1 -9.1M475.5 1508.7l9.1 9.1M475.5 1517.8l9.1 -9.1M485.4 1540l9.1 9.1M485.4 1549.1l9.1 -9.1M495.4 1519.4l9.1 9.1M495.4 1528.5l9.1 -9.1M505.3 1576.7l9.1 9.1M505.3 1585.8l9.1 -9.1M515.2 1556.9l9.1 9.1M515.2 1566l9.1 -9.1M525.2 1541.6l9.1 9.1M525.2 1550.7l9.1 -9.1M535.1 1522.1l9.1 9.1M535.1 1531.2l9.1 -9.1M545 1530.1l9.1 9.1M545 1539.2l9.1 -9.1M555 1522.1l9.1 9.1M555 1531.2l9.1 -9.1M564.9 1511.4l9.1 9.1M564.9 1520.5l9.1 -9.1M574.8 1485.5l9.1 9.1M574.8 1494.6l9.1 -9.1M584.8 1498l9.1 9.1M584.8 1507.1l9.1 -9.1M594.7 1340.2l9.1 9.1M594.7 1349.3l9.1 -9.1M604.6 1407.1l9.1 9.1M604.6 1416.2l9.1 -9.1M614.6 1459l9.1 9.1M614.6 1468.1l9.1 -9.1M624.5 1479.3l9.1 9.1M624.5 1488.4l9.1 -9.1M634.4 1500.7l9.1 9.1M634.4 1509.8l9.1 -9.1M644.3 1509.5l9.1 9.1M644.3 1518.6l9.1 -9.1M654.3 1482.8l9.1 9.1M654.3 1491.9l9.1 -9.1M664.2 1547.5l9.1 9.1M664.2 1556.6l9.1 -9.1M674.1 1446.4l9.1 9.1M674.1 1455.5l9.1 -9.1M684.1 1444.8l9.1 9.1M684.1 1453.9l9.1 -9.1M694 1464.6l9.1 9.1M694 1473.7l9.1 -9.1M703.9 1477.2l9.1 9.1M703.9 1486.3l9.1 -9.1M713.9 1452.6l9.1 9.1M713.9 1461.7l9.1 -9.1M723.8 1407.1l9.1 9.1M723.8 1416.2l9.1 -9.1M733.7 1479.3l9.1 9.1M733.7 1488.4l9.1 -9.1M743.7 1540.6l9.1 9.1M743.7 1549.7l9.1 -9.1M753.6 1449.1l9.1 9.1M753.6 1458.2l9.1 -9.1M763.5 1433.8l9.1 9.1M763.5 1442.9l9.1 -9.1M773.4 1465.9l9.1 9.1M773.4 1475l9.1 -9.1M783.4 1452.6l9.1 9.1M783.4 1461.7l9.1 -9.1M793.3 1407.1l9.1 9.1M793.3 1416.2l9.1 -9.1M803.2 1420.5l9.1 9.1M803.2 1429.6l9.1 -9.1M813.2 1432l9.1 9.1M813.2 1441.1l9.1 -9.1M823.1 1415.1l9.1 9.1M823.1 1424.2l9.1 -9.1M833 1407.9l9.1 9.1M833 1417l9.1 -9.1M843 1423.4l9.1 9.1M843 1432.5l9.1 -9.1M852.9 1444.5l9.1 9.1M852.9 1453.6l9.1 -9.1M862.8 1447.2l9.1 9.1M862.8 1456.3l9.1 -9.1M872.8 1412.2l9.1 9.1M872.8 1421.3l9.1 -9.1M882.7 1428.5l9.1 9.1M882.7 1437.6l9.1 -9.1M892.6 1417.8l9.1 9.1M892.6 1426.9l9.1 -9.1M902.6 1498l9.1 9.1M902.6 1507.1l9.1 -9.1M912.5 1471.3l9.1 9.1M912.5 1480.4l9.1 -9.1M922.4 1484.7l9.1 9.1M922.4 1493.8l9.1 -9.1M932.3 1494l9.1 9.1M932.3 1503.1l9.1 -9.1M942.3 1486.5l9.1 9.1M942.3 1495.6l9.1 -9.1M952.2 1447.2l9.1 9.1M952.2 1456.3l9.1 -9.1M962.1 1523.2l9.1 9.1M962.1 1532.3l9.1 -9.1M972.1 1475.3l9.1 9.1M972.1 1484.4l9.1 -9.1M982 1463.3l9.1 9.1M982 1472.4l9.1 -9.1M991.9 1353.6l9.1 9.1M991.9 1362.7l9.1 -9.1M1001.9 1353.8l9.1 9.1M1001.9 1362.9l9.1 -9.1M1011.8 1393.7l9.1 9.1M1011.8 1402.8l9.1 -9.1M1021.7 1452.6l9.1 9.1M1021.7 1461.7l9.1 -9.1M1031.7 1452.6l9.1 9.1M1031.7 1461.7l9.1 -9.1M1041.6 1448.8l9.1 9.1M1041.6 1457.9l9.1 -9.1M1051.5 1476.9l9.1 9.1M1051.5 1486l9.1 -9.1M1061.4 1465.9l9.1 9.1M1061.4 1475l9.1 -9.1M1071.4 1425l9.1 9.1M1071.4 1434.1l9.1 -9.1M1081.3 1440.5l9.1 9.1M1081.3 1449.6l9.1 -9.1M1091.2 1460l9.1 9.1M1091.2 1469.1l9.1 -9.1M1101.2 1455.2l9.1 9.1M1101.2 1464.3l9.1 -9.1M1111.1 1438.9l9.1 9.1M1111.1 1448l9.1 -9.1M1121 1441.9l9.1 9.1M1121 1451l9.1 -9.1M1131 1434.9l9.1 9.1M1131 1444l9.1 -9.1M1140.9 1399.6l9.1 9.1M1140.9 1408.7l9.1 -9.1M1150.8 1391.8l9.1 9.1M1150.8 1400.9l9.1 -9.1M1160.8 1408.1l9.1 9.1M1160.8 1417.2l9.1 -9.1M1170.7 1457.4l9.1 9.1M1170.7 1466.5l9.1 -9.1M1180.6 1434.9l9.1 9.1M1180.6 1444l9.1 -9.1M1190.5 1425l9.1 9.1M1190.5 1434.1l9.1 -9.1" stroke="#ff6600" stroke-width="7.2" stroke-linecap="butt" fill="none"/>
<path clip-path="url(#cc)" d="M211.9 1288.8L221.9 1397.7L231.8 1506.9L241.7 1485.7L251.7 1566L261.6 1589L271.5 1646L281.4 1589.8L291.4 1606.9L301.3 1646L311.2 1614.4L321.2 1598.4L331.1 1624.8L341 1589L351 1545.7L360.9 1605.8L370.8 1573.7L380.8 1596.8L390.7 1588.5L400.6 1397.7L410.6 1462.2L420.5 1589.5L430.4 1520.5L440.3 1589.5L450.3 1514.4L460.2 1573.2L470.1 1514.9L480.1 1521.3L490 1526.9L499.9 1558.5L509.9 1567.1L519.8 1551.5L529.7 1526.9L539.7 1551.5L549.6 1508.7L559.5 1558.5L569.4 1539.5L579.4 1538.7L589.3 1551.5L599.2 1254.3L609.2 1350.1L619.1 1435.7L629 1496.2L639 1471L648.9 1503.4L658.8 1512.5L668.8 1525.1L678.7 1521.3L688.6 1537.6L698.5 1497L708.5 1506.9L718.4 1506.9L728.3 1491.3L738.3 1455.5L748.2 1532L758.1 1519.4L768.1 1506.9L778 1465.4L787.9 1491.3L797.9 1276.3L807.8 1410L817.7 1468.3L827.7 1465.7L837.6 1479.6L847.5 1495.9L857.4 1460.6L867.4 1468.3L877.3 1436.8L887.2 1484.7L897.2 1465.7L907.1 1589.3L917 1545.1L927 1486.8L936.9 1512.8L946.8 1597L956.8 1508.5L966.7 1512.8L976.6 1515.4L986.5 1518.9L996.5 1332.4L1006.4 1430.6L1016.3 1450.4L1026.3 1458.7L1036.2 1513.6L1046.1 1491.1L1056.1 1513.6L1066 1485.5L1075.9 1491.1L1085.9 1480.4L1095.8 1507.1L1105.7 1480.4L1115.7 1499.4L1125.6 1519.2L1135.5 1475.6L1145.4 1519.2L1155.4 1496.7L1165.3 1496.7L1175.2 1480.4L1185.2 1480.4L1195.1 1502.3" fill="none" stroke="#0000ff" stroke-width="7.3" stroke-linejoin="round"/>
<path d="M211.93 1273.94l12.6 22.2l-25.2 0zM221.86 1382.82l12.6 22.2l-25.2 0zM231.79 1491.97l12.6 22.2l-25.2 0zM241.72 1470.83l12.6 22.2l-25.2 0zM251.66 1551.09l12.6 22.2l-25.2 0zM261.59 1574.09l12.6 22.2l-25.2 0zM271.52 1631.08l12.6 22.2l-25.2 0zM281.45 1574.9l12.6 22.2l-25.2 0zM291.38 1592.02l12.6 22.2l-25.2 0zM301.31 1631.08l12.6 22.2l-25.2 0zM311.24 1599.51l12.6 22.2l-25.2 0zM321.17 1583.46l12.6 22.2l-25.2 0zM331.1 1609.94l12.6 22.2l-25.2 0zM341.03 1574.09l12.6 22.2l-25.2 0zM350.96 1530.76l12.6 22.2l-25.2 0zM360.9 1590.95l12.6 22.2l-25.2 0zM370.83 1558.85l12.6 22.2l-25.2 0zM380.76 1581.85l12.6 22.2l-25.2 0zM390.69 1573.56l12.6 22.2l-25.2 0zM400.62 1382.82l12.6 22.2l-25.2 0zM410.55 1447.29l12.6 22.2l-25.2 0zM420.48 1574.63l12.6 22.2l-25.2 0zM430.41 1505.61l12.6 22.2l-25.2 0zM440.34 1574.63l12.6 22.2l-25.2 0zM450.27 1499.46l12.6 22.2l-25.2 0zM460.21 1558.31l12.6 22.2l-25.2 0zM470.14 1499.99l12.6 22.2l-25.2 0zM480.07 1506.41l12.6 22.2l-25.2 0zM490 1512.03l12.6 22.2l-25.2 0zM499.93 1543.6l12.6 22.2l-25.2 0zM509.86 1552.16l12.6 22.2l-25.2 0zM519.79 1536.64l12.6 22.2l-25.2 0zM529.72 1512.03l12.6 22.2l-25.2 0zM539.65 1536.64l12.6 22.2l-25.2 0zM549.59 1493.84l12.6 22.2l-25.2 0zM559.52 1543.6l12.6 22.2l-25.2 0zM569.45 1524.6l12.6 22.2l-25.2 0zM579.38 1523.8l12.6 22.2l-25.2 0zM589.31 1536.64l12.6 22.2l-25.2 0zM599.24 1239.43l12.6 22.2l-25.2 0zM609.17 1335.2l12.6 22.2l-25.2 0zM619.1 1420.8l12.6 22.2l-25.2 0zM629.03 1481.26l12.6 22.2l-25.2 0zM638.96 1456.12l12.6 22.2l-25.2 0zM648.89 1488.49l12.6 22.2l-25.2 0zM658.83 1497.58l12.6 22.2l-25.2 0zM668.76 1510.16l12.6 22.2l-25.2 0zM678.69 1506.41l12.6 22.2l-25.2 0zM688.62 1522.73l12.6 22.2l-25.2 0zM698.55 1482.07l12.6 22.2l-25.2 0zM708.48 1491.97l12.6 22.2l-25.2 0zM718.41 1491.97l12.6 22.2l-25.2 0zM728.34 1476.45l12.6 22.2l-25.2 0zM738.27 1440.6l12.6 22.2l-25.2 0zM748.2 1517.11l12.6 22.2l-25.2 0zM758.14 1504.54l12.6 22.2l-25.2 0zM768.07 1491.97l12.6 22.2l-25.2 0zM778 1450.5l12.6 22.2l-25.2 0zM787.93 1476.45l12.6 22.2l-25.2 0zM797.86 1261.36l12.6 22.2l-25.2 0zM807.79 1395.12l12.6 22.2l-25.2 0zM817.72 1453.44l12.6 22.2l-25.2 0zM827.65 1450.77l12.6 22.2l-25.2 0zM837.58 1464.68l12.6 22.2l-25.2 0zM847.51 1481l12.6 22.2l-25.2 0zM857.45 1445.68l12.6 22.2l-25.2 0zM867.38 1453.44l12.6 22.2l-25.2 0zM877.31 1421.87l12.6 22.2l-25.2 0zM887.24 1469.76l12.6 22.2l-25.2 0zM897.17 1450.77l12.6 22.2l-25.2 0zM907.1 1574.36l12.6 22.2l-25.2 0zM917.03 1530.22l12.6 22.2l-25.2 0zM926.96 1471.9l12.6 22.2l-25.2 0zM936.89 1497.85l12.6 22.2l-25.2 0zM946.83 1582.12l12.6 22.2l-25.2 0zM956.76 1493.57l12.6 22.2l-25.2 0zM966.69 1497.85l12.6 22.2l-25.2 0zM976.62 1500.53l12.6 22.2l-25.2 0zM986.55 1504l12.6 22.2l-25.2 0zM996.48 1317.54l12.6 22.2l-25.2 0zM1006.41 1415.72l12.6 22.2l-25.2 0zM1016.34 1435.52l12.6 22.2l-25.2 0zM1026.27 1443.81l12.6 22.2l-25.2 0zM1036.2 1498.65l12.6 22.2l-25.2 0zM1046.13 1476.18l12.6 22.2l-25.2 0zM1056.07 1498.65l12.6 22.2l-25.2 0zM1066 1470.56l12.6 22.2l-25.2 0zM1075.93 1476.18l12.6 22.2l-25.2 0zM1085.86 1465.48l12.6 22.2l-25.2 0zM1095.79 1492.23l12.6 22.2l-25.2 0zM1105.72 1465.48l12.6 22.2l-25.2 0zM1115.65 1484.47l12.6 22.2l-25.2 0zM1125.58 1504.27l12.6 22.2l-25.2 0zM1135.51 1460.67l12.6 22.2l-25.2 0zM1145.44 1504.27l12.6 22.2l-25.2 0zM1155.38 1481.8l12.6 22.2l-25.2 0zM1165.31 1481.8l12.6 22.2l-25.2 0zM1175.24 1465.48l12.6 22.2l-25.2 0zM1185.17 1465.48l12.6 22.2l-25.2 0zM1195.1 1487.42l12.6 22.2l-25.2 0z" fill="#0000ff" fill-rule="nonzero"/>
</g>
<g id="ax-d">
<path d="M1565.7 1037.1V1705.9M1764.3 1037.1V1705.9M1962.9 1037.1V1705.9M2161.5 1037.1V1705.9M1367.1 1656.4H2360.1M1367.1 1532.5H2360.1M1367.1 1408.7H2360.1M1367.1 1284.8H2360.1M1367.1 1161H2360.1" stroke="#dfdfdf" stroke-width="4.1" fill="none"/>
<path d="M1565.7 1705.9v-12M1565.7 1037.1v12M1764.3 1705.9v-12M1764.3 1037.1v12M1962.9 1705.9v-12M1962.9 1037.1v12M2161.5 1705.9v-12M2161.5 1037.1v12M1367.1 1656.4h12M2360.1 1656.4h-12M1367.1 1532.5h12M2360.1 1532.5h-12M1367.1 1408.7h12M2360.1 1408.7h-12M1367.1 1284.8h12M2360.1 1284.8h-12M1367.1 1161h12M2360.1 1161h-12" stroke="#262626" stroke-width="4.1" fill="none"/>
<rect x="1367.1" y="1037.1" width="993" height="668.8" fill="none" stroke="#262626" stroke-width="4.1"/>
<g fill="#262626" font-size="52.6" stroke="#262626" stroke-width="0.4">
<g text-anchor="middle">
<text x="1365.8" y="1780.4">0</text>
<text x="1564.4" y="1780.4">20</text>
<text x="1763" y="1780.4">40</text>
<text x="1961.6" y="1780.4">60</text>
<text x="2160.2" y="1780.4">80</text>
<text x="2358.8" y="1780.4">100</text>
</g><g text-anchor="end">
<text x="1346.6" y="1678.7">5</text>
<text x="1346.6" y="1554.8">10</text>
<text x="1346.6" y="1431">15</text>
<text x="1346.6" y="1307.1">20</text>
<text x="1346.6" y="1183.3">25</text>
</g></g>
<text x="1862.7" y="1863.2" font-size="65.1" fill="#262626" text-anchor="middle">Time(s)</text>
<text transform="translate(1259.5 1374) rotate(-90)" font-size="65.1" fill="#262626" text-anchor="middle">FE(m)</text>
<text x="1861.8" y="1012.8" font-size="57.2" fill="#000" text-anchor="middle">(d)</text>
<path clip-path="url(#cd)" d="M1377 1698.5L1387 1554.3L1396.9 1512.7L1406.8 1483L1416.8 1525.1L1426.7 1522.6L1436.6 1499.6L1446.5 1532.5L1456.5 1530L1466.4 1520.1L1476.3 1505.3L1486.3 1535L1496.2 1491.1L1506.1 1537.5L1516 1500.8L1526 1496.6L1535.9 1531.8L1545.8 1561.2L1555.8 1537.5L1565.7 1549.8L1575.6 1520.1L1585.6 1487.9L1595.5 1473.1L1605.4 1455.2L1615.3 1498.6L1625.3 1467.9L1635.2 1507.7L1645.1 1500.3L1655.1 1478L1665 1442.6L1674.9 1478L1684.9 1492.9L1694.8 1492.9L1704.7 1473.3L1714.6 1512.7L1724.6 1501.5L1734.5 1520.1L1744.4 1522.6L1754.4 1496.6L1764.3 1505.3L1774.2 1468.1L1784.2 1394L1794.1 1438.4L1804 1467.1L1813.9 1470.6L1823.9 1433.4L1833.8 1383.9L1843.7 1433.4L1853.7 1448.3L1863.6 1425L1873.5 1453.2L1883.5 1464.4L1893.4 1470.6L1903.3 1434.9L1913.2 1464.4L1923.2 1478L1933.1 1468.1L1943 1447.5L1953 1458.7L1962.9 1500.3L1972.8 1463.2L1982.8 1424L1992.7 1428.5L2002.6 1428.5L2012.5 1448.3L2022.5 1438.4L2032.4 1435.9L2042.3 1465.6L2052.3 1453.2L2062.2 1465.6L2072.1 1435.4L2082.1 1435.4L2092 1495.4L2101.9 1522.6L2111.8 1537.5L2121.8 1463.4L2131.7 1471.8L2141.6 1501.3L2151.6 1507.7L2161.5 1487.9L2171.4 1464.9L2181.4 1434.2L2191.3 1470.6L2201.2 1467.9L2211.1 1463.6L2221.1 1464.9L2231 1502.8L2240.9 1467.9L2250.9 1487.9L2260.8 1481.7L2270.7 1505.3L2280.7 1467.9L2290.6 1476.3L2300.5 1492.9L2310.4 1481.7L2320.4 1505.3L2330.3 1467.9L2340.2 1502.8L2350.2 1517.6L2360.1 1532.5" fill="none" stroke="#00ff00" stroke-width="7.3" stroke-linejoin="round"/>
<path d="M1377.03 1685.17l10.3 13.3l-10.3 13.3l-10.3 -13.3zM1377.03 1697.42l-0.8 1.05l0.8 1.05l0.8 -1.05zM1386.96 1541.01l10.3 13.3l-10.3 13.3l-10.3 -13.3zM1386.96 1553.26l-0.8 1.05l0.8 1.05l0.8 -1.05zM1396.89 1499.39l10.3 13.3l-10.3 13.3l-10.3 -13.3zM1396.89 1511.64l-0.8 1.05l0.8 1.05l0.8 -1.05zM1406.82 1469.67l10.3 13.3l-10.3 13.3l-10.3 -13.3zM1406.82 1481.92l-0.8 1.05l0.8 1.05l0.8 -1.05zM1416.75 1511.78l10.3 13.3l-10.3 13.3l-10.3 -13.3zM1416.75 1524.03l-0.8 1.05l0.8 1.05l0.8 -1.05zM1426.68 1509.3l10.3 13.3l-10.3 13.3l-10.3 -13.3zM1426.68 1521.55l-0.8 1.05l0.8 1.05l0.8 -1.05zM1436.61 1486.26l10.3 13.3l-10.3 13.3l-10.3 -13.3zM1436.61 1498.51l-0.8 1.05l0.8 1.05l0.8 -1.05zM1446.54 1519.21l10.3 13.3l-10.3 13.3l-10.3 -13.3zM1446.54 1531.46l-0.8 1.05l0.8 1.05l0.8 -1.05zM1456.47 1516.73l10.3 13.3l-10.3 13.3l-10.3 -13.3zM1456.47 1528.98l-0.8 1.05l0.8 1.05l0.8 -1.05zM1466.4 1506.82l10.3 13.3l-10.3 13.3l-10.3 -13.3zM1466.4 1519.07l-0.8 1.05l0.8 1.05l0.8 -1.05zM1476.33 1491.96l10.3 13.3l-10.3 13.3l-10.3 -13.3zM1476.33 1504.21l-0.8 1.05l0.8 1.05l0.8 -1.05zM1486.26 1521.68l10.3 13.3l-10.3 13.3l-10.3 -13.3zM1486.26 1533.93l-0.8 1.05l0.8 1.05l0.8 -1.05zM1496.19 1477.84l10.3 13.3l-10.3 13.3l-10.3 -13.3zM1496.19 1490.09l-0.8 1.05l0.8 1.05l0.8 -1.05zM1506.12 1524.16l10.3 13.3l-10.3 13.3l-10.3 -13.3zM1506.12 1536.41l-0.8 1.05l0.8 1.05l0.8 -1.05zM1516.05 1487.5l10.3 13.3l-10.3 13.3l-10.3 -13.3zM1516.05 1499.75l-0.8 1.05l0.8 1.05l0.8 -1.05zM1525.98 1483.29l10.3 13.3l-10.3 13.3l-10.3 -13.3zM1525.98 1495.54l-0.8 1.05l0.8 1.05l0.8 -1.05zM1535.91 1518.46l10.3 13.3l-10.3 13.3l-10.3 -13.3zM1535.91 1530.71l-0.8 1.05l0.8 1.05l0.8 -1.05zM1545.84 1547.94l10.3 13.3l-10.3 13.3l-10.3 -13.3zM1545.84 1560.19l-0.8 1.05l0.8 1.05l0.8 -1.05zM1555.77 1524.16l10.3 13.3l-10.3 13.3l-10.3 -13.3zM1555.77 1536.41l-0.8 1.05l0.8 1.05l0.8 -1.05zM1565.7 1536.55l10.3 13.3l-10.3 13.3l-10.3 -13.3zM1565.7 1548.8l-0.8 1.05l0.8 1.05l0.8 -1.05zM1575.63 1506.82l10.3 13.3l-10.3 13.3l-10.3 -13.3zM1575.63 1519.07l-0.8 1.05l0.8 1.05l0.8 -1.05zM1585.56 1474.62l10.3 13.3l-10.3 13.3l-10.3 -13.3zM1585.56 1486.87l-0.8 1.05l0.8 1.05l0.8 -1.05zM1595.49 1459.76l10.3 13.3l-10.3 13.3l-10.3 -13.3zM1595.49 1472.01l-0.8 1.05l0.8 1.05l0.8 -1.05zM1605.42 1441.92l10.3 13.3l-10.3 13.3l-10.3 -13.3zM1605.42 1454.17l-0.8 1.05l0.8 1.05l0.8 -1.05zM1615.35 1485.27l10.3 13.3l-10.3 13.3l-10.3 -13.3zM1615.35 1497.52l-0.8 1.05l0.8 1.05l0.8 -1.05zM1625.28 1454.56l10.3 13.3l-10.3 13.3l-10.3 -13.3zM1625.28 1466.81l-0.8 1.05l0.8 1.05l0.8 -1.05zM1635.21 1494.44l10.3 13.3l-10.3 13.3l-10.3 -13.3zM1635.21 1506.69l-0.8 1.05l0.8 1.05l0.8 -1.05zM1645.14 1487.01l10.3 13.3l-10.3 13.3l-10.3 -13.3zM1645.14 1499.26l-0.8 1.05l0.8 1.05l0.8 -1.05zM1655.07 1464.71l10.3 13.3l-10.3 13.3l-10.3 -13.3zM1655.07 1476.96l-0.8 1.05l0.8 1.05l0.8 -1.05zM1665 1429.29l10.3 13.3l-10.3 13.3l-10.3 -13.3zM1665 1441.54l-0.8 1.05l0.8 1.05l0.8 -1.05zM1674.93 1464.71l10.3 13.3l-10.3 13.3l-10.3 -13.3zM1674.93 1476.96l-0.8 1.05l0.8 1.05l0.8 -1.05zM1684.86 1479.57l10.3 13.3l-10.3 13.3l-10.3 -13.3zM1684.86 1491.82l-0.8 1.05l0.8 1.05l0.8 -1.05zM1694.79 1479.57l10.3 13.3l-10.3 13.3l-10.3 -13.3zM1694.79 1491.82l-0.8 1.05l0.8 1.05l0.8 -1.05zM1704.72 1460.01l10.3 13.3l-10.3 13.3l-10.3 -13.3zM1704.72 1472.26l-0.8 1.05l0.8 1.05l0.8 -1.05zM1714.65 1499.39l10.3 13.3l-10.3 13.3l-10.3 -13.3zM1714.65 1511.64l-0.8 1.05l0.8 1.05l0.8 -1.05zM1724.58 1488.24l10.3 13.3l-10.3 13.3l-10.3 -13.3zM1724.58 1500.49l-0.8 1.05l0.8 1.05l0.8 -1.05zM1734.51 1506.82l10.3 13.3l-10.3 13.3l-10.3 -13.3zM1734.51 1519.07l-0.8 1.05l0.8 1.05l0.8 -1.05zM1744.44 1509.3l10.3 13.3l-10.3 13.3l-10.3 -13.3zM1744.44 1521.55l-0.8 1.05l0.8 1.05l0.8 -1.05zM1754.37 1483.29l10.3 13.3l-10.3 13.3l-10.3 -13.3zM1754.37 1495.54l-0.8 1.05l0.8 1.05l0.8 -1.05zM1764.3 1491.96l10.3 13.3l-10.3 13.3l-10.3 -13.3zM1764.3 1504.21l-0.8 1.05l0.8 1.05l0.8 -1.05zM1774.23 1454.8l10.3 13.3l-10.3 13.3l-10.3 -13.3zM1774.23 1467.05l-0.8 1.05l0.8 1.05l0.8 -1.05zM1784.16 1380.74l10.3 13.3l-10.3 13.3l-10.3 -13.3zM1784.16 1392.99l-0.8 1.05l0.8 1.05l0.8 -1.05zM1794.09 1425.08l10.3 13.3l-10.3 13.3l-10.3 -13.3zM1794.09 1437.33l-0.8 1.05l0.8 1.05l0.8 -1.05zM1804.02 1453.81l10.3 13.3l-10.3 13.3l-10.3 -13.3zM1804.02 1466.06l-0.8 1.05l0.8 1.05l0.8 -1.05zM1813.95 1457.28l10.3 13.3l-10.3 13.3l-10.3 -13.3zM1813.95 1469.53l-0.8 1.05l0.8 1.05l0.8 -1.05zM1823.88 1420.13l10.3 13.3l-10.3 13.3l-10.3 -13.3zM1823.88 1432.38l-0.8 1.05l0.8 1.05l0.8 -1.05zM1833.81 1370.59l10.3 13.3l-10.3 13.3l-10.3 -13.3zM1833.81 1382.84l-0.8 1.05l0.8 1.05l0.8 -1.05zM1843.74 1420.13l10.3 13.3l-10.3 13.3l-10.3 -13.3zM1843.74 1432.38l-0.8 1.05l0.8 1.05l0.8 -1.05zM1853.67 1434.99l10.3 13.3l-10.3 13.3l-10.3 -13.3zM1853.67 1447.24l-0.8 1.05l0.8 1.05l0.8 -1.05zM1863.6 1411.7l10.3 13.3l-10.3 13.3l-10.3 -13.3zM1863.6 1423.95l-0.8 1.05l0.8 1.05l0.8 -1.05zM1873.53 1439.94l10.3 13.3l-10.3 13.3l-10.3 -13.3zM1873.53 1452.19l-0.8 1.05l0.8 1.05l0.8 -1.05zM1883.46 1451.09l10.3 13.3l-10.3 13.3l-10.3 -13.3zM1883.46 1463.34l-0.8 1.05l0.8 1.05l0.8 -1.05zM1893.39 1457.28l10.3 13.3l-10.3 13.3l-10.3 -13.3zM1893.39 1469.53l-0.8 1.05l0.8 1.05l0.8 -1.05zM1903.32 1421.61l10.3 13.3l-10.3 13.3l-10.3 -13.3zM1903.32 1433.86l-0.8 1.05l0.8 1.05l0.8 -1.05zM1913.25 1451.09l10.3 13.3l-10.3 13.3l-10.3 -13.3zM1913.25 1463.34l-0.8 1.05l0.8 1.05l0.8 -1.05zM1923.18 1464.71l10.3 13.3l-10.3 13.3l-10.3 -13.3zM1923.18 1476.96l-0.8 1.05l0.8 1.05l0.8 -1.05zM1933.11 1454.8l10.3 13.3l-10.3 13.3l-10.3 -13.3zM1933.11 1467.05l-0.8 1.05l0.8 1.05l0.8 -1.05zM1943.04 1434.25l10.3 13.3l-10.3 13.3l-10.3 -13.3zM1943.04 1446.5l-0.8 1.05l0.8 1.05l0.8 -1.05zM1952.97 1445.39l10.3 13.3l-10.3 13.3l-10.3 -13.3zM1952.97 1457.64l-0.8 1.05l0.8 1.05l0.8 -1.05zM1962.9 1487.01l10.3 13.3l-10.3 13.3l-10.3 -13.3zM1962.9 1499.26l-0.8 1.05l0.8 1.05l0.8 -1.05zM1972.83 1449.85l10.3 13.3l-10.3 13.3l-10.3 -13.3zM1972.83 1462.1l-0.8 1.05l0.8 1.05l0.8 -1.05zM1982.76 1410.71l10.3 13.3l-10.3 13.3l-10.3 -13.3zM1982.76 1422.96l-0.8 1.05l0.8 1.05l0.8 -1.05zM1992.69 1415.17l10.3 13.3l-10.3 13.3l-10.3 -13.3zM1992.69 1427.42l-0.8 1.05l0.8 1.05l0.8 -1.05zM2002.62 1415.17l10.3 13.3l-10.3 13.3l-10.3 -13.3zM2002.62 1427.42l-0.8 1.05l0.8 1.05l0.8 -1.05zM2012.55 1434.99l10.3 13.3l-10.3 13.3l-10.3 -13.3zM2012.55 1447.24l-0.8 1.05l0.8 1.05l0.8 -1.05zM2022.48 1425.08l10.3 13.3l-10.3 13.3l-10.3 -13.3zM2022.48 1437.33l-0.8 1.05l0.8 1.05l0.8 -1.05zM2032.41 1422.6l10.3 13.3l-10.3 13.3l-10.3 -13.3zM2032.41 1434.85l-0.8 1.05l0.8 1.05l0.8 -1.05zM2042.34 1452.33l10.3 13.3l-10.3 13.3l-10.3 -13.3zM2042.34 1464.58l-0.8 1.05l0.8 1.05l0.8 -1.05zM2052.27 1439.94l10.3 13.3l-10.3 13.3l-10.3 -13.3zM2052.27 1452.19l-0.8 1.05l0.8 1.05l0.8 -1.05zM2062.2 1452.33l10.3 13.3l-10.3 13.3l-10.3 -13.3zM2062.2 1464.58l-0.8 1.05l0.8 1.05l0.8 -1.05zM2072.13 1422.11l10.3 13.3l-10.3 13.3l-10.3 -13.3zM2072.13 1434.36l-0.8 1.05l0.8 1.05l0.8 -1.05zM2082.06 1422.11l10.3 13.3l-10.3 13.3l-10.3 -13.3zM2082.06 1434.36l-0.8 1.05l0.8 1.05l0.8 -1.05zM2091.99 1482.05l10.3 13.3l-10.3 13.3l-10.3 -13.3zM2091.99 1494.3l-0.8 1.05l0.8 1.05l0.8 -1.05zM2101.92 1509.3l10.3 13.3l-10.3 13.3l-10.3 -13.3zM2101.92 1521.55l-0.8 1.05l0.8 1.05l0.8 -1.05zM2111.85 1524.16l10.3 13.3l-10.3 13.3l-10.3 -13.3zM2111.85 1536.41l-0.8 1.05l0.8 1.05l0.8 -1.05zM2121.78 1450.1l10.3 13.3l-10.3 13.3l-10.3 -13.3zM2121.78 1462.35l-0.8 1.05l0.8 1.05l0.8 -1.05zM2131.71 1458.52l10.3 13.3l-10.3 13.3l-10.3 -13.3zM2131.71 1470.77l-0.8 1.05l0.8 1.05l0.8 -1.05zM2141.64 1488l10.3 13.3l-10.3 13.3l-10.3 -13.3zM2141.64 1500.25l-0.8 1.05l0.8 1.05l0.8 -1.05zM2151.57 1494.44l10.3 13.3l-10.3 13.3l-10.3 -13.3zM2151.57 1506.69l-0.8 1.05l0.8 1.05l0.8 -1.05zM2161.5 1474.62l10.3 13.3l-10.3 13.3l-10.3 -13.3zM2161.5 1486.87l-0.8 1.05l0.8 1.05l0.8 -1.05zM2171.43 1451.58l10.3 13.3l-10.3 13.3l-10.3 -13.3zM2171.43 1463.83l-0.8 1.05l0.8 1.05l0.8 -1.05zM2181.36 1420.87l10.3 13.3l-10.3 13.3l-10.3 -13.3zM2181.36 1433.12l-0.8 1.05l0.8 1.05l0.8 -1.05zM2191.29 1457.28l10.3 13.3l-10.3 13.3l-10.3 -13.3zM2191.29 1469.53l-0.8 1.05l0.8 1.05l0.8 -1.05zM2201.22 1454.56l10.3 13.3l-10.3 13.3l-10.3 -13.3zM2201.22 1466.81l-0.8 1.05l0.8 1.05l0.8 -1.05zM2211.15 1450.35l10.3 13.3l-10.3 13.3l-10.3 -13.3zM2211.15 1462.6l-0.8 1.05l0.8 1.05l0.8 -1.05zM2221.08 1451.58l10.3 13.3l-10.3 13.3l-10.3 -13.3zM2221.08 1463.83l-0.8 1.05l0.8 1.05l0.8 -1.05zM2231.01 1489.48l10.3 13.3l-10.3 13.3l-10.3 -13.3zM2231.01 1501.73l-0.8 1.05l0.8 1.05l0.8 -1.05zM2240.94 1454.56l10.3 13.3l-10.3 13.3l-10.3 -13.3zM2240.94 1466.81l-0.8 1.05l0.8 1.05l0.8 -1.05zM2250.87 1474.62l10.3 13.3l-10.3 13.3l-10.3 -13.3zM2250.87 1486.87l-0.8 1.05l0.8 1.05l0.8 -1.05zM2260.8 1468.43l10.3 13.3l-10.3 13.3l-10.3 -13.3zM2260.8 1480.68l-0.8 1.05l0.8 1.05l0.8 -1.05zM2270.73 1491.96l10.3 13.3l-10.3 13.3l-10.3 -13.3zM2270.73 1504.21l-0.8 1.05l0.8 1.05l0.8 -1.05zM2280.66 1454.56l10.3 13.3l-10.3 13.3l-10.3 -13.3zM2280.66 1466.81l-0.8 1.05l0.8 1.05l0.8 -1.05zM2290.59 1462.98l10.3 13.3l-10.3 13.3l-10.3 -13.3zM2290.59 1475.23l-0.8 1.05l0.8 1.05l0.8 -1.05zM2300.52 1479.57l10.3 13.3l-10.3 13.3l-10.3 -13.3zM2300.52 1491.82l-0.8 1.05l0.8 1.05l0.8 -1.05zM2310.45 1468.43l10.3 13.3l-10.3 13.3l-10.3 -13.3zM2310.45 1480.68l-0.8 1.05l0.8 1.05l0.8 -1.05zM2320.38 1491.96l10.3 13.3l-10.3 13.3l-10.3 -13.3zM2320.38 1504.21l-0.8 1.05l0.8 1.05l0.8 -1.05zM2330.31 1454.56l10.3 13.3l-10.3 13.3l-10.3 -13.3zM2330.31 1466.81l-0.8 1.05l0.8 1.05l0.8 -1.05zM2340.24 1489.48l10.3 13.3l-10.3 13.3l-10.3 -13.3zM2340.24 1501.73l-0.8 1.05l0.8 1.05l0.8 -1.05zM2350.17 1504.35l10.3 13.3l-10.3 13.3l-10.3 -13.3zM2350.17 1516.6l-0.8 1.05l0.8 1.05l0.8 -1.05zM2360.1 1519.21l10.3 13.3l-10.3 13.3l-10.3 -13.3zM2360.1 1531.46l-0.8 1.05l0.8 1.05l0.8 -1.05z" fill="#00ff00" fill-rule="nonzero"/>
<path clip-path="url(#cd)" d="M1377 1703.4L1387 1544.9L1396.9 1496.6L1406.8 1491.1L1416.8 1537.5L1426.7 1505.8L1436.6 1521.9L1446.5 1559.8L1456.5 1562.2L1466.4 1543.2L1476.3 1527.6L1486.3 1557.3L1496.2 1531.8L1506.1 1567.2L1516 1559.8L1526 1569.7L1535.9 1543.2L1545.8 1538.9L1555.8 1548.6L1565.7 1549.8L1575.6 1505.8L1585.6 1485.9L1595.5 1522.6L1605.4 1511.5L1615.3 1525.1L1625.3 1496.6L1635.2 1532.5L1645.1 1511.5L1655.1 1525.1L1665 1516.9L1674.9 1549.4L1684.9 1516.9L1694.8 1527.6L1704.7 1516.9L1714.6 1542.4L1724.6 1526.8L1734.5 1506.5L1744.4 1517.6L1754.4 1532.5L1764.3 1518.4L1774.2 1507.7L1784.2 1431.2L1794.1 1456.5L1804 1461.4L1813.9 1439.6L1823.9 1486.7L1833.8 1482.5L1843.7 1482.5L1853.7 1447.5L1863.6 1436.2L1873.5 1478L1883.5 1502.8L1893.4 1486.7L1903.3 1478L1913.2 1443.3L1923.2 1470.6L1933.1 1478.3L1943 1500.3L1953 1512.7L1962.9 1507.7L1972.8 1430.9L1982.8 1473.1L1992.7 1497.8L2002.6 1525.1L2012.5 1475.5L2022.5 1450.8L2032.4 1424L2042.3 1456.5L2052.3 1487.9L2062.2 1477.5L2072.1 1500.3L2082.1 1520.1L2092 1532.5L2101.9 1525.1L2111.8 1530L2121.8 1513.9L2131.7 1542.4L2141.6 1477.5L2151.6 1537.5L2161.5 1522.6L2171.4 1497.8L2181.4 1446.8L2191.3 1502.8L2201.2 1490.4L2211.1 1532.5L2221.1 1571.6L2231 1537.5L2240.9 1504.3L2250.9 1515.2L2260.8 1535L2270.7 1517.6L2280.7 1537.5L2290.6 1542.4L2300.5 1567.2L2310.4 1537.5L2320.4 1532.5L2330.3 1549.8L2340.2 1532.5L2350.2 1567.2L2360.1 1622.4" fill="none" stroke="#7f2a2a" stroke-width="7.3" stroke-linejoin="round" stroke-dasharray="37 12 10 12"/>
<path d="M1377.03 1690.12l10.3 13.3l-10.3 13.3l-10.3 -13.3zM1377.03 1702.37l-0.8 1.05l0.8 1.05l0.8 -1.05zM1386.96 1531.59l10.3 13.3l-10.3 13.3l-10.3 -13.3zM1386.96 1543.84l-0.8 1.05l0.8 1.05l0.8 -1.05zM1396.89 1483.29l10.3 13.3l-10.3 13.3l-10.3 -13.3zM1396.89 1495.54l-0.8 1.05l0.8 1.05l0.8 -1.05zM1406.82 1477.84l10.3 13.3l-10.3 13.3l-10.3 -13.3zM1406.82 1490.09l-0.8 1.05l0.8 1.05l0.8 -1.05zM1416.75 1524.16l10.3 13.3l-10.3 13.3l-10.3 -13.3zM1416.75 1536.41l-0.8 1.05l0.8 1.05l0.8 -1.05zM1426.68 1492.46l10.3 13.3l-10.3 13.3l-10.3 -13.3zM1426.68 1504.71l-0.8 1.05l0.8 1.05l0.8 -1.05zM1436.61 1508.56l10.3 13.3l-10.3 13.3l-10.3 -13.3zM1436.61 1520.81l-0.8 1.05l0.8 1.05l0.8 -1.05zM1446.54 1546.45l10.3 13.3l-10.3 13.3l-10.3 -13.3zM1446.54 1558.7l-0.8 1.05l0.8 1.05l0.8 -1.05zM1456.47 1548.93l10.3 13.3l-10.3 13.3l-10.3 -13.3zM1456.47 1561.18l-0.8 1.05l0.8 1.05l0.8 -1.05zM1466.4 1529.86l10.3 13.3l-10.3 13.3l-10.3 -13.3zM1466.4 1542.11l-0.8 1.05l0.8 1.05l0.8 -1.05zM1476.33 1514.25l10.3 13.3l-10.3 13.3l-10.3 -13.3zM1476.33 1526.5l-0.8 1.05l0.8 1.05l0.8 -1.05zM1486.26 1543.98l10.3 13.3l-10.3 13.3l-10.3 -13.3zM1486.26 1556.23l-0.8 1.05l0.8 1.05l0.8 -1.05zM1496.19 1518.46l10.3 13.3l-10.3 13.3l-10.3 -13.3zM1496.19 1530.71l-0.8 1.05l0.8 1.05l0.8 -1.05zM1506.12 1553.89l10.3 13.3l-10.3 13.3l-10.3 -13.3zM1506.12 1566.14l-0.8 1.05l0.8 1.05l0.8 -1.05zM1516.05 1546.45l10.3 13.3l-10.3 13.3l-10.3 -13.3zM1516.05 1558.7l-0.8 1.05l0.8 1.05l0.8 -1.05zM1525.98 1556.36l10.3 13.3l-10.3 13.3l-10.3 -13.3zM1525.98 1568.61l-0.8 1.05l0.8 1.05l0.8 -1.05zM1535.91 1529.86l10.3 13.3l-10.3 13.3l-10.3 -13.3zM1535.91 1542.11l-0.8 1.05l0.8 1.05l0.8 -1.05zM1545.84 1525.65l10.3 13.3l-10.3 13.3l-10.3 -13.3zM1545.84 1537.9l-0.8 1.05l0.8 1.05l0.8 -1.05zM1555.77 1535.31l10.3 13.3l-10.3 13.3l-10.3 -13.3zM1555.77 1547.56l-0.8 1.05l0.8 1.05l0.8 -1.05zM1565.7 1536.55l10.3 13.3l-10.3 13.3l-10.3 -13.3zM1565.7 1548.8l-0.8 1.05l0.8 1.05l0.8 -1.05zM1575.63 1492.46l10.3 13.3l-10.3 13.3l-10.3 -13.3zM1575.63 1504.71l-0.8 1.05l0.8 1.05l0.8 -1.05zM1585.56 1472.64l10.3 13.3l-10.3 13.3l-10.3 -13.3zM1585.56 1484.89l-0.8 1.05l0.8 1.05l0.8 -1.05zM1595.49 1509.3l10.3 13.3l-10.3 13.3l-10.3 -13.3zM1595.49 1521.55l-0.8 1.05l0.8 1.05l0.8 -1.05zM1605.42 1498.15l10.3 13.3l-10.3 13.3l-10.3 -13.3zM1605.42 1510.4l-0.8 1.05l0.8 1.05l0.8 -1.05zM1615.35 1511.78l10.3 13.3l-10.3 13.3l-10.3 -13.3zM1615.35 1524.03l-0.8 1.05l0.8 1.05l0.8 -1.05zM1625.28 1483.29l10.3 13.3l-10.3 13.3l-10.3 -13.3zM1625.28 1495.54l-0.8 1.05l0.8 1.05l0.8 -1.05zM1635.21 1519.21l10.3 13.3l-10.3 13.3l-10.3 -13.3zM1635.21 1531.46l-0.8 1.05l0.8 1.05l0.8 -1.05zM1645.14 1498.15l10.3 13.3l-10.3 13.3l-10.3 -13.3zM1645.14 1510.4l-0.8 1.05l0.8 1.05l0.8 -1.05zM1655.07 1511.78l10.3 13.3l-10.3 13.3l-10.3 -13.3zM1655.07 1524.03l-0.8 1.05l0.8 1.05l0.8 -1.05zM1665 1503.6l10.3 13.3l-10.3 13.3l-10.3 -13.3zM1665 1515.85l-0.8 1.05l0.8 1.05l0.8 -1.05zM1674.93 1536.05l10.3 13.3l-10.3 13.3l-10.3 -13.3zM1674.93 1548.3l-0.8 1.05l0.8 1.05l0.8 -1.05zM1684.86 1503.6l10.3 13.3l-10.3 13.3l-10.3 -13.3zM1684.86 1515.85l-0.8 1.05l0.8 1.05l0.8 -1.05zM1694.79 1514.25l10.3 13.3l-10.3 13.3l-10.3 -13.3zM1694.79 1526.5l-0.8 1.05l0.8 1.05l0.8 -1.05zM1704.72 1503.6l10.3 13.3l-10.3 13.3l-10.3 -13.3zM1704.72 1515.85l-0.8 1.05l0.8 1.05l0.8 -1.05zM1714.65 1529.12l10.3 13.3l-10.3 13.3l-10.3 -13.3zM1714.65 1541.37l-0.8 1.05l0.8 1.05l0.8 -1.05zM1724.58 1513.51l10.3 13.3l-10.3 13.3l-10.3 -13.3zM1724.58 1525.76l-0.8 1.05l0.8 1.05l0.8 -1.05zM1734.51 1493.2l10.3 13.3l-10.3 13.3l-10.3 -13.3zM1734.51 1505.45l-0.8 1.05l0.8 1.05l0.8 -1.05zM1744.44 1504.35l10.3 13.3l-10.3 13.3l-10.3 -13.3zM1744.44 1516.6l-0.8 1.05l0.8 1.05l0.8 -1.05zM1754.37 1519.21l10.3 13.3l-10.3 13.3l-10.3 -13.3zM1754.37 1531.46l-0.8 1.05l0.8 1.05l0.8 -1.05zM1764.3 1505.09l10.3 13.3l-10.3 13.3l-10.3 -13.3zM1764.3 1517.34l-0.8 1.05l0.8 1.05l0.8 -1.05zM1774.23 1494.44l10.3 13.3l-10.3 13.3l-10.3 -13.3zM1774.23 1506.69l-0.8 1.05l0.8 1.05l0.8 -1.05zM1784.16 1417.9l10.3 13.3l-10.3 13.3l-10.3 -13.3zM1784.16 1430.15l-0.8 1.05l0.8 1.05l0.8 -1.05zM1794.09 1443.16l10.3 13.3l-10.3 13.3l-10.3 -13.3zM1794.09 1455.41l-0.8 1.05l0.8 1.05l0.8 -1.05zM1804.02 1448.12l10.3 13.3l-10.3 13.3l-10.3 -13.3zM1804.02 1460.37l-0.8 1.05l0.8 1.05l0.8 -1.05zM1813.95 1426.32l10.3 13.3l-10.3 13.3l-10.3 -13.3zM1813.95 1438.57l-0.8 1.05l0.8 1.05l0.8 -1.05zM1823.88 1473.38l10.3 13.3l-10.3 13.3l-10.3 -13.3zM1823.88 1485.63l-0.8 1.05l0.8 1.05l0.8 -1.05zM1833.81 1469.17l10.3 13.3l-10.3 13.3l-10.3 -13.3zM1833.81 1481.42l-0.8 1.05l0.8 1.05l0.8 -1.05zM1843.74 1469.17l10.3 13.3l-10.3 13.3l-10.3 -13.3zM1843.74 1481.42l-0.8 1.05l0.8 1.05l0.8 -1.05zM1853.67 1434.25l10.3 13.3l-10.3 13.3l-10.3 -13.3zM1853.67 1446.5l-0.8 1.05l0.8 1.05l0.8 -1.05zM1863.6 1422.85l10.3 13.3l-10.3 13.3l-10.3 -13.3zM1863.6 1435.1l-0.8 1.05l0.8 1.05l0.8 -1.05zM1873.53 1464.71l10.3 13.3l-10.3 13.3l-10.3 -13.3zM1873.53 1476.96l-0.8 1.05l0.8 1.05l0.8 -1.05zM1883.46 1489.48l10.3 13.3l-10.3 13.3l-10.3 -13.3zM1883.46 1501.73l-0.8 1.05l0.8 1.05l0.8 -1.05zM1893.39 1473.38l10.3 13.3l-10.3 13.3l-10.3 -13.3zM1893.39 1485.63l-0.8 1.05l0.8 1.05l0.8 -1.05zM1903.32 1464.71l10.3 13.3l-10.3 13.3l-10.3 -13.3zM1903.32 1476.96l-0.8 1.05l0.8 1.05l0.8 -1.05zM1913.25 1430.03l10.3 13.3l-10.3 13.3l-10.3 -13.3zM1913.25 1442.28l-0.8 1.05l0.8 1.05l0.8 -1.05zM1923.18 1457.28l10.3 13.3l-10.3 13.3l-10.3 -13.3zM1923.18 1469.53l-0.8 1.05l0.8 1.05l0.8 -1.05zM1933.11 1464.96l10.3 13.3l-10.3 13.3l-10.3 -13.3zM1933.11 1477.21l-0.8 1.05l0.8 1.05l0.8 -1.05zM1943.04 1487.01l10.3 13.3l-10.3 13.3l-10.3 -13.3zM1943.04 1499.26l-0.8 1.05l0.8 1.05l0.8 -1.05zM1952.97 1499.39l10.3 13.3l-10.3 13.3l-10.3 -13.3zM1952.97 1511.64l-0.8 1.05l0.8 1.05l0.8 -1.05zM1962.9 1494.44l10.3 13.3l-10.3 13.3l-10.3 -13.3zM1962.9 1506.69l-0.8 1.05l0.8 1.05l0.8 -1.05zM1972.83 1417.65l10.3 13.3l-10.3 13.3l-10.3 -13.3zM1972.83 1429.9l-0.8 1.05l0.8 1.05l0.8 -1.05zM1982.76 1459.76l10.3 13.3l-10.3 13.3l-10.3 -13.3zM1982.76 1472.01l-0.8 1.05l0.8 1.05l0.8 -1.05zM1992.69 1484.53l10.3 13.3l-10.3 13.3l-10.3 -13.3zM1992.69 1496.78l-0.8 1.05l0.8 1.05l0.8 -1.05zM2002.62 1511.78l10.3 13.3l-10.3 13.3l-10.3 -13.3zM2002.62 1524.03l-0.8 1.05l0.8 1.05l0.8 -1.05zM2012.55 1462.24l10.3 13.3l-10.3 13.3l-10.3 -13.3zM2012.55 1474.49l-0.8 1.05l0.8 1.05l0.8 -1.05zM2022.48 1437.47l10.3 13.3l-10.3 13.3l-10.3 -13.3zM2022.48 1449.72l-0.8 1.05l0.8 1.05l0.8 -1.05zM2032.41 1410.71l10.3 13.3l-10.3 13.3l-10.3 -13.3zM2032.41 1422.96l-0.8 1.05l0.8 1.05l0.8 -1.05zM2042.34 1443.16l10.3 13.3l-10.3 13.3l-10.3 -13.3zM2042.34 1455.41l-0.8 1.05l0.8 1.05l0.8 -1.05zM2052.27 1474.62l10.3 13.3l-10.3 13.3l-10.3 -13.3zM2052.27 1486.87l-0.8 1.05l0.8 1.05l0.8 -1.05zM2062.2 1464.22l10.3 13.3l-10.3 13.3l-10.3 -13.3zM2062.2 1476.47l-0.8 1.05l0.8 1.05l0.8 -1.05zM2072.13 1487.01l10.3 13.3l-10.3 13.3l-10.3 -13.3zM2072.13 1499.26l-0.8 1.05l0.8 1.05l0.8 -1.05zM2082.06 1506.82l10.3 13.3l-10.3 13.3l-10.3 -13.3zM2082.06 1519.07l-0.8 1.05l0.8 1.05l0.8 -1.05zM2091.99 1519.21l10.3 13.3l-10.3 13.3l-10.3 -13.3zM2091.99 1531.46l-0.8 1.05l0.8 1.05l0.8 -1.05zM2101.92 1511.78l10.3 13.3l-10.3 13.3l-10.3 -13.3zM2101.92 1524.03l-0.8 1.05l0.8 1.05l0.8 -1.05zM2111.85 1516.73l10.3 13.3l-10.3 13.3l-10.3 -13.3zM2111.85 1528.98l-0.8 1.05l0.8 1.05l0.8 -1.05zM2121.78 1500.63l10.3 13.3l-10.3 13.3l-10.3 -13.3zM2121.78 1512.88l-0.8 1.05l0.8 1.05l0.8 -1.05zM2131.71 1529.12l10.3 13.3l-10.3 13.3l-10.3 -13.3zM2131.71 1541.37l-0.8 1.05l0.8 1.05l0.8 -1.05zM2141.64 1464.22l10.3 13.3l-10.3 13.3l-10.3 -13.3zM2141.64 1476.47l-0.8 1.05l0.8 1.05l0.8 -1.05zM2151.57 1524.16l10.3 13.3l-10.3 13.3l-10.3 -13.3zM2151.57 1536.41l-0.8 1.05l0.8 1.05l0.8 -1.05zM2161.5 1509.3l10.3 13.3l-10.3 13.3l-10.3 -13.3zM2161.5 1521.55l-0.8 1.05l0.8 1.05l0.8 -1.05zM2171.43 1484.53l10.3 13.3l-10.3 13.3l-10.3 -13.3zM2171.43 1496.78l-0.8 1.05l0.8 1.05l0.8 -1.05zM2181.36 1433.5l10.3 13.3l-10.3 13.3l-10.3 -13.3zM2181.36 1445.75l-0.8 1.05l0.8 1.05l0.8 -1.05zM2191.29 1489.48l10.3 13.3l-10.3 13.3l-10.3 -13.3zM2191.29 1501.73l-0.8 1.05l0.8 1.05l0.8 -1.05zM2201.22 1477.1l10.3 13.3l-10.3 13.3l-10.3 -13.3zM2201.22 1489.35l-0.8 1.05l0.8 1.05l0.8 -1.05zM2211.15 1519.21l10.3 13.3l-10.3 13.3l-10.3 -13.3zM2211.15 1531.46l-0.8 1.05l0.8 1.05l0.8 -1.05zM2221.08 1558.34l10.3 13.3l-10.3 13.3l-10.3 -13.3zM2221.08 1570.59l-0.8 1.05l0.8 1.05l0.8 -1.05zM2231.01 1524.16l10.3 13.3l-10.3 13.3l-10.3 -13.3zM2231.01 1536.41l-0.8 1.05l0.8 1.05l0.8 -1.05zM2240.94 1490.97l10.3 13.3l-10.3 13.3l-10.3 -13.3zM2240.94 1503.22l-0.8 1.05l0.8 1.05l0.8 -1.05zM2250.87 1501.87l10.3 13.3l-10.3 13.3l-10.3 -13.3zM2250.87 1514.12l-0.8 1.05l0.8 1.05l0.8 -1.05zM2260.8 1521.68l10.3 13.3l-10.3 13.3l-10.3 -13.3zM2260.8 1533.93l-0.8 1.05l0.8 1.05l0.8 -1.05zM2270.73 1504.35l10.3 13.3l-10.3 13.3l-10.3 -13.3zM2270.73 1516.6l-0.8 1.05l0.8 1.05l0.8 -1.05zM2280.66 1524.16l10.3 13.3l-10.3 13.3l-10.3 -13.3zM2280.66 1536.41l-0.8 1.05l0.8 1.05l0.8 -1.05zM2290.59 1529.12l10.3 13.3l-10.3 13.3l-10.3 -13.3zM2290.59 1541.37l-0.8 1.05l0.8 1.05l0.8 -1.05zM2300.52 1553.89l10.3 13.3l-10.3 13.3l-10.3 -13.3zM2300.52 1566.14l-0.8 1.05l0.8 1.05l0.8 -1.05zM2310.45 1524.16l10.3 13.3l-10.3 13.3l-10.3 -13.3zM2310.45 1536.41l-0.8 1.05l0.8 1.05l0.8 -1.05zM2320.38 1519.21l10.3 13.3l-10.3 13.3l-10.3 -13.3zM2320.38 1531.46l-0.8 1.05l0.8 1.05l0.8 -1.05zM2330.31 1536.55l10.3 13.3l-10.3 13.3l-10.3 -13.3zM2330.31 1548.8l-0.8 1.05l0.8 1.05l0.8 -1.05zM2340.24 1519.21l10.3 13.3l-10.3 13.3l-10.3 -13.3zM2340.24 1531.46l-0.8 1.05l0.8 1.05l0.8 -1.05zM2350.17 1553.89l10.3 13.3l-10.3 13.3l-10.3 -13.3zM2350.17 1566.14l-0.8 1.05l0.8 1.05l0.8 -1.05zM2360.1 1609.12l10.3 13.3l-10.3 13.3l-10.3 -13.3zM2360.1 1621.37l-0.8 1.05l0.8 1.05l0.8 -1.05z" fill="#7f2a2a" fill-rule="nonzero"/>
<path clip-path="url(#cd)" d="M1377 1705.9L1387 1594.4L1396.9 1629.1L1406.8 1610.5L1416.8 1582L1426.7 1527.6L1436.6 1577.1L1446.5 1596.9L1456.5 1569.7L1466.4 1582L1476.3 1587L1486.3 1582L1496.2 1569.7L1506.1 1587L1516 1592L1526 1596.9L1535.9 1601.9L1545.8 1623.2L1555.8 1572.1L1565.7 1567.2L1575.6 1582L1585.6 1587L1595.5 1582L1605.4 1599.4L1615.3 1622.4L1625.3 1569.7L1635.2 1516.9L1645.1 1584.5L1655.1 1577.1L1665 1562.2L1674.9 1606.8L1684.9 1569.7L1694.8 1543.7L1704.7 1562.2L1714.6 1577.1L1724.6 1587L1734.5 1592L1744.4 1601.9L1754.4 1615.2L1764.3 1557.3L1774.2 1549.8L1784.2 1557.3L1794.1 1562.2L1804 1577.1L1813.9 1606.3L1823.9 1557.3L1833.8 1547.4L1843.7 1549.8L1853.7 1537.5L1863.6 1527.6L1873.5 1510.2L1883.5 1495.4L1893.4 1527.6L1903.3 1525.1L1913.2 1502.8L1923.2 1542.4L1933.1 1569.7L1943 1510.7L1953 1532.5L1962.9 1544.9L1972.8 1557.3L1982.8 1527.6L1992.7 1517.6L2002.6 1537.5L2012.5 1497.1L2022.5 1510.2L2032.4 1502.8L2042.3 1471.8L2052.3 1495.4L2062.2 1492.9L2072.1 1179.5L2082.1 1520.1L2092 1532.5L2101.9 1527.6L2111.8 1544.9L2121.8 1537.5L2131.7 1544.9L2141.6 1550.6L2151.6 1508.5L2161.5 1532.5L2171.4 1532.5L2181.4 1556.3L2191.3 1537.5L2201.2 1527.6L2211.1 1532.5L2221.1 1517.6L2231 1544.9L2240.9 1597.2L2250.9 1544.9L2260.8 1532.5L2270.7 1537.5L2280.7 1512.7L2290.6 1525.1L2300.5 1510.2L2310.4 1507.2L2320.4 1542.4L2330.3 1485.9L2340.2 1520.1L2350.2 1567.2L2360.1 1511.5" fill="none" stroke="#ff00ff" stroke-width="7.3" stroke-linejoin="round"/>
<path d="M1367.33 1705.9a9.7 9.7 0 1 1 19.4 0a9.7 9.7 0 1 1 -19.4 0zM1376.33 1705.9a0.7 0.7 0 1 0 1.4 0a0.7 0.7 0 1 0 -1.4 0zM1377.26 1594.43a9.7 9.7 0 1 1 19.4 0a9.7 9.7 0 1 1 -19.4 0zM1386.26 1594.43a0.7 0.7 0 1 0 1.4 0a0.7 0.7 0 1 0 -1.4 0zM1387.19 1629.11a9.7 9.7 0 1 1 19.4 0a9.7 9.7 0 1 1 -19.4 0zM1396.19 1629.11a0.7 0.7 0 1 0 1.4 0a0.7 0.7 0 1 0 -1.4 0zM1397.12 1610.53a9.7 9.7 0 1 1 19.4 0a9.7 9.7 0 1 1 -19.4 0zM1406.12 1610.53a0.7 0.7 0 1 0 1.4 0a0.7 0.7 0 1 0 -1.4 0zM1407.05 1582.05a9.7 9.7 0 1 1 19.4 0a9.7 9.7 0 1 1 -19.4 0zM1416.05 1582.05a0.7 0.7 0 1 0 1.4 0a0.7 0.7 0 1 0 -1.4 0zM1416.98 1527.55a9.7 9.7 0 1 1 19.4 0a9.7 9.7 0 1 1 -19.4 0zM1425.98 1527.55a0.7 0.7 0 1 0 1.4 0a0.7 0.7 0 1 0 -1.4 0zM1426.91 1577.09a9.7 9.7 0 1 1 19.4 0a9.7 9.7 0 1 1 -19.4 0zM1435.91 1577.09a0.7 0.7 0 1 0 1.4 0a0.7 0.7 0 1 0 -1.4 0zM1436.84 1596.91a9.7 9.7 0 1 1 19.4 0a9.7 9.7 0 1 1 -19.4 0zM1445.84 1596.91a0.7 0.7 0 1 0 1.4 0a0.7 0.7 0 1 0 -1.4 0zM1446.77 1569.66a9.7 9.7 0 1 1 19.4 0a9.7 9.7 0 1 1 -19.4 0zM1455.77 1569.66a0.7 0.7 0 1 0 1.4 0a0.7 0.7 0 1 0 -1.4 0zM1456.7 1582.05a9.7 9.7 0 1 1 19.4 0a9.7 9.7 0 1 1 -19.4 0zM1465.7 1582.05a0.7 0.7 0 1 0 1.4 0a0.7 0.7 0 1 0 -1.4 0zM1466.63 1587a9.7 9.7 0 1 1 19.4 0a9.7 9.7 0 1 1 -19.4 0zM1475.63 1587a0.7 0.7 0 1 0 1.4 0a0.7 0.7 0 1 0 -1.4 0zM1476.56 1582.05a9.7 9.7 0 1 1 19.4 0a9.7 9.7 0 1 1 -19.4 0zM1485.56 1582.05a0.7 0.7 0 1 0 1.4 0a0.7 0.7 0 1 0 -1.4 0zM1486.49 1569.66a9.7 9.7 0 1 1 19.4 0a9.7 9.7 0 1 1 -19.4 0zM1495.49 1569.66a0.7 0.7 0 1 0 1.4 0a0.7 0.7 0 1 0 -1.4 0zM1496.42 1587a9.7 9.7 0 1 1 19.4 0a9.7 9.7 0 1 1 -19.4 0zM1505.42 1587a0.7 0.7 0 1 0 1.4 0a0.7 0.7 0 1 0 -1.4 0zM1506.35 1591.96a9.7 9.7 0 1 1 19.4 0a9.7 9.7 0 1 1 -19.4 0zM1515.35 1591.96a0.7 0.7 0 1 0 1.4 0a0.7 0.7 0 1 0 -1.4 0zM1516.28 1596.91a9.7 9.7 0 1 1 19.4 0a9.7 9.7 0 1 1 -19.4 0zM1525.28 1596.91a0.7 0.7 0 1 0 1.4 0a0.7 0.7 0 1 0 -1.4 0zM1526.21 1601.86a9.7 9.7 0 1 1 19.4 0a9.7 9.7 0 1 1 -19.4 0zM1535.21 1601.86a0.7 0.7 0 1 0 1.4 0a0.7 0.7 0 1 0 -1.4 0zM1536.14 1623.17a9.7 9.7 0 1 1 19.4 0a9.7 9.7 0 1 1 -19.4 0zM1545.14 1623.17a0.7 0.7 0 1 0 1.4 0a0.7 0.7 0 1 0 -1.4 0zM1546.07 1572.14a9.7 9.7 0 1 1 19.4 0a9.7 9.7 0 1 1 -19.4 0zM1555.07 1572.14a0.7 0.7 0 1 0 1.4 0a0.7 0.7 0 1 0 -1.4 0zM1556 1567.19a9.7 9.7 0 1 1 19.4 0a9.7 9.7 0 1 1 -19.4 0zM1565 1567.19a0.7 0.7 0 1 0 1.4 0a0.7 0.7 0 1 0 -1.4 0zM1565.93 1582.05a9.7 9.7 0 1 1 19.4 0a9.7 9.7 0 1 1 -19.4 0zM1574.93 1582.05a0.7 0.7 0 1 0 1.4 0a0.7 0.7 0 1 0 -1.4 0zM1575.86 1587a9.7 9.7 0 1 1 19.4 0a9.7 9.7 0 1 1 -19.4 0zM1584.86 1587a0.7 0.7 0 1 0 1.4 0a0.7 0.7 0 1 0 -1.4 0zM1585.79 1582.05a9.7 9.7 0 1 1 19.4 0a9.7 9.7 0 1 1 -19.4 0zM1594.79 1582.05a0.7 0.7 0 1 0 1.4 0a0.7 0.7 0 1 0 -1.4 0zM1595.72 1599.39a9.7 9.7 0 1 1 19.4 0a9.7 9.7 0 1 1 -19.4 0zM1604.72 1599.39a0.7 0.7 0 1 0 1.4 0a0.7 0.7 0 1 0 -1.4 0zM1605.65 1622.42a9.7 9.7 0 1 1 19.4 0a9.7 9.7 0 1 1 -19.4 0zM1614.65 1622.42a0.7 0.7 0 1 0 1.4 0a0.7 0.7 0 1 0 -1.4 0zM1615.58 1569.66a9.7 9.7 0 1 1 19.4 0a9.7 9.7 0 1 1 -19.4 0zM1624.58 1569.66a0.7 0.7 0 1 0 1.4 0a0.7 0.7 0 1 0 -1.4 0zM1625.51 1516.9a9.7 9.7 0 1 1 19.4 0a9.7 9.7 0 1 1 -19.4 0zM1634.51 1516.9a0.7 0.7 0 1 0 1.4 0a0.7 0.7 0 1 0 -1.4 0zM1635.44 1584.53a9.7 9.7 0 1 1 19.4 0a9.7 9.7 0 1 1 -19.4 0zM1644.44 1584.53a0.7 0.7 0 1 0 1.4 0a0.7 0.7 0 1 0 -1.4 0zM1645.37 1577.09a9.7 9.7 0 1 1 19.4 0a9.7 9.7 0 1 1 -19.4 0zM1654.37 1577.09a0.7 0.7 0 1 0 1.4 0a0.7 0.7 0 1 0 -1.4 0zM1655.3 1562.23a9.7 9.7 0 1 1 19.4 0a9.7 9.7 0 1 1 -19.4 0zM1664.3 1562.23a0.7 0.7 0 1 0 1.4 0a0.7 0.7 0 1 0 -1.4 0zM1665.23 1606.82a9.7 9.7 0 1 1 19.4 0a9.7 9.7 0 1 1 -19.4 0zM1674.23 1606.82a0.7 0.7 0 1 0 1.4 0a0.7 0.7 0 1 0 -1.4 0zM1675.16 1569.66a9.7 9.7 0 1 1 19.4 0a9.7 9.7 0 1 1 -19.4 0zM1684.16 1569.66a0.7 0.7 0 1 0 1.4 0a0.7 0.7 0 1 0 -1.4 0zM1685.09 1543.65a9.7 9.7 0 1 1 19.4 0a9.7 9.7 0 1 1 -19.4 0zM1694.09 1543.65a0.7 0.7 0 1 0 1.4 0a0.7 0.7 0 1 0 -1.4 0zM1695.02 1562.23a9.7 9.7 0 1 1 19.4 0a9.7 9.7 0 1 1 -19.4 0zM1704.02 1562.23a0.7 0.7 0 1 0 1.4 0a0.7 0.7 0 1 0 -1.4 0zM1704.95 1577.09a9.7 9.7 0 1 1 19.4 0a9.7 9.7 0 1 1 -19.4 0zM1713.95 1577.09a0.7 0.7 0 1 0 1.4 0a0.7 0.7 0 1 0 -1.4 0zM1714.88 1587a9.7 9.7 0 1 1 19.4 0a9.7 9.7 0 1 1 -19.4 0zM1723.88 1587a0.7 0.7 0 1 0 1.4 0a0.7 0.7 0 1 0 -1.4 0zM1724.81 1591.96a9.7 9.7 0 1 1 19.4 0a9.7 9.7 0 1 1 -19.4 0zM1733.81 1591.96a0.7 0.7 0 1 0 1.4 0a0.7 0.7 0 1 0 -1.4 0zM1734.74 1601.86a9.7 9.7 0 1 1 19.4 0a9.7 9.7 0 1 1 -19.4 0zM1743.74 1601.86a0.7 0.7 0 1 0 1.4 0a0.7 0.7 0 1 0 -1.4 0zM1744.67 1615.24a9.7 9.7 0 1 1 19.4 0a9.7 9.7 0 1 1 -19.4 0zM1753.67 1615.24a0.7 0.7 0 1 0 1.4 0a0.7 0.7 0 1 0 -1.4 0zM1754.6 1557.28a9.7 9.7 0 1 1 19.4 0a9.7 9.7 0 1 1 -19.4 0zM1763.6 1557.28a0.7 0.7 0 1 0 1.4 0a0.7 0.7 0 1 0 -1.4 0zM1764.53 1549.85a9.7 9.7 0 1 1 19.4 0a9.7 9.7 0 1 1 -19.4 0zM1773.53 1549.85a0.7 0.7 0 1 0 1.4 0a0.7 0.7 0 1 0 -1.4 0zM1774.46 1557.28a9.7 9.7 0 1 1 19.4 0a9.7 9.7 0 1 1 -19.4 0zM1783.46 1557.28a0.7 0.7 0 1 0 1.4 0a0.7 0.7 0 1 0 -1.4 0zM1784.39 1562.23a9.7 9.7 0 1 1 19.4 0a9.7 9.7 0 1 1 -19.4 0zM1793.39 1562.23a0.7 0.7 0 1 0 1.4 0a0.7 0.7 0 1 0 -1.4 0zM1794.32 1577.09a9.7 9.7 0 1 1 19.4 0a9.7 9.7 0 1 1 -19.4 0zM1803.32 1577.09a0.7 0.7 0 1 0 1.4 0a0.7 0.7 0 1 0 -1.4 0zM1804.25 1606.32a9.7 9.7 0 1 1 19.4 0a9.7 9.7 0 1 1 -19.4 0zM1813.25 1606.32a0.7 0.7 0 1 0 1.4 0a0.7 0.7 0 1 0 -1.4 0zM1814.18 1557.28a9.7 9.7 0 1 1 19.4 0a9.7 9.7 0 1 1 -19.4 0zM1823.18 1557.28a0.7 0.7 0 1 0 1.4 0a0.7 0.7 0 1 0 -1.4 0zM1824.11 1547.37a9.7 9.7 0 1 1 19.4 0a9.7 9.7 0 1 1 -19.4 0zM1833.11 1547.37a0.7 0.7 0 1 0 1.4 0a0.7 0.7 0 1 0 -1.4 0zM1834.04 1549.85a9.7 9.7 0 1 1 19.4 0a9.7 9.7 0 1 1 -19.4 0zM1843.04 1549.85a0.7 0.7 0 1 0 1.4 0a0.7 0.7 0 1 0 -1.4 0zM1843.97 1537.46a9.7 9.7 0 1 1 19.4 0a9.7 9.7 0 1 1 -19.4 0zM1852.97 1537.46a0.7 0.7 0 1 0 1.4 0a0.7 0.7 0 1 0 -1.4 0zM1853.9 1527.55a9.7 9.7 0 1 1 19.4 0a9.7 9.7 0 1 1 -19.4 0zM1862.9 1527.55a0.7 0.7 0 1 0 1.4 0a0.7 0.7 0 1 0 -1.4 0zM1863.83 1510.21a9.7 9.7 0 1 1 19.4 0a9.7 9.7 0 1 1 -19.4 0zM1872.83 1510.21a0.7 0.7 0 1 0 1.4 0a0.7 0.7 0 1 0 -1.4 0zM1873.76 1495.35a9.7 9.7 0 1 1 19.4 0a9.7 9.7 0 1 1 -19.4 0zM1882.76 1495.35a0.7 0.7 0 1 0 1.4 0a0.7 0.7 0 1 0 -1.4 0zM1883.69 1527.55a9.7 9.7 0 1 1 19.4 0a9.7 9.7 0 1 1 -19.4 0zM1892.69 1527.55a0.7 0.7 0 1 0 1.4 0a0.7 0.7 0 1 0 -1.4 0zM1893.62 1525.08a9.7 9.7 0 1 1 19.4 0a9.7 9.7 0 1 1 -19.4 0zM1902.62 1525.08a0.7 0.7 0 1 0 1.4 0a0.7 0.7 0 1 0 -1.4 0zM1903.55 1502.78a9.7 9.7 0 1 1 19.4 0a9.7 9.7 0 1 1 -19.4 0zM1912.55 1502.78a0.7 0.7 0 1 0 1.4 0a0.7 0.7 0 1 0 -1.4 0zM1913.48 1542.42a9.7 9.7 0 1 1 19.4 0a9.7 9.7 0 1 1 -19.4 0zM1922.48 1542.42a0.7 0.7 0 1 0 1.4 0a0.7 0.7 0 1 0 -1.4 0zM1923.41 1569.66a9.7 9.7 0 1 1 19.4 0a9.7 9.7 0 1 1 -19.4 0zM1932.41 1569.66a0.7 0.7 0 1 0 1.4 0a0.7 0.7 0 1 0 -1.4 0zM1933.34 1510.71a9.7 9.7 0 1 1 19.4 0a9.7 9.7 0 1 1 -19.4 0zM1942.34 1510.71a0.7 0.7 0 1 0 1.4 0a0.7 0.7 0 1 0 -1.4 0zM1943.27 1532.51a9.7 9.7 0 1 1 19.4 0a9.7 9.7 0 1 1 -19.4 0zM1952.27 1532.51a0.7 0.7 0 1 0 1.4 0a0.7 0.7 0 1 0 -1.4 0zM1953.2 1544.89a9.7 9.7 0 1 1 19.4 0a9.7 9.7 0 1 1 -19.4 0zM1962.2 1544.89a0.7 0.7 0 1 0 1.4 0a0.7 0.7 0 1 0 -1.4 0zM1963.13 1557.28a9.7 9.7 0 1 1 19.4 0a9.7 9.7 0 1 1 -19.4 0zM1972.13 1557.28a0.7 0.7 0 1 0 1.4 0a0.7 0.7 0 1 0 -1.4 0zM1973.06 1527.55a9.7 9.7 0 1 1 19.4 0a9.7 9.7 0 1 1 -19.4 0zM1982.06 1527.55a0.7 0.7 0 1 0 1.4 0a0.7 0.7 0 1 0 -1.4 0zM1982.99 1517.65a9.7 9.7 0 1 1 19.4 0a9.7 9.7 0 1 1 -19.4 0zM1991.99 1517.65a0.7 0.7 0 1 0 1.4 0a0.7 0.7 0 1 0 -1.4 0zM1992.92 1537.46a9.7 9.7 0 1 1 19.4 0a9.7 9.7 0 1 1 -19.4 0zM2001.92 1537.46a0.7 0.7 0 1 0 1.4 0a0.7 0.7 0 1 0 -1.4 0zM2002.85 1497.09a9.7 9.7 0 1 1 19.4 0a9.7 9.7 0 1 1 -19.4 0zM2011.85 1497.09a0.7 0.7 0 1 0 1.4 0a0.7 0.7 0 1 0 -1.4 0zM2012.78 1510.21a9.7 9.7 0 1 1 19.4 0a9.7 9.7 0 1 1 -19.4 0zM2021.78 1510.21a0.7 0.7 0 1 0 1.4 0a0.7 0.7 0 1 0 -1.4 0zM2022.71 1502.78a9.7 9.7 0 1 1 19.4 0a9.7 9.7 0 1 1 -19.4 0zM2031.71 1502.78a0.7 0.7 0 1 0 1.4 0a0.7 0.7 0 1 0 -1.4 0zM2032.64 1471.82a9.7 9.7 0 1 1 19.4 0a9.7 9.7 0 1 1 -19.4 0zM2041.64 1471.82a0.7 0.7 0 1 0 1.4 0a0.7 0.7 0 1 0 -1.4 0zM2042.57 1495.35a9.7 9.7 0 1 1 19.4 0a9.7 9.7 0 1 1 -19.4 0zM2051.57 1495.35a0.7 0.7 0 1 0 1.4 0a0.7 0.7 0 1 0 -1.4 0zM2052.5 1492.87a9.7 9.7 0 1 1 19.4 0a9.7 9.7 0 1 1 -19.4 0zM2061.5 1492.87a0.7 0.7 0 1 0 1.4 0a0.7 0.7 0 1 0 -1.4 0zM2062.43 1179.53a9.7 9.7 0 1 1 19.4 0a9.7 9.7 0 1 1 -19.4 0zM2071.43 1179.53a0.7 0.7 0 1 0 1.4 0a0.7 0.7 0 1 0 -1.4 0zM2072.36 1520.12a9.7 9.7 0 1 1 19.4 0a9.7 9.7 0 1 1 -19.4 0zM2081.36 1520.12a0.7 0.7 0 1 0 1.4 0a0.7 0.7 0 1 0 -1.4 0zM2082.29 1532.51a9.7 9.7 0 1 1 19.4 0a9.7 9.7 0 1 1 -19.4 0zM2091.29 1532.51a0.7 0.7 0 1 0 1.4 0a0.7 0.7 0 1 0 -1.4 0zM2092.22 1527.55a9.7 9.7 0 1 1 19.4 0a9.7 9.7 0 1 1 -19.4 0zM2101.22 1527.55a0.7 0.7 0 1 0 1.4 0a0.7 0.7 0 1 0 -1.4 0zM2102.15 1544.89a9.7 9.7 0 1 1 19.4 0a9.7 9.7 0 1 1 -19.4 0zM2111.15 1544.89a0.7 0.7 0 1 0 1.4 0a0.7 0.7 0 1 0 -1.4 0zM2112.08 1537.46a9.7 9.7 0 1 1 19.4 0a9.7 9.7 0 1 1 -19.4 0zM2121.08 1537.46a0.7 0.7 0 1 0 1.4 0a0.7 0.7 0 1 0 -1.4 0zM2122.01 1544.89a9.7 9.7 0 1 1 19.4 0a9.7 9.7 0 1 1 -19.4 0zM2131.01 1544.89a0.7 0.7 0 1 0 1.4 0a0.7 0.7 0 1 0 -1.4 0zM2131.94 1550.59a9.7 9.7 0 1 1 19.4 0a9.7 9.7 0 1 1 -19.4 0zM2140.94 1550.59a0.7 0.7 0 1 0 1.4 0a0.7 0.7 0 1 0 -1.4 0zM2141.87 1508.48a9.7 9.7 0 1 1 19.4 0a9.7 9.7 0 1 1 -19.4 0zM2150.87 1508.48a0.7 0.7 0 1 0 1.4 0a0.7 0.7 0 1 0 -1.4 0zM2151.8 1532.51a9.7 9.7 0 1 1 19.4 0a9.7 9.7 0 1 1 -19.4 0zM2160.8 1532.51a0.7 0.7 0 1 0 1.4 0a0.7 0.7 0 1 0 -1.4 0zM2161.73 1532.51a9.7 9.7 0 1 1 19.4 0a9.7 9.7 0 1 1 -19.4 0zM2170.73 1532.51a0.7 0.7 0 1 0 1.4 0a0.7 0.7 0 1 0 -1.4 0zM2171.66 1556.29a9.7 9.7 0 1 1 19.4 0a9.7 9.7 0 1 1 -19.4 0zM2180.66 1556.29a0.7 0.7 0 1 0 1.4 0a0.7 0.7 0 1 0 -1.4 0zM2181.59 1537.46a9.7 9.7 0 1 1 19.4 0a9.7 9.7 0 1 1 -19.4 0zM2190.59 1537.46a0.7 0.7 0 1 0 1.4 0a0.7 0.7 0 1 0 -1.4 0zM2191.52 1527.55a9.7 9.7 0 1 1 19.4 0a9.7 9.7 0 1 1 -19.4 0zM2200.52 1527.55a0.7 0.7 0 1 0 1.4 0a0.7 0.7 0 1 0 -1.4 0zM2201.45 1532.51a9.7 9.7 0 1 1 19.4 0a9.7 9.7 0 1 1 -19.4 0zM2210.45 1532.51a0.7 0.7 0 1 0 1.4 0a0.7 0.7 0 1 0 -1.4 0zM2211.38 1517.65a9.7 9.7 0 1 1 19.4 0a9.7 9.7 0 1 1 -19.4 0zM2220.38 1517.65a0.7 0.7 0 1 0 1.4 0a0.7 0.7 0 1 0 -1.4 0zM2221.31 1544.89a9.7 9.7 0 1 1 19.4 0a9.7 9.7 0 1 1 -19.4 0zM2230.31 1544.89a0.7 0.7 0 1 0 1.4 0a0.7 0.7 0 1 0 -1.4 0zM2231.24 1597.16a9.7 9.7 0 1 1 19.4 0a9.7 9.7 0 1 1 -19.4 0zM2240.24 1597.16a0.7 0.7 0 1 0 1.4 0a0.7 0.7 0 1 0 -1.4 0zM2241.17 1544.89a9.7 9.7 0 1 1 19.4 0a9.7 9.7 0 1 1 -19.4 0zM2250.17 1544.89a0.7 0.7 0 1 0 1.4 0a0.7 0.7 0 1 0 -1.4 0zM2251.1 1532.51a9.7 9.7 0 1 1 19.4 0a9.7 9.7 0 1 1 -19.4 0zM2260.1 1532.51a0.7 0.7 0 1 0 1.4 0a0.7 0.7 0 1 0 -1.4 0zM2261.03 1537.46a9.7 9.7 0 1 1 19.4 0a9.7 9.7 0 1 1 -19.4 0zM2270.03 1537.46a0.7 0.7 0 1 0 1.4 0a0.7 0.7 0 1 0 -1.4 0zM2270.96 1512.69a9.7 9.7 0 1 1 19.4 0a9.7 9.7 0 1 1 -19.4 0zM2279.96 1512.69a0.7 0.7 0 1 0 1.4 0a0.7 0.7 0 1 0 -1.4 0zM2280.89 1525.08a9.7 9.7 0 1 1 19.4 0a9.7 9.7 0 1 1 -19.4 0zM2289.89 1525.08a0.7 0.7 0 1 0 1.4 0a0.7 0.7 0 1 0 -1.4 0zM2290.82 1510.21a9.7 9.7 0 1 1 19.4 0a9.7 9.7 0 1 1 -19.4 0zM2299.82 1510.21a0.7 0.7 0 1 0 1.4 0a0.7 0.7 0 1 0 -1.4 0zM2300.75 1507.24a9.7 9.7 0 1 1 19.4 0a9.7 9.7 0 1 1 -19.4 0zM2309.75 1507.24a0.7 0.7 0 1 0 1.4 0a0.7 0.7 0 1 0 -1.4 0zM2310.68 1542.42a9.7 9.7 0 1 1 19.4 0a9.7 9.7 0 1 1 -19.4 0zM2319.68 1542.42a0.7 0.7 0 1 0 1.4 0a0.7 0.7 0 1 0 -1.4 0zM2320.61 1485.94a9.7 9.7 0 1 1 19.4 0a9.7 9.7 0 1 1 -19.4 0zM2329.61 1485.94a0.7 0.7 0 1 0 1.4 0a0.7 0.7 0 1 0 -1.4 0zM2330.54 1520.12a9.7 9.7 0 1 1 19.4 0a9.7 9.7 0 1 1 -19.4 0zM2339.54 1520.12a0.7 0.7 0 1 0 1.4 0a0.7 0.7 0 1 0 -1.4 0zM2340.47 1567.19a9.7 9.7 0 1 1 19.4 0a9.7 9.7 0 1 1 -19.4 0zM2349.47 1567.19a0.7 0.7 0 1 0 1.4 0a0.7 0.7 0 1 0 -1.4 0zM2350.4 1511.45a9.7 9.7 0 1 1 19.4 0a9.7 9.7 0 1 1 -19.4 0zM2359.4 1511.45a0.7 0.7 0 1 0 1.4 0a0.7 0.7 0 1 0 -1.4 0z" fill="#ff00ff" fill-rule="nonzero"/>
<path clip-path="url(#cd)" d="M1377 1705.9L1387 1590.7L1396.9 1594.4L1406.8 1582L1416.8 1594.4L1426.7 1606.8L1436.6 1619.2L1446.5 1631.6L1456.5 1611.8L1466.4 1594.4L1476.3 1555.8L1486.3 1567.2L1496.2 1537.5L1506.1 1582L1516 1594.4L1526 1606.8L1535.9 1614.2L1545.8 1611.8L1555.8 1609.3L1565.7 1614.7L1575.6 1601.9L1585.6 1598.4L1595.5 1582L1605.4 1577.1L1615.3 1569.7L1625.3 1594.4L1635.2 1582L1645.1 1579.6L1655.1 1594.4L1665 1599.4L1674.9 1574.6L1684.9 1592.9L1694.8 1577.1L1704.7 1547.9L1714.6 1582L1724.6 1619.2L1734.5 1601.9L1744.4 1582L1754.4 1539.4L1764.3 1569.7L1774.2 1520.1L1784.2 1468.6L1794.1 1512.7L1804 1517.6L1813.9 1506.5L1823.9 1532.5L1833.8 1542.4L1843.7 1537.5L1853.7 1525.1L1863.6 1522.6L1873.5 1537.5L1883.5 1525.1L1893.4 1496.6L1903.3 1527.6L1913.2 1537.5L1923.2 1544.9L1933.1 1567.2L1943 1544.9L1953 1527.6L1962.9 1510.7L1972.8 1522.6L1982.8 1466.1L1992.7 1500.3L2002.6 1512.7L2012.5 1537.5L2022.5 1554.8L2032.4 1564.7L2042.3 1547.4L2052.3 1544.9L2062.2 1591.2L2072.1 1177.5L2082.1 1501.3L2092 1520.1L2101.9 1501.3L2111.8 1549.8L2121.8 1522.6L2131.7 1606.8L2141.6 1592L2151.6 1557.3L2161.5 1542.4L2171.4 1500.1L2181.4 1518.4L2191.3 1492.9L2201.2 1577.3L2211.1 1544.9L2221.1 1532.5L2231 1520.1L2240.9 1515.7L2250.9 1571.6L2260.8 1605.6L2270.7 1579.6L2280.7 1591.5L2290.6 1562.2L2300.5 1552.3L2310.4 1606.8L2320.4 1594.4L2330.3 1582L2340.2 1591.5L2350.2 1575.9L2360.1 1550.6" fill="none" stroke="#a020f0" stroke-width="7.3" stroke-linejoin="round" stroke-dasharray="37 12 10 12"/>
<path d="M1367.33 1705.9a9.7 9.7 0 1 1 19.4 0a9.7 9.7 0 1 1 -19.4 0zM1376.33 1705.9a0.7 0.7 0 1 0 1.4 0a0.7 0.7 0 1 0 -1.4 0zM1377.26 1590.72a9.7 9.7 0 1 1 19.4 0a9.7 9.7 0 1 1 -19.4 0zM1386.26 1590.72a0.7 0.7 0 1 0 1.4 0a0.7 0.7 0 1 0 -1.4 0zM1387.19 1594.43a9.7 9.7 0 1 1 19.4 0a9.7 9.7 0 1 1 -19.4 0zM1396.19 1594.43a0.7 0.7 0 1 0 1.4 0a0.7 0.7 0 1 0 -1.4 0zM1397.12 1582.05a9.7 9.7 0 1 1 19.4 0a9.7 9.7 0 1 1 -19.4 0zM1406.12 1582.05a0.7 0.7 0 1 0 1.4 0a0.7 0.7 0 1 0 -1.4 0zM1407.05 1594.43a9.7 9.7 0 1 1 19.4 0a9.7 9.7 0 1 1 -19.4 0zM1416.05 1594.43a0.7 0.7 0 1 0 1.4 0a0.7 0.7 0 1 0 -1.4 0zM1416.98 1606.82a9.7 9.7 0 1 1 19.4 0a9.7 9.7 0 1 1 -19.4 0zM1425.98 1606.82a0.7 0.7 0 1 0 1.4 0a0.7 0.7 0 1 0 -1.4 0zM1426.91 1619.2a9.7 9.7 0 1 1 19.4 0a9.7 9.7 0 1 1 -19.4 0zM1435.91 1619.2a0.7 0.7 0 1 0 1.4 0a0.7 0.7 0 1 0 -1.4 0zM1436.84 1631.59a9.7 9.7 0 1 1 19.4 0a9.7 9.7 0 1 1 -19.4 0zM1445.84 1631.59a0.7 0.7 0 1 0 1.4 0a0.7 0.7 0 1 0 -1.4 0zM1446.77 1611.77a9.7 9.7 0 1 1 19.4 0a9.7 9.7 0 1 1 -19.4 0zM1455.77 1611.77a0.7 0.7 0 1 0 1.4 0a0.7 0.7 0 1 0 -1.4 0zM1456.7 1594.43a9.7 9.7 0 1 1 19.4 0a9.7 9.7 0 1 1 -19.4 0zM1465.7 1594.43a0.7 0.7 0 1 0 1.4 0a0.7 0.7 0 1 0 -1.4 0zM1466.63 1555.79a9.7 9.7 0 1 1 19.4 0a9.7 9.7 0 1 1 -19.4 0zM1475.63 1555.79a0.7 0.7 0 1 0 1.4 0a0.7 0.7 0 1 0 -1.4 0zM1476.56 1567.19a9.7 9.7 0 1 1 19.4 0a9.7 9.7 0 1 1 -19.4 0zM1485.56 1567.19a0.7 0.7 0 1 0 1.4 0a0.7 0.7 0 1 0 -1.4 0zM1486.49 1537.46a9.7 9.7 0 1 1 19.4 0a9.7 9.7 0 1 1 -19.4 0zM1495.49 1537.46a0.7 0.7 0 1 0 1.4 0a0.7 0.7 0 1 0 -1.4 0zM1496.42 1582.05a9.7 9.7 0 1 1 19.4 0a9.7 9.7 0 1 1 -19.4 0zM1505.42 1582.05a0.7 0.7 0 1 0 1.4 0a0.7 0.7 0 1 0 -1.4 0zM1506.35 1594.43a9.7 9.7 0 1 1 19.4 0a9.7 9.7 0 1 1 -19.4 0zM1515.35 1594.43a0.7 0.7 0 1 0 1.4 0a0.7 0.7 0 1 0 -1.4 0zM1516.28 1606.82a9.7 9.7 0 1 1 19.4 0a9.7 9.7 0 1 1 -19.4 0zM1525.28 1606.82a0.7 0.7 0 1 0 1.4 0a0.7 0.7 0 1 0 -1.4 0zM1526.21 1614.25a9.7 9.7 0 1 1 19.4 0a9.7 9.7 0 1 1 -19.4 0zM1535.21 1614.25a0.7 0.7 0 1 0 1.4 0a0.7 0.7 0 1 0 -1.4 0zM1536.14 1611.77a9.7 9.7 0 1 1 19.4 0a9.7 9.7 0 1 1 -19.4 0zM1545.14 1611.77a0.7 0.7 0 1 0 1.4 0a0.7 0.7 0 1 0 -1.4 0zM1546.07 1609.3a9.7 9.7 0 1 1 19.4 0a9.7 9.7 0 1 1 -19.4 0zM1555.07 1609.3a0.7 0.7 0 1 0 1.4 0a0.7 0.7 0 1 0 -1.4 0zM1556 1614.75a9.7 9.7 0 1 1 19.4 0a9.7 9.7 0 1 1 -19.4 0zM1565 1614.75a0.7 0.7 0 1 0 1.4 0a0.7 0.7 0 1 0 -1.4 0zM1565.93 1601.86a9.7 9.7 0 1 1 19.4 0a9.7 9.7 0 1 1 -19.4 0zM1574.93 1601.86a0.7 0.7 0 1 0 1.4 0a0.7 0.7 0 1 0 -1.4 0zM1575.86 1598.4a9.7 9.7 0 1 1 19.4 0a9.7 9.7 0 1 1 -19.4 0zM1584.86 1598.4a0.7 0.7 0 1 0 1.4 0a0.7 0.7 0 1 0 -1.4 0zM1585.79 1582.05a9.7 9.7 0 1 1 19.4 0a9.7 9.7 0 1 1 -19.4 0zM1594.79 1582.05a0.7 0.7 0 1 0 1.4 0a0.7 0.7 0 1 0 -1.4 0zM1595.72 1577.09a9.7 9.7 0 1 1 19.4 0a9.7 9.7 0 1 1 -19.4 0zM1604.72 1577.09a0.7 0.7 0 1 0 1.4 0a0.7 0.7 0 1 0 -1.4 0zM1605.65 1569.66a9.7 9.7 0 1 1 19.4 0a9.7 9.7 0 1 1 -19.4 0zM1614.65 1569.66a0.7 0.7 0 1 0 1.4 0a0.7 0.7 0 1 0 -1.4 0zM1615.58 1594.43a9.7 9.7 0 1 1 19.4 0a9.7 9.7 0 1 1 -19.4 0zM1624.58 1594.43a0.7 0.7 0 1 0 1.4 0a0.7 0.7 0 1 0 -1.4 0zM1625.51 1582.05a9.7 9.7 0 1 1 19.4 0a9.7 9.7 0 1 1 -19.4 0zM1634.51 1582.05a0.7 0.7 0 1 0 1.4 0a0.7 0.7 0 1 0 -1.4 0zM1635.44 1579.57a9.7 9.7 0 1 1 19.4 0a9.7 9.7 0 1 1 -19.4 0zM1644.44 1579.57a0.7 0.7 0 1 0 1.4 0a0.7 0.7 0 1 0 -1.4 0zM1645.37 1594.43a9.7 9.7 0 1 1 19.4 0a9.7 9.7 0 1 1 -19.4 0zM1654.37 1594.43a0.7 0.7 0 1 0 1.4 0a0.7 0.7 0 1 0 -1.4 0zM1655.3 1599.39a9.7 9.7 0 1 1 19.4 0a9.7 9.7 0 1 1 -19.4 0zM1664.3 1599.39a0.7 0.7 0 1 0 1.4 0a0.7 0.7 0 1 0 -1.4 0zM1665.23 1574.62a9.7 9.7 0 1 1 19.4 0a9.7 9.7 0 1 1 -19.4 0zM1674.23 1574.62a0.7 0.7 0 1 0 1.4 0a0.7 0.7 0 1 0 -1.4 0zM1675.16 1592.95a9.7 9.7 0 1 1 19.4 0a9.7 9.7 0 1 1 -19.4 0zM1684.16 1592.95a0.7 0.7 0 1 0 1.4 0a0.7 0.7 0 1 0 -1.4 0zM1685.09 1577.09a9.7 9.7 0 1 1 19.4 0a9.7 9.7 0 1 1 -19.4 0zM1694.09 1577.09a0.7 0.7 0 1 0 1.4 0a0.7 0.7 0 1 0 -1.4 0zM1695.02 1547.87a9.7 9.7 0 1 1 19.4 0a9.7 9.7 0 1 1 -19.4 0zM1704.02 1547.87a0.7 0.7 0 1 0 1.4 0a0.7 0.7 0 1 0 -1.4 0zM1704.95 1582.05a9.7 9.7 0 1 1 19.4 0a9.7 9.7 0 1 1 -19.4 0zM1713.95 1582.05a0.7 0.7 0 1 0 1.4 0a0.7 0.7 0 1 0 -1.4 0zM1714.88 1619.2a9.7 9.7 0 1 1 19.4 0a9.7 9.7 0 1 1 -19.4 0zM1723.88 1619.2a0.7 0.7 0 1 0 1.4 0a0.7 0.7 0 1 0 -1.4 0zM1724.81 1601.86a9.7 9.7 0 1 1 19.4 0a9.7 9.7 0 1 1 -19.4 0zM1733.81 1601.86a0.7 0.7 0 1 0 1.4 0a0.7 0.7 0 1 0 -1.4 0zM1734.74 1582.05a9.7 9.7 0 1 1 19.4 0a9.7 9.7 0 1 1 -19.4 0zM1743.74 1582.05a0.7 0.7 0 1 0 1.4 0a0.7 0.7 0 1 0 -1.4 0zM1744.67 1539.44a9.7 9.7 0 1 1 19.4 0a9.7 9.7 0 1 1 -19.4 0zM1753.67 1539.44a0.7 0.7 0 1 0 1.4 0a0.7 0.7 0 1 0 -1.4 0zM1754.6 1569.66a9.7 9.7 0 1 1 19.4 0a9.7 9.7 0 1 1 -19.4 0zM1763.6 1569.66a0.7 0.7 0 1 0 1.4 0a0.7 0.7 0 1 0 -1.4 0zM1764.53 1520.12a9.7 9.7 0 1 1 19.4 0a9.7 9.7 0 1 1 -19.4 0zM1773.53 1520.12a0.7 0.7 0 1 0 1.4 0a0.7 0.7 0 1 0 -1.4 0zM1774.46 1468.6a9.7 9.7 0 1 1 19.4 0a9.7 9.7 0 1 1 -19.4 0zM1783.46 1468.6a0.7 0.7 0 1 0 1.4 0a0.7 0.7 0 1 0 -1.4 0zM1784.39 1512.69a9.7 9.7 0 1 1 19.4 0a9.7 9.7 0 1 1 -19.4 0zM1793.39 1512.69a0.7 0.7 0 1 0 1.4 0a0.7 0.7 0 1 0 -1.4 0zM1794.32 1517.65a9.7 9.7 0 1 1 19.4 0a9.7 9.7 0 1 1 -19.4 0zM1803.32 1517.65a0.7 0.7 0 1 0 1.4 0a0.7 0.7 0 1 0 -1.4 0zM1804.25 1506.5a9.7 9.7 0 1 1 19.4 0a9.7 9.7 0 1 1 -19.4 0zM1813.25 1506.5a0.7 0.7 0 1 0 1.4 0a0.7 0.7 0 1 0 -1.4 0zM1814.18 1532.51a9.7 9.7 0 1 1 19.4 0a9.7 9.7 0 1 1 -19.4 0zM1823.18 1532.51a0.7 0.7 0 1 0 1.4 0a0.7 0.7 0 1 0 -1.4 0zM1824.11 1542.42a9.7 9.7 0 1 1 19.4 0a9.7 9.7 0 1 1 -19.4 0zM1833.11 1542.42a0.7 0.7 0 1 0 1.4 0a0.7 0.7 0 1 0 -1.4 0zM1834.04 1537.46a9.7 9.7 0 1 1 19.4 0a9.7 9.7 0 1 1 -19.4 0zM1843.04 1537.46a0.7 0.7 0 1 0 1.4 0a0.7 0.7 0 1 0 -1.4 0zM1843.97 1525.08a9.7 9.7 0 1 1 19.4 0a9.7 9.7 0 1 1 -19.4 0zM1852.97 1525.08a0.7 0.7 0 1 0 1.4 0a0.7 0.7 0 1 0 -1.4 0zM1853.9 1522.6a9.7 9.7 0 1 1 19.4 0a9.7 9.7 0 1 1 -19.4 0zM1862.9 1522.6a0.7 0.7 0 1 0 1.4 0a0.7 0.7 0 1 0 -1.4 0zM1863.83 1537.46a9.7 9.7 0 1 1 19.4 0a9.7 9.7 0 1 1 -19.4 0zM1872.83 1537.46a0.7 0.7 0 1 0 1.4 0a0.7 0.7 0 1 0 -1.4 0zM1873.76 1525.08a9.7 9.7 0 1 1 19.4 0a9.7 9.7 0 1 1 -19.4 0zM1882.76 1525.08a0.7 0.7 0 1 0 1.4 0a0.7 0.7 0 1 0 -1.4 0zM1883.69 1496.59a9.7 9.7 0 1 1 19.4 0a9.7 9.7 0 1 1 -19.4 0zM1892.69 1496.59a0.7 0.7 0 1 0 1.4 0a0.7 0.7 0 1 0 -1.4 0zM1893.62 1527.55a9.7 9.7 0 1 1 19.4 0a9.7 9.7 0 1 1 -19.4 0zM1902.62 1527.55a0.7 0.7 0 1 0 1.4 0a0.7 0.7 0 1 0 -1.4 0zM1903.55 1537.46a9.7 9.7 0 1 1 19.4 0a9.7 9.7 0 1 1 -19.4 0zM1912.55 1537.46a0.7 0.7 0 1 0 1.4 0a0.7 0.7 0 1 0 -1.4 0zM1913.48 1544.89a9.7 9.7 0 1 1 19.4 0a9.7 9.7 0 1 1 -19.4 0zM1922.48 1544.89a0.7 0.7 0 1 0 1.4 0a0.7 0.7 0 1 0 -1.4 0zM1923.41 1567.19a9.7 9.7 0 1 1 19.4 0a9.7 9.7 0 1 1 -19.4 0zM1932.41 1567.19a0.7 0.7 0 1 0 1.4 0a0.7 0.7 0 1 0 -1.4 0zM1933.34 1544.89a9.7 9.7 0 1 1 19.4 0a9.7 9.7 0 1 1 -19.4 0zM1942.34 1544.89a0.7 0.7 0 1 0 1.4 0a0.7 0.7 0 1 0 -1.4 0zM1943.27 1527.55a9.7 9.7 0 1 1 19.4 0a9.7 9.7 0 1 1 -19.4 0zM1952.27 1527.55a0.7 0.7 0 1 0 1.4 0a0.7 0.7 0 1 0 -1.4 0zM1953.2 1510.71a9.7 9.7 0 1 1 19.4 0a9.7 9.7 0 1 1 -19.4 0zM1962.2 1510.71a0.7 0.7 0 1 0 1.4 0a0.7 0.7 0 1 0 -1.4 0zM1963.13 1522.6a9.7 9.7 0 1 1 19.4 0a9.7 9.7 0 1 1 -19.4 0zM1972.13 1522.6a0.7 0.7 0 1 0 1.4 0a0.7 0.7 0 1 0 -1.4 0zM1973.06 1466.12a9.7 9.7 0 1 1 19.4 0a9.7 9.7 0 1 1 -19.4 0zM1982.06 1466.12a0.7 0.7 0 1 0 1.4 0a0.7 0.7 0 1 0 -1.4 0zM1982.99 1500.31a9.7 9.7 0 1 1 19.4 0a9.7 9.7 0 1 1 -19.4 0zM1991.99 1500.31a0.7 0.7 0 1 0 1.4 0a0.7 0.7 0 1 0 -1.4 0zM1992.92 1512.69a9.7 9.7 0 1 1 19.4 0a9.7 9.7 0 1 1 -19.4 0zM2001.92 1512.69a0.7 0.7 0 1 0 1.4 0a0.7 0.7 0 1 0 -1.4 0zM2002.85 1537.46a9.7 9.7 0 1 1 19.4 0a9.7 9.7 0 1 1 -19.4 0zM2011.85 1537.46a0.7 0.7 0 1 0 1.4 0a0.7 0.7 0 1 0 -1.4 0zM2012.78 1554.8a9.7 9.7 0 1 1 19.4 0a9.7 9.7 0 1 1 -19.4 0zM2021.78 1554.8a0.7 0.7 0 1 0 1.4 0a0.7 0.7 0 1 0 -1.4 0zM2022.71 1564.71a9.7 9.7 0 1 1 19.4 0a9.7 9.7 0 1 1 -19.4 0zM2031.71 1564.71a0.7 0.7 0 1 0 1.4 0a0.7 0.7 0 1 0 -1.4 0zM2032.64 1547.37a9.7 9.7 0 1 1 19.4 0a9.7 9.7 0 1 1 -19.4 0zM2041.64 1547.37a0.7 0.7 0 1 0 1.4 0a0.7 0.7 0 1 0 -1.4 0zM2042.57 1544.89a9.7 9.7 0 1 1 19.4 0a9.7 9.7 0 1 1 -19.4 0zM2051.57 1544.89a0.7 0.7 0 1 0 1.4 0a0.7 0.7 0 1 0 -1.4 0zM2052.5 1591.21a9.7 9.7 0 1 1 19.4 0a9.7 9.7 0 1 1 -19.4 0zM2061.5 1591.21a0.7 0.7 0 1 0 1.4 0a0.7 0.7 0 1 0 -1.4 0zM2062.43 1177.55a9.7 9.7 0 1 1 19.4 0a9.7 9.7 0 1 1 -19.4 0zM2071.43 1177.55a0.7 0.7 0 1 0 1.4 0a0.7 0.7 0 1 0 -1.4 0zM2072.36 1501.3a9.7 9.7 0 1 1 19.4 0a9.7 9.7 0 1 1 -19.4 0zM2081.36 1501.3a0.7 0.7 0 1 0 1.4 0a0.7 0.7 0 1 0 -1.4 0zM2082.29 1520.12a9.7 9.7 0 1 1 19.4 0a9.7 9.7 0 1 1 -19.4 0zM2091.29 1520.12a0.7 0.7 0 1 0 1.4 0a0.7 0.7 0 1 0 -1.4 0zM2092.22 1501.3a9.7 9.7 0 1 1 19.4 0a9.7 9.7 0 1 1 -19.4 0zM2101.22 1501.3a0.7 0.7 0 1 0 1.4 0a0.7 0.7 0 1 0 -1.4 0zM2102.15 1549.85a9.7 9.7 0 1 1 19.4 0a9.7 9.7 0 1 1 -19.4 0zM2111.15 1549.85a0.7 0.7 0 1 0 1.4 0a0.7 0.7 0 1 0 -1.4 0zM2112.08 1522.6a9.7 9.7 0 1 1 19.4 0a9.7 9.7 0 1 1 -19.4 0zM2121.08 1522.6a0.7 0.7 0 1 0 1.4 0a0.7 0.7 0 1 0 -1.4 0zM2122.01 1606.82a9.7 9.7 0 1 1 19.4 0a9.7 9.7 0 1 1 -19.4 0zM2131.01 1606.82a0.7 0.7 0 1 0 1.4 0a0.7 0.7 0 1 0 -1.4 0zM2131.94 1591.96a9.7 9.7 0 1 1 19.4 0a9.7 9.7 0 1 1 -19.4 0zM2140.94 1591.96a0.7 0.7 0 1 0 1.4 0a0.7 0.7 0 1 0 -1.4 0zM2141.87 1557.28a9.7 9.7 0 1 1 19.4 0a9.7 9.7 0 1 1 -19.4 0zM2150.87 1557.28a0.7 0.7 0 1 0 1.4 0a0.7 0.7 0 1 0 -1.4 0zM2151.8 1542.42a9.7 9.7 0 1 1 19.4 0a9.7 9.7 0 1 1 -19.4 0zM2160.8 1542.42a0.7 0.7 0 1 0 1.4 0a0.7 0.7 0 1 0 -1.4 0zM2161.73 1500.06a9.7 9.7 0 1 1 19.4 0a9.7 9.7 0 1 1 -19.4 0zM2170.73 1500.06a0.7 0.7 0 1 0 1.4 0a0.7 0.7 0 1 0 -1.4 0zM2171.66 1518.39a9.7 9.7 0 1 1 19.4 0a9.7 9.7 0 1 1 -19.4 0zM2180.66 1518.39a0.7 0.7 0 1 0 1.4 0a0.7 0.7 0 1 0 -1.4 0zM2181.59 1492.87a9.7 9.7 0 1 1 19.4 0a9.7 9.7 0 1 1 -19.4 0zM2190.59 1492.87a0.7 0.7 0 1 0 1.4 0a0.7 0.7 0 1 0 -1.4 0zM2191.52 1577.34a9.7 9.7 0 1 1 19.4 0a9.7 9.7 0 1 1 -19.4 0zM2200.52 1577.34a0.7 0.7 0 1 0 1.4 0a0.7 0.7 0 1 0 -1.4 0zM2201.45 1544.89a9.7 9.7 0 1 1 19.4 0a9.7 9.7 0 1 1 -19.4 0zM2210.45 1544.89a0.7 0.7 0 1 0 1.4 0a0.7 0.7 0 1 0 -1.4 0zM2211.38 1532.51a9.7 9.7 0 1 1 19.4 0a9.7 9.7 0 1 1 -19.4 0zM2220.38 1532.51a0.7 0.7 0 1 0 1.4 0a0.7 0.7 0 1 0 -1.4 0zM2221.31 1520.12a9.7 9.7 0 1 1 19.4 0a9.7 9.7 0 1 1 -19.4 0zM2230.31 1520.12a0.7 0.7 0 1 0 1.4 0a0.7 0.7 0 1 0 -1.4 0zM2231.24 1515.66a9.7 9.7 0 1 1 19.4 0a9.7 9.7 0 1 1 -19.4 0zM2240.24 1515.66a0.7 0.7 0 1 0 1.4 0a0.7 0.7 0 1 0 -1.4 0zM2241.17 1571.64a9.7 9.7 0 1 1 19.4 0a9.7 9.7 0 1 1 -19.4 0zM2250.17 1571.64a0.7 0.7 0 1 0 1.4 0a0.7 0.7 0 1 0 -1.4 0zM2251.1 1605.58a9.7 9.7 0 1 1 19.4 0a9.7 9.7 0 1 1 -19.4 0zM2260.1 1605.58a0.7 0.7 0 1 0 1.4 0a0.7 0.7 0 1 0 -1.4 0zM2261.03 1579.57a9.7 9.7 0 1 1 19.4 0a9.7 9.7 0 1 1 -19.4 0zM2270.03 1579.57a0.7 0.7 0 1 0 1.4 0a0.7 0.7 0 1 0 -1.4 0zM2270.96 1591.46a9.7 9.7 0 1 1 19.4 0a9.7 9.7 0 1 1 -19.4 0zM2279.96 1591.46a0.7 0.7 0 1 0 1.4 0a0.7 0.7 0 1 0 -1.4 0zM2280.89 1562.23a9.7 9.7 0 1 1 19.4 0a9.7 9.7 0 1 1 -19.4 0zM2289.89 1562.23a0.7 0.7 0 1 0 1.4 0a0.7 0.7 0 1 0 -1.4 0zM2290.82 1552.32a9.7 9.7 0 1 1 19.4 0a9.7 9.7 0 1 1 -19.4 0zM2299.82 1552.32a0.7 0.7 0 1 0 1.4 0a0.7 0.7 0 1 0 -1.4 0zM2300.75 1606.82a9.7 9.7 0 1 1 19.4 0a9.7 9.7 0 1 1 -19.4 0zM2309.75 1606.82a0.7 0.7 0 1 0 1.4 0a0.7 0.7 0 1 0 -1.4 0zM2310.68 1594.43a9.7 9.7 0 1 1 19.4 0a9.7 9.7 0 1 1 -19.4 0zM2319.68 1594.43a0.7 0.7 0 1 0 1.4 0a0.7 0.7 0 1 0 -1.4 0zM2320.61 1582.05a9.7 9.7 0 1 1 19.4 0a9.7 9.7 0 1 1 -19.4 0zM2329.61 1582.05a0.7 0.7 0 1 0 1.4 0a0.7 0.7 0 1 0 -1.4 0zM2330.54 1591.46a9.7 9.7 0 1 1 19.4 0a9.7 9.7 0 1 1 -19.4 0zM2339.54 1591.46a0.7 0.7 0 1 0 1.4 0a0.7 0.7 0 1 0 -1.4 0zM2340.47 1575.86a9.7 9.7 0 1 1 19.4 0a9.7 9.7 0 1 1 -19.4 0zM2349.47 1575.86a0.7 0.7 0 1 0 1.4 0a0.7 0.7 0 1 0 -1.4 0zM2350.4 1550.59a9.7 9.7 0 1 1 19.4 0a9.7 9.7 0 1 1 -19.4 0zM2359.4 1550.59a0.7 0.7 0 1 0 1.4 0a0.7 0.7 0 1 0 -1.4 0z" fill="#a020f0" fill-rule="nonzero"/>
<path clip-path="url(#cd)" d="M1377 1708.4L1387 1642.7L1396.9 1548.6L1406.8 1562.7L1416.8 1594.4L1426.7 1652.6L1436.6 1587L1446.5 1574.6L1456.5 1565.5L1466.4 1577.1L1476.3 1572.1L1486.3 1624.7L1496.2 1582L1506.1 1551.6L1516 1624.7L1526 1574.6L1535.9 1606.8L1545.8 1565.5L1555.8 1623.2L1565.7 1624.2L1575.6 1582L1585.6 1569.7L1595.5 1582L1605.4 1572.1L1615.3 1557.3L1625.3 1518.4L1635.2 1549.8L1645.1 1596.9L1655.1 1643.5L1665 1564.7L1674.9 1549.8L1684.9 1562.2L1694.8 1582L1704.7 1569.7L1714.6 1557.3L1724.6 1544.9L1734.5 1514.2L1744.4 1599.4L1754.4 1582L1764.3 1569.7L1774.2 1525.1L1784.2 1549.8L1794.1 1557.3L1804 1542.4L1813.9 1562.2L1823.9 1549.8L1833.8 1515.2L1843.7 1522.6L1853.7 1495.4L1863.6 1525.1L1873.5 1527.6L1883.5 1499.6L1893.4 1562.2L1903.3 1542.4L1913.2 1497.8L1923.2 1458.7L1933.1 1530L1943 1535L1953 1562.2L1962.9 1577.1L1972.8 1526.6L1982.8 1542.4L1992.7 1537.5L2002.6 1453.5L2012.5 1466.1L2022.5 1485.4L2032.4 1500.3L2042.3 1470.6L2052.3 1460.7L2062.2 1438.4L2072.1 1101L2082.1 1483L2092 1502.8L2101.9 1508.5L2111.8 1564.7L2121.8 1544.9L2131.7 1532.5L2141.6 1530L2151.6 1519.6L2161.5 1569.7L2171.4 1520.1L2181.4 1466.4L2191.3 1476.3L2201.2 1510.2L2211.1 1500.1L2221.1 1532.5L2231 1527.6L2240.9 1537.5L2250.9 1532.5L2260.8 1504.3L2270.7 1532.5L2280.7 1539.9L2290.6 1501.5L2300.5 1520.1L2310.4 1559.8L2320.4 1515.2L2330.3 1532.5L2340.2 1544.9L2350.2 1510L2360.1 1510" fill="none" stroke="#ff0000" stroke-width="7.3" stroke-linejoin="round"/>
<path d="M1382.4 1638.2l9.1 9.1M1382.4 1647.3l9.1 -9.1M1392.3 1544.1l9.1 9.1M1392.3 1553.2l9.1 -9.1M1402.3 1558.2l9.1 9.1M1402.3 1567.3l9.1 -9.1M1412.2 1589.9l9.1 9.1M1412.2 1599l9.1 -9.1M1422.1 1648.1l9.1 9.1M1422.1 1657.2l9.1 -9.1M1432.1 1582.5l9.1 9.1M1432.1 1591.6l9.1 -9.1M1442 1570.1l9.1 9.1M1442 1579.2l9.1 -9.1M1451.9 1560.9l9.1 9.1M1451.9 1570l9.1 -9.1M1461.8 1572.5l9.1 9.1M1461.8 1581.6l9.1 -9.1M1471.8 1567.6l9.1 9.1M1471.8 1576.7l9.1 -9.1M1481.7 1620.1l9.1 9.1M1481.7 1629.2l9.1 -9.1M1491.6 1577.5l9.1 9.1M1491.6 1586.6l9.1 -9.1M1501.6 1547l9.1 9.1M1501.6 1556.1l9.1 -9.1M1511.5 1620.1l9.1 9.1M1511.5 1629.2l9.1 -9.1M1521.4 1570.1l9.1 9.1M1521.4 1579.2l9.1 -9.1M1531.4 1602.3l9.1 9.1M1531.4 1611.4l9.1 -9.1M1541.3 1560.9l9.1 9.1M1541.3 1570l9.1 -9.1M1551.2 1618.6l9.1 9.1M1551.2 1627.7l9.1 -9.1M1561.1 1619.6l9.1 9.1M1561.1 1628.7l9.1 -9.1M1571.1 1577.5l9.1 9.1M1571.1 1586.6l9.1 -9.1M1581 1565.1l9.1 9.1M1581 1574.2l9.1 -9.1M1590.9 1577.5l9.1 9.1M1590.9 1586.6l9.1 -9.1M1600.9 1567.6l9.1 9.1M1600.9 1576.7l9.1 -9.1M1610.8 1552.7l9.1 9.1M1610.8 1561.8l9.1 -9.1M1620.7 1513.8l9.1 9.1M1620.7 1522.9l9.1 -9.1M1630.7 1545.3l9.1 9.1M1630.7 1554.4l9.1 -9.1M1640.6 1592.4l9.1 9.1M1640.6 1601.5l9.1 -9.1M1650.5 1638.9l9.1 9.1M1650.5 1648l9.1 -9.1M1660.5 1560.2l9.1 9.1M1660.5 1569.3l9.1 -9.1M1670.4 1545.3l9.1 9.1M1670.4 1554.4l9.1 -9.1M1680.3 1557.7l9.1 9.1M1680.3 1566.8l9.1 -9.1M1690.2 1577.5l9.1 9.1M1690.2 1586.6l9.1 -9.1M1700.2 1565.1l9.1 9.1M1700.2 1574.2l9.1 -9.1M1710.1 1552.7l9.1 9.1M1710.1 1561.8l9.1 -9.1M1720 1540.3l9.1 9.1M1720 1549.4l9.1 -9.1M1730 1509.6l9.1 9.1M1730 1518.7l9.1 -9.1M1739.9 1594.8l9.1 9.1M1739.9 1603.9l9.1 -9.1M1749.8 1577.5l9.1 9.1M1749.8 1586.6l9.1 -9.1M1759.8 1565.1l9.1 9.1M1759.8 1574.2l9.1 -9.1M1769.7 1520.5l9.1 9.1M1769.7 1529.6l9.1 -9.1M1779.6 1545.3l9.1 9.1M1779.6 1554.4l9.1 -9.1M1789.5 1552.7l9.1 9.1M1789.5 1561.8l9.1 -9.1M1799.5 1537.9l9.1 9.1M1799.5 1547l9.1 -9.1M1809.4 1557.7l9.1 9.1M1809.4 1566.8l9.1 -9.1M1819.3 1545.3l9.1 9.1M1819.3 1554.4l9.1 -9.1M1829.3 1510.6l9.1 9.1M1829.3 1519.7l9.1 -9.1M1839.2 1518l9.1 9.1M1839.2 1527.1l9.1 -9.1M1849.1 1490.8l9.1 9.1M1849.1 1499.9l9.1 -9.1M1859 1520.5l9.1 9.1M1859 1529.6l9.1 -9.1M1869 1523l9.1 9.1M1869 1532.1l9.1 -9.1M1878.9 1495l9.1 9.1M1878.9 1504.1l9.1 -9.1M1888.8 1557.7l9.1 9.1M1888.8 1566.8l9.1 -9.1M1898.8 1537.9l9.1 9.1M1898.8 1547l9.1 -9.1M1908.7 1493.3l9.1 9.1M1908.7 1502.4l9.1 -9.1M1918.6 1454.1l9.1 9.1M1918.6 1463.2l9.1 -9.1M1928.6 1525.5l9.1 9.1M1928.6 1534.6l9.1 -9.1M1938.5 1530.4l9.1 9.1M1938.5 1539.5l9.1 -9.1M1948.4 1557.7l9.1 9.1M1948.4 1566.8l9.1 -9.1M1958.3 1572.5l9.1 9.1M1958.3 1581.6l9.1 -9.1M1968.3 1522l9.1 9.1M1968.3 1531.1l9.1 -9.1M1978.2 1537.9l9.1 9.1M1978.2 1547l9.1 -9.1M1988.1 1532.9l9.1 9.1M1988.1 1542l9.1 -9.1M1998.1 1448.9l9.1 9.1M1998.1 1458l9.1 -9.1M2008 1461.6l9.1 9.1M2008 1470.7l9.1 -9.1M2017.9 1480.9l9.1 9.1M2017.9 1490l9.1 -9.1M2027.9 1495.8l9.1 9.1M2027.9 1504.9l9.1 -9.1M2037.8 1466l9.1 9.1M2037.8 1475.1l9.1 -9.1M2047.7 1456.1l9.1 9.1M2047.7 1465.2l9.1 -9.1M2057.6 1433.8l9.1 9.1M2057.6 1442.9l9.1 -9.1M2067.6 1096.5l9.1 9.1M2067.6 1105.6l9.1 -9.1M2077.5 1478.4l9.1 9.1M2077.5 1487.5l9.1 -9.1M2087.4 1498.2l9.1 9.1M2087.4 1507.3l9.1 -9.1M2097.4 1503.9l9.1 9.1M2097.4 1513l9.1 -9.1M2107.3 1560.2l9.1 9.1M2107.3 1569.3l9.1 -9.1M2117.2 1540.3l9.1 9.1M2117.2 1549.4l9.1 -9.1M2127.2 1528l9.1 9.1M2127.2 1537.1l9.1 -9.1M2137.1 1525.5l9.1 9.1M2137.1 1534.6l9.1 -9.1M2147 1515.1l9.1 9.1M2147 1524.2l9.1 -9.1M2156.9 1565.1l9.1 9.1M2156.9 1574.2l9.1 -9.1M2166.9 1515.6l9.1 9.1M2166.9 1524.7l9.1 -9.1M2176.8 1461.8l9.1 9.1M2176.8 1470.9l9.1 -9.1M2186.7 1471.7l9.1 9.1M2186.7 1480.8l9.1 -9.1M2196.7 1505.7l9.1 9.1M2196.7 1514.8l9.1 -9.1M2206.6 1495.5l9.1 9.1M2206.6 1504.6l9.1 -9.1M2216.5 1528l9.1 9.1M2216.5 1537.1l9.1 -9.1M2226.5 1523l9.1 9.1M2226.5 1532.1l9.1 -9.1M2236.4 1532.9l9.1 9.1M2236.4 1542l9.1 -9.1M2246.3 1528l9.1 9.1M2246.3 1537.1l9.1 -9.1M2256.2 1499.7l9.1 9.1M2256.2 1508.8l9.1 -9.1M2266.2 1528l9.1 9.1M2266.2 1537.1l9.1 -9.1M2276.1 1535.4l9.1 9.1M2276.1 1544.5l9.1 -9.1M2286 1497l9.1 9.1M2286 1506.1l9.1 -9.1M2296 1515.6l9.1 9.1M2296 1524.7l9.1 -9.1M2305.9 1555.2l9.1 9.1M2305.9 1564.3l9.1 -9.1M2315.8 1510.6l9.1 9.1M2315.8 1519.7l9.1 -9.1M2325.8 1528l9.1 9.1M2325.8 1537.1l9.1 -9.1M2335.7 1540.3l9.1 9.1M2335.7 1549.4l9.1 -9.1M2345.6 1505.4l9.1 9.1M2345.6 1514.5l9.1 -9.1M2355.5 1505.4l9.1 9.1M2355.5 1514.5l9.1 -9.1" stroke="#ff0000" stroke-width="7.2" stroke-linecap="butt" fill="none"/>
<path clip-path="url(#cd)" d="M1377 1710.9L1387 1619.2L1396.9 1584.5L1406.8 1652.6L1416.8 1554.8L1426.7 1592L1436.6 1606.8L1446.5 1621.7L1456.5 1592L1466.4 1601.9L1476.3 1614.2L1486.3 1594.4L1496.2 1548.6L1506.1 1567.2L1516 1606.8L1526 1592L1535.9 1604.3L1545.8 1609.3L1555.8 1614.2L1565.7 1619.2L1575.6 1594.4L1585.6 1539.4L1595.5 1574.6L1605.4 1587L1615.3 1622.4L1625.3 1582L1635.2 1557.3L1645.1 1527.6L1655.1 1569.7L1665 1594.4L1674.9 1582L1684.9 1574.6L1694.8 1562.2L1704.7 1553.6L1714.6 1592L1724.6 1630.8L1734.5 1574.6L1744.4 1567.2L1754.4 1582L1764.3 1622.4L1774.2 1582L1784.2 1562.7L1794.1 1505.3L1804 1544.9L1813.9 1575.4L1823.9 1557.3L1833.8 1606.3L1843.7 1506.5L1853.7 1532.5L1863.6 1557.3L1873.5 1585L1883.5 1544.9L1893.4 1520.1L1903.3 1557.3L1913.2 1609.3L1923.2 1527.6L1933.1 1526.1L1943 1552.3L1953 1574.6L1962.9 1562.2L1972.8 1557.3L1982.8 1512.7L1992.7 1471.8L2002.6 1508.5L2012.5 1537.5L2022.5 1557.3L2032.4 1577.1L2042.3 1525.1L2052.3 1508.5L2062.2 1537.5L2072.1 1136.2L2082.1 1544.9L2092 1577.1L2101.9 1552.3L2111.8 1544.9L2121.8 1537.5L2131.7 1599.4L2141.6 1563.2L2151.6 1564.7L2161.5 1512.7L2171.4 1532.5L2181.4 1552.3L2191.3 1549.8L2201.2 1542.4L2211.1 1552.3L2221.1 1557.3L2231 1554.8L2240.9 1518.4L2250.9 1529.5L2260.8 1547.4L2270.7 1562.2L2280.7 1547.4L2290.6 1532.5L2300.5 1547.4L2310.4 1505.8L2320.4 1490.4L2330.3 1525.1L2340.2 1544.9L2350.2 1559.8L2360.1 1539.4" fill="none" stroke="#ff6600" stroke-width="7.3" stroke-linejoin="round" stroke-dasharray="37 12 10 12"/>
<path d="M1382.4 1614.7l9.1 9.1M1382.4 1623.8l9.1 -9.1M1392.3 1580l9.1 9.1M1392.3 1589.1l9.1 -9.1M1402.3 1648.1l9.1 9.1M1402.3 1657.2l9.1 -9.1M1412.2 1550.3l9.1 9.1M1412.2 1559.4l9.1 -9.1M1422.1 1587.4l9.1 9.1M1422.1 1596.5l9.1 -9.1M1432.1 1602.3l9.1 9.1M1432.1 1611.4l9.1 -9.1M1442 1617.1l9.1 9.1M1442 1626.2l9.1 -9.1M1451.9 1587.4l9.1 9.1M1451.9 1596.5l9.1 -9.1M1461.8 1597.3l9.1 9.1M1461.8 1606.4l9.1 -9.1M1471.8 1609.7l9.1 9.1M1471.8 1618.8l9.1 -9.1M1481.7 1589.9l9.1 9.1M1481.7 1599l9.1 -9.1M1491.6 1544.1l9.1 9.1M1491.6 1553.2l9.1 -9.1M1501.6 1562.6l9.1 9.1M1501.6 1571.7l9.1 -9.1M1511.5 1602.3l9.1 9.1M1511.5 1611.4l9.1 -9.1M1521.4 1587.4l9.1 9.1M1521.4 1596.5l9.1 -9.1M1531.4 1599.8l9.1 9.1M1531.4 1608.9l9.1 -9.1M1541.3 1604.7l9.1 9.1M1541.3 1613.8l9.1 -9.1M1551.2 1609.7l9.1 9.1M1551.2 1618.8l9.1 -9.1M1561.1 1614.7l9.1 9.1M1561.1 1623.8l9.1 -9.1M1571.1 1589.9l9.1 9.1M1571.1 1599l9.1 -9.1M1581 1534.9l9.1 9.1M1581 1544l9.1 -9.1M1590.9 1570.1l9.1 9.1M1590.9 1579.2l9.1 -9.1M1600.9 1582.5l9.1 9.1M1600.9 1591.6l9.1 -9.1M1610.8 1617.9l9.1 9.1M1610.8 1627l9.1 -9.1M1620.7 1577.5l9.1 9.1M1620.7 1586.6l9.1 -9.1M1630.7 1552.7l9.1 9.1M1630.7 1561.8l9.1 -9.1M1640.6 1523l9.1 9.1M1640.6 1532.1l9.1 -9.1M1650.5 1565.1l9.1 9.1M1650.5 1574.2l9.1 -9.1M1660.5 1589.9l9.1 9.1M1660.5 1599l9.1 -9.1M1670.4 1577.5l9.1 9.1M1670.4 1586.6l9.1 -9.1M1680.3 1570.1l9.1 9.1M1680.3 1579.2l9.1 -9.1M1690.2 1557.7l9.1 9.1M1690.2 1566.8l9.1 -9.1M1700.2 1549l9.1 9.1M1700.2 1558.1l9.1 -9.1M1710.1 1587.4l9.1 9.1M1710.1 1596.5l9.1 -9.1M1720 1626.3l9.1 9.1M1720 1635.4l9.1 -9.1M1730 1570.1l9.1 9.1M1730 1579.2l9.1 -9.1M1739.9 1562.6l9.1 9.1M1739.9 1571.7l9.1 -9.1M1749.8 1577.5l9.1 9.1M1749.8 1586.6l9.1 -9.1M1759.8 1617.9l9.1 9.1M1759.8 1627l9.1 -9.1M1769.7 1577.5l9.1 9.1M1769.7 1586.6l9.1 -9.1M1779.6 1558.2l9.1 9.1M1779.6 1567.3l9.1 -9.1M1789.5 1500.7l9.1 9.1M1789.5 1509.8l9.1 -9.1M1799.5 1540.3l9.1 9.1M1799.5 1549.4l9.1 -9.1M1809.4 1570.8l9.1 9.1M1809.4 1579.9l9.1 -9.1M1819.3 1552.7l9.1 9.1M1819.3 1561.8l9.1 -9.1M1829.3 1601.8l9.1 9.1M1829.3 1610.9l9.1 -9.1M1839.2 1501.9l9.1 9.1M1839.2 1511l9.1 -9.1M1849.1 1528l9.1 9.1M1849.1 1537.1l9.1 -9.1M1859 1552.7l9.1 9.1M1859 1561.8l9.1 -9.1M1869 1580.5l9.1 9.1M1869 1589.6l9.1 -9.1M1878.9 1540.3l9.1 9.1M1878.9 1549.4l9.1 -9.1M1888.8 1515.6l9.1 9.1M1888.8 1524.7l9.1 -9.1M1898.8 1552.7l9.1 9.1M1898.8 1561.8l9.1 -9.1M1908.7 1604.7l9.1 9.1M1908.7 1613.8l9.1 -9.1M1918.6 1523l9.1 9.1M1918.6 1532.1l9.1 -9.1M1928.6 1521.5l9.1 9.1M1928.6 1530.6l9.1 -9.1M1938.5 1547.8l9.1 9.1M1938.5 1556.9l9.1 -9.1M1948.4 1570.1l9.1 9.1M1948.4 1579.2l9.1 -9.1M1958.3 1557.7l9.1 9.1M1958.3 1566.8l9.1 -9.1M1968.3 1552.7l9.1 9.1M1968.3 1561.8l9.1 -9.1M1978.2 1508.1l9.1 9.1M1978.2 1517.2l9.1 -9.1M1988.1 1467.3l9.1 9.1M1988.1 1476.4l9.1 -9.1M1998.1 1503.9l9.1 9.1M1998.1 1513l9.1 -9.1M2008 1532.9l9.1 9.1M2008 1542l9.1 -9.1M2017.9 1552.7l9.1 9.1M2017.9 1561.8l9.1 -9.1M2027.9 1572.5l9.1 9.1M2027.9 1581.6l9.1 -9.1M2037.8 1520.5l9.1 9.1M2037.8 1529.6l9.1 -9.1M2047.7 1503.9l9.1 9.1M2047.7 1513l9.1 -9.1M2057.6 1532.9l9.1 9.1M2057.6 1542l9.1 -9.1M2067.6 1131.6l9.1 9.1M2067.6 1140.7l9.1 -9.1M2077.5 1540.3l9.1 9.1M2077.5 1549.4l9.1 -9.1M2087.4 1572.5l9.1 9.1M2087.4 1581.6l9.1 -9.1M2097.4 1547.8l9.1 9.1M2097.4 1556.9l9.1 -9.1M2107.3 1540.3l9.1 9.1M2107.3 1549.4l9.1 -9.1M2117.2 1532.9l9.1 9.1M2117.2 1542l9.1 -9.1M2127.2 1594.8l9.1 9.1M2127.2 1603.9l9.1 -9.1M2137.1 1558.7l9.1 9.1M2137.1 1567.8l9.1 -9.1M2147 1560.2l9.1 9.1M2147 1569.3l9.1 -9.1M2156.9 1508.1l9.1 9.1M2156.9 1517.2l9.1 -9.1M2166.9 1528l9.1 9.1M2166.9 1537.1l9.1 -9.1M2176.8 1547.8l9.1 9.1M2176.8 1556.9l9.1 -9.1M2186.7 1545.3l9.1 9.1M2186.7 1554.4l9.1 -9.1M2196.7 1537.9l9.1 9.1M2196.7 1547l9.1 -9.1M2206.6 1547.8l9.1 9.1M2206.6 1556.9l9.1 -9.1M2216.5 1552.7l9.1 9.1M2216.5 1561.8l9.1 -9.1M2226.5 1550.3l9.1 9.1M2226.5 1559.4l9.1 -9.1M2236.4 1513.8l9.1 9.1M2236.4 1522.9l9.1 -9.1M2246.3 1525l9.1 9.1M2246.3 1534.1l9.1 -9.1M2256.2 1542.8l9.1 9.1M2256.2 1551.9l9.1 -9.1M2266.2 1557.7l9.1 9.1M2266.2 1566.8l9.1 -9.1M2276.1 1542.8l9.1 9.1M2276.1 1551.9l9.1 -9.1M2286 1528l9.1 9.1M2286 1537.1l9.1 -9.1M2296 1542.8l9.1 9.1M2296 1551.9l9.1 -9.1M2305.9 1501.2l9.1 9.1M2305.9 1510.3l9.1 -9.1M2315.8 1485.8l9.1 9.1M2315.8 1494.9l9.1 -9.1M2325.8 1520.5l9.1 9.1M2325.8 1529.6l9.1 -9.1M2335.7 1540.3l9.1 9.1M2335.7 1549.4l9.1 -9.1M2345.6 1555.2l9.1 9.1M2345.6 1564.3l9.1 -9.1M2355.5 1534.9l9.1 9.1M2355.5 1544l9.1 -9.1" stroke="#ff6600" stroke-width="7.2" stroke-linecap="butt" fill="none"/>
<path clip-path="url(#cd)" d="M1377 1692.5L1387 1539.9L1396.9 1569.4L1406.8 1539.9L1416.8 1569.4L1426.7 1583.5L1436.6 1613.8L1446.5 1563.2L1456.5 1622.2L1466.4 1622.2L1476.3 1590.5L1486.3 1605.3L1496.2 1650.9L1506.1 1605.3L1516 1577.8L1526 1613.8L1535.9 1584.3L1545.8 1594.4L1555.8 1605.3L1565.7 1605.1L1575.6 1570.7L1585.6 1583.5L1595.5 1539.9L1605.4 1605.1L1615.3 1528.5L1625.3 1590.5L1635.2 1561.7L1645.1 1539.9L1655.1 1562.2L1665 1583.5L1674.9 1605.1L1684.9 1551.8L1694.8 1564.5L1704.7 1605.1L1714.6 1576.4L1724.6 1613L1734.5 1544.9L1744.4 1517.4L1754.4 1605.1L1764.3 1613L1774.2 1517.6L1784.2 1512.4L1794.1 1544.9L1804 1502.8L1813.9 1550.3L1823.9 1523.8L1833.8 1576.4L1843.7 1569.4L1853.7 1569.4L1863.6 1562.2L1873.5 1556L1883.5 1576.4L1893.4 1539.9L1903.3 1507L1913.2 1597.4L1923.2 1576.4L1933.1 1557.3L1943 1539.2L1953 1556.8L1962.9 1539.7L1972.8 1550.3L1982.8 1539.7L1992.7 1550.3L2002.6 1549.8L2012.5 1563L2022.5 1549.8L2032.4 1549.8L2042.3 1497.6L2052.3 1590.2L2062.2 1537L2072.1 1075L2082.1 1557.3L2092 1517.9L2101.9 1550.3L2111.8 1640.3L2121.8 1550.8L2131.7 1576.1L2141.6 1631.1L2151.6 1590.2L2161.5 1590.2L2171.4 1563L2181.4 1535.7L2191.3 1532.8L2201.2 1569.4L2211.1 1528.5L2221.1 1563L2231 1539.9L2240.9 1557.5L2250.9 1552.6L2260.8 1576.4L2270.7 1528.5L2280.7 1569.4L2290.6 1557.5L2300.5 1545.4L2310.4 1583.5L2320.4 1576.4L2330.3 1563L2340.2 1532.8L2350.2 1544.9L2360.1 1583.5" fill="none" stroke="#0000ff" stroke-width="7.3" stroke-linejoin="round"/>
<path d="M1377.03 1677.62l12.6 22.2l-25.2 0zM1386.96 1525.04l12.6 22.2l-25.2 0zM1396.89 1554.52l12.6 22.2l-25.2 0zM1406.82 1525.04l12.6 22.2l-25.2 0zM1416.75 1554.52l12.6 22.2l-25.2 0zM1426.68 1568.63l12.6 22.2l-25.2 0zM1436.61 1598.85l12.6 22.2l-25.2 0zM1446.54 1548.32l12.6 22.2l-25.2 0zM1456.47 1607.28l12.6 22.2l-25.2 0zM1466.4 1607.28l12.6 22.2l-25.2 0zM1476.33 1575.57l12.6 22.2l-25.2 0zM1486.26 1590.43l12.6 22.2l-25.2 0zM1496.19 1636.01l12.6 22.2l-25.2 0zM1506.12 1590.43l12.6 22.2l-25.2 0zM1516.05 1562.94l12.6 22.2l-25.2 0zM1525.98 1598.85l12.6 22.2l-25.2 0zM1535.91 1569.38l12.6 22.2l-25.2 0zM1545.84 1579.53l12.6 22.2l-25.2 0zM1555.77 1590.43l12.6 22.2l-25.2 0zM1565.7 1590.18l12.6 22.2l-25.2 0zM1575.63 1555.75l12.6 22.2l-25.2 0zM1585.56 1568.63l12.6 22.2l-25.2 0zM1595.49 1525.04l12.6 22.2l-25.2 0zM1605.42 1590.18l12.6 22.2l-25.2 0zM1615.35 1513.64l12.6 22.2l-25.2 0zM1625.28 1575.57l12.6 22.2l-25.2 0zM1635.21 1546.84l12.6 22.2l-25.2 0zM1645.14 1525.04l12.6 22.2l-25.2 0zM1655.07 1547.33l12.6 22.2l-25.2 0zM1665 1568.63l12.6 22.2l-25.2 0zM1674.93 1590.18l12.6 22.2l-25.2 0zM1684.86 1536.93l12.6 22.2l-25.2 0zM1694.79 1549.56l12.6 22.2l-25.2 0zM1704.72 1590.18l12.6 22.2l-25.2 0zM1714.65 1561.45l12.6 22.2l-25.2 0zM1724.58 1598.11l12.6 22.2l-25.2 0zM1734.51 1529.99l12.6 22.2l-25.2 0zM1744.44 1502.5l12.6 22.2l-25.2 0zM1754.37 1590.18l12.6 22.2l-25.2 0zM1764.3 1598.11l12.6 22.2l-25.2 0zM1774.23 1502.75l12.6 22.2l-25.2 0zM1784.16 1497.54l12.6 22.2l-25.2 0zM1794.09 1529.99l12.6 22.2l-25.2 0zM1804.02 1487.88l12.6 22.2l-25.2 0zM1813.95 1535.44l12.6 22.2l-25.2 0zM1823.88 1508.94l12.6 22.2l-25.2 0zM1833.81 1561.45l12.6 22.2l-25.2 0zM1843.74 1554.52l12.6 22.2l-25.2 0zM1853.67 1554.52l12.6 22.2l-25.2 0zM1863.6 1547.33l12.6 22.2l-25.2 0zM1873.53 1541.14l12.6 22.2l-25.2 0zM1883.46 1561.45l12.6 22.2l-25.2 0zM1893.39 1525.04l12.6 22.2l-25.2 0zM1903.32 1492.09l12.6 22.2l-25.2 0zM1913.25 1582.51l12.6 22.2l-25.2 0zM1923.18 1561.45l12.6 22.2l-25.2 0zM1933.11 1542.38l12.6 22.2l-25.2 0zM1943.04 1524.3l12.6 22.2l-25.2 0zM1952.97 1541.88l12.6 22.2l-25.2 0zM1962.9 1524.79l12.6 22.2l-25.2 0zM1972.83 1535.44l12.6 22.2l-25.2 0zM1982.76 1524.79l12.6 22.2l-25.2 0zM1992.69 1535.44l12.6 22.2l-25.2 0zM2002.62 1534.95l12.6 22.2l-25.2 0zM2012.55 1548.07l12.6 22.2l-25.2 0zM2022.48 1534.95l12.6 22.2l-25.2 0zM2032.41 1534.95l12.6 22.2l-25.2 0zM2042.34 1482.68l12.6 22.2l-25.2 0zM2052.27 1575.32l12.6 22.2l-25.2 0zM2062.2 1522.07l12.6 22.2l-25.2 0zM2072.13 1060.1l12.6 22.2l-25.2 0zM2082.06 1542.38l12.6 22.2l-25.2 0zM2091.99 1502.99l12.6 22.2l-25.2 0zM2101.92 1535.44l12.6 22.2l-25.2 0zM2111.85 1625.36l12.6 22.2l-25.2 0zM2121.78 1535.94l12.6 22.2l-25.2 0zM2131.71 1561.2l12.6 22.2l-25.2 0zM2141.64 1616.19l12.6 22.2l-25.2 0zM2151.57 1575.32l12.6 22.2l-25.2 0zM2161.5 1575.32l12.6 22.2l-25.2 0zM2171.43 1548.07l12.6 22.2l-25.2 0zM2181.36 1520.83l12.6 22.2l-25.2 0zM2191.29 1517.86l12.6 22.2l-25.2 0zM2201.22 1554.52l12.6 22.2l-25.2 0zM2211.15 1513.64l12.6 22.2l-25.2 0zM2221.08 1548.07l12.6 22.2l-25.2 0zM2231.01 1525.04l12.6 22.2l-25.2 0zM2240.94 1542.63l12.6 22.2l-25.2 0zM2250.87 1537.67l12.6 22.2l-25.2 0zM2260.8 1561.45l12.6 22.2l-25.2 0zM2270.73 1513.64l12.6 22.2l-25.2 0zM2280.66 1554.52l12.6 22.2l-25.2 0zM2290.59 1542.63l12.6 22.2l-25.2 0zM2300.52 1530.49l12.6 22.2l-25.2 0zM2310.45 1568.63l12.6 22.2l-25.2 0zM2320.38 1561.45l12.6 22.2l-25.2 0zM2330.31 1548.07l12.6 22.2l-25.2 0zM2340.24 1517.86l12.6 22.2l-25.2 0zM2350.17 1529.99l12.6 22.2l-25.2 0zM2360.1 1568.63l12.6 22.2l-25.2 0z" fill="#0000ff" fill-rule="nonzero"/>
</g>
<g id="legend">
<rect x="871.7" y="700.1" width="792.7" height="526.1" fill="#fff" stroke="#262626" stroke-width="4.1"/>
<path d="M887.9 744.3H1067.1" stroke="#00ff00" stroke-width="7.0" fill="none"/>
<path d="M977.4 731l10.3 13.3l-10.3 13.3l-10.3 -13.3zM977.4 743.25l-0.8 1.05l0.8 1.05l0.8 -1.05z" fill="#00ff00" fill-rule="nonzero"/>
<text transform="translate(1079 766.6) scale(1 1.045)" font-size="57" fill="#000" stroke="#000" stroke-width="0.9" stroke-linejoin="round">STM<tspan font-size="72" dy="9.3" stroke-width="0.2">−</tspan><tspan dy="-9.3">CBMeMBer</tspan><tspan font-size="72" dy="9.3" stroke-width="0.2">−</tspan><tspan dy="-9.3">S1</tspan></text>
<path d="M887.9 817.4H1067.1" stroke="#7f2a2a" stroke-width="7.0" fill="none" stroke-dasharray="37 12 10 12"/>
<path d="M977.4 804.15l10.3 13.3l-10.3 13.3l-10.3 -13.3zM977.4 816.4l-0.8 1.05l0.8 1.05l0.8 -1.05z" fill="#7f2a2a" fill-rule="nonzero"/>
<text transform="translate(1079 839.7) scale(1 1.045)" font-size="57" fill="#000" stroke="#000" stroke-width="0.9" stroke-linejoin="round">STM<tspan font-size="72" dy="9.3" stroke-width="0.2">−</tspan><tspan dy="-9.3">CBMeMBer</tspan><tspan font-size="72" dy="9.3" stroke-width="0.2">−</tspan><tspan dy="-9.3">S2</tspan></text>
<path d="M887.9 890.6H1067.1" stroke="#ff00ff" stroke-width="7.0" fill="none"/>
<path d="M967.7 890.6a9.7 9.7 0 1 1 19.4 0a9.7 9.7 0 1 1 -19.4 0zM976.7 890.6a0.7 0.7 0 1 0 1.4 0a0.7 0.7 0 1 0 -1.4 0z" fill="#ff00ff" fill-rule="nonzero"/>
<text transform="translate(1079 912.9) scale(1 1.045)" font-size="57" fill="#000" stroke="#000" stroke-width="0.9" stroke-linejoin="round">STM<tspan font-size="72" dy="9.3" stroke-width="0.2">−</tspan><tspan dy="-9.3">LMB</tspan><tspan font-size="72" dy="9.3" stroke-width="0.2">−</tspan><tspan dy="-9.3">S1</tspan></text>
<path d="M887.9 963.8H1067.1" stroke="#a020f0" stroke-width="7.0" fill="none" stroke-dasharray="37 12 10 12"/>
<path d="M967.7 963.75a9.7 9.7 0 1 1 19.4 0a9.7 9.7 0 1 1 -19.4 0zM976.7 963.75a0.7 0.7 0 1 0 1.4 0a0.7 0.7 0 1 0 -1.4 0z" fill="#a020f0" fill-rule="nonzero"/>
<text transform="translate(1079 986) scale(1 1.045)" font-size="57" fill="#000" stroke="#000" stroke-width="0.9" stroke-linejoin="round">STM<tspan font-size="72" dy="9.3" stroke-width="0.2">−</tspan><tspan dy="-9.3">LMB</tspan><tspan font-size="72" dy="9.3" stroke-width="0.2">−</tspan><tspan dy="-9.3">S2</tspan></text>
<path d="M887.9 1036.9H1067.1" stroke="#ff0000" stroke-width="7.0" fill="none"/>
<path d="M972.9 1032.4l9.1 9.1M972.9 1041.5l9.1 -9.1" stroke="#ff0000" stroke-width="7.2" stroke-linecap="butt" fill="none"/>
<text transform="translate(1079 1059.2) scale(1 1.045)" font-size="57" fill="#000" stroke="#000" stroke-width="0.9" stroke-linejoin="round">STM<tspan font-size="72" dy="9.3" stroke-width="0.2">−</tspan><tspan dy="-9.3">GLMB</tspan><tspan font-size="72" dy="9.3" stroke-width="0.2">−</tspan><tspan dy="-9.3">S1</tspan></text>
<path d="M887.9 1110H1067.1" stroke="#ff6600" stroke-width="7.0" fill="none" stroke-dasharray="37 12 10 12"/>
<path d="M972.9 1105.5l9.1 9.1M972.9 1114.6l9.1 -9.1" stroke="#ff6600" stroke-width="7.2" stroke-linecap="butt" fill="none"/>
<text transform="translate(1079 1132.3) scale(1 1.045)" font-size="57" fill="#000" stroke="#000" stroke-width="0.9" stroke-linejoin="round">STM<tspan font-size="72" dy="9.3" stroke-width="0.2">−</tspan><tspan dy="-9.3">GLMB</tspan><tspan font-size="72" dy="9.3" stroke-width="0.2">−</tspan><tspan dy="-9.3">S2</tspan></text>
<path d="M887.9 1183.2H1067.1" stroke="#0000ff" stroke-width="7.0" fill="none"/>
<path d="M977.4 1168.3l12.6 22.2l-25.2 0z" fill="#0000ff" fill-rule="nonzero"/>
<text transform="translate(1079 1205.5) scale(1 1.045)" font-size="57" fill="#000" stroke="#000" stroke-width="0.9" stroke-linejoin="round">R<tspan font-size="72" dy="9.3" stroke-width="0.2">−</tspan><tspan dy="-9.3">ST</tspan><tspan font-size="72" dy="9.3" stroke-width="0.2">−</tspan><tspan dy="-9.3">PMBM</tspan></text>
</g>
</svg>
</body>
</html>
